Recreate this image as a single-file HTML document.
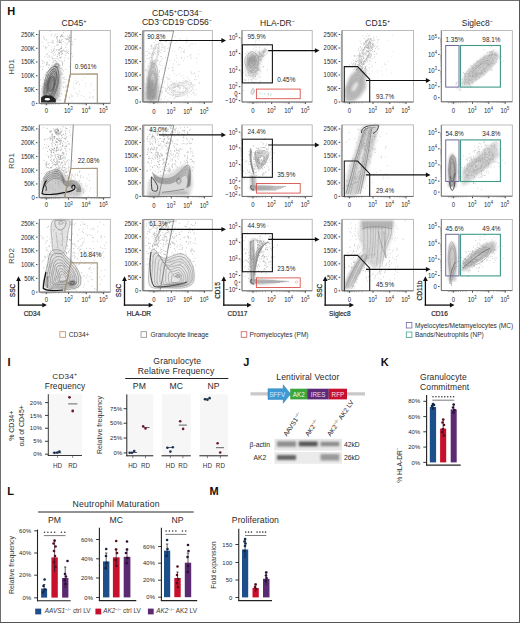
<!DOCTYPE html>
<html><head><meta charset="utf-8"><style>
html,body{margin:0;padding:0;background:#fff;}
body{width:520px;height:623px;overflow:hidden;}
svg{display:block;font-family:"Liberation Sans",sans-serif;}
</style></head><body>
<svg width="520" height="623" viewBox="0 0 520 623">
<defs><filter id="b3" x="-50%" y="-50%" width="200%" height="200%"><feGaussianBlur stdDeviation="0.3"/></filter><filter id="b6" x="-50%" y="-50%" width="200%" height="200%"><feGaussianBlur stdDeviation="0.6"/></filter><filter id="b8" x="-50%" y="-50%" width="200%" height="200%"><feGaussianBlur stdDeviation="0.8"/></filter><filter id="b9" x="-50%" y="-50%" width="200%" height="200%"><feGaussianBlur stdDeviation="0.9"/></filter><filter id="b10" x="-50%" y="-50%" width="200%" height="200%"><feGaussianBlur stdDeviation="1.0"/></filter><filter id="b12" x="-50%" y="-50%" width="200%" height="200%"><feGaussianBlur stdDeviation="1.2"/></filter><filter id="b13" x="-50%" y="-50%" width="200%" height="200%"><feGaussianBlur stdDeviation="1.3"/></filter><filter id="b14" x="-50%" y="-50%" width="200%" height="200%"><feGaussianBlur stdDeviation="1.4"/></filter><filter id="b15" x="-50%" y="-50%" width="200%" height="200%"><feGaussianBlur stdDeviation="1.5"/></filter><filter id="b16" x="-50%" y="-50%" width="200%" height="200%"><feGaussianBlur stdDeviation="1.6"/></filter><filter id="b18" x="-50%" y="-50%" width="200%" height="200%"><feGaussianBlur stdDeviation="1.8"/></filter></defs>
<rect x="0" y="0" width="520" height="623" fill="#fff"/>
<text x="7.3" y="14.9" font-size="11" text-anchor="start" fill="#111" font-weight="bold">H</text>
<text x="61.5" y="25.8" font-size="8.5" fill="#262626">CD45<tspan font-size="5.5" dy="-3.2">+</tspan></text>
<text x="177" y="15.7" font-size="8.5" fill="#262626" text-anchor="middle">CD45<tspan font-size="5.5" dy="-3.2">+</tspan><tspan dy="3.2">CD34</tspan><tspan font-size="5.5" dy="-3.2">−</tspan></text>
<text x="177" y="25.4" font-size="8.5" fill="#262626" text-anchor="middle">CD3<tspan font-size="5.5" dy="-3.2">−</tspan><tspan dy="3.2">CD19</tspan><tspan font-size="5.5" dy="-3.2">−</tspan><tspan dy="3.2">CD56</tspan><tspan font-size="5.5" dy="-3.2">−</tspan></text>
<text x="277.5" y="26.0" font-size="8.5" fill="#262626" text-anchor="middle">HLA-DR<tspan font-size="5.5" dy="-3.2">−</tspan></text>
<text x="377.8" y="26.0" font-size="8.5" fill="#262626" text-anchor="middle">CD15<tspan font-size="5.5" dy="-3.2">+</tspan></text>
<text x="477.3" y="26.0" font-size="8.5" fill="#262626" text-anchor="middle">Siglec8<tspan font-size="5.5" dy="-3.2">−</tspan></text>
<text x="14.2" y="66.9" font-size="7.9" text-anchor="middle" fill="#4a4a4a" transform="rotate(-90 14.2 66.9)">HD1</text>
<text x="14.2" y="161" font-size="7.9" text-anchor="middle" fill="#4a4a4a" transform="rotate(-90 14.2 161)">RD1</text>
<text x="14.2" y="256" font-size="7.9" text-anchor="middle" fill="#4a4a4a" transform="rotate(-90 14.2 256)">RD2</text>
<path d="M51.07 42.26h.01M60.23 36.93h.01M57 56.87h.01M43.62 66.51h.01M43.05 61.49h.01M43.96 38.17h.01M53.89 88.23h.01M45.47 47.18h.01M59.57 96.44h.01M58.16 58.97h.01M69.34 35.17h.01M66.04 51.69h.01M46.04 40.01h.01M50.64 87.5h.01M47.06 71.55h.01M59.89 57.32h.01M57.34 36.27h.01M43.67 46.01h.01M61.05 61.08h.01M50.8 71.82h.01M54.69 52.38h.01M64.24 79.53h.01M48.83 71.06h.01M56.71 91.51h.01M62.42 51.58h.01M69.44 40.03h.01M53.71 83.49h.01M46.26 65.25h.01M43.1 77.44h.01M63.41 70.97h.01M66.51 53.33h.01M61.47 72.42h.01M58.24 63.02h.01M65.52 96.24h.01M55.27 77.16h.01M43.7 79.7h.01M60.12 99.53h.01M65.01 51.35h.01M52.8 77.47h.01M42.63 63.4h.01M46.71 39.96h.01M43.65 84.24h.01M45.62 48.84h.01M52.95 91.26h.01M44.26 62.54h.01M57.38 92.07h.01M64.94 90.75h.01M49.8 60.24h.01M52.05 92.13h.01M68.82 42.26h.01M46.93 47.77h.01M48.53 64.98h.01M58.5 49.87h.01M42.11 60.49h.01M52.34 70.51h.01M68.69 78.95h.01M56.43 74h.01M60.93 35.67h.01M67.19 85.04h.01M66.49 86.26h.01M52.99 59.13h.01M44.9 75.13h.01M43.74 36.58h.01M47.85 43.04h.01M51.52 35.58h.01M42.01 42.29h.01M44.84 56.73h.01M42.71 91.45h.01M59.19 42.1h.01M49.06 55.62h.01M52.2 40.35h.01M65.77 99.53h.01M55.05 64.9h.01M44.4 38.95h.01M51.59 50h.01M65.21 42.98h.01M42.65 96.67h.01M56.79 41.97h.01M57.21 33.84h.01M56.79 98.54h.01M66.17 79.34h.01M49.31 56.94h.01M46.68 84.49h.01M56.91 84.98h.01M51.23 47.17h.01M64.72 98.97h.01M65.87 86.81h.01M64.91 82.31h.01M48.35 67.2h.01M51.96 33.97h.01" stroke="#a0a0a0" stroke-width="0.6" stroke-linecap="round" fill="none"/>
<path d="M49.84 94.63h.01M47.07 64.79h.01M60.72 36.49h.01M52.94 83.27h.01M53.31 42.72h.01M58.45 53.75h.01M56.3 49.61h.01M57.11 45.44h.01M61.93 74.5h.01M55.97 87.23h.01M54.03 89.35h.01M52.7 62.17h.01M57.14 36.58h.01M59.39 40.72h.01M52.61 80.59h.01M55.1 73.29h.01M47.64 75.23h.01M56.7 38.55h.01M62.28 65.81h.01M61.47 48.55h.01M54.18 48.58h.01M60.8 48.9h.01M53.64 79.7h.01M60.78 48.38h.01M51.07 56.77h.01M47.17 63.19h.01M65.27 55.13h.01M69.54 38.4h.01M48.97 89.83h.01M61.18 52.28h.01M47.2 89.81h.01M72 41.86h.01M50.82 69.63h.01M50.48 86.71h.01M57.43 70.16h.01M55.74 60.45h.01M62.71 36.39h.01M49.08 96.79h.01M66.37 39.44h.01M56.18 89.56h.01M46.95 92.28h.01M56.21 95.12h.01M61.77 44.03h.01M53.45 69.3h.01M47.76 89.12h.01M51.88 91.61h.01M57.78 78.13h.01M59.5 67.68h.01M49.46 95.11h.01M39.85 85.49h.01M58.17 71.78h.01M46.21 72.51h.01M59.5 42.42h.01M54.07 72.29h.01M60.84 51.87h.01M53.36 93.26h.01M48.08 83.37h.01M47.66 91.22h.01M53.38 66.39h.01M53.24 76.82h.01M60.74 68.53h.01M49.55 97.26h.01M49.85 97.86h.01M47.91 57.2h.01M53.09 41.09h.01M69.95 35.79h.01M61.18 42.85h.01M59.59 49.4h.01M60.75 41.54h.01M62.03 61.61h.01M46.81 96.33h.01M52.24 90.5h.01M52.98 53.26h.01M58.21 44.64h.01M48.09 92.18h.01M51.77 93.78h.01M69.56 37.47h.01M49.5 64.83h.01M45.65 92.89h.01M59.02 50.49h.01M51.76 78.66h.01M58.68 52.65h.01M52.82 90.05h.01M63.51 32.74h.01M63.89 36.99h.01M55.05 84.56h.01M55.7 63.89h.01M49.1 42.72h.01M57.48 39.76h.01M43.27 96.2h.01M55.38 79.4h.01M46.01 100.56h.01M68.47 53.44h.01M42.46 69.53h.01M52.21 70.51h.01M51.53 93.09h.01M50.08 80.57h.01M64.06 77.31h.01M56.65 37.27h.01M68.17 51.22h.01M60.64 57.84h.01M67.5 38.87h.01M64.33 51.34h.01M57.97 54.78h.01M54.18 91.45h.01M61.57 68.41h.01M51.07 89.69h.01M57.77 76.74h.01M68.39 41.09h.01M49.39 70.08h.01M55.33 80.43h.01M46.38 64.44h.01M55.25 84.04h.01M66.05 38.74h.01M60.56 51.53h.01M62.58 64.27h.01M57.71 42.07h.01M55.82 90.25h.01M45.81 47.08h.01M53.81 68.65h.01M57.22 37.21h.01M52.98 89.54h.01M45.41 92.63h.01M57.78 74.78h.01M57.97 67.99h.01M57.67 40.66h.01M72.41 56.21h.01M51.93 65.44h.01M69.98 40.95h.01M47.75 75.72h.01M67.35 52.65h.01M61.56 35.24h.01M62.32 53.94h.01M58.46 64.54h.01M67.21 39.42h.01M54.77 85.55h.01M57.77 70.98h.01M71.64 53.34h.01M65.12 38.36h.01M55.61 54.18h.01M51.61 99.9h.01M75.16 39.41h.01M66.11 44.95h.01M44.83 94.64h.01M52.71 74.08h.01M55.7 72.88h.01M51.32 93.48h.01M62.53 50.47h.01M70.82 63.97h.01M53.49 77.86h.01M46.24 54.68h.01M49.31 82.4h.01M68.58 39.25h.01M48.74 45.47h.01M49.54 77.16h.01M61.25 50.77h.01M44.5 98.14h.01M61.39 35.15h.01M41.92 88.88h.01M54.38 69.96h.01M62.08 53.34h.01M58.81 80.12h.01M61.75 51.07h.01M63.22 41.42h.01M60.84 74.39h.01M68.59 58.27h.01M57.2 68.96h.01M53.08 79.74h.01M50.04 31.15h.01M62.86 73.72h.01M69.26 37.9h.01M52.27 74.68h.01M44.88 80.37h.01M53.91 76.3h.01M58.86 78.07h.01M48.24 92.62h.01M61.17 57.13h.01M46.37 82.43h.01M48.15 74.23h.01M67.64 36.19h.01M59.53 52.81h.01M54.46 46.62h.01M56.17 66.44h.01M61.18 40.42h.01M51.15 73.2h.01M69.78 41.34h.01M63.53 49.93h.01M71.32 37.63h.01M55.34 34.61h.01M44.62 85.13h.01M57.94 73.83h.01M56.47 72.99h.01M53.45 90.53h.01M55.96 61.36h.01M67.56 43.39h.01M49.1 78.91h.01M50.33 69.74h.01M56.94 58.56h.01M59.06 50.15h.01M57.17 93.58h.01M44.97 93.02h.01M51.8 90.4h.01M62.79 63.75h.01M63.39 87.12h.01M59.69 53.3h.01M62.51 36.13h.01M61.58 46.34h.01M59.52 88.65h.01M65.84 47.62h.01M49.51 80.74h.01M51.7 98.16h.01M59.75 42.45h.01M42.67 86.93h.01M62.29 62.71h.01M57.93 90.71h.01M60.73 82.23h.01M52.86 76.23h.01M58.14 95.54h.01M64.84 57.93h.01M45.93 97.21h.01M52.55 57.96h.01M50.24 82.8h.01M48.08 96.78h.01M59.25 60.73h.01M55.02 58.55h.01M51.41 89.4h.01M60.7 42.46h.01M57.47 56.33h.01M47.48 53.96h.01M59.51 39.83h.01M55.38 72.09h.01M56.71 62.24h.01M45.63 82.3h.01M43.3 86.41h.01M55.1 96.44h.01M60.18 42.04h.01M56.05 50.64h.01M50.58 98.33h.01M61.43 54.35h.01M62.36 69.69h.01M40.75 79.79h.01M59.96 100.57h.01M66.88 50.69h.01M63.64 82.6h.01M52.82 58.81h.01M58.94 41.1h.01M51.96 69.38h.01M64.29 60.56h.01M53.67 90.62h.01M49.31 88.54h.01M51.32 52.41h.01M53.36 62.01h.01M61.64 48.28h.01M54.27 36.32h.01M61.42 93.92h.01M52.61 42.69h.01M59.34 93.62h.01M60.68 72.03h.01M50.36 77.9h.01M69.88 66.71h.01M45.41 95.16h.01M52.87 51.56h.01M71.04 44.69h.01M52.41 80.72h.01M42.93 96.65h.01M50.91 68.1h.01M56.32 82.77h.01M65.86 69.34h.01M49.69 93.77h.01M45.32 74.56h.01M72.84 44.2h.01M54.79 80.18h.01M56.46 72.45h.01M61.21 47.76h.01M53.26 76.68h.01M53.62 50.57h.01M56.98 44.73h.01M55.46 84.61h.01M59.8 54.05h.01M56 77.7h.01M63.07 78.09h.01M61.27 36.81h.01M62.71 34.6h.01M60.2 58.16h.01M60.08 74.93h.01M46.81 62.9h.01M45.65 87.77h.01M40.92 66.72h.01M58.59 73.31h.01M53.91 49.88h.01M53.92 55.46h.01M53.63 68.29h.01M59.49 55.56h.01M55.14 68.97h.01M44.01 83.71h.01M68.6 36.98h.01M50.06 87.53h.01M54.29 60.51h.01M47.39 62.17h.01M62.12 39.52h.01" stroke="#8a8a8a" stroke-width="0.6" stroke-linecap="round" fill="none"/>
<path d="M77.17 96.07h.01M68.79 101.61h.01M76.02 78.42h.01M73.51 86.99h.01M65.41 87.46h.01M78.04 94.46h.01M75.92 83.63h.01M71.96 95.54h.01M94.14 90.18h.01M71.79 97.04h.01M77.15 82.3h.01M69.01 96.42h.01M90.1 92.86h.01M79.54 91.05h.01M72.01 101.1h.01M75.95 92.97h.01M90.38 97.4h.01M79.51 84.36h.01M82 80.13h.01M90.85 85.87h.01M91.37 83.69h.01M76.66 83.34h.01M78.21 81.65h.01M65.08 95.04h.01M73.72 83.12h.01M74.36 88.99h.01M78.28 92.93h.01M85.44 86.06h.01M93.79 98.36h.01M66.77 97.7h.01M93.08 96.6h.01M69.35 97.78h.01M84.63 77.37h.01M65.36 100.79h.01M85.33 83.25h.01M68.15 80.57h.01M72.24 96.41h.01M75.74 80.82h.01M93.03 96.79h.01M70.21 99.28h.01M83.86 96.53h.01M85.72 99.35h.01M89.43 97.97h.01M71.12 94.32h.01M81.45 95.55h.01" stroke="#b0b0b0" stroke-width="0.56" stroke-linecap="round" fill="none"/>
<path d="M42 101 L42.5 90 L46 78 L51 68 L57 63 L60.5 70 L61 84 L59 96 L57 101 Z" fill="#8f8f8f" fill-opacity="0.7" filter="url(#b14)"/>
<path d="M57.84 85.41 L56.59 89.52 L55.16 93.16 L53.67 96.45 L52.07 99.34 L50.4 101.42 L48.78 102.3 L47.36 102.07 L46.14 101.13 L45.08 99.66 L44.25 97.49 L43.8 94.49 L43.76 90.85 L44.05 86.85 L44.62 82.6 L45.55 78.21 L46.92 74.1 L48.59 70.87 L50.33 68.78 L51.96 67.53 L53.48 66.73 L54.94 66.38 L56.28 66.82 L57.37 68.22 L58.19 70.44 L58.75 73.3 L58.98 76.85 L58.69 81.02Z" fill="none" stroke="#3a3a3a" stroke-width="0.5" stroke-opacity="1.0" stroke-linejoin="round"/>
<path d="M56.75 85.18 L55.8 88.71 L54.6 91.87 L53.29 94.54 L51.92 96.61 L50.56 97.86 L49.31 98.27 L48.19 98.15 L47.13 97.77 L46.11 97.02 L45.28 95.49 L44.85 92.99 L44.89 89.8 L45.28 86.36 L45.91 82.87 L46.74 79.43 L47.84 76.22 L49.13 73.55 L50.49 71.53 L51.84 70.06 L53.17 69.1 L54.41 68.88 L55.44 69.64 L56.18 71.25 L56.7 73.32 L57.11 75.63 L57.37 78.33 L57.29 81.58Z" fill="none" stroke="#3a3a3a" stroke-width="0.5" stroke-opacity="1.0" stroke-linejoin="round"/>
<path d="M55.19 84.85 L54.56 87.45 L53.81 90.03 L52.87 92.41 L51.79 94.32 L50.66 95.7 L49.53 96.59 L48.45 96.92 L47.52 96.45 L46.84 95.15 L46.44 93.24 L46.23 91.04 L46.18 88.62 L46.37 85.93 L46.88 83.08 L47.68 80.39 L48.63 78.05 L49.61 75.99 L50.64 74.1 L51.73 72.51 L52.85 71.51 L53.91 71.23 L54.87 71.59 L55.68 72.55 L56.25 74.21 L56.45 76.57 L56.24 79.36 L55.76 82.18Z" fill="none" stroke="#3a3a3a" stroke-width="0.5" stroke-opacity="1.0" stroke-linejoin="round"/>
<path d="M54.5 84.7 L53.97 86.84 L53.36 89 L52.61 91.13 L51.71 92.97 L50.73 94.15 L49.8 94.55 L49 94.37 L48.3 93.83 L47.71 92.92 L47.31 91.54 L47.16 89.73 L47.22 87.67 L47.42 85.51 L47.76 83.27 L48.28 81.01 L49 78.92 L49.84 77.16 L50.73 75.7 L51.64 74.42 L52.6 73.44 L53.52 73.09 L54.28 73.59 L54.79 74.82 L55.08 76.47 L55.2 78.33 L55.16 80.36 L54.92 82.52Z" fill="none" stroke="#3a3a3a" stroke-width="0.5" stroke-opacity="1.0" stroke-linejoin="round"/>
<path d="M54.2 84.64 L53.69 86.55 L53.06 88.31 L52.34 89.77 L51.59 90.78 L50.86 91.34 L50.19 91.67 L49.52 91.91 L48.86 91.93 L48.28 91.48 L47.89 90.43 L47.72 88.93 L47.73 87.19 L47.9 85.31 L48.24 83.37 L48.76 81.5 L49.4 79.85 L50.1 78.45 L50.81 77.23 L51.56 76.24 L52.3 75.68 L52.96 75.7 L53.5 76.21 L53.94 76.99 L54.32 77.94 L54.61 79.17 L54.71 80.77 L54.56 82.66Z" fill="none" stroke="#3a3a3a" stroke-width="0.5" stroke-opacity="1.0" stroke-linejoin="round"/>
<path d="M53.66 84.52 L53.3 86.15 L52.77 87.62 L52.15 88.8 L51.52 89.69 L50.91 90.31 L50.33 90.61 L49.81 90.53 L49.38 90.17 L48.99 89.66 L48.63 88.98 L48.36 88.02 L48.28 86.69 L48.43 85.1 L48.76 83.48 L49.2 81.95 L49.7 80.54 L50.27 79.29 L50.88 78.33 L51.49 77.72 L52.07 77.4 L52.62 77.3 L53.13 77.47 L53.54 78.03 L53.79 78.98 L53.89 80.19 L53.9 81.51 L53.85 82.95Z" fill="none" stroke="#3a3a3a" stroke-width="0.5" stroke-opacity="1.0" stroke-linejoin="round"/>
<ellipse cx="50.5" cy="84" rx="2.2" ry="8" fill="#555" fill-opacity="0.6" transform="rotate(12 50.5 84)" filter="url(#b12)"/>
<path d="M59.81 65.5 L59.7 65.97 L59.44 66.4 L59.07 66.77 L58.62 67.06 L58.09 67.25 L57.54 67.32 L57 67.32 L56.46 67.31 L55.9 67.26 L55.33 67.11 L54.86 66.81 L54.56 66.4 L54.4 65.96 L54.35 65.5 L54.4 65.04 L54.59 64.61 L54.95 64.24 L55.4 63.96 L55.9 63.74 L56.43 63.58 L57 63.52 L57.57 63.59 L58.07 63.78 L58.52 64.03 L58.96 64.3 L59.37 64.62 L59.69 65.03Z" fill="none" stroke="#555" stroke-width="0.4" stroke-opacity="1.0" stroke-linejoin="round"/>
<path d="M58.43 65.5 L58.41 65.75 L58.35 66 L58.2 66.24 L57.97 66.44 L57.68 66.59 L57.35 66.69 L57 66.75 L56.64 66.73 L56.3 66.62 L56.02 66.44 L55.79 66.24 L55.59 66.02 L55.45 65.77 L55.42 65.5 L55.51 65.24 L55.68 65.01 L55.87 64.81 L56.08 64.61 L56.33 64.44 L56.65 64.32 L57 64.27 L57.36 64.28 L57.72 64.35 L58.05 64.49 L58.29 64.71 L58.42 64.97 L58.44 65.25Z" fill="none" stroke="#555" stroke-width="0.4" stroke-opacity="1.0" stroke-linejoin="round"/>
<path d="M41 102.6 L41.2 97.2 L45 95.2 L51.5 95.6 L55.8 99 L55.8 102.6 Z" fill="#1a1a1a" fill-opacity="0.95" filter="url(#b6)"/>
<ellipse cx="47.3" cy="99.2" rx="2.8" ry="1.2" fill="#fff" fill-opacity="1.0" transform="rotate(0 47.3 99.2)" filter="url(#b3)"/>
<path d="M156.17 73.96h.01M154.17 91.93h.01M157.61 70.75h.01M158.53 48.33h.01M147.96 72.03h.01M150.89 74.45h.01M154.01 60.31h.01M151.3 46.72h.01M146.28 70.43h.01M154.76 64.64h.01M148.87 77.68h.01M149.68 74.35h.01M156.24 49.04h.01M151.92 83.82h.01M154.77 60.4h.01M156.04 63.53h.01M147.43 97.09h.01M153.24 81.97h.01M151.12 44.92h.01M145.37 61.36h.01M149.45 58.16h.01M159.24 72.52h.01M158.92 91.26h.01M151.3 75.69h.01M155.23 65.33h.01M153.39 72.14h.01M150.21 98.23h.01M160.27 65.31h.01M149.32 71.36h.01M156.05 61.5h.01M157.39 61.14h.01M152.42 96.75h.01M153.05 84.76h.01M150.32 98.28h.01M145.38 93.1h.01M156.02 74.49h.01M151.47 99.34h.01M159.26 51.15h.01M153.49 48.15h.01M149 77.29h.01M152.76 53.28h.01M152.11 62.55h.01M145.93 51.63h.01M156.87 97.45h.01M153.87 63.03h.01M154.35 64.68h.01M150.68 57.15h.01M155.87 51.44h.01M159.48 62.9h.01M152.81 98.86h.01M150.29 81.45h.01M157.53 60.53h.01M158.84 54.3h.01M158.74 43.56h.01M148.38 89.23h.01M154.31 53.06h.01M144.06 84.19h.01M151.86 45.81h.01M151.64 90.02h.01M149.17 77.2h.01M152.2 97.28h.01M145.6 94.09h.01M157.06 79.7h.01M158.62 97.19h.01M153.22 83.1h.01M155.23 44.18h.01M150.8 98.38h.01M156.57 96.35h.01M154.01 42.63h.01M153.43 64.86h.01M151.74 63.74h.01M152.6 61.17h.01M165.29 41.66h.01M149.73 86.05h.01M147.64 94.93h.01M156.12 62.56h.01M161.19 43.23h.01M154.07 64.11h.01M153.63 92.9h.01M157.38 87.95h.01M155.33 88.96h.01M158.3 87.97h.01M154.61 74.61h.01M152.23 47.98h.01M159.35 71.46h.01M158.6 86.63h.01M155.4 48.92h.01M153.25 90.19h.01M154.85 73.1h.01M152.91 94.69h.01M147.85 87.13h.01M154.71 88.88h.01M156.61 44.99h.01M162.76 45.9h.01M161.58 99.02h.01M159.01 91.55h.01M153.92 73.4h.01M156.55 66.12h.01M146.72 87.85h.01M151.65 63.63h.01M160.85 56.57h.01M158.62 86.82h.01M155.04 96h.01M157.9 52.4h.01M155.32 70.8h.01M152.89 89.61h.01M159.14 64.66h.01M151.71 72.58h.01M148.59 49.1h.01M152.87 79.19h.01M145.77 69.52h.01M164.44 68.87h.01M153.98 96.29h.01M157.06 98.75h.01M153.97 63.43h.01M162.77 58.38h.01M149.2 92.56h.01M156.3 84.55h.01M160.95 49.97h.01M161.03 56.67h.01M152.87 73.39h.01M158.73 76.4h.01M152.28 81.47h.01M160.61 52.56h.01M155.78 68.12h.01M148.57 83.6h.01M153.62 96.78h.01M159.96 99.86h.01M146.94 58.81h.01M161.97 47.27h.01M155.68 83.45h.01M156.17 60.03h.01M155.89 84.75h.01M152.88 71.85h.01M154.62 91.95h.01M155.47 86.36h.01M151.26 48.77h.01M151.74 57.54h.01M151.68 62.95h.01M155.57 70.59h.01M148.46 98.95h.01M157.99 74.46h.01M152.38 84.52h.01M157.86 74.36h.01M152.9 74.06h.01M165.5 57.52h.01M149.27 79.92h.01M148.29 66.39h.01M149.34 53.08h.01M143.73 91.47h.01M151.06 55.2h.01M152.88 72.43h.01M152.53 61.4h.01M153.16 83.55h.01M152.3 77.47h.01M150.47 73.93h.01M146.71 93.15h.01M158.67 79.11h.01M159.1 42.74h.01M149.7 96.57h.01M155.74 46.3h.01M153.58 67.86h.01M149.61 79.95h.01M153.27 68.98h.01M148.24 77.75h.01M145.66 70.74h.01M155.64 40.27h.01M153.01 80.4h.01M161.87 69.04h.01M151.38 39.12h.01" stroke="#aaaaaa" stroke-width="0.6" stroke-linecap="round" fill="none"/>
<path d="M153.6 54.27h.01M173.14 67.81h.01M155.35 47.49h.01M179.66 74h.01M164.43 98.61h.01M180.01 38.67h.01M167.63 85.62h.01M161.87 79.51h.01M145.22 55.18h.01M191.32 72.93h.01M181.75 48.39h.01M172.38 70.85h.01M159.63 76.75h.01M174.23 98.82h.01M176.6 61.9h.01M151.68 45.88h.01M186.77 42.72h.01M150.51 46.74h.01M173.74 87.86h.01M178.72 86.82h.01M148.42 36.79h.01M187.38 56.34h.01M184.35 58.29h.01M154.32 52.8h.01M150.47 92.94h.01M177.02 57.98h.01M169.74 60.3h.01M148.01 92.1h.01M177.05 96.46h.01M169.18 75.07h.01M158.71 38.77h.01M196.2 89.85h.01M162.31 92.63h.01M189.87 55.13h.01M178.14 96.48h.01M172.26 95.83h.01M158.36 60.56h.01M184.52 49.95h.01M162 91.14h.01M171.64 85.94h.01M158.39 46.93h.01M164.71 47.75h.01M198.44 54.31h.01M175.88 43.24h.01M174.36 60.29h.01M167.18 40.12h.01M151.78 88.03h.01M164.32 51.43h.01M155.52 53.87h.01M158.04 38.2h.01M181.54 57.51h.01M153.57 80.47h.01M150.09 52.99h.01M190.93 44.05h.01M169.38 88.69h.01M189.27 46.03h.01M164.41 81.52h.01M165.73 96.38h.01M156.44 95.91h.01M172.77 50.32h.01M169.9 44.25h.01M183.86 52.43h.01M194.48 73.02h.01M165.24 51.51h.01M178.45 49.39h.01M192.98 43.74h.01M173.22 70.18h.01M159.87 84.62h.01M166.16 77.42h.01M176.22 55.58h.01M166.45 41.42h.01M154.74 89.61h.01M162.66 77.75h.01M150.99 71.41h.01M164.88 67.52h.01M161.33 40.15h.01M162.12 50.26h.01M151.94 81.15h.01M160.53 61.41h.01M194.99 84.82h.01M193.55 90.26h.01M152.27 53.42h.01M146.63 78.82h.01M181.5 58.14h.01M167.69 77.52h.01M183.46 51.65h.01M191.57 58.18h.01M179.59 47.44h.01M151.34 93.5h.01M185.37 80.89h.01M147.22 38.52h.01M153.91 48.48h.01M161.67 59.99h.01M147.16 55.59h.01M180.11 47.32h.01M191.17 71.92h.01M184.41 52.05h.01M168.92 79.11h.01M164.2 36.06h.01M190.89 84.92h.01M160.75 38.71h.01M191.98 74.27h.01M147.6 51.4h.01M151.12 85.86h.01M156.56 93.61h.01M186.22 41.43h.01M183.21 60.8h.01M186.12 88.21h.01M160.46 41.67h.01M197.05 62.71h.01M196.16 79.57h.01M185.62 88.29h.01M179.55 64.53h.01M147.99 79.99h.01M168.56 68.25h.01M196.05 44.04h.01M186.91 38.75h.01M183.65 86.76h.01M159.37 70.42h.01M198.32 76.16h.01M174.92 51.73h.01M148.27 58.54h.01M167.64 48.69h.01M162.08 44.6h.01M183.88 78.23h.01M158.08 51.23h.01M173.35 64.04h.01M196.47 58.14h.01M161.47 91.74h.01M152.8 71.49h.01M163.35 87.37h.01M175.15 83.91h.01M154.31 77.99h.01M177.93 65.05h.01M187.14 88.36h.01M151.3 54.23h.01M164.83 49.01h.01M148.32 53.7h.01M155.84 80.2h.01M169.64 43.12h.01M162.85 65.53h.01M164.96 46.59h.01M148.95 36.68h.01M199.57 83.28h.01M149.62 81.18h.01M198.91 71.51h.01M150.98 66.8h.01M168.88 47.96h.01M174.87 36.52h.01M195.58 76.6h.01M179.53 94.92h.01M180.89 51.84h.01M158.53 44.74h.01M146.52 84.79h.01M191.18 54.67h.01M155.22 76.2h.01M191.51 94.38h.01M154.27 85.43h.01M190.67 82.77h.01M162.97 47.63h.01M190.39 56.17h.01M165.27 70.72h.01M165.31 88.38h.01M158.17 38.6h.01M176.18 75.58h.01M190.09 80.45h.01M194.79 95.53h.01M172.19 67.47h.01M153.66 54.87h.01M176.96 41.05h.01" stroke="#a8a8a8" stroke-width="0.56" stroke-linecap="round" fill="none"/>
<path d="M145 101 L146 85 L148 70 L151 60 L155 62 L158 78 L160 92 L159 101 Z" fill="#b5b5b5" fill-opacity="0.7" filter="url(#b14)"/>
<path d="M146 100 L147 86 L150 78 L154 82 L156 96 L155 100 Z" fill="#666" fill-opacity="0.45" filter="url(#b14)"/>
<path d="M157.25 82.33 L156.92 86.02 L156.46 89.78 L155.73 93.32 L154.75 96.23 L153.62 98.41 L152.43 99.95 L151.19 100.71 L150 100.28 L149.01 98.54 L148.26 95.89 L147.7 92.83 L147.26 89.49 L147.06 85.71 L147.24 81.63 L147.81 77.73 L148.61 74.35 L149.46 71.34 L150.37 68.48 L151.4 65.95 L152.57 64.22 L153.79 63.55 L154.98 63.8 L156.11 64.91 L157.05 67.08 L157.64 70.42 L157.76 74.47 L157.56 78.55Z" fill="none" stroke="#888" stroke-width="0.4" stroke-opacity="1.0" stroke-linejoin="round"/>
<path d="M156.35 82.27 L156.06 85.24 L155.71 88.3 L155.19 91.44 L154.43 94.24 L153.47 96.09 L152.44 96.76 L151.48 96.58 L150.6 95.94 L149.79 94.83 L149.13 93.04 L148.7 90.58 L148.48 87.76 L148.4 84.8 L148.45 81.72 L148.71 78.55 L149.23 75.57 L149.94 73.04 L150.74 70.88 L151.6 68.89 L152.56 67.23 L153.59 66.47 L154.55 67.01 L155.31 68.7 L155.86 70.99 L156.25 73.53 L156.49 76.3 L156.51 79.26Z" fill="none" stroke="#888" stroke-width="0.4" stroke-opacity="1.0" stroke-linejoin="round"/>
<path d="M156 82.24 L155.69 84.9 L155.23 87.37 L154.62 89.43 L153.9 90.85 L153.16 91.64 L152.46 92.15 L151.76 92.64 L151.01 92.93 L150.27 92.55 L149.67 91.27 L149.26 89.3 L149.03 86.96 L148.95 84.42 L149.06 81.76 L149.39 79.17 L149.89 76.87 L150.48 74.91 L151.11 73.17 L151.79 71.67 L152.54 70.76 L153.29 70.69 L153.96 71.31 L154.56 72.26 L155.13 73.39 L155.65 74.89 L156.02 76.97 L156.13 79.53Z" fill="none" stroke="#888" stroke-width="0.4" stroke-opacity="1.0" stroke-linejoin="round"/>
<path d="M155.31 82.2 L155.14 84.4 L154.75 86.43 L154.23 88.06 L153.65 89.29 L153.06 90.18 L152.47 90.64 L151.9 90.6 L151.38 90.19 L150.89 89.63 L150.39 88.91 L149.93 87.8 L149.63 86.11 L149.57 84 L149.73 81.81 L150.01 79.74 L150.37 77.81 L150.81 76.09 L151.35 74.74 L151.94 73.87 L152.53 73.37 L153.12 73.12 L153.7 73.2 L154.23 73.82 L154.63 75.03 L154.9 76.58 L155.11 78.27 L155.26 80.11Z" fill="none" stroke="#888" stroke-width="0.4" stroke-opacity="1.0" stroke-linejoin="round"/>
<path d="M158.15 55.67 L157.34 58.27 L156.45 60.27 L155.64 61.74 L154.9 63.21 L154.11 64.91 L153.25 66.42 L152.42 67.13 L151.77 66.85 L151.29 65.87 L150.96 64.39 L150.85 62.37 L151.05 59.8 L151.55 57.02 L152.18 54.4 L152.81 51.94 L153.48 49.48 L154.26 47.18 L155.12 45.51 L155.93 44.69 L156.64 44.35 L157.32 44.06 L158.03 43.88 L158.65 44.31 L159.03 45.63 L159.12 47.68 L159.01 50.12 L158.71 52.83Z" fill="none" stroke="#999" stroke-width="0.35" stroke-opacity="1.0" stroke-linejoin="round"/>
<path d="M157 55.42 L156.45 57.03 L155.96 58.48 L155.47 59.93 L154.92 61.26 L154.34 62.31 L153.76 63.07 L153.17 63.6 L152.62 63.73 L152.22 63.14 L152.1 61.74 L152.24 59.89 L152.5 58.04 L152.75 56.32 L153.02 54.58 L153.42 52.79 L153.94 51.14 L154.51 49.8 L155.08 48.66 L155.66 47.62 L156.25 46.86 L156.78 46.63 L157.19 46.98 L157.51 47.66 L157.78 48.54 L157.95 49.77 L157.89 51.49 L157.53 53.52Z" fill="none" stroke="#999" stroke-width="0.35" stroke-opacity="1.0" stroke-linejoin="round"/>
<path d="M192.85 87.88 L192.35 89.43 L191.25 90.89 L189.58 92.16 L187.69 93.27 L185.73 94.37 L183.45 95.49 L180.64 96.3 L177.58 96.46 L174.78 95.98 L172.38 95.18 L170.15 94.29 L168.09 93.23 L166.66 91.84 L166.37 90.19 L167.11 88.55 L168.39 87.05 L169.93 85.68 L171.86 84.48 L174.25 83.6 L176.85 83.06 L179.45 82.66 L182.21 82.2 L185.35 81.86 L188.56 82.06 L191.1 83.04 L192.48 84.57 L192.92 86.25Z" fill="none" stroke="#aaa" stroke-width="0.35" stroke-opacity="1.0" stroke-linejoin="round"/>
<path d="M189.58 88.16 L189.05 89.32 L188.58 90.44 L187.81 91.57 L186.46 92.59 L184.65 93.36 L182.63 93.95 L180.47 94.43 L178.16 94.69 L175.85 94.54 L173.87 93.97 L172.29 93.14 L170.91 92.22 L169.73 91.18 L169.14 89.95 L169.56 88.63 L170.9 87.47 L172.56 86.55 L174.12 85.74 L175.65 84.92 L177.44 84.18 L179.53 83.68 L181.8 83.45 L184.16 83.44 L186.55 83.69 L188.63 84.37 L189.87 85.5 L190.05 86.86Z" fill="none" stroke="#aaa" stroke-width="0.35" stroke-opacity="1.0" stroke-linejoin="round"/>
<path d="M187.93 88.31 L187.76 89.27 L187.44 90.25 L186.67 91.2 L185.34 91.96 L183.68 92.45 L181.99 92.75 L180.35 92.95 L178.69 93.04 L177.07 92.91 L175.62 92.55 L174.29 92.07 L172.96 91.5 L171.71 90.76 L170.99 89.79 L171.21 88.69 L172.29 87.7 L173.73 86.93 L175.15 86.31 L176.55 85.76 L178.05 85.33 L179.66 85.1 L181.29 85.03 L182.97 85.03 L184.75 85.15 L186.4 85.56 L187.53 86.33 L187.96 87.31Z" fill="none" stroke="#aaa" stroke-width="0.35" stroke-opacity="1.0" stroke-linejoin="round"/>
<path d="M186.02 88.47 L186.05 89.21 L185.97 90 L185.49 90.81 L184.47 91.48 L183.08 91.9 L181.64 92.08 L180.27 92.14 L178.99 92.11 L177.8 91.94 L176.76 91.63 L175.83 91.24 L174.85 90.83 L173.85 90.31 L173.15 89.6 L173.12 88.76 L173.79 87.96 L174.85 87.3 L175.98 86.77 L177.13 86.31 L178.39 85.97 L179.72 85.83 L181.01 85.87 L182.25 86 L183.48 86.18 L184.64 86.51 L185.49 87.05 L185.9 87.74Z" fill="none" stroke="#aaa" stroke-width="0.35" stroke-opacity="1.0" stroke-linejoin="round"/>
<path d="M175.29 85.03h.01M154.22 96.94h.01M180.52 88.57h.01M172.22 90.28h.01M177.81 87.58h.01M187.14 76.69h.01M179.54 81.58h.01M176.18 96.98h.01M167.61 88.88h.01M173.13 94.21h.01M167.33 79.71h.01M182.6 85.29h.01M175.83 94.59h.01M169.26 87.06h.01M179.74 90.16h.01M173.92 94.6h.01M198.99 82.67h.01M194.09 73.46h.01M191.1 84.16h.01M179.03 85.88h.01M170.92 81.56h.01M175.29 95.92h.01M188.56 84.49h.01M172.42 84.7h.01M168.04 99.9h.01M184.4 87.78h.01M172.51 82.82h.01M191.15 90.7h.01M169.74 94.92h.01M167.99 93.14h.01M168.53 86.92h.01M183.05 89.8h.01M186.95 81.87h.01M194.09 93.56h.01M178.28 90.67h.01M170.48 88.17h.01M165.52 90.27h.01M180.97 95.4h.01M187.66 91.38h.01M174.38 87.2h.01M174.94 89.72h.01M160.27 94.98h.01M162.69 87.15h.01M177.8 85.04h.01M193.73 85.22h.01M193.88 92.6h.01M173.6 90.95h.01M190.08 84.37h.01M178.39 84.7h.01M178.27 85.9h.01M179.59 93.6h.01M191.35 86.9h.01M180.61 92.61h.01M174.39 82.35h.01M187.81 81.18h.01M186.07 81.25h.01M194.56 79.6h.01M187.27 95.42h.01M170.05 97.76h.01M168.76 79.04h.01M185.42 91.04h.01M174.05 73.87h.01M177.23 86.33h.01M174.16 86.85h.01M160.53 87.16h.01M196.35 94.42h.01M173.99 84.42h.01M182.62 93.53h.01M183.94 80.37h.01M179.65 88.58h.01M192.63 92.9h.01M183.95 94.24h.01M175.48 97.3h.01M174.27 90.83h.01M186 81.56h.01M169.92 78.91h.01M179.52 87.47h.01M175.29 91.28h.01M157.86 90.69h.01M178.62 86.37h.01M186.95 96.93h.01M173.01 83.24h.01M172.33 89.34h.01M182.88 82.31h.01M186.68 80.82h.01M186.21 89.33h.01M184.14 99.69h.01M175.36 87.41h.01M183.22 92.29h.01M165.5 91.36h.01M171.46 92.59h.01M191.06 86.46h.01M177.13 89.19h.01M150.52 96.34h.01M183.47 88.19h.01M173.65 84.36h.01M177.27 95.16h.01M178.11 95.82h.01M153.18 88.81h.01M180.6 87.56h.01M161.69 86.43h.01M188.85 78.96h.01M167.7 83.07h.01M173.27 92.4h.01M182.02 75.63h.01M191.4 82.67h.01M173.74 98.3h.01M176.23 81.04h.01M171.34 84.71h.01M168.14 87.45h.01" stroke="#b0b0b0" stroke-width="0.56" stroke-linecap="round" fill="none"/>
<path d="M245 66 C245 55 250 52 255 53 C262 52 265 48 267 49 C264 56 260 62 259 70 C258 76 254 79 250 77 C246 74 245 70 245 66 Z" fill="#b8b8b8" fill-opacity="0.6" filter="url(#b14)"/>
<path d="M258.5 62 L258.36 64.46 L258.06 66.94 L257.41 69.3 L256.3 71.13 L254.89 72.14 L253.41 72.46 L252 72.4 L250.64 72.07 L249.35 71.3 L248.21 70.04 L247.22 68.45 L246.27 66.67 L245.38 64.56 L244.83 62 L244.93 59.27 L245.69 56.86 L246.83 55.02 L248.05 53.62 L249.29 52.48 L250.61 51.72 L252 51.54 L253.36 51.91 L254.68 52.59 L255.98 53.55 L257.19 54.99 L258.08 57.05 L258.48 59.5Z" fill="none" stroke="#777" stroke-width="0.4" stroke-opacity="1.0" stroke-linejoin="round"/>
<path d="M257.28 62 L257.42 64.09 L257.06 66.12 L256.28 67.78 L255.31 69.02 L254.28 70.01 L253.18 70.73 L252 70.95 L250.85 70.54 L249.81 69.68 L248.89 68.6 L248.05 67.33 L247.4 65.75 L247.07 63.91 L247.04 62 L247.17 60.14 L247.36 58.22 L247.72 56.22 L248.44 54.44 L249.52 53.28 L250.77 52.9 L252 53.07 L253.14 53.57 L254.17 54.39 L255.03 55.57 L255.7 57.01 L256.25 58.53 L256.81 60.14Z" fill="none" stroke="#777" stroke-width="0.4" stroke-opacity="1.0" stroke-linejoin="round"/>
<path d="M255.94 62 L256.14 63.6 L256.05 65.3 L255.55 66.79 L254.77 67.88 L253.88 68.59 L252.95 69.02 L252 69.12 L251.08 68.79 L250.27 68.07 L249.57 67.16 L248.91 66.16 L248.32 65 L247.92 63.58 L247.84 62 L248.04 60.47 L248.36 59.04 L248.75 57.61 L249.28 56.23 L250.05 55.16 L251.01 54.64 L252 54.66 L252.94 55.04 L253.79 55.69 L254.52 56.65 L255.04 57.9 L255.37 59.25 L255.64 60.59Z" fill="none" stroke="#777" stroke-width="0.4" stroke-opacity="1.0" stroke-linejoin="round"/>
<path d="M255.11 62 L255.08 63.19 L254.87 64.34 L254.55 65.44 L254.12 66.49 L253.53 67.39 L252.8 67.9 L252 67.91 L251.25 67.54 L250.57 67.02 L249.92 66.42 L249.34 65.6 L248.94 64.5 L248.79 63.24 L248.84 62 L248.97 60.83 L249.16 59.69 L249.49 58.61 L249.97 57.69 L250.57 56.98 L251.25 56.41 L252 55.99 L252.82 55.92 L253.6 56.39 L254.18 57.37 L254.54 58.57 L254.78 59.73 L254.98 60.85Z" fill="none" stroke="#777" stroke-width="0.4" stroke-opacity="1.0" stroke-linejoin="round"/>
<path d="M254.68 62 L254.67 63.03 L254.5 64.04 L254.12 64.87 L253.61 65.41 L253.07 65.75 L252.54 66.02 L252 66.23 L251.43 66.26 L250.85 66.03 L250.32 65.57 L249.81 64.95 L249.38 64.14 L249.12 63.11 L249.13 62 L249.38 60.99 L249.74 60.16 L250.1 59.43 L250.46 58.73 L250.9 58.12 L251.42 57.73 L252 57.6 L252.59 57.64 L253.18 57.85 L253.74 58.3 L254.19 59.05 L254.46 59.99 L254.6 60.99Z" fill="none" stroke="#777" stroke-width="0.4" stroke-opacity="1.0" stroke-linejoin="round"/>
<ellipse cx="251.8" cy="61" rx="2.4" ry="4.2" fill="#777" fill-opacity="0.6" transform="rotate(0 251.8 61)" filter="url(#b13)"/>
<path d="M256.62 67.71h.01M248.15 64.16h.01M252.01 70.51h.01M250.76 67.61h.01M262.81 66.57h.01M247.39 65.89h.01M249.76 60.18h.01M253.38 67.02h.01M250.38 70.98h.01M254.05 52.74h.01M257.7 61.63h.01M259.72 59.44h.01M255.23 67.16h.01M245.6 75.04h.01M242.7 70.2h.01M257.42 69.12h.01M256.93 60.34h.01M252.61 65.9h.01M253.93 70.37h.01M253.08 57.86h.01M249.72 67.03h.01M247.03 51.95h.01M251.88 58.95h.01M255.72 41.12h.01M251.76 61.58h.01M259.64 47.8h.01M250.84 67.78h.01M253.52 74.59h.01M259.57 55.95h.01M256.51 61.68h.01M246.9 76.39h.01M251.3 56.2h.01M252.35 56.4h.01M257.19 68.08h.01M259.01 68.67h.01M248.51 72.41h.01M250.59 59.51h.01M252.15 64.19h.01M259.57 59.83h.01M254.71 64.06h.01M248.68 53.61h.01M251.35 67.27h.01M253.8 68.36h.01M253.9 60.22h.01M256.53 55.8h.01M247.13 60.04h.01M246.99 58.41h.01M250.29 58.64h.01M253.99 57.13h.01M253.57 49.04h.01M255.02 56.6h.01M259.18 40.18h.01M248.83 65.41h.01M253.29 64.96h.01M245.55 64.71h.01M255.17 55.81h.01M256.61 64.2h.01M253.77 60.17h.01M255.46 65.29h.01M257.72 68.81h.01M250.4 61.57h.01M257.92 61.64h.01M254.03 68.79h.01M255.66 43.92h.01M253.3 65.94h.01M254.79 57.61h.01M258.96 63.86h.01M251.12 57.33h.01M256.36 54.95h.01M245.21 80.3h.01M257.65 74.13h.01M258.6 70.25h.01M243.17 72.83h.01M258.16 69.24h.01M260.25 60.93h.01M252.43 70.77h.01M250.93 73.35h.01M252.34 70h.01M255.65 51.38h.01M243.46 90.35h.01M252.35 75.49h.01M255.83 79.68h.01M256.55 59.35h.01M256 47.53h.01M250.73 71.63h.01M254.92 76.11h.01M249.56 57.62h.01M245.59 53.66h.01M252.41 82.25h.01M245.43 74.89h.01M255.79 60.1h.01M267.31 44.16h.01M252.35 65.83h.01M260.46 81.27h.01M263.62 67.06h.01M255.62 76.57h.01M254.9 67.53h.01M252.74 60.33h.01M244.16 79.75h.01M254.02 45.71h.01M254.32 63.93h.01M251.09 79.78h.01M252.9 61.62h.01M249.46 63.18h.01M250.59 65.39h.01M267.36 70.03h.01M245.96 79.91h.01M255.9 71.77h.01M255.18 71.67h.01M254.09 76.73h.01" stroke="#999" stroke-width="0.56" stroke-linecap="round" fill="none"/>
<path d="M256.33 58.96h.01M263.12 54.94h.01M260.82 60.41h.01M256.79 57.31h.01M254.97 57.19h.01M255.1 58.07h.01M259.46 53.98h.01M262.87 52.3h.01M261.82 56h.01M258.63 59.38h.01M263.31 53.54h.01M257.92 56.94h.01M263.79 52.85h.01M259.47 56.1h.01M259.52 56.54h.01M256.13 49.84h.01M255.78 54.68h.01M260.51 56.98h.01M263.84 50.99h.01M262.26 55.17h.01M259.7 53.79h.01M258.81 58.04h.01M258.9 51.73h.01M264.52 52.18h.01M266.1 54.08h.01M265.74 50.75h.01M258.15 57.18h.01M263.32 56.39h.01M262.5 56.74h.01M265.32 51.16h.01M263.23 51.44h.01M260.96 57.74h.01M257.62 58.04h.01M260.71 59.67h.01M267.64 52.94h.01M260.28 53.27h.01M261.85 56.32h.01M259.69 59.2h.01M264.87 48.24h.01M258.13 56.08h.01M258.69 56.78h.01M260.04 56.66h.01M265.7 49.17h.01M260.77 53.17h.01M261.7 54.77h.01M264.38 49.58h.01M262.86 56.03h.01M264.19 51.2h.01M256.7 60.84h.01M264.88 55.55h.01M263.39 51.33h.01M262.89 52.18h.01M267.08 51.08h.01M266.74 49.88h.01M261.33 55.34h.01M260.85 55.07h.01M264.56 51.33h.01M256.58 60.15h.01M259.33 51.83h.01M261.22 59.08h.01" stroke="#999" stroke-width="0.56" stroke-linecap="round" fill="none"/>
<path d="M248.72 73.03h.01M255.46 74.54h.01M255.91 73.18h.01M251.83 80.74h.01M252.08 79.37h.01M259.23 77.47h.01M254.36 82.96h.01M254.23 82.05h.01M248.81 74.94h.01M256.95 68.78h.01M260.08 69.15h.01M256.35 70.88h.01M260.91 76.98h.01M259.21 75.97h.01M257.43 78.8h.01M252.13 71.38h.01M259.74 70.33h.01M260.85 71.31h.01M249.41 69.52h.01M258.98 83.21h.01M253.81 78.54h.01M251.61 82.49h.01M257.6 70.48h.01M248.79 79.13h.01M248.58 81.38h.01M252.11 71.72h.01M256.15 73.1h.01M255.85 70.46h.01M260.77 73.19h.01M259.78 70.43h.01M259.19 83.68h.01M253.48 68.53h.01M253.32 78.25h.01M251.13 76.73h.01M249.31 75.43h.01" stroke="#aaa" stroke-width="0.56" stroke-linecap="round" fill="none"/>
<path d="M254.38 91.78 L254.25 92.5 L254.02 93.18 L253.7 93.72 L253.33 94.07 L252.97 94.27 L252.62 94.42 L252.27 94.49 L251.93 94.43 L251.62 94.2 L251.37 93.82 L251.15 93.32 L251.01 92.7 L250.99 91.97 L251.12 91.2 L251.38 90.52 L251.68 89.96 L251.98 89.47 L252.28 89.02 L252.62 88.65 L252.99 88.44 L253.35 88.41 L253.69 88.51 L254.01 88.73 L254.28 89.11 L254.45 89.68 L254.5 90.36 L254.46 91.07Z" fill="none" stroke="#888" stroke-width="0.4" stroke-opacity="1.0" stroke-linejoin="round"/>
<path d="M253.74 91.67 L253.64 92.08 L253.49 92.45 L253.31 92.76 L253.12 93.05 L252.91 93.3 L252.68 93.45 L252.45 93.48 L252.24 93.38 L252.06 93.2 L251.92 92.93 L251.83 92.58 L251.82 92.16 L251.87 91.74 L251.95 91.35 L252.03 90.97 L252.12 90.57 L252.26 90.17 L252.46 89.85 L252.68 89.64 L252.92 89.53 L253.15 89.51 L253.36 89.6 L253.53 89.83 L253.64 90.15 L253.7 90.5 L253.75 90.86 L253.77 91.25Z" fill="none" stroke="#888" stroke-width="0.4" stroke-opacity="1.0" stroke-linejoin="round"/>
<path d="M268.53 93.93h.01M260.82 93h.01M271.15 93.61h.01M265.03 94.24h.01M264.33 93.9h.01M259.85 93.82h.01M270.72 94.93h.01M270.99 95.38h.01M267.25 94.05h.01M268.68 94.81h.01M262.32 94.3h.01M268.62 94.24h.01" stroke="#8aa" stroke-width="0.5" stroke-linecap="round" fill="none"/>
<path d="M345 101 L345 88 L350 76 L358 68 L366 72 L366 88 L360 97 L354 101 Z" fill="#aaa" fill-opacity="0.8" filter="url(#b16)"/>
<path d="M360.95 89.43 L359.2 92.49 L357.16 95.21 L354.97 97.51 L352.74 99.19 L350.7 99.87 L349.06 99.52 L347.82 98.57 L346.74 97.47 L345.77 96.16 L345.19 94.27 L345.31 91.67 L346.11 88.71 L347.26 85.76 L348.53 82.82 L350.02 79.82 L351.88 76.93 L354.03 74.57 L356.24 72.96 L358.34 71.98 L360.28 71.64 L361.83 72.21 L362.73 73.84 L362.93 76.19 L362.79 78.64 L362.7 80.94 L362.61 83.38 L362.11 86.26Z" fill="none" stroke="#999" stroke-width="0.35" stroke-opacity="1.0" stroke-linejoin="round"/>
<path d="M359.73 88.78 L358.27 91.2 L356.57 93.16 L354.85 94.7 L353.19 95.87 L351.61 96.53 L350.28 96.5 L349.25 95.88 L348.44 94.96 L347.74 93.87 L347.27 92.41 L347.3 90.44 L347.88 88.14 L348.8 85.81 L349.82 83.51 L350.98 81.14 L352.42 78.78 L354.13 76.83 L355.88 75.64 L357.46 75.19 L358.82 75.26 L359.93 75.79 L360.67 76.88 L360.99 78.45 L361.03 80.21 L361.03 81.97 L361.01 83.9 L360.67 86.21Z" fill="none" stroke="#999" stroke-width="0.35" stroke-opacity="1.0" stroke-linejoin="round"/>
<path d="M357.98 87.85 L356.99 89.43 L355.93 90.94 L354.76 92.26 L353.53 93.26 L352.31 93.98 L351.09 94.46 L349.96 94.54 L349.12 93.95 L348.74 92.71 L348.75 91.1 L348.94 89.43 L349.24 87.7 L349.77 85.84 L350.65 83.95 L351.81 82.29 L353.05 80.97 L354.25 79.86 L355.45 78.88 L356.65 78.15 L357.77 77.87 L358.75 78.01 L359.61 78.44 L360.36 79.17 L360.81 80.4 L360.7 82.18 L360.01 84.22 L359.01 86.15Z" fill="none" stroke="#999" stroke-width="0.35" stroke-opacity="1.0" stroke-linejoin="round"/>
<path d="M357.29 87.48 L356.48 88.73 L355.62 89.87 L354.7 90.81 L353.76 91.53 L352.83 92.1 L351.88 92.52 L350.97 92.63 L350.31 92.2 L350.01 91.23 L350 89.99 L350.14 88.69 L350.36 87.34 L350.78 85.87 L351.49 84.4 L352.39 83.1 L353.36 82.04 L354.3 81.15 L355.24 80.41 L356.17 79.92 L357 79.78 L357.73 79.92 L358.41 80.23 L359.03 80.73 L359.42 81.64 L359.37 82.99 L358.87 84.59 L358.1 86.12Z" fill="none" stroke="#999" stroke-width="0.35" stroke-opacity="1.0" stroke-linejoin="round"/>
<ellipse cx="355" cy="87" rx="1.8" ry="5" fill="#fff" fill-opacity="0.7" transform="rotate(30 355 87)" filter="url(#b8)"/>
<path d="M356.77 69.66h.01M362.96 53.17h.01M368.68 51.39h.01M369.25 41.45h.01M368.06 70.81h.01M369.25 56.2h.01M355.54 64.05h.01M365.27 59.84h.01M362.48 65.19h.01M366.69 40.01h.01M363.25 52.24h.01M361.15 62.58h.01M366.45 55.68h.01M360.8 63.17h.01M370.22 44.6h.01M350.59 66.47h.01M367.8 39.01h.01M361.77 71.68h.01M366.26 58.75h.01M354.09 65.64h.01M362.76 71.61h.01M364.36 44.65h.01M371.45 46.62h.01M366.13 47.45h.01M356.9 71.05h.01M374.57 51.16h.01M374.37 46.44h.01M360.1 41.13h.01M366.71 43.15h.01M374.37 56.92h.01M369.89 40h.01M357.11 64.78h.01M367.43 56.54h.01M365.5 41.41h.01M370.27 42.85h.01M370.27 46.64h.01M368.8 43.27h.01M360.2 66.52h.01M363.2 50.64h.01M371.11 43.5h.01M361.19 66.26h.01M372.33 47.15h.01M358.51 70.36h.01M372.17 66.79h.01M367.61 47.82h.01M365.77 54.69h.01M372.95 45.75h.01M367.15 40.79h.01M360.94 59.71h.01M359.43 56.54h.01M368.29 39.95h.01M366.04 40.42h.01M364.69 47.59h.01M354.32 56.13h.01M359.12 69.27h.01M368.65 44.1h.01M371.17 50.58h.01M377.72 46.13h.01M369.41 53.64h.01M356.68 59.02h.01M358.83 48.26h.01M358.25 50.18h.01M364.83 48.71h.01M373.14 43.83h.01M352.21 66.02h.01M364.94 68.64h.01M358.15 60.38h.01M362.6 60.86h.01M360.92 60.37h.01M367.94 59.93h.01M362.85 67.65h.01M363.4 44.83h.01M363.81 43.11h.01M353.75 63.7h.01M366.15 53.36h.01M365.7 70.86h.01M364.67 61h.01M366.54 51.16h.01M363.16 57.29h.01M373.52 38.88h.01M364.06 43.05h.01M360.43 55.84h.01M361.84 64.19h.01M370.11 42.3h.01M356.38 69.98h.01M359.35 52.08h.01M362.44 64.58h.01M365.06 46.39h.01M372.62 44.38h.01M366.7 42.42h.01M364.05 49.48h.01M370.52 45.97h.01M366.84 69.28h.01M361.45 58.72h.01M368.9 42.76h.01M361.99 62.82h.01M365.09 53.68h.01M358.27 62.59h.01M359.52 60.21h.01M367.38 40.48h.01M358.12 69.13h.01M356.73 67.71h.01M363.43 49.7h.01M371.18 41.9h.01M370.15 39.26h.01M358.88 68.9h.01M364.56 47.4h.01M366.03 66.43h.01M362.98 53.27h.01M356.6 61.07h.01M366.14 41.39h.01M365.74 46.96h.01M359.71 72.02h.01M361.91 61.32h.01M371.03 38.91h.01M373.32 40.7h.01M361.58 69.49h.01M369.65 35.12h.01M364.15 57.91h.01M367.84 57.16h.01M361.44 77.83h.01M360.13 54.11h.01M368.78 46.04h.01M365.63 52.34h.01M367.73 47.75h.01M368.38 55.29h.01M367.82 51.16h.01M360.78 62.03h.01M357.3 68.49h.01M367.49 51.38h.01M370.1 60.95h.01M363.2 56.38h.01M355.67 61.64h.01M369.64 40.85h.01M363.54 62.39h.01M370.65 43.28h.01M369.3 73.95h.01M357.95 74.14h.01M353.33 60.46h.01M355.52 61.01h.01M378.37 48.87h.01M367.4 45.56h.01M357.41 69.16h.01M365.81 41.86h.01M359.4 53.81h.01M355.91 69.22h.01M369.16 64.09h.01M368.67 45.03h.01M369.29 54.07h.01M370.83 56.45h.01M368.7 50.1h.01M364.04 61.47h.01M371.49 54.39h.01M358.68 65.88h.01M361.78 50.99h.01M366.27 36.39h.01M370.36 44.76h.01M366.73 45.05h.01M363.24 66.89h.01M358.37 62.08h.01M351.66 62.84h.01M364.13 38.54h.01M368.73 45.94h.01M364.44 61.64h.01M359.97 63.59h.01M363.54 54.43h.01M358.47 55.88h.01M355.4 65.2h.01M367.66 57.34h.01M368.83 38.7h.01M362.06 62.23h.01M377.35 42.23h.01M362.01 47.85h.01M361.38 62.71h.01M364.81 63.18h.01M360.54 46.67h.01M363.43 63.83h.01M361.75 68.65h.01M368.19 38.76h.01M356.49 69.5h.01M362.56 49.95h.01M367.3 61.74h.01M373.31 45.09h.01M357.77 60.72h.01M374.82 40.06h.01M358.14 65.46h.01M368.7 35.97h.01M361.28 69.72h.01M362.58 68.67h.01M366.32 46.2h.01M367.73 55.42h.01M360.28 56.71h.01M362.94 63.96h.01M368.34 56.99h.01M366.84 51.85h.01M357.46 69.04h.01M363.6 70.56h.01M366.5 58.36h.01M355.33 55.94h.01M360.35 61.95h.01M375.3 48.35h.01M370.32 57.33h.01M370.32 42.34h.01M371.93 58.69h.01M364.01 55.33h.01M358.74 66.63h.01M365.67 67.45h.01M363.91 53.75h.01M356.22 61.61h.01M369.62 43.07h.01M366.85 41.41h.01M368.7 52.12h.01M364.97 66.79h.01M365.83 45.09h.01M362.72 59.48h.01M359.01 55.14h.01M369.21 57.87h.01M369.19 67.64h.01M363.59 64.09h.01M370.21 50.2h.01M360.11 65.42h.01M359.56 54.83h.01M360.81 68.35h.01M356.93 66.82h.01M372.41 43.97h.01M364.8 60.22h.01M368.81 51.17h.01M375.5 62.62h.01M362.43 68.44h.01M376.37 46.91h.01M368.39 42.94h.01M359.72 61.65h.01M372.99 47.81h.01M369.96 41.5h.01M368.23 46.97h.01M372.68 51.52h.01M361.37 48.86h.01M362.47 53.11h.01M374.33 51.73h.01M362.26 56.07h.01M369.79 61.24h.01M366.84 59.34h.01M361.32 67.78h.01M359.16 68.79h.01M349.51 65.04h.01M364.58 47.89h.01M369.86 58.57h.01M373.76 36.98h.01M360.56 49.93h.01M367.03 47.07h.01M361.04 43.64h.01M359.45 64.19h.01M367.92 48.37h.01M368.41 48.4h.01M353.75 62.9h.01M371.36 40.11h.01M359.05 57.63h.01M364.08 64.23h.01M365.65 67.61h.01M365.46 42.45h.01M371.31 55.91h.01M358.95 64.94h.01M371.33 48.19h.01M365.14 54.13h.01M367.85 47.13h.01M369 54.8h.01M371.09 53.77h.01M363.42 58.05h.01M356.74 70.14h.01M368.98 47.82h.01M361.16 64.22h.01M363.46 61.76h.01M372.59 49.41h.01M372.57 49.42h.01M363.88 72.95h.01M374.93 45.01h.01M355.16 64.43h.01M369.29 54.8h.01M357.16 68.39h.01M365.31 68.34h.01M365.97 44.05h.01M372.18 40.69h.01M360.95 60.72h.01M373.54 43.42h.01M366.28 50.8h.01M359.14 55.72h.01M360.21 68.5h.01M366.19 70.09h.01M352.87 64.45h.01M368.4 47.46h.01M364.83 69.01h.01M372.51 45.07h.01M368.13 57.22h.01M371.07 48.18h.01M361.93 66.67h.01M358.18 64.46h.01M377.87 39.43h.01M369.02 48.41h.01M363.29 58.72h.01M364.67 43.56h.01M370.26 39h.01M359.04 59.78h.01M365.7 61.45h.01M366.6 47.67h.01M365.21 68.74h.01M368.01 44.94h.01M363.9 49.29h.01M366.37 60.32h.01M370.16 47.64h.01M372.94 46.81h.01M360.04 69.96h.01M369.8 42.16h.01M360.49 65.46h.01M360.57 70.59h.01M365.45 72.27h.01M368.42 55.54h.01M354.13 55.73h.01M367.56 50.98h.01M370.65 54.97h.01M357.31 55.96h.01M369.18 46.74h.01M376.66 53.75h.01M354.24 69.21h.01M352.22 66.96h.01M367.69 44.48h.01M358.64 58.34h.01M361.48 56.79h.01M359.51 63.92h.01M355.81 63.63h.01M371.03 38.82h.01" stroke="#999" stroke-width="0.6" stroke-linecap="round" fill="none"/>
<path d="M368.41 56.24 L367.47 58.44 L366.47 60.61 L365.36 62.6 L364.18 64.2 L362.98 65.51 L361.76 66.57 L360.59 67.12 L359.72 66.67 L359.35 65.15 L359.38 63.06 L359.57 60.89 L359.82 58.67 L360.28 56.21 L361.13 53.59 L362.28 51.2 L363.49 49.26 L364.65 47.58 L365.8 46.01 L366.98 44.71 L368.08 43.99 L369.06 43.84 L369.96 44.04 L370.78 44.62 L371.3 45.97 L371.21 48.26 L370.49 51.11 L369.44 53.86Z" fill="none" stroke="#aaa" stroke-width="0.35" stroke-opacity="1.0" stroke-linejoin="round"/>
<path d="M367.47 55.9 L366.77 57.47 L366.03 58.94 L365.24 60.22 L364.44 61.26 L363.62 62.16 L362.76 62.98 L361.93 63.44 L361.31 63.15 L361.04 62.11 L361.05 60.66 L361.17 59.16 L361.33 57.6 L361.67 55.86 L362.28 54.01 L363.09 52.33 L363.93 50.93 L364.75 49.73 L365.57 48.65 L366.37 47.85 L367.11 47.48 L367.75 47.44 L368.38 47.53 L368.99 47.83 L369.41 48.68 L369.39 50.24 L368.92 52.22 L368.21 54.18Z" fill="none" stroke="#aaa" stroke-width="0.35" stroke-opacity="1.0" stroke-linejoin="round"/>
<path d="M387.83 40.7h.01M391.86 56.16h.01M386.58 69.48h.01M372.66 71.81h.01M367.26 33.98h.01M377.58 70.74h.01M391.52 73.11h.01M377.88 72.17h.01M379.6 39.03h.01M382.09 66.74h.01M374.83 58.29h.01M369.07 44.59h.01M374.71 54.56h.01M376.39 36.88h.01M360.2 47.29h.01M385.09 64.43h.01M368.3 43.74h.01M378.08 40.37h.01M381.1 70.97h.01M367.07 57.59h.01M385.23 64.47h.01M384.92 62.84h.01M369.54 68.21h.01M392.38 35.21h.01M393.04 51.59h.01M363.02 35.92h.01M387.89 61.46h.01M364.97 52.32h.01M382.35 74.9h.01M371.76 65.2h.01" stroke="#c0c0c0" stroke-width="0.56" stroke-linecap="round" fill="none"/>
<path d="M462 86 L464 76 L472 66 L484 56 L494 51 L499 54 L496 62 L487 71 L476 80 L467 86 Z" fill="#bcbcbc" fill-opacity="0.75" filter="url(#b15)"/>
<path d="M497.54 55.19 L497.83 57.2 L496.7 59.97 L494.84 62.9 L492.83 65.69 L490.7 68.48 L488.12 71.38 L484.99 74.25 L481.48 76.91 L477.78 79.34 L473.97 81.42 L470.36 82.8 L467.51 83.05 L465.77 82.18 L464.94 80.65 L464.56 78.9 L464.54 76.9 L465.29 74.45 L467.12 71.54 L469.8 68.52 L472.85 65.61 L476.07 62.83 L479.52 60.16 L483.18 57.84 L486.75 56.13 L490.06 55.02 L493.11 54.37 L495.78 54.3Z" fill="none" stroke="#999" stroke-width="0.35" stroke-opacity="1.0" stroke-linejoin="round"/>
<path d="M492.93 58.79 L493.34 60.12 L493.02 61.91 L492.25 63.91 L491.08 66.09 L489.34 68.49 L486.98 70.94 L484.21 73.25 L481.3 75.36 L478.29 77.32 L475.21 78.97 L472.41 79.91 L470.36 79.85 L469.23 78.97 L468.68 77.73 L468.39 76.4 L468.37 74.89 L468.9 73.04 L470.07 70.87 L471.77 68.51 L473.9 66.01 L476.54 63.44 L479.63 61.1 L482.78 59.42 L485.55 58.51 L487.86 58.13 L489.9 57.97 L491.69 58.1Z" fill="none" stroke="#999" stroke-width="0.35" stroke-opacity="1.0" stroke-linejoin="round"/>
<path d="M490.58 60.62 L491.22 61.51 L491.17 62.88 L490.57 64.56 L489.53 66.45 L488 68.49 L485.91 70.54 L483.49 72.32 L481.1 73.67 L478.94 74.71 L476.87 75.68 L474.78 76.56 L472.81 77.11 L471.23 77.11 L470.17 76.57 L469.57 75.63 L469.49 74.3 L470.14 72.55 L471.56 70.53 L473.49 68.51 L475.55 66.63 L477.65 64.85 L479.87 63.13 L482.21 61.67 L484.43 60.72 L486.33 60.29 L487.94 60.17 L489.4 60.24Z" fill="none" stroke="#999" stroke-width="0.35" stroke-opacity="1.0" stroke-linejoin="round"/>
<path d="M488.6 62.17 L488.79 63.1 L488.58 64.25 L487.93 65.6 L486.96 67.03 L485.82 68.49 L484.5 70.01 L482.9 71.57 L481.02 72.99 L479.1 74.06 L477.32 74.79 L475.67 75.31 L474.11 75.66 L472.8 75.65 L472.03 75.12 L471.89 74.11 L472.25 72.84 L472.9 71.47 L473.84 70.01 L475.12 68.51 L476.65 67.05 L478.3 65.68 L480.01 64.34 L481.89 62.97 L483.91 61.76 L485.79 61.04 L487.22 60.98 L488.11 61.43Z" fill="none" stroke="#999" stroke-width="0.35" stroke-opacity="1.0" stroke-linejoin="round"/>
<path d="M487.35 63.15 L487.52 63.93 L487.17 64.99 L486.5 66.16 L485.72 67.31 L484.85 68.49 L483.75 69.73 L482.39 70.92 L480.9 71.92 L479.44 72.72 L478.03 73.39 L476.64 73.94 L475.37 74.24 L474.4 74.17 L473.8 73.73 L473.53 73.05 L473.55 72.16 L473.99 71.05 L474.91 69.77 L476.16 68.51 L477.5 67.37 L478.79 66.31 L480.12 65.24 L481.58 64.2 L483.1 63.36 L484.51 62.84 L485.73 62.65 L486.71 62.74Z" fill="none" stroke="#999" stroke-width="0.35" stroke-opacity="1.0" stroke-linejoin="round"/>
<path d="M472.51 75.26h.01M475.85 77.93h.01M467.97 81.41h.01M475.03 70.56h.01M481.74 73.05h.01M471.96 84.19h.01M488.89 64.56h.01M476.64 74.43h.01M469.2 85.01h.01M485.99 63.35h.01M491.62 52.06h.01M488.26 63.79h.01M465.98 75.74h.01M479.43 61.82h.01M480.08 67.66h.01M495.09 64.05h.01M475.94 67.12h.01M480.74 64.73h.01M478.51 65.57h.01M467.15 73.35h.01M477.28 76.02h.01M494.07 63.38h.01M464.59 84.02h.01M469.99 75.61h.01M482.7 61.71h.01M495.04 55.88h.01M481.45 73.39h.01M465.47 76.8h.01M483.49 67.12h.01M463.72 81.86h.01M468.54 79.87h.01M489.41 54.04h.01M476.24 69.03h.01M503.88 61.1h.01M471.73 80.14h.01M479.26 66.07h.01M476.63 68.51h.01M483.96 68.68h.01M495.9 58.6h.01M466.43 79.43h.01M462.4 85.55h.01M487.39 60.37h.01M479.85 69.5h.01M490.76 52.3h.01M477.86 72.18h.01M487.15 52.83h.01M472.45 73.58h.01M488.94 56.26h.01M501.34 61.99h.01M483.44 57.09h.01M477.46 61.19h.01M469.06 84.5h.01M487.98 51.96h.01M490.82 70.2h.01M489.95 62.43h.01M501.21 56.74h.01M470.85 65.49h.01M485.11 55.75h.01M484.06 74.74h.01M470.3 86.11h.01M491.98 63.41h.01M493.2 60.83h.01M467.19 87.07h.01M478.74 67.87h.01M475.73 77.08h.01M471.94 86.46h.01M480.73 74.87h.01M473.04 76.63h.01M484.09 49.56h.01M477.27 61.6h.01M469.62 85.01h.01M463.31 72.51h.01M495.95 55.13h.01M473.19 68.33h.01M476.14 65.55h.01M490.28 62.99h.01M489.79 51.75h.01M483.47 65.44h.01M481.11 66.94h.01M472.58 75.41h.01M491.83 55.4h.01M481.01 64.01h.01M472.06 71.74h.01M494.86 53.45h.01M483.98 70.03h.01M487.67 64.34h.01M491.48 51.46h.01M478.36 70.54h.01M485.04 71.41h.01M488.85 56.01h.01M469.02 80.27h.01M489.73 55.5h.01M492.25 52.42h.01M499.67 57.71h.01M474.82 75.53h.01M491.4 46.19h.01M489.24 65.2h.01M491.76 55.95h.01M472.26 81.96h.01M476.15 65.71h.01M476.03 72.12h.01M472.01 76.77h.01M490.92 57.06h.01M474.6 73h.01M485.41 61.66h.01M483.04 65.65h.01M465.62 79.82h.01M467.07 71.4h.01M473.6 76.52h.01M491.53 68.92h.01M470.82 86.64h.01M483.85 63.72h.01M479.61 77.55h.01M464.17 73.55h.01M492.16 70.51h.01M476.4 72.31h.01M488.41 65.42h.01M473.05 83.3h.01M478.35 66.93h.01M492.28 53.85h.01M482.8 67.81h.01M475.31 74h.01M482.2 73.29h.01M485.75 64.02h.01M460.66 82.33h.01M464.46 83.02h.01M472.14 71.88h.01M492.75 51.16h.01M462.13 79.61h.01M490.27 54.8h.01M475.32 73.42h.01M493.93 57.66h.01M491.45 53.93h.01M481.81 58.85h.01M465.77 73.41h.01M481.48 70.32h.01M468.48 69.58h.01M470.16 80.38h.01M484.37 57.36h.01M491.84 54.94h.01M469.99 71.51h.01M484.29 59.52h.01M475.13 71.9h.01M465.1 74.85h.01M480.74 61.21h.01M462.46 79.95h.01M489.87 52h.01M469.03 76.27h.01M487.24 58.22h.01M480.11 67.7h.01M492.05 58.92h.01M496.78 55.96h.01M476.21 79.52h.01M496.76 62.41h.01M487.94 60.2h.01M473.26 69.01h.01M462.28 82.35h.01M487.2 62.58h.01M484.13 63.95h.01M469.84 73.69h.01M495.41 55.09h.01M461.99 83.48h.01M481.25 63.97h.01M477.22 76.3h.01M469.01 83.52h.01M480.27 64.17h.01M489.08 60.56h.01M493.48 50.2h.01M464.9 73.95h.01M472.74 67.86h.01" stroke="#999" stroke-width="0.56" stroke-linecap="round" fill="none"/>
<path d="M456.16 84.44h.01M457.88 85.74h.01M456.07 82.24h.01M456.43 83.61h.01M460.24 89.34h.01M459.82 90.49h.01M459.01 83.94h.01M457.36 82.32h.01M456.25 82.28h.01M458.24 89.82h.01M461.03 89.98h.01M456.77 88.15h.01M455.83 84.37h.01M460.24 87.59h.01M459.3 88.5h.01" stroke="#aaa" stroke-width="0.56" stroke-linecap="round" fill="none"/>
<path d="M57.79 169.4h.01M58 144.21h.01M61.85 169.37h.01M62.07 150.07h.01M54.48 161.43h.01M57.06 147.35h.01M61.33 135.81h.01M44.05 160.44h.01M49.61 172.51h.01M65.46 131.09h.01M68.14 168.07h.01M60.88 177.95h.01M50.08 150.85h.01M56.53 132.88h.01M58.38 174.04h.01M56.6 171.92h.01M52.33 134.43h.01M56.81 138.81h.01M50.62 167.85h.01M47.38 151.35h.01M63.94 153.72h.01M61.08 168.1h.01M46.29 164.67h.01M62.22 165.99h.01M63.49 153.21h.01M60.02 140.97h.01M61.36 140.54h.01M65.83 150.6h.01M58.67 140.17h.01M57.52 160.1h.01M63.77 154.8h.01M56.71 167.34h.01M51.7 136.03h.01M64.95 146.18h.01M66.78 137.03h.01M48.51 156.34h.01M58.78 157.37h.01M59.91 167.32h.01M60.23 150.18h.01M51.39 151.21h.01M56.22 131.77h.01M50.29 139.97h.01M66.28 161.97h.01M53.06 148.99h.01M57.05 145.29h.01M56.27 151.54h.01M47.58 175.89h.01M63.06 165.36h.01M60.43 156.2h.01M60.42 142.76h.01M56.69 170.95h.01M57.65 128.25h.01M50.66 131.99h.01M62.85 173.37h.01M59.7 138.58h.01M48.53 167.86h.01M60.16 150.33h.01M46 166.59h.01M59.7 133.95h.01M48.43 146.13h.01M57.17 161.42h.01M50.83 167.66h.01M55.42 157.12h.01M63.75 160.76h.01M64.72 162.2h.01M56.38 172.43h.01M56.09 142.26h.01M51.3 159.13h.01M62.61 162.79h.01M61.6 155.61h.01M62.82 137.41h.01M58.43 162.13h.01M58.95 168.47h.01M61.81 162.08h.01M62.97 134.41h.01M63.06 157.92h.01M54.55 148.34h.01M61.14 131.75h.01M56.73 160.04h.01M59.85 177.59h.01M57.63 168.22h.01M53.75 137.05h.01M67.48 175.2h.01M51.51 131.07h.01M54.62 173.55h.01M57.03 142.36h.01M61.71 163.49h.01M55.22 164.63h.01M51.79 167.34h.01M55.04 151.01h.01M65.18 164.06h.01M60.71 129.03h.01M51.49 167.78h.01M54.76 137.92h.01M53.92 164.61h.01M56 154.62h.01M53.91 152.99h.01M64.42 175.03h.01M60.11 157.72h.01M51.91 144.85h.01M58.35 130.15h.01M47.14 128.47h.01M67.8 141.54h.01M57.68 133.18h.01M58.32 157.74h.01M54.84 136.49h.01M62.67 167.8h.01M55.5 170.78h.01M52.73 136.3h.01M62.95 158.14h.01M57.58 134.94h.01M58.32 130.43h.01M56.35 141.93h.01M56.25 163.6h.01M70.31 135.04h.01M52.8 176.52h.01M51.16 138.38h.01M54.5 164.37h.01M49.13 138.06h.01M58.53 130.85h.01M68.92 159.98h.01M63.59 141.45h.01M44.91 139.48h.01M56.34 138.69h.01M49.31 163.66h.01M62.09 170.38h.01M66.92 128.76h.01M66.17 146.6h.01M60.08 155.5h.01M62.16 158.42h.01M49.32 149.54h.01M51.62 152.54h.01M57.51 147.64h.01M59.47 162.2h.01M58.13 133.71h.01M50.1 137.13h.01M57.16 164.66h.01M53.28 150.5h.01M58.86 140.14h.01M46.78 173.89h.01M57.29 174.69h.01M65.12 164.77h.01M53.85 149.73h.01M52.73 137.73h.01M54.73 149h.01M63.21 126.86h.01M53.33 128.77h.01M48.27 146.45h.01M56.95 161.73h.01M65.08 138.71h.01M53.38 160.48h.01M52.61 149.43h.01M50.63 138.82h.01M53.79 152.4h.01M54.13 147.76h.01M57.32 177.62h.01M54.72 136.72h.01M61.87 131.9h.01M59.05 161.56h.01M57.95 173.06h.01M65.47 139.28h.01M57.08 138.74h.01M49.56 171.41h.01M62.37 145.42h.01M65.61 133.35h.01M60.09 143.66h.01M62.44 152.35h.01M58.96 133.3h.01M54.6 138.23h.01M56.81 171.29h.01M59.83 170.59h.01M58.46 134.01h.01M55.25 144.99h.01M60.22 144.58h.01M57.52 162.73h.01M57.25 142.13h.01M54.06 159.53h.01M58.95 140.64h.01M66.79 146.19h.01M62.17 130.1h.01M52.51 165.65h.01M56.79 150.12h.01M62.51 155.23h.01M55.35 132.32h.01M49.71 131.11h.01M56.65 150.09h.01M60.43 132.19h.01M66.69 128.49h.01M48.61 157.32h.01M58.37 135.94h.01M52.63 140.58h.01M58.22 170.51h.01M64.33 167.67h.01M65.69 148.54h.01M54.2 173.14h.01M43.14 148.04h.01M60.76 159.18h.01M51.13 148.45h.01M59.16 154.24h.01M57.81 150.34h.01M61.83 138.41h.01M51.07 138.7h.01M55.91 173.36h.01M64.99 158.86h.01M58.54 149.75h.01M55.58 175.69h.01M48.63 164.28h.01M62.89 167.19h.01M59.99 159.36h.01M52.28 146.28h.01M69.42 144.1h.01M55.61 173.08h.01M57.45 154.48h.01M56.42 141.82h.01M51.56 143.21h.01M60.73 147.23h.01M68.33 177.33h.01M50.91 150.46h.01M58.85 138.27h.01M66.59 153.76h.01M63.01 179.45h.01M52.29 139.63h.01M47.55 167.4h.01M59.35 141.31h.01M58.89 159.27h.01M56.19 169.36h.01M53.88 174.38h.01M65.12 164.15h.01M65.24 142.93h.01M57.82 130.1h.01M59.3 168.98h.01M58.69 178.94h.01M58.12 164.87h.01M59.96 159.64h.01M63.81 156.84h.01M55.28 140.83h.01M51.32 150.05h.01M61.76 173.15h.01M65.8 133.97h.01M46.41 165.4h.01M62.71 146.05h.01M60.45 156.67h.01M55.87 164.68h.01M63.06 152.74h.01M61.86 135.45h.01M44.9 139.23h.01M60.27 132.29h.01M60.32 133.92h.01M56.26 133.92h.01M69.7 149.36h.01M62.15 143.22h.01M56.71 158.37h.01M53 138.16h.01M55.74 162.54h.01M56.69 134.09h.01M69.2 130.64h.01M61.11 141.51h.01M50.66 132.12h.01M53.65 176.17h.01M71.11 175.9h.01M54.42 169.79h.01M61.62 148.93h.01M60.12 158.27h.01M66.56 172.75h.01M54.23 143.28h.01M46.99 172.13h.01M65.19 157.74h.01M51.67 155.93h.01M53.5 152.32h.01M55.51 177.91h.01M62.03 175.72h.01M52.59 134.11h.01M52.69 142.77h.01M56.93 147.19h.01M66.01 137.7h.01M64.91 167.45h.01M47.78 138.89h.01M51.03 130.96h.01M53.13 139.93h.01M52.35 155.83h.01M54.19 158.87h.01M57.96 129.23h.01M50.77 155.03h.01M68.33 166.8h.01M55.16 155.05h.01M58.48 133.32h.01M64.54 138.35h.01M58.37 166.63h.01M56.47 148.17h.01M58.47 155h.01M54.37 136.58h.01M63.37 134.5h.01M61.3 159.25h.01M60.36 140.77h.01M61.29 162.44h.01M55.2 171.23h.01M52 161.33h.01M50.4 157.33h.01M57.64 171.56h.01M46.85 161.93h.01M56.32 150.43h.01M57.63 170.7h.01M55.66 168.89h.01M50.69 160.45h.01M60.88 156.04h.01M60.32 157.93h.01M55.48 144.44h.01M60.28 170.89h.01M51.37 152.27h.01M52.99 162.76h.01M57.83 156.67h.01M58.94 167.07h.01M60.51 164.35h.01M57.54 139.56h.01M52.27 172.49h.01M46.61 164.19h.01M55.67 165.7h.01M72.74 160.86h.01M67.12 171.37h.01M56.7 134.13h.01M65.5 127.89h.01M57.09 164.19h.01M56.47 147.9h.01M60.45 156.92h.01M63.03 145.11h.01M60.01 134.35h.01M62.08 153.65h.01M55.48 133.39h.01M56.92 163.16h.01M60.77 139.81h.01" stroke="#808080" stroke-width="0.6" stroke-linecap="round" fill="none"/>
<path d="M45.25 163.38h.01M65.82 148.65h.01M46.66 161.93h.01M51.58 134.09h.01M46.94 148.33h.01M45.81 147.41h.01M58.54 156.26h.01M54.11 169.41h.01M44.64 144.48h.01M70 172.81h.01M69.62 167.56h.01M58.07 168.74h.01M59.18 133.23h.01M49.66 132.16h.01M68.25 144.07h.01M54.22 155.53h.01M45.03 164.41h.01M65.87 169.19h.01M68.43 143.82h.01M46.36 167.36h.01M62.8 146.69h.01M52.3 135.14h.01M66.96 151.41h.01M66.36 145.01h.01M51.64 154.2h.01M64.37 173.78h.01M52.6 163.75h.01M54.11 172.66h.01M64.8 156.43h.01M52.88 141.51h.01M68.55 169.45h.01M51.15 131.49h.01M47.85 178.1h.01M43.18 169.93h.01M57.87 156.36h.01M58.19 148.74h.01M58.72 131.77h.01M69.6 132.45h.01M46.16 162.64h.01M61.22 169.76h.01M62.78 176.33h.01M43.55 127.56h.01M49.11 168.28h.01M46.58 155.16h.01M65.11 135.28h.01M57.82 174.74h.01M64.42 148.09h.01M56.37 141.73h.01M70.82 168.48h.01M62.41 143.12h.01M63.95 152.8h.01M65.95 146.28h.01M68.45 163.29h.01M55.52 156.82h.01M66.15 155.04h.01M70.81 127.38h.01M68.92 164.85h.01M56.68 172.04h.01M46.46 144.9h.01M63.42 170.64h.01" stroke="#aaa" stroke-width="0.56" stroke-linecap="round" fill="none"/>
<path d="M47.23 164.1h.01M89.56 180.55h.01M59.06 184.28h.01M65.34 175.62h.01M57.5 181.39h.01M74.39 187.39h.01M48.95 175.54h.01M65.53 176.1h.01M57.4 179.82h.01M64.81 179.65h.01M67.14 161.33h.01M78.41 192.22h.01M70.36 188.33h.01M63.41 191.19h.01M67.11 178.26h.01M79.06 171.99h.01M55.94 177.98h.01M80.6 177.28h.01M44.38 173.21h.01M64.42 181.49h.01M65.35 171.18h.01M65.52 188.2h.01M83.91 193.36h.01M45.79 185.74h.01M49.29 184.86h.01M70.52 180.2h.01M62.87 177.52h.01M70.86 178.81h.01M58.63 186.04h.01M52.94 188h.01M56.17 180.3h.01M69.02 192.43h.01M58.57 183.32h.01M58.15 169.47h.01M59.14 188.14h.01M69.05 191.9h.01M61.88 187.89h.01M66.64 181.11h.01M77.33 175.28h.01M50.26 186.41h.01M55.55 182.66h.01M59.91 165.38h.01M76.46 181.78h.01M73.48 176.88h.01M57.66 178.99h.01M45.15 196.87h.01M77.17 193.13h.01M70.05 179.42h.01M81.71 184.72h.01M49.34 187.85h.01M55.4 180.49h.01M76.33 194.86h.01M59.73 174.57h.01M41.78 173.4h.01M70.32 185.1h.01M55.49 183.13h.01M59.92 171.82h.01M58.38 192.96h.01M83.55 177.25h.01M64.85 172.91h.01M70.47 181.45h.01M62.4 192.57h.01M72.4 186.15h.01M68.79 187.63h.01M56.97 195.4h.01M62.66 175.81h.01M55.35 190.44h.01M63.48 182.86h.01M77.93 187.44h.01M61 192.98h.01M70.39 186.43h.01M67.34 160.3h.01M75.08 178.86h.01M71.34 177.3h.01M63.11 171.85h.01M72.73 175.6h.01M81.13 183.48h.01M67.09 175.87h.01M52.55 185.28h.01M59.22 181.72h.01M44.14 179.12h.01M66.57 171.71h.01M48.93 173.09h.01M64.32 177.69h.01M46.87 177.45h.01M65.57 172.16h.01M58.26 183.92h.01M78.68 181.56h.01M52.97 170.92h.01M79.87 171.28h.01M68.76 185.61h.01M55.98 169h.01M90.5 188.27h.01M66.09 168.92h.01M64.92 169.42h.01M41.77 181.79h.01M61.42 183.97h.01M63.42 180.3h.01M63.17 170.83h.01M59.24 186.65h.01M84.58 164.62h.01M77.72 175.03h.01M75.01 175.97h.01M59.56 182.13h.01M60.94 182.02h.01M72.55 188.96h.01M52.46 188.57h.01M64.3 170.76h.01M48.13 192.77h.01M75.2 174.47h.01M71.28 174.44h.01M60.4 193.35h.01M52.35 180.64h.01M55.69 196.71h.01M66.97 176.75h.01M47.01 179.58h.01M70.73 190.67h.01M54.95 189.24h.01M63.36 180.26h.01M58.44 182.29h.01" stroke="#999" stroke-width="0.6" stroke-linecap="round" fill="none"/>
<path d="M76.02 173.01h.01M83.42 191.85h.01M84.94 191.38h.01M68.9 170.36h.01M68.23 192.74h.01M85.9 183.94h.01M71.63 193.14h.01M68.89 178.77h.01M66.05 196.54h.01M75.96 190.82h.01M85.24 185.69h.01M89.69 190.91h.01M88.25 196.01h.01M67.97 190.27h.01M71.43 178.76h.01M74.2 196.69h.01M67.45 181.74h.01M69.07 196.93h.01M77.91 188.95h.01M78.48 190.71h.01M74.08 181.16h.01M83.87 188.97h.01M87.3 178.35h.01M86.36 189.9h.01M79.76 181.02h.01M79.61 172.07h.01M68.33 178.41h.01M68.96 171.32h.01M83.2 189.75h.01M80.78 175.56h.01M83.33 192.3h.01M80.86 176.14h.01M79.55 180.66h.01M72.46 174.01h.01M86.76 187.07h.01M88.38 174.65h.01M72.34 183.75h.01M67.42 178.16h.01M78.96 183.01h.01M87.83 185.59h.01" stroke="#aaa" stroke-width="0.56" stroke-linecap="round" fill="none"/>
<path d="M41 197 L41 183 L47 174 L56 170 L62 172 L68 180 L78 182 L84 190 L80 197 Z" fill="#aaa" fill-opacity="0.6" filter="url(#b15)"/>
<path d="M43 179 C43.75 177.92 45.67 174 47.5 172.5 C49.33 171 52.08 170.33 54 170 C55.92 169.67 57.67 169.75 59 170.5 C60.33 171.25 61.08 172.92 62 174.5 C62.92 176.08 63.58 178.75 64.5 180 C65.42 181.25 66.42 181.92 67.5 182 C68.58 182.08 69.58 180.58 71 180.5 C72.42 180.42 74.5 180.58 76 181.5 C77.5 182.42 79.25 184.25 80 186 C80.75 187.75 80.42 191 80.5 192" fill="none" stroke="#555" stroke-width="0.45" stroke-opacity="1.0"/>
<path d="M43.3 180.53 C44.05 179.47 46.02 175.67 47.8 174.2 C49.58 172.73 52.13 172.03 54 171.7 C55.87 171.37 57.67 171.51 59 172.2 C60.33 172.89 61.08 174.39 62 175.86 C62.92 177.33 63.58 179.86 64.5 181.02 C65.42 182.19 66.42 182.77 67.5 182.85 C68.58 182.93 69.63 181.58 71 181.52 C72.37 181.47 74.3 181.66 75.7 182.52 C77.1 183.38 78.73 185.1 79.4 186.68 C80.07 188.26 79.65 191.11 79.7 192" fill="none" stroke="#555" stroke-width="0.45" stroke-opacity="1.0"/>
<path d="M43.6 182.06 C44.35 181.03 46.37 177.34 48.1 175.9 C49.83 174.46 52.18 173.73 54 173.4 C55.82 173.07 57.67 173.26 59 173.9 C60.33 174.54 61.08 175.86 62 177.22 C62.92 178.58 63.58 180.96 64.5 182.04 C65.42 183.12 66.42 183.62 67.5 183.7 C68.58 183.78 69.68 182.57 71 182.54 C72.32 182.51 74.1 182.74 75.4 183.54 C76.7 184.34 78.22 185.95 78.8 187.36 C79.38 188.77 78.88 191.23 78.9 192" fill="none" stroke="#555" stroke-width="0.45" stroke-opacity="1.0"/>
<path d="M43.9 183.59 C44.65 182.59 46.72 179.01 48.4 177.6 C50.08 176.19 52.23 175.43 54 175.1 C55.77 174.77 57.67 175.02 59 175.6 C60.33 176.18 61.08 177.34 62 178.58 C62.92 179.82 63.58 182.06 64.5 183.06 C65.42 184.06 66.42 184.47 67.5 184.55 C68.58 184.63 69.73 183.56 71 183.56 C72.27 183.56 73.9 183.81 75.1 184.56 C76.3 185.31 77.7 186.8 78.2 188.04 C78.7 189.28 78.12 191.34 78.1 192" fill="none" stroke="#555" stroke-width="0.45" stroke-opacity="1.0"/>
<path d="M44.2 185.12 C44.95 184.15 47.07 180.69 48.7 179.3 C50.33 177.91 52.28 177.13 54 176.8 C55.72 176.47 57.67 176.78 59 177.3 C60.33 177.82 61.08 178.81 62 179.94 C62.92 181.07 63.58 183.17 64.5 184.08 C65.42 184.99 66.42 185.32 67.5 185.4 C68.58 185.48 69.78 184.55 71 184.58 C72.22 184.61 73.7 184.89 74.8 185.58 C75.9 186.27 77.18 187.65 77.6 188.72 C78.02 189.79 77.35 191.45 77.3 192" fill="none" stroke="#555" stroke-width="0.45" stroke-opacity="1.0"/>
<path d="M44.5 186.65 C45.25 185.71 47.42 182.36 49 181 C50.58 179.64 52.33 178.83 54 178.5 C55.67 178.17 57.67 178.53 59 179 C60.33 179.47 61.08 180.28 62 181.3 C62.92 182.32 63.58 184.28 64.5 185.1 C65.42 185.92 66.42 186.17 67.5 186.25 C68.58 186.33 69.83 185.54 71 185.6 C72.17 185.66 73.5 185.97 74.5 186.6 C75.5 187.23 76.67 188.5 77 189.4 C77.33 190.3 76.58 191.57 76.5 192" fill="none" stroke="#555" stroke-width="0.45" stroke-opacity="1.0"/>
<path d="M46.5 180.5 C44 183 43 188 42 193.5 C44 195 48 194.6 52 194.4 C58 194 62 193 66 192.2 C70 191.5 73 190.5 74.5 189 C75.5 187 75 185 73.5 185 C72 185.5 71 187.5 72.5 188.5" fill="none" stroke="#111" stroke-width="1.1" stroke-opacity="1.0"/>
<path d="M44.5 184 C46 186 47 188 46 191" fill="none" stroke="#222" stroke-width="0.8" stroke-opacity="1.0"/>
<path d="M58.77 130.8 L58.8 131.21 L58.63 131.59 L58.32 131.92 L57.93 132.18 L57.48 132.37 L56.99 132.45 L56.5 132.43 L56.05 132.32 L55.63 132.2 L55.2 132.06 L54.78 131.86 L54.45 131.56 L54.28 131.19 L54.26 130.8 L54.32 130.42 L54.47 130.04 L54.72 129.7 L55.09 129.43 L55.54 129.26 L56.01 129.16 L56.5 129.12 L56.99 129.15 L57.44 129.29 L57.81 129.53 L58.1 129.81 L58.35 130.11 L58.6 130.43Z" fill="none" stroke="#666" stroke-width="0.4" stroke-opacity="1.0" stroke-linejoin="round"/>
<path d="M57.8 130.8 L57.75 131.02 L57.67 131.24 L57.56 131.45 L57.38 131.65 L57.12 131.79 L56.81 131.85 L56.5 131.84 L56.21 131.79 L55.94 131.69 L55.72 131.56 L55.54 131.39 L55.41 131.21 L55.29 131.01 L55.18 130.8 L55.14 130.56 L55.22 130.32 L55.4 130.12 L55.65 129.98 L55.92 129.87 L56.2 129.8 L56.5 129.78 L56.79 129.82 L57.05 129.91 L57.29 130.04 L57.5 130.18 L57.68 130.36 L57.78 130.57Z" fill="none" stroke="#666" stroke-width="0.4" stroke-opacity="1.0" stroke-linejoin="round"/>
<path d="M176.96 153.33h.01M183.91 143.49h.01M147.03 171.12h.01M184.24 132.7h.01M152.26 137h.01M177.93 132.9h.01M147.94 149.24h.01M147.29 138.65h.01M164.96 136.23h.01M147.12 138.7h.01M158.46 141.59h.01M166.48 143.19h.01M162.23 127.86h.01M186.35 160.22h.01M170.17 127.13h.01M157.96 167.53h.01M168.49 136.24h.01M185.54 167.12h.01M152.74 149.55h.01M173.38 132.28h.01M162.01 154.82h.01M178.66 155.28h.01M176.15 144.01h.01M150.23 127.73h.01M186.37 165.92h.01M189.54 130.42h.01M183.16 134.73h.01M163.27 136.01h.01M187.42 163.86h.01M186.13 144.17h.01M190.99 138.7h.01M173.99 157.3h.01M157.98 144.18h.01M151.71 162.85h.01M155.66 133.12h.01M160.06 155.81h.01M176.95 150.61h.01M187.12 160.86h.01M156.86 151.06h.01M154.96 137.88h.01M153.91 130.46h.01M163.46 166.89h.01M177.84 130.95h.01M157.29 153.62h.01M171.9 128.2h.01M151.42 152.47h.01M175.26 130.62h.01M183.32 137.82h.01M174.69 150.83h.01M162.98 169.59h.01M165.59 146.04h.01M172.39 164.78h.01M193.42 161.63h.01M172.32 159.26h.01M176.99 170.17h.01M192.62 161.2h.01M157.17 152.58h.01M167.66 137.41h.01M183.73 136.95h.01M180.36 149.02h.01M167.06 158.8h.01M181.07 171.53h.01M193.95 163h.01M159.4 157.11h.01M170.29 169.32h.01M168.01 143.09h.01M148.22 148.16h.01M172.03 140.87h.01M151.95 148.78h.01M150.32 134.73h.01M167.87 142.67h.01M170.5 150.86h.01M165.26 133.01h.01M147.87 152.17h.01M192.6 139.66h.01M163.53 141.37h.01M181.9 149.19h.01M184.41 127.23h.01M153.24 136.28h.01M164.34 144.97h.01M165.11 170.46h.01M167.64 152.9h.01M192.28 155.89h.01M174.95 164.27h.01M162.72 128.62h.01M192.01 151.05h.01M174.36 130h.01M182.02 143.82h.01M177.22 139.76h.01M190.15 143.6h.01M159.95 167.22h.01M157.46 139.19h.01M169.89 171.14h.01M152.43 136.47h.01M184.4 130.38h.01M166.47 162.24h.01M180.5 162.69h.01M152.51 167.04h.01M163.78 163.64h.01M169.17 167.11h.01M169.46 138.6h.01M154.08 149.34h.01M149.34 134.38h.01M188.11 152.82h.01M187.57 133.79h.01M169.57 148.09h.01M152.07 138.86h.01M190.33 159.56h.01M170.92 154.43h.01M187.46 169.92h.01M174.95 129.27h.01M187.98 134.41h.01M158.29 133.17h.01M171.07 153.22h.01M168.63 148.15h.01M153.62 159.31h.01M172.26 140.9h.01M186.18 169.26h.01M190.35 171.32h.01M150.24 144.49h.01M168.15 138.55h.01M181.96 167.72h.01M153.51 149.78h.01M192.47 166.99h.01M168.19 131.71h.01M168.45 150.29h.01M183.93 135.37h.01M160.14 171.31h.01M147.55 154.5h.01M151.46 160.77h.01M166.91 168.64h.01M157.5 166.49h.01M157.7 129.15h.01M151.05 130.43h.01M165.27 170.74h.01M163.68 159.25h.01M148.61 150.21h.01M172.35 131.41h.01M174.25 147.07h.01M162.39 164.37h.01M179.49 132.42h.01M151.99 129.36h.01M159.38 155.65h.01M192.52 170.59h.01M187.63 132.6h.01M184.22 161.3h.01M169.22 171.81h.01M175.15 132.33h.01M157.15 132.84h.01M175.69 155.09h.01M187.32 127.46h.01M147.46 170.77h.01M159.32 138.89h.01M187.74 132.01h.01M184.27 167.35h.01M173.43 154.38h.01M147.28 154.3h.01M175.85 161.7h.01M171.31 132.13h.01M157.46 156.39h.01M150.74 131.81h.01M158.79 162.84h.01M172.69 143.06h.01M192.3 153.14h.01M158.22 152.45h.01M187.21 143.58h.01M167.42 152.98h.01M193.4 155.73h.01M155.52 153.19h.01M162.1 148.3h.01M180.51 127.91h.01M170.86 141.13h.01M175.15 163.93h.01M168.96 155.34h.01M160.57 138.52h.01M170.97 150.96h.01M157.5 161.43h.01M170.48 143h.01M158.92 164.66h.01M189.4 169.22h.01M158.66 130.2h.01M176.69 128.11h.01M187.25 157.56h.01M162.84 146.86h.01M179.1 134.21h.01M164.15 162.41h.01M178.99 153.34h.01M151.85 136.77h.01M159.06 128.42h.01M177.08 152.77h.01M190.44 151.95h.01M190.16 148.1h.01M171.32 139.66h.01M168.82 169.16h.01M169.92 127.1h.01M163.62 135.9h.01M176.31 149.91h.01M169.36 168.72h.01M182.83 130.93h.01M148.44 158.53h.01M175.05 156.36h.01M170.52 128.61h.01M168.23 164.6h.01M175.29 128.99h.01M152.85 167.71h.01M172.61 134.4h.01M180.21 168.61h.01M187.66 156.04h.01M184.94 130.94h.01M168.78 163.46h.01M163.05 133.47h.01M187.69 158.71h.01M147.35 129.86h.01M173.19 169.93h.01M176.03 166.43h.01M151.94 152.92h.01M155.54 141.94h.01M154.02 147.87h.01M149.17 156.55h.01M177.38 167.71h.01M183.1 130.4h.01M187.84 151.43h.01M191 149.14h.01M150.82 158.68h.01M155.14 171.28h.01M172.34 167.6h.01M170.15 141.69h.01M178.13 158.94h.01M168.62 139.4h.01M166.76 159.16h.01M157.74 134.1h.01M169.75 156.61h.01M150.13 139.22h.01M192.66 139.02h.01M183.28 140.75h.01M151.03 148.88h.01M187.87 161.97h.01M149.26 158.65h.01M176.18 148.7h.01M178.24 150.48h.01M155.6 158.3h.01M153.06 140.94h.01M187.02 152.57h.01M171.02 158.95h.01M170.15 144.28h.01M172.95 128h.01M163.52 128.78h.01M193.8 167.86h.01M177.73 134.12h.01M187.19 139.73h.01M184.82 156.3h.01M175.43 160.36h.01M159.57 164.54h.01M172.5 161.07h.01M186.47 138.45h.01M166.3 143.27h.01M150.62 166.4h.01M179.22 149.04h.01M172.63 166.59h.01M150.28 143.1h.01M179.26 151.06h.01M170.38 138.64h.01M157.48 157.16h.01M163.03 169.19h.01M189.39 170.66h.01M160 150.15h.01M151.9 143.17h.01M150.5 149.57h.01M191.98 161.31h.01M164.1 139.43h.01M190.78 129.37h.01M186.72 165.52h.01M150.24 169.8h.01M177.37 144.5h.01M166.99 154.38h.01M171.76 166.05h.01M189.07 141.7h.01M147.41 162.04h.01M177.44 156.48h.01M150.49 130.41h.01M189.24 143.37h.01M169.22 170.8h.01M156.17 155.58h.01M149.89 152.25h.01M181.72 134.08h.01M182.71 170.59h.01M185.82 162.58h.01M191.53 159.25h.01M172.73 164.1h.01M184.9 155.31h.01M178.44 135.03h.01M162.9 141.64h.01M187.37 162.17h.01M160.66 171.73h.01M149.78 129.77h.01M162.4 130.48h.01M191.65 143.14h.01M165.25 165.47h.01M172.05 155.37h.01M167.68 147.71h.01" stroke="#8a8a8a" stroke-width="0.6" stroke-linecap="round" fill="none"/>
<path d="M159.32 160.88h.01M158.29 134.23h.01M158.55 154.98h.01M159.4 145.55h.01M161.16 156.99h.01M158.27 153.18h.01M158.38 145.36h.01M156.37 149.05h.01M168.35 150.51h.01M151.45 137.63h.01M163.99 138.73h.01M159.16 158.71h.01M158.49 161.88h.01M167.47 136.7h.01M170.28 170.39h.01M162.95 128.9h.01M173.79 145.38h.01M168.1 142.89h.01M169 145.98h.01M171.68 131.33h.01M166.62 146.01h.01M168.54 129.13h.01M155.53 141.47h.01M153.07 155.86h.01M162.01 155.39h.01M164.06 158.38h.01M170.77 133.47h.01M174.71 151.06h.01M165.98 153.2h.01M164.08 142.39h.01M150.43 149.79h.01M174.59 143.33h.01M152.44 134.05h.01M152.67 144.28h.01M161.27 127.7h.01M174.54 136.01h.01M168.15 170.52h.01M167.27 158.9h.01M154.18 138.35h.01M166.91 149.86h.01M165.49 164.75h.01M158.82 177.72h.01M156.19 175.11h.01M154.79 157.29h.01M160.65 178.16h.01M157.55 135.46h.01M152.6 136.44h.01M163.28 160.75h.01M168 148.89h.01M164.03 162.56h.01M152.39 158.32h.01M155.31 140.01h.01M157.01 154.66h.01M155.21 139.32h.01M151.85 147.38h.01M162.91 133.02h.01M160.81 153.91h.01M155.09 154.72h.01M166.28 153.3h.01M154.5 147.62h.01M158.48 169.11h.01M166.2 143.15h.01M163.21 136.15h.01M166.45 135.43h.01M164.56 177.93h.01M164.46 138.66h.01M156.46 148.07h.01M165.03 174.55h.01M153.8 136.25h.01M167.52 141.15h.01M158.27 172.33h.01M162.7 159.42h.01M168.81 152.93h.01M160.18 160.47h.01M144 140.89h.01M151.79 185.14h.01M161.11 175.66h.01M163.96 140.32h.01M160.84 145.4h.01M161.76 141.4h.01M157.26 147.41h.01M155.28 142.84h.01M149.69 141.83h.01M171.64 126.31h.01M170.2 160.82h.01M147.9 141.18h.01M156.34 180.86h.01M148.48 162.1h.01M157.75 159.22h.01M149.15 163.47h.01M147.83 136.53h.01M162.26 155.77h.01M155.99 152.25h.01M160.26 143.82h.01M160.8 153.29h.01M157.12 157.38h.01M156.15 165.61h.01M169.99 143.68h.01M152.61 135.38h.01M154.23 165.8h.01M156.98 134.89h.01M157.8 131.78h.01M166.44 166.43h.01M167.92 171.35h.01M154.13 137.4h.01M158.01 155.04h.01M155.98 155.94h.01M156.2 149.87h.01M161.99 154.9h.01M166.67 127.54h.01" stroke="#888" stroke-width="0.6" stroke-linecap="round" fill="none"/>
<path d="M147 195 L148 182 L153 176 L162 176 L172 172 L184 164 L191 166 L193 185 L190 195 Z" fill="#c0c0c0" fill-opacity="0.6" filter="url(#b16)"/>
<path d="M152 172 C156 177 162 180 170 178 C178 176 183 166 188 165 C191 166 191 176 190 186" fill="none" stroke="#666" stroke-width="0.42" stroke-opacity="1.0"/>
<path d="M152.4 172.96 C156 177.8 162 180.64 170 178.8 C178 176.8 183 167.28 187.7 166.44 C190.7 167.6 190.6 176.96 189.5 186.32" fill="none" stroke="#666" stroke-width="0.42" stroke-opacity="1.0"/>
<path d="M152.8 173.92 C156 178.6 162 181.28 170 179.6 C178 177.6 183 168.56 187.4 167.88 C190.4 169.2 190.2 177.92 189 186.64" fill="none" stroke="#666" stroke-width="0.42" stroke-opacity="1.0"/>
<path d="M153.2 174.88 C156 179.4 162 181.92 170 180.4 C178 178.4 183 169.84 187.1 169.32 C190.1 170.8 189.8 178.88 188.5 186.96" fill="none" stroke="#666" stroke-width="0.42" stroke-opacity="1.0"/>
<path d="M153.6 175.84 C156 180.2 162 182.56 170 181.2 C178 179.2 183 171.12 186.8 170.76 C189.8 172.4 189.4 179.84 188 187.28" fill="none" stroke="#666" stroke-width="0.42" stroke-opacity="1.0"/>
<path d="M154 176.8 C156 181 162 183.2 170 182 C178 180 183 172.4 186.5 172.2 C189.5 174 189 180.8 187.5 187.6" fill="none" stroke="#666" stroke-width="0.42" stroke-opacity="1.0"/>
<path d="M154.4 177.76 C156 181.8 162 183.84 170 182.8 C178 180.8 183 173.68 186.2 173.64 C189.2 175.6 188.6 181.76 187 187.92" fill="none" stroke="#666" stroke-width="0.42" stroke-opacity="1.0"/>
<path d="M154.8 178.72 C156 182.6 162 184.48 170 183.6 C178 181.6 183 174.96 185.9 175.08 C188.9 177.2 188.2 182.72 186.5 188.24" fill="none" stroke="#666" stroke-width="0.42" stroke-opacity="1.0"/>
<path d="M181.05 181.82 L180.82 182.46 L180.44 183.02 L179.95 183.46 L179.42 183.79 L178.86 184.01 L178.28 184.08 L177.74 183.91 L177.32 183.52 L177.03 183.03 L176.8 182.53 L176.58 182.03 L176.41 181.47 L176.36 180.83 L176.48 180.16 L176.75 179.51 L177.12 178.92 L177.59 178.43 L178.16 178.12 L178.74 178.05 L179.28 178.16 L179.77 178.35 L180.23 178.56 L180.66 178.86 L181 179.32 L181.17 179.9 L181.21 180.53 L181.17 181.17Z" fill="none" stroke="#555" stroke-width="0.4" stroke-opacity="1.0" stroke-linejoin="round"/>
<path d="M180.14 181.49 L179.95 181.83 L179.72 182.14 L179.45 182.39 L179.15 182.56 L178.83 182.64 L178.51 182.69 L178.18 182.7 L177.84 182.63 L177.55 182.44 L177.36 182.1 L177.29 181.7 L177.31 181.29 L177.38 180.9 L177.5 180.53 L177.68 180.19 L177.91 179.9 L178.17 179.65 L178.45 179.42 L178.77 179.24 L179.11 179.16 L179.44 179.23 L179.72 179.43 L179.95 179.69 L180.14 179.97 L180.28 180.31 L180.34 180.7 L180.28 181.11Z" fill="none" stroke="#555" stroke-width="0.4" stroke-opacity="1.0" stroke-linejoin="round"/>
<path d="M151.5 176.8 C151 181 151.5 186 152 190.1 C153.5 191.2 155.5 191.5 156.8 191 C157.8 189 158 187 157.4 185.5 C155.5 182 153.5 179 151.5 176.8 Z" fill="none" stroke="#333" stroke-width="0.9" stroke-opacity="1.0"/>
<path d="M162 192.4 C170 191.5 178 190.5 184.4 189" fill="none" stroke="#555" stroke-width="0.6" stroke-opacity="1.0"/>
<path d="M148 193 L165 192.5 L185 191 L190 194.5 L148 195.3 Z" fill="#999" fill-opacity="0.6" filter="url(#b10)"/>
<path d="M250.5 148 C250.42 149.67 249.83 154.83 250 158 C250.17 161.17 250.83 164.17 251.5 167 C252.17 169.83 253.58 173.67 254 175" fill="none" stroke="#666" stroke-width="0.45" stroke-opacity="1.0"/>
<path d="M250.82 148.8 C250.75 150.33 250.23 154.97 250.4 158 C250.57 161.03 251.22 164.3 251.82 167 C252.42 169.7 253.64 173 254 174.2" fill="none" stroke="#666" stroke-width="0.45" stroke-opacity="1.0"/>
<path d="M251.14 149.6 C251.08 151 250.63 155.1 250.8 158 C250.97 160.9 251.61 164.43 252.14 167 C252.67 169.57 253.69 172.33 254 173.4" fill="none" stroke="#666" stroke-width="0.45" stroke-opacity="1.0"/>
<path d="M251.46 150.4 C251.42 151.67 251.03 155.23 251.2 158 C251.37 160.77 251.99 164.57 252.46 167 C252.93 169.43 253.74 171.67 254 172.6" fill="none" stroke="#666" stroke-width="0.45" stroke-opacity="1.0"/>
<path d="M255 152 C255.83 150.67 258 150.08 260 150 C262 149.92 265.5 150.83 267 151.5 C268.5 152.17 269.17 152.25 269 154 C268.83 155.75 267.5 159.5 266 162 C264.5 164.5 261.5 168.33 260 169 C258.5 169.67 257.83 167.83 257 166 C256.17 164.17 255.33 160.33 255 158 C254.67 155.67 254.17 153.33 255 152Z" fill="none" stroke="#6a6a6a" stroke-width="0.42" stroke-opacity="1.0"/>
<path d="M255.78 153.04 C256.5 151.88 258.39 151.37 260.13 151.3 C261.87 151.23 264.92 152.02 266.22 152.6 C267.53 153.19 268.1 153.26 267.96 154.78 C267.81 156.3 266.66 159.56 265.35 161.74 C264.05 163.92 261.44 167.25 260.13 167.83 C258.82 168.41 258.25 166.81 257.52 165.22 C256.79 163.62 256.07 160.29 255.78 158.26 C255.49 156.23 255.06 154.2 255.78 153.04Z" fill="none" stroke="#6a6a6a" stroke-width="0.42" stroke-opacity="1.0"/>
<path d="M256.56 154.08 C257.18 153.09 258.78 152.66 260.26 152.6 C261.74 152.54 264.33 153.22 265.44 153.71 C266.55 154.2 267.04 154.27 266.92 155.56 C266.8 156.85 265.81 159.63 264.7 161.48 C263.59 163.33 261.37 166.17 260.26 166.66 C259.15 167.15 258.66 165.8 258.04 164.44 C257.42 163.08 256.81 160.25 256.56 158.52 C256.31 156.79 255.94 155.07 256.56 154.08Z" fill="none" stroke="#6a6a6a" stroke-width="0.42" stroke-opacity="1.0"/>
<path d="M257.34 155.12 C257.85 154.31 259.17 153.95 260.39 153.9 C261.61 153.85 263.75 154.41 264.66 154.81 C265.58 155.22 265.98 155.27 265.88 156.34 C265.78 157.41 264.97 159.69 264.05 161.22 C263.13 162.75 261.31 165.08 260.39 165.49 C259.47 165.9 259.07 164.78 258.56 163.66 C258.05 162.54 257.54 160.2 257.34 158.78 C257.14 157.36 256.83 155.93 257.34 155.12Z" fill="none" stroke="#6a6a6a" stroke-width="0.42" stroke-opacity="1.0"/>
<path d="M258.12 156.16 C258.52 155.52 259.56 155.24 260.52 155.2 C261.48 155.16 263.16 155.6 263.88 155.92 C264.6 156.24 264.92 156.28 264.84 157.12 C264.76 157.96 264.12 159.76 263.4 160.96 C262.68 162.16 261.24 164 260.52 164.32 C259.8 164.64 259.48 163.76 259.08 162.88 C258.68 162 258.28 160.16 258.12 159.04 C257.96 157.92 257.72 156.8 258.12 156.16Z" fill="none" stroke="#6a6a6a" stroke-width="0.42" stroke-opacity="1.0"/>
<path d="M258.9 157.2 C259.19 156.73 259.95 156.53 260.65 156.5 C261.35 156.47 262.58 156.79 263.1 157.03 C263.62 157.26 263.86 157.29 263.8 157.9 C263.74 158.51 263.27 159.82 262.75 160.7 C262.23 161.57 261.17 162.92 260.65 163.15 C260.12 163.38 259.89 162.74 259.6 162.1 C259.31 161.46 259.02 160.12 258.9 159.3 C258.78 158.48 258.61 157.67 258.9 157.2Z" fill="none" stroke="#6a6a6a" stroke-width="0.42" stroke-opacity="1.0"/>
<path d="M259.67 152.9h.01M257.45 166.21h.01M255.74 153.22h.01M264.73 147.54h.01M261.87 152.3h.01M264.82 161h.01M255.57 166.79h.01M264.37 139.12h.01M253.66 159.36h.01M259.48 162.07h.01M258.92 167.2h.01M250.16 164.51h.01M261.07 155.2h.01M260.07 153.55h.01M271.57 158.38h.01M260.63 157.13h.01M260.83 147.3h.01M253.69 168.68h.01M263.62 156.27h.01M271.71 149.32h.01M251.31 152.81h.01M253.87 164.39h.01M265.67 164.07h.01M258.29 153.34h.01M266.41 144.03h.01M265.06 147.85h.01M254.36 159.39h.01M255.66 152.33h.01M258.03 148.39h.01M260.05 157.85h.01M254.07 161.56h.01M257.47 152.62h.01M265.19 171.73h.01M256.69 162.05h.01M255.56 165.27h.01M251.86 173.6h.01M257.36 168.22h.01M264.41 167.26h.01M258.94 157.82h.01M262.64 153.01h.01M259.2 159.63h.01M245.66 173.52h.01M252.38 168.12h.01M265.94 172.65h.01M255.39 153.29h.01M258.36 157.22h.01M260.17 165.19h.01M267.71 156.15h.01M271.77 148.93h.01M248.22 172.27h.01M268.05 150.13h.01M257.27 160.81h.01M270.77 151.92h.01M264.48 157.81h.01M258.05 155.01h.01M262.61 175.15h.01M263.48 147.44h.01M257.15 154.5h.01M268.71 148.14h.01M256.06 169.56h.01M261.23 160.41h.01M265.63 162.39h.01M261.07 163.46h.01M274.04 152.92h.01M267 162.58h.01M253.94 157.33h.01M253.79 170.8h.01M251.91 166.59h.01M267.02 149.01h.01M259.91 155.55h.01M270.85 162.01h.01M253.8 166.8h.01M248.99 151.66h.01M262.31 174.21h.01M243.73 171.29h.01M262.53 161.83h.01M269.48 160.02h.01M247.65 170.33h.01M244.36 179.2h.01M261.99 147.47h.01M255.41 154.42h.01M256.66 148.11h.01M257.54 161.42h.01M258.95 170.72h.01M250.49 152.52h.01M253.86 146.02h.01M257.72 159.32h.01M265.04 138.8h.01M262.22 164.49h.01M262 167.95h.01M259.67 161.72h.01M255.04 164.09h.01M246.78 160.91h.01M252.1 166.25h.01M262.92 139.42h.01M266.72 149.26h.01M255.42 159.78h.01M258.49 159.76h.01M259.61 163.84h.01M249.71 170.9h.01M254.03 163.95h.01M267.85 158.73h.01M259.11 176.5h.01M261.96 164.37h.01M251.79 154.56h.01M251.32 163.47h.01M261.85 160.62h.01M249.24 161.53h.01M261.65 159.72h.01M254.92 168.94h.01M255.41 172.44h.01M263.28 172.92h.01M264.04 164.51h.01M262.53 132.89h.01M255.68 152.13h.01M251.9 165.12h.01M254.79 166.76h.01M259.02 153.02h.01M264.01 150.73h.01M249.21 154.53h.01M249.76 172.31h.01M263.44 143.35h.01M254.32 168.76h.01M261.56 165h.01M249 155.12h.01M258.62 152.72h.01M261.01 153.6h.01M258.12 148.6h.01M265.42 145.58h.01M252.25 156.37h.01M261.83 163.27h.01M256.48 172.02h.01M245.68 161.88h.01M256.72 175.3h.01M255.99 158.09h.01M259.97 160.74h.01M262.32 168.86h.01M263 147.54h.01M258.55 162.97h.01M261.04 159.08h.01M259.12 163.62h.01M257.88 166.01h.01M258.22 167.79h.01M252.95 152.7h.01M267.11 165.89h.01M256.76 166.05h.01M252.44 171.8h.01M251.89 161.86h.01M259.78 157.38h.01M257.8 152.72h.01" stroke="#8a8a8a" stroke-width="0.6" stroke-linecap="round" fill="none"/>
<path d="M250.48 158.11h.01M249.94 173.11h.01M261.66 166.26h.01M261.4 142.31h.01M268.81 169.62h.01M258.42 162.44h.01M257.78 168.71h.01M258.93 150.55h.01M258.46 148.12h.01M244.14 159.79h.01M268.37 167.34h.01M249.86 159.32h.01M260.33 162.02h.01M256.88 159.36h.01M263.27 173.48h.01M258.44 169.8h.01M263.04 144.54h.01M251.25 151.92h.01M253.92 158.66h.01M252.25 177.92h.01M264.55 154.11h.01M263.6 175.13h.01M248.47 163.91h.01M270.85 154.26h.01M268.57 170.54h.01M252.96 145.49h.01M266.58 155.79h.01M253.81 157.62h.01M264.39 173.98h.01M269.66 169.12h.01" stroke="#aaa" stroke-width="0.56" stroke-linecap="round" fill="none"/>
<path d="M250 175 L256 175 L256 187 L251 188 Z" fill="#aaa" fill-opacity="0.8" filter="url(#b8)"/>
<path d="M252 176 C252.08 176.83 252.33 179.33 252.5 181 C252.67 182.67 252.92 185.17 253 186" fill="none" stroke="#777" stroke-width="0.45" stroke-opacity="1.0"/>
<path d="M251.5 186.2 C253.25 186.17 258.25 185.98 262 186 C265.75 186.02 270 186.22 274 186.3 C278 186.38 284 186.47 286 186.5" fill="none" stroke="#6a6a6a" stroke-width="0.45" stroke-opacity="1.0"/>
<path d="M251.5 187.15 C253.25 187.12 258.25 186.93 262 186.95 C265.75 186.97 270.42 187.17 274 187.25 C277.58 187.33 281.92 187.42 283.5 187.45" fill="none" stroke="#6a6a6a" stroke-width="0.45" stroke-opacity="1.0"/>
<path d="M251.5 188.1 C253.25 188.07 258.25 187.88 262 187.9 C265.75 187.92 270.83 188.12 274 188.2 C277.17 188.28 279.83 188.37 281 188.4" fill="none" stroke="#6a6a6a" stroke-width="0.45" stroke-opacity="1.0"/>
<path d="M251.5 189.05 C253.25 189.02 258.25 188.83 262 188.85 C265.75 188.87 271.25 189.07 274 189.15 C276.75 189.23 277.75 189.32 278.5 189.35" fill="none" stroke="#6a6a6a" stroke-width="0.45" stroke-opacity="1.0"/>
<path d="M251.5 190 C253.25 189.97 258.25 189.78 262 189.8 C265.75 189.82 271.67 190.02 274 190.1 C276.33 190.18 275.67 190.27 276 190.3" fill="none" stroke="#6a6a6a" stroke-width="0.45" stroke-opacity="1.0"/>
<path d="M250 186 L262 185.5 L272 186.5 L273 189 L262 190.5 L250 190 Z" fill="#999" fill-opacity="0.6" filter="url(#b9)"/>
<path d="M251.5 185 C250 187 250.5 190 254 190" fill="none" stroke="#222" stroke-width="0.8" stroke-opacity="1.0"/>
<path d="M345 195 L345.5 183 L349 168 L355 152 L359 138 L361 128 L368 125 L379 125 L377 134 L373 150 L369 165 L365 180 L360 193 L354 196 Z" fill="#c0c0c0" fill-opacity="0.75" filter="url(#b16)"/>
<path d="M350.47 177.92h.01M356.01 176.69h.01M364.07 151.56h.01M365.21 150.13h.01M362.33 136.67h.01M375.66 149.11h.01M349.12 187.21h.01M375.88 135.99h.01M372.86 144.33h.01M356.75 178.61h.01M357.48 181.73h.01M368.81 142.33h.01M362.11 167.04h.01M359 140.2h.01M355.54 182.51h.01M369.08 145.25h.01M375.27 152.39h.01M350.71 186.93h.01M358.63 147.37h.01M364.11 153.34h.01M349.39 165.7h.01M365.05 133.76h.01M347.04 186.05h.01M357.33 168.17h.01M372.57 139.69h.01M347.91 180.65h.01M353.97 178.13h.01M364.2 148.98h.01M365.75 133.74h.01M362.44 157.94h.01M363.88 154.76h.01M362.4 147.34h.01M369.58 142.7h.01M354.46 183.28h.01M348.49 185.58h.01M374.06 139.55h.01M368.36 135.28h.01M359.51 175.84h.01M369.47 133.36h.01M360.62 164.08h.01M356.12 181.47h.01M352.89 171.22h.01M364.99 149.92h.01M354.36 158.72h.01M351.29 184.47h.01M372.38 141.81h.01M373.98 149.6h.01M356.45 161.92h.01M361.45 164.41h.01M359.36 159.56h.01M362.29 148.14h.01M355.16 187.76h.01M359.53 189.95h.01M375.06 136.72h.01M352.69 160.2h.01M360.38 142.21h.01M361.95 157.54h.01M344.15 176.1h.01M377.47 133.22h.01M358.52 165.4h.01M358.93 179.16h.01M358.94 136.93h.01M357.04 163.92h.01M358.8 170.53h.01M353.2 162.71h.01M367.27 130.24h.01M362.61 158.42h.01M358.87 159.34h.01M359.43 156.97h.01M363.3 187.16h.01M364.45 165.18h.01M360.58 176.91h.01M363.94 146.09h.01M364.69 164.49h.01M368.66 132.8h.01M367.19 138.7h.01M355.19 183.21h.01M352.69 158.91h.01M362.19 161.32h.01M369.55 161.17h.01M363.21 161.57h.01M357.39 174.59h.01M355.78 178.5h.01M347.74 185.49h.01M351.54 186.71h.01M358.1 182.02h.01M360.45 174.02h.01M356.45 142.58h.01M357.99 176.72h.01M356.01 150.72h.01M364.83 149.52h.01M368.36 159.42h.01M370.53 150.32h.01M370.93 156.17h.01M374.64 136.64h.01M360.94 130.27h.01M359.39 153.55h.01M364.5 143.61h.01M358.08 172.33h.01M366.79 144.05h.01M361.41 165.7h.01M356.56 174.33h.01M364.79 148.08h.01M365.24 146.4h.01M366.27 135.21h.01M354.26 165.62h.01M365.32 150.17h.01M360.41 166.57h.01M362.44 156.75h.01M363.64 162.06h.01M351.09 183.62h.01M364.09 160.95h.01M369.32 136.36h.01M364.11 175.46h.01M355.75 165.68h.01M348.12 184.6h.01M359.91 150.91h.01M367.79 148.31h.01M367.12 140.74h.01M357.87 167.89h.01M365.14 146.16h.01M357.95 168.47h.01M361.73 162.46h.01M356.7 168.03h.01M362.75 154.42h.01M364.75 143.58h.01M363.91 142.64h.01M371.39 142.22h.01M359.51 163.85h.01M362.97 167.53h.01M358.02 172.92h.01M353.88 175.6h.01M351.51 182.03h.01M361.98 163.37h.01M353.43 188.99h.01M352.31 180.26h.01M357.44 129.1h.01M346.39 180.67h.01M356.44 178.13h.01M373.09 148.48h.01M368.26 142.73h.01M372.17 146.87h.01M371.98 141.85h.01M361.49 176.82h.01M369.15 146.71h.01M365.71 138.97h.01M354.9 138.56h.01M374.06 136.23h.01M362.79 158.52h.01M370.82 130.86h.01M366.4 140.98h.01M370.26 162.89h.01M358.84 153.05h.01M354.81 159.23h.01M361.4 143.94h.01M365.79 170.1h.01M353.17 168.56h.01M343.08 188.22h.01M369.43 156.7h.01M364.35 149.21h.01M374.3 137.98h.01M357.77 157.05h.01M367.91 128.13h.01M375.08 134.89h.01M367 156.05h.01M362.1 145.49h.01M371.16 130.44h.01M362.63 136.05h.01M353.6 164.34h.01M366.77 145.66h.01M358.5 171.7h.01M361.51 186.51h.01M356.44 168.1h.01M356.85 166.16h.01M370.82 154.74h.01M360.42 179.19h.01M360.93 158.23h.01M363.79 144.23h.01M350.5 185.15h.01M359.44 154.73h.01M368.9 130.7h.01M372.61 139.17h.01M358.09 164.03h.01M356.31 182.71h.01M355.89 185.91h.01M372.76 132.52h.01M363.34 169.3h.01M346.49 185.89h.01M369.39 151.64h.01M369.18 149.92h.01M362.49 166.64h.01M361.24 141.36h.01M359.07 161.9h.01M354.37 171.76h.01M359.01 164.38h.01M359.07 167.62h.01M364.02 154.67h.01M366.26 161.03h.01M353.94 176.69h.01M372.41 136.66h.01M355.76 179.78h.01M353.05 184.61h.01M361.07 160.64h.01M361.99 159.76h.01M353.74 173.64h.01M367.11 133.1h.01M364.42 156.34h.01M351.21 183.91h.01M367.37 128.77h.01M357.72 157.63h.01M361.57 140.94h.01M361.97 157.85h.01M352.77 177.55h.01M363.71 145.93h.01M359.42 171.73h.01M359.4 178.43h.01M365.73 164.17h.01M363.17 159.15h.01M361.97 167.75h.01M351.86 179.66h.01" stroke="#999" stroke-width="0.6" stroke-linecap="round" fill="none"/>
<path d="M345.85 194 C346.62 191.33 348.95 183.67 350.5 178 C352.05 172.33 353.63 165.5 355.15 160 C356.67 154.5 358.3 149.5 359.62 145 C360.95 140.5 362.08 135.83 363.1 133 C364.12 130.17 365.31 128.83 365.75 128" fill="none" stroke="#555" stroke-width="0.5" stroke-opacity="1.0"/>
<path d="M348.05 194 C348.79 191.33 351.02 183.67 352.5 178 C353.98 172.33 355.51 165.5 356.95 160 C358.39 154.5 359.9 149.5 361.12 145 C362.35 140.5 363.36 135.83 364.3 133 C365.24 130.17 366.34 128.83 366.75 128" fill="none" stroke="#777" stroke-width="0.45" stroke-opacity="1.0"/>
<path d="M350.25 194 C350.96 191.33 353.08 183.67 354.5 178 C355.92 172.33 357.4 165.5 358.75 160 C360.1 154.5 361.5 149.5 362.62 145 C363.75 140.5 364.65 135.83 365.5 133 C366.35 130.17 367.38 128.83 367.75 128" fill="none" stroke="#888" stroke-width="0.4" stroke-opacity="1.0"/>
<path d="M355.75 194 C356.38 191.33 358.25 183.67 359.5 178 C360.75 172.33 362.1 165.5 363.25 160 C364.4 154.5 365.5 149.5 366.38 145 C367.25 140.5 367.85 135.83 368.5 133 C369.15 130.17 369.96 128.83 370.25 128" fill="none" stroke="#888" stroke-width="0.4" stroke-opacity="1.0"/>
<path d="M357.95 194 C358.54 191.33 360.32 183.67 361.5 178 C362.68 172.33 363.99 165.5 365.05 160 C366.11 154.5 367.1 149.5 367.88 145 C368.65 140.5 369.14 135.83 369.7 133 C370.26 130.17 370.99 128.83 371.25 128" fill="none" stroke="#777" stroke-width="0.45" stroke-opacity="1.0"/>
<path d="M360.15 194 C360.71 191.33 362.38 183.67 363.5 178 C364.62 172.33 365.87 165.5 366.85 160 C367.83 154.5 368.7 149.5 369.38 145 C370.05 140.5 370.42 135.83 370.9 133 C371.38 130.17 372.02 128.83 372.25 128" fill="none" stroke="#555" stroke-width="0.5" stroke-opacity="1.0"/>
<ellipse cx="360" cy="162" rx="1.4" ry="14" fill="#f2f2f2" fill-opacity="0.7" transform="rotate(15 360 162)" filter="url(#b10)"/>
<path d="M361.5 133 C361 127 368 124.8 378.5 125.2 C378.5 129 376.5 132 373 133.5" fill="none" stroke="#333" stroke-width="0.9" stroke-opacity="1.0"/>
<path d="M364 131 C365 128 370 127 375.5 127.5" fill="none" stroke="#666" stroke-width="0.5" stroke-opacity="1.0"/>
<path d="M386.5 133.72h.01M372.95 179.45h.01M365.77 188.59h.01M351.33 176.99h.01M384 189h.01M381.51 157.68h.01M367.01 185.71h.01M361.33 145.36h.01M346.35 141.88h.01M351.04 191.2h.01M358.29 151.96h.01M386.91 174.99h.01M363.66 135.17h.01M360.71 147.78h.01M385.79 156.61h.01M386.83 146.37h.01M347.04 189.15h.01M348.23 181.59h.01M370.6 147.3h.01M380.87 157.18h.01M387.29 165.95h.01M385.58 191.28h.01M361.18 175.01h.01M376.31 172.55h.01M346 174.79h.01M377.75 141.17h.01M349.09 132.59h.01M368.4 135.22h.01M381.46 156.24h.01M387.81 177.91h.01M363.42 140.42h.01M363.34 169.28h.01M382.04 188.65h.01M358.96 129.59h.01M373.58 174.74h.01M372.84 182.62h.01M379.92 170.53h.01M380.33 136.51h.01M385.68 173.32h.01M349.06 139.46h.01M372.58 148.81h.01M385.3 146.97h.01M365.89 162.24h.01M385.42 148.66h.01M383.36 177.19h.01M369.47 192.34h.01M383 178.96h.01M368.46 130.98h.01M354.49 172.25h.01M350.03 171.74h.01" stroke="#b0b0b0" stroke-width="0.56" stroke-linecap="round" fill="none"/>
<path d="M448.5 187 L448 170 L449 158 L452 153 L456 158 L457 172 L456 187 Z" fill="#a0a0a0" fill-opacity="0.85" filter="url(#b13)"/>
<path d="M455.8 170 L455.64 173.18 L455.38 176.18 L454.97 178.86 L454.42 181.08 L453.79 182.93 L453.09 184.5 L452.3 185.5 L451.45 185.44 L450.67 184.11 L450.02 181.91 L449.49 179.35 L449.03 176.57 L448.69 173.43 L448.59 170 L448.77 166.64 L449.14 163.66 L449.61 161.06 L450.15 158.78 L450.8 156.99 L451.53 155.93 L452.3 155.56 L453.09 155.6 L453.91 156.06 L454.73 157.32 L455.39 159.72 L455.77 163.03 L455.87 166.6Z" fill="none" stroke="#666" stroke-width="0.42" stroke-opacity="1.0" stroke-linejoin="round"/>
<path d="M455 170 L455.05 172.62 L454.88 175.17 L454.49 177.29 L454 178.91 L453.48 180.18 L452.91 181.15 L452.3 181.56 L451.69 181.16 L451.14 180.06 L450.67 178.54 L450.26 176.79 L449.94 174.74 L449.75 172.42 L449.72 170 L449.79 167.61 L449.91 165.2 L450.11 162.72 L450.47 160.46 L451.02 158.92 L451.66 158.36 L452.3 158.57 L452.89 159.22 L453.43 160.22 L453.9 161.63 L454.27 163.44 L454.56 165.46 L454.81 167.61Z" fill="none" stroke="#666" stroke-width="0.42" stroke-opacity="1.0" stroke-linejoin="round"/>
<path d="M454.4 170 L454.32 171.92 L454.11 173.63 L453.8 174.97 L453.44 175.98 L453.1 176.9 L452.73 177.82 L452.3 178.51 L451.83 178.61 L451.37 178.01 L450.98 176.9 L450.65 175.47 L450.4 173.8 L450.27 171.93 L450.28 170 L450.39 168.18 L450.56 166.5 L450.76 164.89 L451.05 163.44 L451.42 162.41 L451.86 161.95 L452.3 161.92 L452.73 162.07 L453.18 162.41 L453.61 163.15 L453.98 164.43 L454.23 166.14 L454.36 168.04Z" fill="none" stroke="#666" stroke-width="0.42" stroke-opacity="1.0" stroke-linejoin="round"/>
<path d="M449.5 181 C450 186 451 190.5 452.3 190.5 C453.5 190.5 454.5 186 455 181" fill="none" stroke="#222" stroke-width="0.8" stroke-opacity="1.0"/>
<path d="M450 176 C451 181 452 184 453 181 C454 178 454.5 175 455 173" fill="none" stroke="#444" stroke-width="0.6" stroke-opacity="1.0"/>
<path d="M462 186 L462.5 170 L472 160 L486 148 L497 141 L499 156 L490 165 L478 175 L467 184 Z" fill="#c8c8c8" fill-opacity="0.8" filter="url(#b18)"/>
<path d="M473.43 172.37h.01M487.82 148.71h.01M489.22 148.41h.01M494.32 154.35h.01M484.47 153.11h.01M498.5 163.19h.01M479.92 159.57h.01M490.19 161.99h.01M464.12 169.22h.01M486.29 172.11h.01M475.31 183.89h.01M464.52 167.23h.01M478.36 160.22h.01M470.59 168.33h.01M481.41 165.49h.01M468.08 177.36h.01M473.51 183.48h.01M490.45 159.66h.01M481.96 162.99h.01M495.89 161.54h.01M488.41 162.99h.01M481.49 189.36h.01M486.88 165.93h.01M471.37 166.6h.01M476.79 161.59h.01M459.82 159.47h.01M475.59 165.56h.01M462.86 171.99h.01M471.96 161.5h.01M477.8 152.44h.01M484.9 156.08h.01M492.36 143.35h.01M486.01 144.95h.01M469.6 154.02h.01M474.29 176.97h.01M469.55 170.32h.01M474.43 161.67h.01M489.45 163.75h.01M492.46 156.61h.01M468 165.34h.01M479.26 143.54h.01M488.72 152.07h.01M468.14 171.97h.01M479.9 154.82h.01M480.66 165.89h.01M477.56 188.25h.01M484.09 175.27h.01M475.71 166.33h.01M491.57 152.08h.01M472.16 159.74h.01M483.77 170.42h.01M485.68 153.91h.01M473.84 178.27h.01M482.66 175.81h.01M468.37 178.7h.01M467.4 159.21h.01M473.54 172.07h.01M485.55 152.66h.01M488.04 148.17h.01M488.26 163.38h.01M480.32 160.53h.01M476.01 170.63h.01M484.88 145.31h.01M491.97 152.89h.01M465.76 180.79h.01M481.62 165.99h.01M459.45 176.47h.01M466.56 176.99h.01M472.55 165.81h.01M463.83 174.54h.01M473.26 182.92h.01M466.16 159.5h.01M486.64 166.13h.01M481.26 171.13h.01M476.17 166.26h.01M474.87 164.35h.01M458.77 170.92h.01M467.84 164.41h.01M475.99 165.4h.01M494.41 144.62h.01M481.4 173.83h.01M484.02 158.2h.01M488.21 173.13h.01M486.54 146.27h.01M467.29 168.88h.01M484.84 155.39h.01M494.52 146.52h.01M486.75 157.08h.01M480.03 157.24h.01M469.29 181.84h.01M488.18 152.74h.01M467.42 164.13h.01M471.18 160.3h.01M485.71 150.42h.01M464.89 178.02h.01M468.81 163.28h.01M490.88 166.86h.01M477.05 173.01h.01M489.55 159.83h.01M489.08 152.18h.01M477.53 154.14h.01M485.14 148.32h.01M468.16 169.55h.01M488.83 164.71h.01M476.36 159.05h.01M481.34 177.59h.01M485.2 168.02h.01M490.01 151.88h.01M481.15 171.52h.01M480.41 168.35h.01M471.54 174.24h.01M493.7 153.42h.01M476.88 166.81h.01M484.96 158.87h.01M467.68 175.12h.01M492.89 155.93h.01M471.32 165.95h.01M479.35 151.16h.01M481.52 174.26h.01M494.15 166.77h.01M478.28 165.41h.01M493.68 156.37h.01M493.51 161.79h.01M469.58 165.84h.01M502.32 160.1h.01M459.35 165.04h.01M490.74 145.35h.01M481.25 171.19h.01M461.81 167.59h.01M488.94 164.35h.01M481.02 176.45h.01M463.39 155.99h.01M487.76 167.9h.01M477.55 168.82h.01M479.12 152.97h.01M475.24 167.74h.01M473.4 158h.01M467.07 175.82h.01M491.47 145.13h.01M469.21 157.72h.01M496.36 149.68h.01M481.37 146.76h.01M497.17 154.72h.01M456.16 165.1h.01M479.04 177.6h.01M482.13 162.83h.01M466.2 168.59h.01M488.39 158.39h.01M482.89 170.3h.01M472.73 163.18h.01M466.79 166.02h.01M483.39 139.7h.01M482.59 153.28h.01M482.89 160.1h.01M499.09 166.64h.01M494.29 148.51h.01M473.79 182.78h.01M459.85 173.33h.01M475.65 161.33h.01M489.6 152.86h.01M480.41 162.59h.01M491.47 158.75h.01M466 176.86h.01M478.54 158.05h.01M485.01 175.46h.01M468.79 173.34h.01M474.18 176.68h.01M470.9 163.23h.01M489.17 159.99h.01M494.04 156.93h.01M497.23 162.26h.01M486.17 159.98h.01M474.01 170.29h.01M492.94 159.55h.01M492.81 159.96h.01M458.72 171.83h.01M488.54 167.01h.01M489.53 149.83h.01M465.04 170.85h.01M475.74 172.15h.01M480.53 161.56h.01M482.54 158.94h.01M466.37 174.88h.01M474.3 159.13h.01M487.02 154.74h.01M483.92 142.34h.01M464.39 172.3h.01M491.26 162.15h.01M460.92 177.02h.01M488.51 156.25h.01" stroke="#999" stroke-width="0.56" stroke-linecap="round" fill="none"/>
<path d="M481.31 164.47h.01M477.86 167.12h.01M492.64 150.8h.01M478.97 162.33h.01M486.37 161.18h.01M491.3 145.72h.01M475.43 167.08h.01M485.98 164.78h.01M484.79 150.34h.01M484.69 141.51h.01M494.02 146.1h.01M494.5 142.28h.01M483.59 161.87h.01M479.54 157.37h.01M487.72 149.4h.01M469.47 163.34h.01M484.37 149.34h.01M473.82 151.28h.01M481.12 160.63h.01M487.41 160.83h.01M469.98 171h.01M480.55 143.96h.01M487.97 145.47h.01M499.68 155.89h.01M494.6 162.03h.01M484.66 162.35h.01M488.02 170.95h.01M477.53 158.29h.01M501.72 148.74h.01M475.56 150.52h.01M485.71 137.71h.01M471.02 156.58h.01M489.58 155.49h.01M492.47 154.76h.01M484.79 167.69h.01M471.07 158.5h.01M482.75 161.16h.01M488.82 162.79h.01M467.11 174.56h.01M486.28 162.89h.01M474.31 150.17h.01M501.12 149.47h.01M471.27 164h.01M489.46 154.91h.01M492.29 154.16h.01M493.85 146.76h.01M492.53 155.9h.01M478.52 161.01h.01M483.09 154.65h.01M482.44 155.27h.01M477.8 148.69h.01M483.68 150.45h.01M488.12 165.21h.01M467.12 175.55h.01M468.55 174.87h.01M478.47 151.37h.01M482.04 158.55h.01M479.32 160.65h.01M481.93 132.27h.01M476.22 161.06h.01M478.42 146.58h.01M499.94 153.35h.01M483.95 142.8h.01M471.35 159.41h.01M505.18 163.05h.01M473.55 156.19h.01M476.93 152.83h.01M469.63 160.62h.01M466.99 157.75h.01M491.73 146.88h.01M493.39 158.21h.01M492.29 153.54h.01M489.29 149.87h.01M482.88 136.72h.01M491.24 140.29h.01M478.02 151.46h.01M492.56 154.08h.01M470.2 157.74h.01M484.45 158.03h.01M492.51 155.96h.01M491.95 159h.01M484.58 151.81h.01M482.19 157.61h.01M471.09 158.58h.01M478.97 163.08h.01M474.6 170.4h.01M491.21 149.64h.01M496.9 142.78h.01M500.13 169.12h.01M491.78 155.32h.01M489.84 154.41h.01M479.16 151.69h.01M486.14 148.17h.01M473.22 170.94h.01M485.15 160.33h.01M490.36 158.31h.01M478.03 147h.01M473.47 168.85h.01M492.26 158.94h.01M475.07 159.59h.01M488.69 158.33h.01M485.15 153h.01M474.51 146.88h.01M487.02 160.92h.01M479.4 149.19h.01M489.86 150.75h.01M467.14 160.7h.01M484.17 149.23h.01M481.32 167.34h.01M474.13 152.04h.01" stroke="#a5a5a5" stroke-width="0.56" stroke-linecap="round" fill="none"/>
<path d="M490.6 155.85 L491.01 157.38 L490.6 159.33 L489.38 161.54 L487.67 163.73 L485.87 165.82 L484.01 167.96 L481.79 170.22 L479.06 172.37 L476.08 174.02 L473.22 175.04 L470.64 175.53 L468.4 175.58 L466.67 175.08 L465.71 173.93 L465.53 172.3 L465.87 170.46 L466.5 168.5 L467.56 166.37 L469.32 164.09 L471.7 161.89 L474.35 159.97 L477.02 158.25 L479.79 156.59 L482.71 155.13 L485.53 154.22 L487.87 154.12 L489.55 154.73Z" fill="none" stroke="#999" stroke-width="0.35" stroke-opacity="1.0" stroke-linejoin="round"/>
<path d="M487.97 157.75 L488.29 158.97 L487.94 160.53 L487.25 162.18 L486.33 163.91 L485.01 165.73 L483.17 167.55 L481 169.13 L478.78 170.38 L476.64 171.37 L474.59 172.15 L472.68 172.62 L471.04 172.67 L469.73 172.35 L468.63 171.8 L467.74 171.01 L467.35 169.79 L467.83 168.1 L469.22 166.15 L471.13 164.28 L473.15 162.61 L475.17 161.1 L477.24 159.75 L479.35 158.66 L481.39 157.89 L483.33 157.38 L485.2 157.07 L486.86 157.12Z" fill="none" stroke="#999" stroke-width="0.35" stroke-opacity="1.0" stroke-linejoin="round"/>
<path d="M485.3 159.69 L485.98 160.33 L486.14 161.34 L485.68 162.66 L484.73 164.12 L483.48 165.57 L481.99 166.97 L480.31 168.18 L478.59 169.1 L476.99 169.75 L475.48 170.3 L473.92 170.84 L472.35 171.23 L471.02 171.21 L470.2 170.66 L469.94 169.72 L470.07 168.57 L470.53 167.27 L471.4 165.87 L472.66 164.44 L474.18 163.12 L475.77 161.93 L477.4 160.82 L479.1 159.84 L480.78 159.17 L482.24 158.94 L483.4 159.05 L484.39 159.32Z" fill="none" stroke="#999" stroke-width="0.35" stroke-opacity="1.0" stroke-linejoin="round"/>
<path d="M483.29 161.15 L483.74 161.64 L484 162.3 L483.83 163.22 L483.18 164.32 L482.21 165.44 L481.08 166.52 L479.85 167.55 L478.5 168.48 L477.11 169.19 L475.8 169.61 L474.65 169.79 L473.65 169.79 L472.84 169.59 L472.35 169.1 L472.26 168.36 L472.44 167.5 L472.72 166.61 L473.08 165.65 L473.7 164.55 L474.72 163.38 L476.05 162.31 L477.49 161.44 L478.89 160.8 L480.21 160.37 L481.34 160.22 L482.2 160.37 L482.8 160.73Z" fill="none" stroke="#999" stroke-width="0.35" stroke-opacity="1.0" stroke-linejoin="round"/>
<path d="M72.87 255.96h.01M84.47 263.38h.01M105.91 243.06h.01M73.64 289.24h.01M94.13 260.23h.01M61.48 234.32h.01M68.62 251.42h.01M69.67 239.67h.01M72.76 261.59h.01M48.53 267.46h.01M87.44 235.48h.01M57.92 224.64h.01M72.18 268.58h.01M68.35 262.63h.01M80.72 225.06h.01M45.44 256.99h.01M101.18 270.72h.01M70.53 239.92h.01M50.44 266.59h.01M90.93 249.1h.01M47.46 241.12h.01M87.26 275.19h.01M67.62 283.22h.01M66.94 223.63h.01M55.1 283.42h.01M87.16 227.98h.01M60.33 249.24h.01M72.8 223.75h.01M101 258.65h.01M58.89 224.17h.01M78.56 286.37h.01M88 281.26h.01M97.91 267.89h.01M45.65 243.46h.01M79.24 250.71h.01M55.9 226.67h.01M97.39 268.03h.01M61.13 254.43h.01M97.84 231.94h.01M82.26 238.08h.01M99.91 277.23h.01M102.68 248.42h.01M74.48 244.18h.01M64.48 287.79h.01M104.06 290.6h.01M100.13 255.77h.01M84.27 284.65h.01M69.57 285.4h.01M93.02 241.6h.01M65.01 269.65h.01M52.5 239.66h.01M54.4 229.37h.01M100.13 290.83h.01M94.51 256.77h.01M89.75 269.4h.01M70.24 257.91h.01M50.17 238.7h.01M64 246.64h.01M84.19 238.67h.01M57.21 282.35h.01M92.05 286.32h.01M91.85 235.46h.01M73.22 279.54h.01M93.61 237.75h.01M72.88 262.65h.01M42.71 238.81h.01M89.46 268h.01M70.62 261.4h.01M75.77 245.86h.01M47.45 273.2h.01M91.44 252.01h.01M91.25 279.1h.01M86.26 277.76h.01M103.85 224.75h.01M102.29 253.21h.01M91.78 272.86h.01M48.3 262.47h.01M47.71 272.49h.01M63.68 247.98h.01M59.47 277.87h.01M83.01 242.6h.01M89.43 234.79h.01M93.33 263.71h.01M91.02 264.52h.01M105.07 269.96h.01M71.69 262.75h.01M78.28 241.69h.01M61.6 277.12h.01M94.35 288.6h.01M85.92 256.83h.01M67.28 270.66h.01M83.54 287.08h.01M89.85 248.48h.01M59.82 225.1h.01M91.94 251.52h.01M67.24 225.65h.01M73.7 283.98h.01M59.74 273.29h.01M90.57 267.56h.01M80.14 239.21h.01M85.17 262.33h.01M103.88 257.55h.01M64.69 284.52h.01M81.97 245.55h.01M83.59 232.52h.01M54.08 283.01h.01M71.65 277.33h.01M55.74 254.48h.01M57.18 277.35h.01M80.22 249.15h.01M66.61 236.58h.01M55.47 269.64h.01M61.98 229.21h.01M66.69 253.25h.01M105.24 248.59h.01M67.81 289.07h.01M88.15 253.66h.01M67.48 237.54h.01M51.76 254.59h.01M82.99 229.31h.01M72.49 233.95h.01M80.51 245.77h.01M84.61 276.01h.01M67.89 248.4h.01M47.05 236.61h.01M81.78 277.67h.01M50.87 289.35h.01M100.51 247.23h.01M76.5 268.41h.01M63.07 247.28h.01M88.19 255.43h.01M69.96 260.83h.01M49.44 254.47h.01M60.85 233.54h.01M75.56 270.46h.01M75.66 256.43h.01M84.87 251.09h.01M104.83 236.77h.01M42.53 261.23h.01M86.5 248.39h.01M67.54 245.66h.01M57.56 276.63h.01M97.25 241.26h.01M78.13 253.72h.01M50.42 272.61h.01M76.04 290.36h.01M100.23 284.33h.01M58.76 229.57h.01M93.85 229.47h.01M85.99 234.11h.01M87.13 225.71h.01M47.6 281.88h.01M74.99 253.08h.01M104.21 276.12h.01M56.44 270.71h.01M66.67 254.01h.01M62.03 237.67h.01M61.37 240.82h.01M54.09 282.29h.01M66.25 260.68h.01M93.92 268.8h.01M52.02 287.75h.01M101.63 279.91h.01M63.09 279.29h.01M83.08 224.16h.01M66.16 270.16h.01M76.83 287.4h.01M92.6 279.7h.01M104.74 245.67h.01M100.1 222.17h.01M93.11 228.06h.01M73.97 252.44h.01M46.6 265.92h.01M92.4 237.42h.01M57.69 275.19h.01M75.83 223.27h.01M61.63 287.12h.01M59.66 241.96h.01M70.87 283.17h.01M93.8 248.57h.01M84.63 223.91h.01M46.15 247.67h.01M82.58 231.7h.01M44.74 280.88h.01M53.91 225.77h.01M47.48 227.45h.01M60.3 261.94h.01M84.01 241.72h.01M74.98 244.94h.01M79.11 229.53h.01M81.94 222.02h.01M101.06 236.44h.01M77.48 235.01h.01M70.45 240.25h.01M83.02 275.77h.01M96.05 289.22h.01M71.14 259.91h.01M64.49 241.89h.01M74.52 289.15h.01M45.56 273.57h.01M62.66 263.24h.01M59 271.6h.01M73.76 243.4h.01M70.67 222.32h.01M48.28 284.64h.01M47.27 249.43h.01M84.85 224.5h.01M101.59 236.26h.01M103.59 251.92h.01M79.51 263.66h.01M47.69 256.93h.01M89.96 276.48h.01M89.01 268.95h.01M50.19 250.23h.01M74.59 224.8h.01M91.02 229.05h.01M78.11 240.43h.01M52.43 287.73h.01M81.69 272.55h.01M80.81 260.94h.01M97.84 226.37h.01M66.22 237.11h.01M80.17 249.21h.01M100.93 238.09h.01M59.23 285.29h.01M88.14 251.61h.01M65.9 272.65h.01M51.51 271.81h.01M56.51 277.63h.01M46.73 285.08h.01" stroke="#999" stroke-width="0.6" stroke-linecap="round" fill="none"/>
<path d="M53.18 260.87h.01M58.47 281.8h.01M76.84 264.99h.01M53.22 266.29h.01M48.75 258.58h.01M73.73 248.48h.01M62.54 276.88h.01M48.49 258.83h.01M69.49 250.11h.01M52.09 256.84h.01M70.99 266.51h.01M58.77 257.74h.01M57.3 286.62h.01M60.68 266.8h.01M64.68 273.5h.01M59.05 229.28h.01M74.25 255.07h.01M56.72 270.99h.01M55.8 268.55h.01M59.36 277.4h.01M53.65 245.35h.01M59.45 224.33h.01M55.81 279.82h.01M70.94 224.46h.01M49.07 246.53h.01M68.61 263.91h.01M53.61 231.21h.01M72.58 244.19h.01M61.5 245.32h.01M63.38 249.8h.01M63.21 277.3h.01M46.47 287.26h.01M57.13 269.1h.01M68 258.88h.01M59.99 251.78h.01M64.28 265.66h.01M66.34 252.52h.01M57.72 272.24h.01M52.93 262.29h.01M63.68 239.69h.01M58.71 248.44h.01M59.97 243.43h.01M68.43 278.37h.01M65.36 272.4h.01M49.88 277.44h.01M69.22 267.6h.01M62.48 282.55h.01M60.66 265.1h.01M66.54 288.86h.01M73.13 276.33h.01M70.66 265.56h.01M50.78 242.36h.01M55.98 270.71h.01M47.56 285.54h.01M66.6 272.52h.01M67.97 267.35h.01M69.47 239.75h.01M47.89 254.94h.01M66.13 231.67h.01M55.99 260.8h.01M52.93 255.4h.01M43.71 267.86h.01M65.49 251.59h.01M48.49 280.33h.01M48.17 252h.01M64.81 252.69h.01M56.35 241.94h.01M60.23 234.3h.01M67.63 239.48h.01M67.08 245.79h.01M41.17 236.07h.01M51.57 283.29h.01M50.38 254.21h.01M58.08 289.41h.01M62.15 269.32h.01M52.71 263.29h.01M69.42 276.21h.01M47.31 267.16h.01M64.42 266.67h.01M74.37 257.78h.01M78.86 246.87h.01M63.11 248.54h.01M62.5 261.14h.01M58.66 241.1h.01M64.39 271.76h.01M58.78 222.3h.01M68.74 291.1h.01M50.31 254.14h.01M48.48 226.33h.01M45.59 276.17h.01M77.43 258.69h.01M50.28 267.5h.01M53.97 237.66h.01M67.45 272.64h.01M58.74 274.82h.01M49.22 272.8h.01M56.34 236.35h.01M43.86 281.1h.01M50.72 273.15h.01M49.21 245.64h.01M57.14 263.53h.01M59.12 253.11h.01M66.28 264.94h.01M55.22 259.3h.01M54.08 229.3h.01M80.37 276.63h.01M68.42 252.79h.01M74.93 285.44h.01M65.53 255.63h.01M82.58 243.84h.01M63.83 228.39h.01M45.15 257.72h.01M56.83 257.22h.01M51.19 270.82h.01M78.03 248.44h.01M52.85 284.04h.01M65.69 271.76h.01M62.43 269.73h.01M61.66 257.77h.01M52.9 274.12h.01M59.37 267.94h.01M46.01 241.1h.01M50.38 281.97h.01M73.02 279.76h.01M54.82 261.26h.01M63.52 256h.01M84.05 251.35h.01M66.66 252.76h.01M59.62 266.56h.01M44.83 256.26h.01M62.07 287.45h.01M50.35 259.2h.01M53.83 285.44h.01M65.04 253.93h.01M54.56 278.83h.01M52.29 254.89h.01M58.38 266.07h.01M75.54 271.08h.01M60.51 281.96h.01M65.04 280.7h.01M72.01 224.67h.01M47.55 264.82h.01M68 262.9h.01M52.21 274.75h.01M56.91 247.24h.01M55.05 255.25h.01M52.76 229.71h.01M66.78 263.18h.01M55.64 264.41h.01M65.5 261.25h.01M46.61 250.55h.01M44.01 260.38h.01M70.49 276.63h.01M60.26 245.48h.01M55.86 261.85h.01M54.03 229.63h.01M64.87 263.22h.01M73.08 252.89h.01M61.66 280.91h.01M68.05 271.28h.01M47.8 277.29h.01M49.89 264.81h.01M43.1 237.67h.01M53.75 265.75h.01M65.61 266.33h.01M62.24 245.07h.01M64.71 223.35h.01M53.5 252.98h.01M78.95 264.58h.01M54.92 246.79h.01" stroke="#888" stroke-width="0.6" stroke-linecap="round" fill="none"/>
<path d="M52 222 C52.83 220.3 53.67 220.17 56 219.8 C58.33 219.43 63.67 219.43 66 219.8 C68.33 220.17 69.67 219.97 70 222 C70.33 224.03 68.58 228.33 68 232 C67.42 235.67 67.17 240.67 66.5 244 C65.83 247.33 65.42 250.33 64 252 C62.58 253.67 59.83 254.33 58 254 C56.17 253.67 54 252.33 53 250 C52 247.67 52.33 243.33 52 240 C51.67 236.67 51 233 51 230 C51 227 51.17 223.7 52 222Z" fill="#cfcfcf" fill-opacity="0.6" filter="url(#b12)"/>
<path d="M52 222 C52.83 220.3 53.67 220.17 56 219.8 C58.33 219.43 63.67 219.43 66 219.8 C68.33 220.17 69.67 219.97 70 222 C70.33 224.03 68.58 228.33 68 232 C67.42 235.67 67.17 240.67 66.5 244 C65.83 247.33 65.42 250.33 64 252 C62.58 253.67 59.83 254.33 58 254 C56.17 253.67 54 252.33 53 250 C52 247.67 52.33 243.33 52 240 C51.67 236.67 51 233 51 230 C51 227 51.17 223.7 52 222Z" fill="none" stroke="#6a6a6a" stroke-width="0.45" stroke-opacity="1.0"/>
<path d="M55 221 C55.67 219.92 58.17 220.42 60 220.5 C61.83 220.58 65.33 220.25 66 221.5 C66.67 222.75 65 226.58 64 228 C63 229.42 61.33 230.17 60 230 C58.67 229.83 56.83 228.5 56 227 C55.17 225.5 54.33 222.08 55 221Z" fill="none" stroke="#555" stroke-width="0.45" stroke-opacity="1.0"/>
<path d="M56 232 C56.17 233.33 56.67 237.33 57 240 C57.33 242.67 57.83 246.67 58 248" fill="none" stroke="#888" stroke-width="0.4" stroke-opacity="1.0"/>
<path d="M62 230 C62.08 231.33 62.5 235.33 62.5 238 C62.5 240.67 62.08 244.67 62 246" fill="none" stroke="#888" stroke-width="0.4" stroke-opacity="1.0"/>
<path d="M44 288 C42.25 286 44 281.67 44.5 278 C45 274.33 46.08 270 47 266 C47.92 262 48.67 256.67 50 254 C51.33 251.33 53 250.5 55 250 C57 249.5 60.17 250 62 251 C63.83 252 64.33 254.17 66 256 C67.67 257.83 70 259.67 72 262 C74 264.33 76.5 267.17 78 270 C79.5 272.83 80.83 276.17 81 279 C81.17 281.83 81.17 285.25 79 287 C76.83 288.75 72 289 68 289.5 C64 290 59 290.25 55 290 C51 289.75 45.75 290 44 288Z" fill="#c8c8c8" fill-opacity="0.55" filter="url(#b12)"/>
<path d="M43.88 288.08 C42.02 286.08 43.6 281.96 44.16 278.34 C44.71 274.72 46.28 270.44 47.23 266.35 C48.17 262.26 48.59 256.55 49.83 253.79 C51.08 251.03 52.72 250.23 54.69 249.79 C56.66 249.34 59.8 250.06 61.67 251.13 C63.54 252.21 64.15 254.43 65.91 256.22 C67.66 258.01 70.21 259.62 72.18 261.89 C74.16 264.17 76.35 267.03 77.77 269.89 C79.18 272.76 80.5 276.29 80.67 279.1 C80.84 281.91 80.85 285.03 78.78 286.75 C76.72 288.48 72.18 288.86 68.27 289.46 C64.36 290.05 59.38 290.56 55.31 290.34 C51.25 290.11 45.74 290.08 43.88 288.08Z" fill="none" stroke="#555" stroke-width="0.42" stroke-opacity="1.0"/>
<path d="M46.39 286.74 C44.86 284.93 46.02 281.14 46.47 277.94 C46.92 274.75 48.26 271.12 49.09 267.57 C49.91 264.02 50.29 259.02 51.42 256.66 C52.55 254.3 54.12 253.82 55.86 253.4 C57.59 252.99 60.21 253.3 61.82 254.18 C63.43 255.07 63.98 257.05 65.5 258.7 C67.01 260.35 69.09 262.05 70.92 264.09 C72.74 266.13 75.17 268.47 76.44 270.94 C77.72 273.4 78.48 276.34 78.56 278.86 C78.63 281.39 78.74 284.55 76.88 286.09 C75.02 287.64 70.92 287.65 67.38 288.11 C63.85 288.58 59.17 289.08 55.68 288.86 C52.18 288.63 47.93 288.56 46.39 286.74Z" fill="none" stroke="#555" stroke-width="0.42" stroke-opacity="1.0"/>
<path d="M48.46 286.02 C47.13 284.54 48.58 281.35 48.9 278.48 C49.21 275.6 49.68 271.87 50.35 268.77 C51.03 265.67 51.89 261.91 52.97 259.89 C54.05 257.87 55.32 257.11 56.84 256.67 C58.36 256.24 60.64 256.43 62.1 257.26 C63.55 258.09 64.27 260.19 65.57 261.63 C66.88 263.07 68.48 264.14 69.93 265.89 C71.38 267.64 73.17 269.94 74.29 272.14 C75.41 274.34 76.51 276.92 76.66 279.09 C76.8 281.25 76.76 283.83 75.16 285.14 C73.57 286.45 70.16 286.59 67.11 286.95 C64.06 287.32 59.97 287.5 56.86 287.34 C53.76 287.19 49.78 287.49 48.46 286.02Z" fill="none" stroke="#555" stroke-width="0.42" stroke-opacity="1.0"/>
<path d="M50.45 285.2 C49.28 283.95 50.46 281.13 50.78 278.67 C51.11 276.2 51.75 273.08 52.38 270.39 C53 267.69 53.61 264.28 54.52 262.5 C55.43 260.72 56.59 260.05 57.84 259.71 C59.09 259.37 60.86 259.81 62 260.47 C63.14 261.12 63.51 262.4 64.68 263.64 C65.84 264.88 67.59 266.32 69.01 267.91 C70.43 269.5 72.2 271.36 73.19 273.18 C74.17 275.01 74.86 277.07 74.92 278.89 C74.98 280.72 75.03 282.95 73.54 284.13 C72.06 285.31 68.64 285.62 66.02 285.95 C63.4 286.29 60.41 286.25 57.81 286.13 C55.22 286 51.62 286.44 50.45 285.2Z" fill="none" stroke="#555" stroke-width="0.42" stroke-opacity="1.0"/>
<path d="M52.53 284.06 C51.49 283.03 52.31 280.77 52.51 278.69 C52.7 276.6 53.19 273.82 53.71 271.56 C54.22 269.3 54.82 266.53 55.59 265.12 C56.37 263.71 57.25 263.4 58.35 263.1 C59.44 262.79 61.11 262.75 62.16 263.29 C63.22 263.82 63.71 265.3 64.66 266.29 C65.61 267.28 66.72 267.93 67.87 269.24 C69.02 270.56 70.69 272.49 71.57 274.16 C72.45 275.83 73.08 277.73 73.13 279.28 C73.19 280.83 73.11 282.55 71.89 283.44 C70.66 284.33 67.99 284.38 65.8 284.62 C63.61 284.85 60.96 284.95 58.75 284.85 C56.54 284.76 53.57 285.09 52.53 284.06Z" fill="none" stroke="#555" stroke-width="0.42" stroke-opacity="1.0"/>
<path d="M53.96 283.43 C53.12 282.46 54.13 280.06 54.46 278.29 C54.78 276.52 55.49 274.66 55.91 272.8 C56.33 270.95 56.46 268.35 56.99 267.16 C57.51 265.97 58.12 265.86 59.07 265.65 C60.02 265.43 61.77 265.38 62.68 265.86 C63.6 266.34 63.8 267.58 64.56 268.52 C65.33 269.46 66.37 270.51 67.26 271.51 C68.15 272.5 69.27 273.22 69.89 274.51 C70.5 275.81 70.94 277.93 70.97 279.26 C71 280.59 71.01 281.73 70.09 282.52 C69.16 283.31 67.17 283.73 65.41 284 C63.64 284.26 61.4 284.2 59.5 284.1 C57.59 284.01 54.8 284.4 53.96 283.43Z" fill="none" stroke="#555" stroke-width="0.42" stroke-opacity="1.0"/>
<path d="M56.04 282.52 C55.37 281.81 55.75 279.87 56 278.47 C56.26 277.07 57.15 275.5 57.58 274.1 C58.01 272.7 58.12 270.98 58.56 270.07 C59 269.16 59.54 268.81 60.21 268.65 C60.89 268.5 62.01 268.84 62.6 269.16 C63.2 269.48 63.13 269.92 63.77 270.57 C64.41 271.22 65.64 272.16 66.43 273.05 C67.22 273.93 68.01 274.89 68.5 275.89 C68.98 276.9 69.28 278.04 69.34 279.07 C69.39 280.11 69.6 281.51 68.81 282.1 C68.02 282.69 66.08 282.52 64.61 282.63 C63.14 282.74 61.42 282.77 59.99 282.75 C58.57 282.74 56.7 283.24 56.04 282.52Z" fill="none" stroke="#555" stroke-width="0.42" stroke-opacity="1.0"/>
<path d="M58.22 281.33 C57.74 280.85 57.78 279.93 57.89 279.01 C57.99 278.1 58.54 276.94 58.86 275.85 C59.17 274.75 59.47 273.15 59.79 272.43 C60.11 271.7 60.25 271.58 60.79 271.49 C61.34 271.41 62.5 271.67 63.05 271.93 C63.6 272.19 63.71 272.65 64.1 273.07 C64.49 273.49 64.9 273.84 65.37 274.44 C65.84 275.05 66.52 275.9 66.93 276.7 C67.35 277.5 67.78 278.54 67.86 279.24 C67.95 279.94 68.02 280.54 67.44 280.91 C66.86 281.27 65.52 281.26 64.4 281.43 C63.29 281.6 61.8 281.95 60.77 281.93 C59.74 281.92 58.7 281.82 58.22 281.33Z" fill="none" stroke="#555" stroke-width="0.42" stroke-opacity="1.0"/>
<path d="M59.42 280.78 C59.15 280.37 59.75 279.28 59.88 278.65 C60.02 278.01 60.12 277.57 60.23 276.97 C60.33 276.37 60.25 275.52 60.5 275.04 C60.76 274.56 61.4 274.21 61.75 274.09 C62.1 273.97 62.35 274.21 62.61 274.33 C62.88 274.44 62.96 274.51 63.32 274.79 C63.68 275.07 64.37 275.56 64.78 276.01 C65.18 276.45 65.52 276.97 65.74 277.46 C65.96 277.94 66.07 278.4 66.1 278.92 C66.14 279.44 66.33 280.24 65.94 280.56 C65.55 280.87 64.52 280.72 63.77 280.83 C63.03 280.93 62.21 281.16 61.48 281.16 C60.76 281.15 59.69 281.2 59.42 280.78Z" fill="none" stroke="#555" stroke-width="0.42" stroke-opacity="1.0"/>
<path d="M63.21 222.8 L63.21 223.1 L63.06 223.39 L62.77 223.64 L62.4 223.84 L61.98 224.01 L61.51 224.11 L61 224.13 L60.52 224.04 L60.11 223.89 L59.76 223.72 L59.41 223.55 L59.07 223.35 L58.82 223.09 L58.71 222.8 L58.75 222.5 L58.9 222.2 L59.16 221.94 L59.55 221.73 L60.03 221.61 L60.53 221.58 L61 221.59 L61.46 221.61 L61.93 221.66 L62.37 221.79 L62.71 221.99 L62.95 222.24 L63.11 222.52Z" fill="none" stroke="#555" stroke-width="0.4" stroke-opacity="1.0" stroke-linejoin="round"/>
<path d="M46 272 C44.5 278 43.5 284 43.2 288.5 C46 290.5 54 291 63 290" fill="none" stroke="#111" stroke-width="1.2" stroke-opacity="1.0"/>
<path d="M48 276 C47 280 46.8 284 47.5 287.5" fill="none" stroke="#333" stroke-width="0.6" stroke-opacity="1.0"/>
<path d="M76.02 283 L75.83 283.47 L75.41 283.87 L74.88 284.2 L74.34 284.49 L73.77 284.78 L73.1 285.03 L72.3 285.17 L71.47 285.13 L70.69 284.95 L70 284.68 L69.4 284.35 L68.94 283.94 L68.71 283.48 L68.71 283 L68.86 282.54 L69.11 282.1 L69.5 281.7 L70.07 281.37 L70.79 281.17 L71.55 281.08 L72.3 281.03 L73.08 281.01 L73.9 281.06 L74.68 281.26 L75.31 281.6 L75.73 282.04 L75.97 282.51Z" fill="none" stroke="#222" stroke-width="0.5" stroke-opacity="1.0" stroke-linejoin="round"/>
<path d="M74.75 283 L74.68 283.32 L74.44 283.6 L74.1 283.84 L73.71 284.03 L73.28 284.19 L72.8 284.27 L72.3 284.28 L71.81 284.25 L71.32 284.19 L70.8 284.1 L70.32 283.92 L69.99 283.65 L69.86 283.33 L69.9 283 L70.03 282.7 L70.24 282.42 L70.53 282.18 L70.92 281.99 L71.35 281.85 L71.81 281.74 L72.3 281.65 L72.83 281.64 L73.35 281.72 L73.79 281.91 L74.13 282.15 L74.41 282.41 L74.64 282.69Z" fill="none" stroke="#222" stroke-width="0.5" stroke-opacity="1.0" stroke-linejoin="round"/>
<path d="M73.82 283 L73.76 283.19 L73.62 283.37 L73.44 283.53 L73.24 283.69 L72.98 283.83 L72.66 283.92 L72.3 283.94 L71.95 283.91 L71.62 283.82 L71.34 283.71 L71.12 283.55 L70.99 283.37 L70.95 283.18 L70.92 283 L70.9 282.81 L70.93 282.61 L71.05 282.42 L71.29 282.26 L71.61 282.16 L71.95 282.1 L72.3 282.08 L72.65 282.11 L72.96 282.2 L73.22 282.32 L73.44 282.47 L73.62 282.63 L73.76 282.81Z" fill="none" stroke="#222" stroke-width="0.5" stroke-opacity="1.0" stroke-linejoin="round"/>
<path d="M149.24 231.35h.01M156.21 221.36h.01M147.28 258.94h.01M189.26 261.59h.01M149.67 222.11h.01M188.87 238.61h.01M163.26 253.93h.01M172.53 236.48h.01M153.5 226.4h.01M181.61 263.56h.01M147.92 231.5h.01M172.24 233.52h.01M170.46 244.59h.01M159.19 226.51h.01M166.95 259.12h.01M152.92 246.28h.01M186.53 247.81h.01M163.34 264.63h.01M185.07 267.86h.01M160.99 243.74h.01M168.52 260.5h.01M176.99 246.86h.01M171.73 262.87h.01M163.66 227.17h.01M154.81 232.46h.01M150.79 266.9h.01M173.76 258.5h.01M168.71 245.5h.01M157.26 262.87h.01M167.02 240.07h.01M183.12 261.82h.01M195.87 243.62h.01M167.2 259.83h.01M167.25 230.52h.01M169.9 235.38h.01M158.88 257.31h.01M163.46 250.39h.01M161.14 226.37h.01M185.05 257.42h.01M181.25 249.66h.01M154.71 244.57h.01M187.65 257.86h.01M175.54 250.66h.01M154.53 223.6h.01M188.3 221.86h.01M158.68 239.79h.01M181.01 253.75h.01M189.34 264.7h.01M159.58 232.7h.01M152.11 236.51h.01M151.14 266.17h.01M174.74 244.08h.01M148.87 263.87h.01M158.25 257.18h.01M156.24 233.72h.01M152.85 246.14h.01M160.21 247.86h.01M181.75 231.62h.01M152.58 245.22h.01M165.99 242h.01M164.42 228.75h.01M152.13 255.18h.01M177.71 253.32h.01M177.93 245.12h.01M155.83 263.96h.01M172.64 242.53h.01M159.06 238.72h.01M195.04 240.09h.01M186.2 226.84h.01M175.96 233.77h.01M157.71 235.27h.01M165.82 251.25h.01M166.37 261.47h.01M153.75 261.2h.01M167.83 258.25h.01M165.74 233.09h.01M190.73 250.92h.01M182.11 245.56h.01M181.52 265.96h.01M183.03 266.54h.01M163.47 235h.01M190.17 260.19h.01M190.43 241.47h.01M166.68 265.52h.01M156.13 228.82h.01M154.6 235.23h.01M166.88 239h.01M169.01 222.66h.01M163.1 244.88h.01M148.71 243.63h.01M191.26 251.7h.01M193.3 261.42h.01M170.7 221.99h.01M148.98 248.08h.01M188.13 236.59h.01M152.58 256.67h.01M172.95 242.99h.01M152.39 247.03h.01M174.69 254.4h.01M191.11 224.56h.01M187.55 236.1h.01M166.78 237.17h.01M186.38 241.73h.01M149.57 243.28h.01M153.42 221.75h.01M148.54 238.89h.01M168.53 221.03h.01M152.84 263.39h.01M173.19 267.07h.01M173.12 265.85h.01M180.57 239.2h.01M148.51 227.94h.01M185.62 252.12h.01M160.87 228.67h.01M178 264.7h.01M158.42 267.86h.01M172.71 230.78h.01M155.12 254.45h.01M192.4 230.55h.01M157.9 227.72h.01M156.42 231.6h.01M166.87 232.18h.01M179.15 232.27h.01M159.32 240.68h.01M154.46 223.4h.01M150.52 221.23h.01M179.7 223.31h.01M169.98 262.79h.01M176.72 235.39h.01M166.11 241.08h.01M162.05 223.52h.01M153.82 227.73h.01M156.39 236.55h.01M151.14 249.94h.01M155.98 244.99h.01M180.66 244.37h.01M183.05 257.67h.01M168.38 230.98h.01M148.13 253.56h.01M164.38 234.67h.01M150.18 229.46h.01M190.58 243.19h.01M188.36 260.68h.01M158.41 231.62h.01M190.34 232.13h.01M175.92 265.02h.01M169.29 240.96h.01M193.87 261.56h.01M192.35 254.23h.01M157.2 223.26h.01M147.08 264.39h.01M173.14 262.51h.01M193.88 232.15h.01M194.51 233.87h.01M154.96 233.79h.01M195.78 265.17h.01M163.62 243.65h.01M187.19 258.79h.01M190.87 238.03h.01M157.61 245.1h.01M192.7 249.82h.01M189.6 230.22h.01M171.36 264.11h.01M174.54 258.31h.01M186.38 241.81h.01M180.47 253.52h.01M167.98 245.45h.01M186.5 262.44h.01M195.33 238.27h.01M179.81 246.89h.01M188.59 232.3h.01M169.35 233.04h.01M186.16 254.38h.01M146.32 226.1h.01M153.08 248.79h.01M184.76 237.17h.01M149.97 248.52h.01M176.72 241.23h.01M159.54 237.3h.01M157.62 259.2h.01M165.08 254.53h.01M173.46 231.77h.01M159.98 252.51h.01M189.16 264.12h.01M153.7 233.18h.01M150.96 229.89h.01M165.33 254.75h.01M191.8 248.77h.01M153.28 238.69h.01M153.18 234.14h.01M174.73 244.58h.01M154.6 233.98h.01M190.81 250.63h.01M176.07 236.14h.01M160.95 256.79h.01M146.75 251.73h.01M193.81 250.86h.01M148.41 222.59h.01M185.25 229.7h.01M167.1 251.62h.01M179.75 234.53h.01M180.11 263.95h.01M169.41 239.63h.01M180.28 262.04h.01M180.35 264.59h.01M185.08 265.96h.01M158.51 252.63h.01M156.47 226.52h.01M163.08 265.45h.01M160.73 235.52h.01M192.34 267.15h.01M183.87 237.57h.01M187.16 224.08h.01M146.51 223.97h.01M162.74 232.34h.01M188.96 242h.01M188.56 243.93h.01M164.61 236.95h.01M148.37 242.37h.01M193.56 266.67h.01M192.58 225.6h.01M168.11 260.2h.01M153.7 224.07h.01M156.29 224.96h.01M183.01 254.49h.01M195.42 223.38h.01M181.14 258.3h.01M154.93 224.72h.01M194.99 258.15h.01M149.45 229.79h.01M178.93 229.03h.01M167.8 228.05h.01M150.58 243.77h.01M173.13 260.81h.01M146.19 237.67h.01M149.6 246.97h.01M154.26 236.56h.01M194.46 251.52h.01M179.42 249.47h.01M156.08 253.18h.01M194.51 225.2h.01M187.95 237.17h.01M156.06 251.79h.01M188.55 228.85h.01M155.86 244.54h.01M156.23 244.82h.01M195.5 222.21h.01M167.39 230.5h.01M154.33 248.67h.01M193.37 243.08h.01M173.92 253.87h.01M188.95 266.44h.01M162.66 229.33h.01M191.83 249.44h.01M190.14 227.9h.01M185.46 226.56h.01M152.6 226.69h.01M164.1 240.52h.01M178.88 265.07h.01M167.48 248.19h.01" stroke="#999" stroke-width="0.6" stroke-linecap="round" fill="none"/>
<path d="M162.23 228.03h.01M167.14 240.59h.01M163.94 239.34h.01M174.49 248.58h.01M153.9 224.76h.01M165.26 244.36h.01M165.21 259.31h.01M165.33 225.92h.01M170.55 229.48h.01M165.55 227.33h.01M163.01 264.04h.01M153.75 234.64h.01M170.39 247.43h.01M180.34 253.74h.01M167.12 256.48h.01M164.07 237.85h.01M161.68 249.46h.01M172.6 229.77h.01M162.06 251.7h.01M165.98 236.69h.01M167.4 232.65h.01M157.7 255.68h.01M167.18 221.12h.01M152.03 228.14h.01M149.92 232.41h.01M156.62 248.14h.01M159.42 268.97h.01M170.09 230.15h.01M170.26 243.78h.01M158.87 236.78h.01M157.11 273.58h.01M166.96 243.55h.01M167.06 264.68h.01M162.71 237.75h.01M171.64 241.88h.01M174.36 237.07h.01M154.89 228h.01M159.11 242.01h.01M160.73 250.16h.01M168.47 268.13h.01M160.28 240.31h.01M184.92 226.05h.01M167.78 228.99h.01M150.49 259.91h.01M153.49 226.25h.01M179.7 234.28h.01M172.05 252.67h.01M174.85 227.78h.01M188.39 237.31h.01M155.12 245.45h.01M162.15 239.44h.01M148.93 253.21h.01M156.41 282.83h.01M182.09 259.73h.01M170.78 234.29h.01M159 256.31h.01M160.28 231.33h.01M157.61 246.22h.01M167.17 250.04h.01M166.56 226.49h.01M163.11 240.53h.01M157.85 243.79h.01M173.04 237.02h.01M156.34 240.8h.01M168.48 231.88h.01M168.29 243.99h.01M159.58 226.73h.01M173.79 242.97h.01M159.82 270.49h.01M160.77 234.93h.01M170.5 231.86h.01M163.2 246.76h.01M147.62 233.9h.01M152.21 255.97h.01M145.92 245.52h.01M170.39 260.73h.01M182.68 247.6h.01M155.35 237.99h.01M153.76 254.09h.01M164.29 254.21h.01M165.04 251.6h.01M154.92 237.59h.01M171.12 225.59h.01M158.42 246.36h.01M162.84 224.83h.01M165.94 233.99h.01M168.8 227.8h.01M168.86 245.34h.01M162.09 226.81h.01M160.92 256.41h.01M165.71 236.55h.01M169.56 221.75h.01M167.12 226.95h.01M173.92 238.47h.01M158.08 255.67h.01M168.38 226.63h.01M156.54 240.56h.01M170.67 238.47h.01M156.96 228.87h.01M163.89 228.96h.01M152.41 261.95h.01M160.89 253.34h.01M160.52 228.63h.01M165.01 236.1h.01M155.67 235.57h.01M169.54 223.51h.01M155.19 239.61h.01M157.53 244.7h.01M170.29 261.64h.01M171.87 259.59h.01M158.33 237.86h.01M172.87 243.07h.01M157.74 227.69h.01M150.84 258.52h.01M157.09 230.28h.01M151.82 252.9h.01M156.95 234.36h.01M154.27 252.64h.01M168.18 247.39h.01M182.59 248.88h.01" stroke="#8a8a8a" stroke-width="0.6" stroke-linecap="round" fill="none"/>
<path d="M151 252 C151.92 249.33 153.5 249.17 155 250 C156.5 250.83 158.17 255.67 160 257 C161.83 258.33 163.67 258.33 166 258 C168.33 257.67 171.33 255.67 174 255 C176.67 254.33 179.5 253.33 182 254 C184.5 254.67 187 256.33 189 259 C191 261.67 193.33 266 194 270 C194.67 274 195 280.08 193 283 C191 285.92 186.67 286.67 182 287.5 C177.33 288.33 169.83 288 165 288 C160.17 288 155.67 288.5 153 287.5 C150.33 286.5 149.58 285.58 149 282 C148.42 278.42 149.17 271 149.5 266 C149.83 261 150.08 254.67 151 252Z" fill="#cdcdcd" fill-opacity="0.5" filter="url(#b13)"/>
<path d="M151 251.96 C151.96 249.29 153.5 249.11 155.05 249.91 C156.59 250.7 158.45 255.34 160.27 256.73 C162.09 258.11 163.66 258.44 165.96 258.21 C168.26 257.98 171.44 256.05 174.08 255.32 C176.73 254.6 179.37 253.32 181.83 253.89 C184.29 254.45 186.87 256.02 188.84 258.71 C190.82 261.39 192.99 265.95 193.66 270.01 C194.33 274.07 194.72 280.08 192.84 283.06 C190.96 286.04 186.97 287.1 182.37 287.9 C177.77 288.7 170.13 287.88 165.22 287.86 C160.31 287.85 155.65 288.75 152.91 287.82 C150.17 286.88 149.39 285.9 148.79 282.26 C148.19 278.62 148.93 271.01 149.3 265.96 C149.67 260.91 150.05 254.64 151 251.96Z" fill="none" stroke="#6a6a6a" stroke-width="0.42" stroke-opacity="1.0"/>
<path d="M153.65 255.27 C154.46 252.93 156.06 252.7 157.39 253.37 C158.71 254.04 159.91 258.11 161.58 259.28 C163.25 260.45 165.25 260.7 167.4 260.37 C169.55 260.03 172.18 257.9 174.48 257.28 C176.77 256.66 178.95 256.02 181.15 256.64 C183.34 257.26 185.75 258.55 187.65 261.01 C189.55 263.48 191.96 267.86 192.55 271.44 C193.14 275.01 193.06 279.95 191.18 282.48 C189.3 285.01 185.38 285.81 181.25 286.6 C177.12 287.38 170.62 287.23 166.38 287.21 C162.13 287.18 158.21 287.4 155.78 286.46 C153.36 285.53 152.37 284.78 151.83 281.61 C151.29 278.43 152.23 271.79 152.53 267.41 C152.83 263.02 152.84 257.61 153.65 255.27Z" fill="none" stroke="#6a6a6a" stroke-width="0.42" stroke-opacity="1.0"/>
<path d="M155.99 257.87 C156.81 255.61 158.5 255.1 159.7 255.81 C160.9 256.52 161.78 261.04 163.18 262.12 C164.59 263.2 166.18 262.54 168.14 262.28 C170.1 262.02 172.81 261.08 174.94 260.56 C177.08 260.04 179.06 258.65 180.94 259.16 C182.82 259.66 184.58 261.39 186.22 263.59 C187.87 265.8 190.2 269.24 190.82 272.39 C191.44 275.54 191.62 280.17 189.95 282.48 C188.29 284.79 184.55 285.58 180.83 286.26 C177.11 286.94 171.47 286.6 167.63 286.58 C163.8 286.55 159.94 286.85 157.81 286.11 C155.68 285.38 155.36 284.96 154.86 282.17 C154.36 279.37 154.63 273.42 154.82 269.37 C155.01 265.32 155.18 260.13 155.99 257.87Z" fill="none" stroke="#6a6a6a" stroke-width="0.42" stroke-opacity="1.0"/>
<path d="M159.05 260.62 C159.69 258.75 160.39 258.84 161.4 259.45 C162.42 260.06 163.75 263.3 165.13 264.27 C166.52 265.25 168.04 265.53 169.7 265.28 C171.35 265.04 173.31 263.4 175.06 262.81 C176.82 262.23 178.47 261.33 180.23 261.76 C182 262.19 184.19 263.51 185.66 265.4 C187.12 267.3 188.66 270.29 189.05 273.14 C189.43 276 189.44 280.54 187.97 282.55 C186.5 284.56 183.4 284.66 180.24 285.21 C177.07 285.75 172.35 285.72 169 285.82 C165.64 285.92 162.06 286.43 160.09 285.78 C158.12 285.13 157.59 284.45 157.17 281.94 C156.74 279.42 157.22 274.23 157.54 270.68 C157.85 267.13 158.41 262.5 159.05 260.62Z" fill="none" stroke="#6a6a6a" stroke-width="0.42" stroke-opacity="1.0"/>
<path d="M161.6 263.29 C162.15 261.74 162.84 262.13 163.71 262.68 C164.57 263.22 165.74 265.84 166.79 266.55 C167.85 267.25 168.59 267.05 170.05 266.92 C171.51 266.8 173.9 266.12 175.56 265.79 C177.22 265.46 178.62 264.54 180.02 264.93 C181.41 265.32 182.69 266.55 183.91 268.16 C185.12 269.76 186.81 272.28 187.3 274.58 C187.8 276.89 188.08 280.28 186.89 281.99 C185.7 283.71 183.03 284.39 180.16 284.88 C177.28 285.37 172.54 284.98 169.64 284.94 C166.75 284.9 164.39 285.22 162.77 284.65 C161.15 284.08 160.32 283.62 159.93 281.5 C159.54 279.39 160.16 274.99 160.44 271.95 C160.72 268.92 161.06 264.83 161.6 263.29Z" fill="none" stroke="#6a6a6a" stroke-width="0.42" stroke-opacity="1.0"/>
<path d="M163.78 266.88 C164.2 265.6 164.86 265.39 165.68 265.74 C166.5 266.09 167.76 268.29 168.7 268.97 C169.65 269.64 170.18 269.97 171.34 269.77 C172.51 269.58 174.29 268.16 175.7 267.8 C177.11 267.44 178.63 267.18 179.8 267.61 C180.98 268.04 181.81 269.1 182.74 270.37 C183.67 271.63 184.95 273.24 185.39 275.22 C185.83 277.19 186.35 280.69 185.37 282.2 C184.38 283.72 181.86 283.91 179.47 284.29 C177.08 284.67 173.47 284.49 171 284.5 C168.54 284.52 166.02 284.91 164.67 284.36 C163.31 283.82 163.14 283.06 162.89 281.23 C162.63 279.41 162.99 275.81 163.14 273.42 C163.29 271.03 163.36 268.16 163.78 266.88Z" fill="none" stroke="#6a6a6a" stroke-width="0.42" stroke-opacity="1.0"/>
<path d="M166.24 269.23 C166.61 268.08 167.4 268.02 168.05 268.32 C168.7 268.62 169.38 270.48 170.14 271.04 C170.9 271.6 171.68 271.73 172.59 271.67 C173.51 271.62 174.55 271.02 175.63 270.72 C176.72 270.43 178.13 269.63 179.11 269.9 C180.09 270.16 180.73 271.25 181.49 272.32 C182.26 273.4 183.41 274.78 183.69 276.33 C183.98 277.88 184.04 280.47 183.22 281.62 C182.4 282.77 180.65 282.81 178.79 283.23 C176.93 283.64 174.04 284.1 172.07 284.1 C170.11 284.1 168.09 283.66 167 283.22 C165.91 282.78 165.71 282.78 165.52 281.44 C165.33 280.09 165.74 277.21 165.86 275.17 C165.98 273.14 165.88 270.37 166.24 269.23Z" fill="none" stroke="#6a6a6a" stroke-width="0.42" stroke-opacity="1.0"/>
<path d="M169.39 272.42 C169.72 271.67 169.9 271.81 170.39 271.99 C170.87 272.17 171.75 273.1 172.29 273.5 C172.83 273.91 172.96 274.46 173.61 274.4 C174.27 274.33 175.38 273.4 176.22 273.12 C177.06 272.84 177.9 272.56 178.67 272.72 C179.45 272.88 180.37 273.2 180.88 274.07 C181.4 274.94 181.64 276.64 181.78 277.93 C181.93 279.22 182.23 280.95 181.74 281.82 C181.25 282.69 180.2 282.97 178.83 283.15 C177.46 283.34 175.02 282.99 173.52 282.92 C172.01 282.86 170.58 282.94 169.81 282.74 C169.03 282.53 169.1 282.73 168.86 281.69 C168.62 280.66 168.29 278.07 168.38 276.53 C168.47 274.98 169.05 273.18 169.39 272.42Z" fill="none" stroke="#6a6a6a" stroke-width="0.42" stroke-opacity="1.0"/>
<path d="M172.06 275.57 C172.23 274.99 172.29 274.71 172.52 274.76 C172.75 274.8 173.1 275.51 173.44 275.84 C173.79 276.18 174.04 276.72 174.57 276.78 C175.1 276.83 176.03 276.45 176.62 276.19 C177.21 275.93 177.63 275.11 178.08 275.23 C178.53 275.35 178.95 276.27 179.34 276.91 C179.73 277.55 180.35 278.34 180.43 279.07 C180.51 279.79 180.23 280.73 179.81 281.26 C179.4 281.8 178.84 282.04 177.94 282.26 C177.04 282.48 175.33 282.54 174.41 282.59 C173.49 282.64 172.94 282.85 172.43 282.57 C171.92 282.28 171.48 281.59 171.33 280.87 C171.18 280.15 171.41 279.15 171.54 278.27 C171.66 277.39 171.9 276.16 172.06 275.57Z" fill="none" stroke="#6a6a6a" stroke-width="0.42" stroke-opacity="1.0"/>
<path d="M151 252 C149 266 150 280 154 286.5 C160 288 175 286 187 282" fill="none" stroke="#3a3a3a" stroke-width="0.9" stroke-opacity="1.0"/>
<path d="M152 247 C152.83 245.17 155.17 239.5 157 236 C158.83 232.5 160.67 228.5 163 226 C165.33 223.5 169.67 221.83 171 221" fill="none" stroke="#999" stroke-width="0.4" stroke-opacity="1.0"/>
<path d="M154 246 C154.67 244 156.33 237.5 158 234 C159.67 230.5 161.5 227.17 164 225 C166.5 222.83 171.5 221.67 173 221" fill="none" stroke="#999" stroke-width="0.4" stroke-opacity="1.0"/>
<path d="M156 245 C156.5 242.83 157.5 235.5 159 232 C160.5 228.5 162.33 225.83 165 224 C167.67 222.17 173.33 221.5 175 221" fill="none" stroke="#999" stroke-width="0.4" stroke-opacity="1.0"/>
<path d="M158 244 C158.33 241.67 158.67 233.5 160 230 C161.33 226.5 163.17 224.5 166 223 C168.83 221.5 175.17 221.33 177 221" fill="none" stroke="#999" stroke-width="0.4" stroke-opacity="1.0"/>
<path d="M180.37 276 L180.32 276.4 L180.12 276.77 L179.81 277.08 L179.44 277.35 L179.02 277.58 L178.53 277.74 L178 277.79 L177.47 277.74 L176.97 277.61 L176.47 277.44 L176.01 277.19 L175.66 276.85 L175.51 276.43 L175.57 276 L175.74 275.61 L175.96 275.26 L176.24 274.95 L176.59 274.68 L177.02 274.47 L177.49 274.32 L178 274.2 L178.56 274.15 L179.13 274.24 L179.61 274.49 L179.94 274.84 L180.16 275.22 L180.3 275.61Z" fill="none" stroke="#666" stroke-width="0.4" stroke-opacity="1.0" stroke-linejoin="round"/>
<path d="M179.35 276 L179.37 276.23 L179.3 276.47 L179.13 276.68 L178.91 276.85 L178.64 277 L178.33 277.1 L178 277.13 L177.67 277.08 L177.38 276.97 L177.11 276.84 L176.86 276.68 L176.68 276.48 L176.59 276.24 L176.62 276 L176.7 275.78 L176.79 275.56 L176.92 275.35 L177.1 275.16 L177.36 275 L177.67 274.9 L178 274.86 L178.34 274.87 L178.67 274.96 L178.93 275.12 L179.1 275.34 L179.2 275.57 L179.28 275.78Z" fill="none" stroke="#666" stroke-width="0.4" stroke-opacity="1.0" stroke-linejoin="round"/>
<path d="M249.5 241 L253.5 239 L255 260 L255 282 L250.5 282 Z" fill="#b0b0b0" fill-opacity="0.9" filter="url(#b8)"/>
<path d="M250.5 241 C250.5 255 251 270 251.5 281" fill="none" stroke="#666" stroke-width="0.5" stroke-opacity="1.0"/>
<path d="M253.5 240 C254 255 254 270 254 281" fill="none" stroke="#777" stroke-width="0.45" stroke-opacity="1.0"/>
<path d="M253.5 276 C253.83 274.67 254.92 272.33 255.5 268 C256.08 263.67 256.17 254.67 257 250 C257.83 245.33 259.92 241.67 260.5 240" fill="none" stroke="#6a6a6a" stroke-width="0.45" stroke-opacity="1.0"/>
<path d="M253.5 272.8 C253.93 271.47 255.25 268.8 256.1 264.8 C256.95 260.8 257.6 252.83 258.6 248.8 C259.6 244.77 261.52 241.97 262.1 240.6" fill="none" stroke="#6a6a6a" stroke-width="0.45" stroke-opacity="1.0"/>
<path d="M253.5 269.6 C254.03 268.27 255.58 265.27 256.7 261.6 C257.82 257.93 259.03 251 260.2 247.6 C261.37 244.2 263.12 242.27 263.7 241.2" fill="none" stroke="#6a6a6a" stroke-width="0.45" stroke-opacity="1.0"/>
<path d="M253.5 266.4 C254.13 265.07 255.92 261.73 257.3 258.4 C258.68 255.07 260.47 249.17 261.8 246.4 C263.13 243.63 264.72 242.57 265.3 241.8" fill="none" stroke="#6a6a6a" stroke-width="0.45" stroke-opacity="1.0"/>
<path d="M253.5 263.2 C254.23 261.87 256.25 258.2 257.9 255.2 C259.55 252.2 261.9 247.33 263.4 245.2 C264.9 243.07 266.32 242.87 266.9 242.4" fill="none" stroke="#6a6a6a" stroke-width="0.45" stroke-opacity="1.0"/>
<path d="M253.5 260 C254.33 258.67 256.58 254.67 258.5 252 C260.42 249.33 263.33 245.5 265 244 C266.67 242.5 267.92 243.17 268.5 243" fill="none" stroke="#6a6a6a" stroke-width="0.45" stroke-opacity="1.0"/>
<path d="M253.5 256.8 C254.43 255.47 256.92 251.13 259.1 248.8 C261.28 246.47 264.77 243.67 266.6 242.8 C268.43 241.93 269.52 243.47 270.1 243.6" fill="none" stroke="#6a6a6a" stroke-width="0.45" stroke-opacity="1.0"/>
<path d="M251 243 C251.5 242.5 252.83 240.42 254 240 C255.17 239.58 256.67 240.17 258 240.5 C259.33 240.83 261.33 241.75 262 242" fill="none" stroke="#777" stroke-width="0.45" stroke-opacity="1.0"/>
<path d="M273.79 256.93h.01M266.21 247.89h.01M249.95 266.6h.01M255.43 260.75h.01M258.1 264.39h.01M267.77 247.67h.01M260.39 248.51h.01M249.94 257.54h.01M250.82 248.94h.01M267.58 266.74h.01M248.6 278.54h.01M270.47 236.63h.01M254.27 257.1h.01M258.06 255.57h.01M260.74 248.28h.01M255.59 233.3h.01M267.26 259.34h.01M252.13 249.41h.01M257.51 266.76h.01M265.61 249.35h.01M260.22 249.72h.01M260.73 249.02h.01M264.65 265.22h.01M258.87 270.68h.01M266.19 264.1h.01M262.78 283.11h.01M252.35 247.2h.01M257.15 282.52h.01M266.67 256.4h.01M255.96 256.28h.01M267.6 241.55h.01M270.19 261.84h.01M253.28 251.98h.01M262.57 244.09h.01M247.97 273.08h.01M273.92 239h.01M245.63 236.99h.01M248.51 258.72h.01M259.44 266.58h.01M257.43 244.56h.01M254.08 250.53h.01M259.17 255.61h.01M261.69 258.66h.01M259.61 255.68h.01M245.41 253.59h.01M277.64 245.24h.01M267.19 258.6h.01M267.59 249.49h.01M258.65 252.79h.01M265.96 265.72h.01M243.87 240.58h.01M260.19 238.74h.01M269.31 236.15h.01M262.05 227.16h.01M257.38 240.18h.01M255.91 263.13h.01M260.72 252.96h.01M261.25 249.45h.01M261.22 252.28h.01M270.11 264.34h.01M261.99 243.46h.01M251.47 260.12h.01M265.54 244.57h.01M259.13 250h.01M262.85 243.14h.01M251.09 256.12h.01M257.66 276.78h.01M257.81 242.51h.01M253.86 251.58h.01M253.23 248.16h.01M260.21 235.99h.01M260.93 240.71h.01M257.83 245.04h.01M265.75 249.75h.01M257.52 242.27h.01M262.89 251.51h.01M265.4 262.74h.01M259.48 245.41h.01M257.16 241.48h.01M252.44 249.52h.01M263.23 246.35h.01M272.13 241.07h.01M252.16 241.12h.01M256.16 239.93h.01M261.47 272.49h.01M273.7 247.54h.01M261.52 249.77h.01M249.23 255.59h.01M253.16 266.3h.01M261.83 256.62h.01M257.8 268.34h.01M260.1 251.42h.01M264.28 257.88h.01M255.35 274.29h.01M272.44 259.18h.01M243.22 272.27h.01M268.32 262.52h.01M253.19 261.75h.01M248.13 261.95h.01M258.91 252.51h.01M262.37 247.62h.01M254.41 258.2h.01M252.83 259.23h.01M252.6 257.71h.01M244.03 261.53h.01M257.94 247.45h.01M262.61 256.22h.01M263.18 252.73h.01M264.04 256.98h.01M263.86 241.82h.01M255.01 262.31h.01M265.15 262.17h.01M264.46 268.63h.01M271.18 257.62h.01M259.77 259.17h.01M259.75 261.46h.01M258.64 265.39h.01M263.98 240.38h.01M263.79 260.88h.01M257.38 260.64h.01M253.53 254.98h.01M263.12 254.56h.01M247.44 233.21h.01M267.99 250.23h.01M261.7 250.88h.01M264.32 256.43h.01M266.4 267.55h.01M262.5 255.33h.01M251.11 266.65h.01M258.76 249.32h.01M253.02 257.98h.01M269.89 261.16h.01M257.56 256.65h.01M249.59 264.09h.01M255.61 271.65h.01M263.72 261.76h.01M251.25 259.33h.01M265.01 256.79h.01M257.91 251.73h.01M257.88 248.23h.01M256.62 266h.01M265.95 249.08h.01M266.13 273.41h.01M259.89 236.96h.01M260.92 248.13h.01M269.84 246.93h.01M265.58 234.77h.01M255.66 272.2h.01M255.79 259.03h.01M251.85 258.36h.01M268.94 237.99h.01M260.05 251.78h.01M244.28 248.98h.01M248.73 262.3h.01M265.99 245.47h.01M265.44 269.51h.01M253.47 254.35h.01M253.88 238.6h.01M250.2 270.65h.01M268.05 226h.01M246.19 260.37h.01M271.64 249.73h.01M252.99 262.38h.01M263.02 261.01h.01M245.11 276.23h.01M245.84 253.17h.01M270.74 248.54h.01M256.85 260h.01M254.11 273.41h.01M249.43 263.14h.01" stroke="#8a8a8a" stroke-width="0.6" stroke-linecap="round" fill="none"/>
<path d="M257.98 238.22h.01M255.95 256.94h.01M271.81 238.32h.01M262.39 237.68h.01M271.21 243.27h.01M263.43 258.83h.01M249.76 252.63h.01M255.85 242.43h.01M255.09 238.28h.01M263.81 270.96h.01M259.17 250.38h.01M258.4 241.19h.01M264.69 260.88h.01M246.91 249.6h.01M247.44 261.23h.01M244.42 267.33h.01M245.81 266.08h.01M249.37 255.04h.01M263.92 269.8h.01M268.5 241.48h.01M264.04 251.48h.01M248.69 252.63h.01M270.26 236.7h.01M263.57 255.53h.01M268.71 253.11h.01M250.97 266.64h.01M247.03 260.79h.01M252.22 237.94h.01M248.7 266.6h.01M248.4 269.06h.01M248.13 269.41h.01M245.47 259.73h.01M258.96 257.48h.01M269.91 244.16h.01M271.81 256.51h.01M266.65 245.02h.01M271.92 261.94h.01M257.19 243.83h.01M268.6 256.17h.01M271.7 267.82h.01" stroke="#aaa" stroke-width="0.56" stroke-linecap="round" fill="none"/>
<path d="M251 280 C260 279.8 275 280.5 289 281.5" fill="none" stroke="#777" stroke-width="0.45" stroke-opacity="1.0"/>
<path d="M251 281 C260 280.7 275 281.2 286 281.8" fill="none" stroke="#777" stroke-width="0.45" stroke-opacity="1.0"/>
<path d="M251 282 C260 281.6 275 281.9 283 282.1" fill="none" stroke="#777" stroke-width="0.45" stroke-opacity="1.0"/>
<path d="M251 283 C260 282.5 275 282.6 280 282.4" fill="none" stroke="#777" stroke-width="0.45" stroke-opacity="1.0"/>
<path d="M250 280 L262 279.5 L276 280.5 L277 283 L262 284.5 L250 284 Z" fill="#a5a5a5" fill-opacity="0.7" filter="url(#b9)"/>
<path d="M251.5 279 C250 281 250.5 284 254 284" fill="none" stroke="#222" stroke-width="0.8" stroke-opacity="1.0"/>
<path d="M297.76 282 L297.73 282.28 L297.61 282.53 L297.41 282.73 L297.19 282.86 L296.97 282.97 L296.75 283.08 L296.5 283.17 L296.23 283.19 L295.96 283.12 L295.72 282.98 L295.51 282.79 L295.35 282.55 L295.27 282.28 L295.28 282 L295.36 281.74 L295.47 281.51 L295.6 281.28 L295.76 281.07 L295.98 280.92 L296.24 280.85 L296.5 280.84 L296.76 280.87 L297.01 280.93 L297.26 281.04 L297.47 281.22 L297.62 281.46 L297.72 281.72Z" fill="none" stroke="#d66" stroke-width="0.4" stroke-opacity="1.0" stroke-linejoin="round"/>
<path d="M385.44 265.32h.01M356.39 271.8h.01M383.74 227.86h.01M351.46 228.09h.01M358.95 267.85h.01M386.37 263.69h.01M366.43 278.29h.01M355.58 235.66h.01M370.05 237.64h.01M384.8 272.08h.01M385.18 241.41h.01M377.01 240.9h.01M375.45 253.86h.01M355.63 272.71h.01M388.62 268.66h.01M352.58 236.03h.01M385.47 270.45h.01M378.88 277.98h.01M369.31 235.61h.01M371.71 240.09h.01M367.04 268.94h.01M364.17 264.77h.01M377.66 223.3h.01M373.52 274.02h.01M380.38 273.07h.01M379.95 281.68h.01M349.94 247.51h.01M357.88 267.39h.01M362.71 261.89h.01M380.77 223.03h.01M378.71 241.75h.01M360.64 260.73h.01M379.6 234.82h.01M383.55 226.51h.01M350.76 275.25h.01M394.42 278.81h.01M397.74 266.46h.01M376.44 253.77h.01M374.75 278.61h.01M396.34 248.15h.01M358.08 254.27h.01M369.16 270.54h.01M394.11 259.19h.01M352.1 254.06h.01M354.43 254.21h.01M388.93 262.38h.01M371.38 231.48h.01M394.56 274.28h.01M372.42 225.14h.01M381.83 246.06h.01M367.87 244.7h.01M361.75 230.43h.01M380.52 253.1h.01M369.55 267.03h.01M373.13 231.71h.01M361.4 255.52h.01M381.32 260.01h.01M385.3 243.45h.01M386.34 256.98h.01M360.72 229.52h.01M379.3 272.83h.01M395.54 271h.01M389.14 257.4h.01M360.27 239.78h.01M391.08 238.39h.01M372.21 254.95h.01M348.89 228.68h.01M358 269.76h.01M387.26 227.25h.01M356.12 281.19h.01M356.29 269.99h.01M377.32 274.32h.01M384.84 227.84h.01M386.47 264.92h.01M350.09 278.53h.01M362.62 249.86h.01M374.23 255.32h.01M376.5 225.94h.01M390.67 253.4h.01M352.92 252.16h.01M357.47 247.9h.01M383.96 267.22h.01M356.08 239.26h.01M396.42 259.7h.01M357.28 258.58h.01M360.4 226.45h.01M380.91 228.72h.01M355.02 262.69h.01M396.33 226.13h.01M385.46 230.56h.01M350.93 223h.01M349.01 265.85h.01M393.37 222.78h.01M355.51 224.84h.01M368.35 241.33h.01M357.6 270.93h.01M353.23 259.94h.01M355.18 261.23h.01M354.47 233.82h.01M397.45 237.99h.01M370.55 261.65h.01M397.95 254.95h.01M353.82 262.12h.01M382.18 257.06h.01M367.25 271.2h.01M351.16 254.78h.01M375.19 277.08h.01M386.97 236.37h.01M367.15 257.76h.01M367.01 225.77h.01M397.63 249.26h.01M355.01 231.16h.01M348.76 276.65h.01M354.99 255.81h.01M395.24 268.08h.01M377.56 239.08h.01M381.69 270.41h.01M358.34 235.71h.01M368.57 257.9h.01M392.49 257.47h.01M361.35 265.52h.01M355.52 228.44h.01M348.47 256.58h.01M376.92 249.88h.01M375.69 233.27h.01M358.52 257.1h.01M368.18 251.95h.01M393.73 250.04h.01M385.2 225.64h.01M372.53 225.23h.01M357.92 233.31h.01M367.21 231.54h.01M394.71 240.03h.01M363.22 226.26h.01M366.46 269.05h.01M375.31 275.62h.01M378.86 260.64h.01M369.35 272.12h.01M370.49 230.36h.01M359.21 269.83h.01M350.89 232.83h.01M379.35 262.94h.01M371.28 261.14h.01M368.99 257.39h.01M349.94 246.73h.01M396.7 256.51h.01M365.04 259.39h.01M396.81 249.94h.01M368.81 271.29h.01M390.54 235.57h.01M381.42 239.93h.01M365.67 270.18h.01M366.13 276.86h.01M372.31 274.04h.01M354.45 246.26h.01M349.69 273.49h.01M392.48 251.16h.01M371.24 280.23h.01M367.33 240.36h.01M354.87 277.14h.01M388.12 253.62h.01M384.47 272.15h.01M381.44 228.5h.01M380.43 274.3h.01M371.77 247.63h.01M380.22 233.44h.01M359.26 262.81h.01M397.67 228.82h.01M381.25 252.2h.01M349.88 231.68h.01M363.25 263.54h.01M354.64 244.41h.01M379.02 267.28h.01M397.79 272.27h.01M357.56 255.55h.01M378.3 255.15h.01M377.86 244.97h.01M359.9 262.03h.01M391.67 262.94h.01M380.9 279.47h.01M360.69 256.5h.01M389.36 261.16h.01M348.06 252.65h.01M388.84 234.15h.01M367.69 280.95h.01M370.71 254.6h.01M377.87 272.99h.01M370.78 275.91h.01M383.25 246.08h.01M378.75 240.02h.01M350.59 251.12h.01M350.29 239.94h.01M390.16 280.23h.01M357.9 231.95h.01M365.66 249.03h.01M355.09 270.4h.01M355.86 254.36h.01M361.61 260.8h.01M353.81 251.64h.01M390.39 223.01h.01" stroke="#a8a8a8" stroke-width="0.6" stroke-linecap="round" fill="none"/>
<path d="M368.03 250.57h.01M371.74 261.33h.01M359.49 247.02h.01M389.56 264.42h.01M382.45 251.26h.01M358 249.15h.01M368.53 263.19h.01M389.51 266.51h.01M360.8 266.12h.01M372.73 260.3h.01M383.5 276.86h.01M362.58 250.92h.01M353.61 250.47h.01M364.14 246.72h.01M372.29 244.59h.01M354.06 269.48h.01M377.55 229.69h.01M382 235.9h.01M361.94 256.96h.01M372.69 249.16h.01M380.81 271.33h.01M365 248.55h.01M356.42 251.29h.01M384.71 232.89h.01M370.73 229.47h.01M381.14 246.79h.01M376.64 259.2h.01M382.51 247.52h.01M369.26 250.75h.01M372 248.39h.01M359.75 256.86h.01M361.82 268.82h.01M380.69 233.31h.01M386.59 247.28h.01M367.07 236.23h.01M361.46 241.51h.01M380.99 242.26h.01M359.26 253.82h.01M375.53 245.42h.01M378.47 237.59h.01M372.8 243.28h.01M387.16 255.1h.01M354.76 244.88h.01M380.23 247.92h.01M376.1 257.64h.01M386.82 228.18h.01M371.7 250.49h.01M368.64 250.99h.01M358.73 244.99h.01M371.46 254.9h.01M368.2 248.31h.01M376.68 262.05h.01M359.7 255.02h.01M359.94 255.84h.01M372.87 255.01h.01M372.82 258.96h.01M374.36 262.71h.01M372.25 256.91h.01M375.82 222.37h.01M363.3 270.73h.01M374.62 247.4h.01M364.78 267.89h.01M351.57 273.1h.01M392.28 238.66h.01M365.51 248.51h.01M376.38 245.05h.01M357.2 246.26h.01M377.91 240.75h.01M373.76 233.85h.01M389.87 249.66h.01M372.52 242.7h.01M369.22 227.65h.01M370.26 261.21h.01M376.3 246.68h.01M383.83 246.97h.01M372.25 248.29h.01M369.16 248.68h.01M380.24 266.15h.01M370.44 258.23h.01M359.86 239.19h.01M375.99 251.49h.01M348.7 255.05h.01M383.82 232.42h.01M365.14 255.6h.01M395.34 237.83h.01M354.48 265.03h.01M369.36 243.04h.01M365.74 245.63h.01M378.6 259.85h.01M362.09 240.68h.01M405.18 220.93h.01M373.71 236.74h.01M367.75 222.59h.01M403.18 239.24h.01M378.59 237.5h.01M376.47 257.98h.01M386.82 234.39h.01M378.29 257.67h.01M380.59 242.68h.01M362.94 248.88h.01M379.19 226.32h.01M378.12 252.67h.01M368.03 233.65h.01M369.07 255.06h.01M370.8 253.67h.01M389.48 260.72h.01M386.11 233.62h.01M369.29 241.37h.01M365.93 246.49h.01M371.99 253.99h.01M364.05 244.48h.01M380.91 244.76h.01M373.25 247.24h.01M373.79 257.33h.01M383.78 250.95h.01M374.79 254.63h.01M373.03 239.78h.01M372.33 261.78h.01M381.62 232.27h.01M377.47 251.15h.01" stroke="#999" stroke-width="0.6" stroke-linecap="round" fill="none"/>
<path d="M360 221 L394 221 L393 233 L388 248 L382 262 L375 270 L368 263 L363 250 L359 237 Z" fill="#c8c8c8" fill-opacity="0.7" filter="url(#b15)"/>
<path d="M361 220.5 L393 220.5 L393 228 L362 228.5 Z" fill="#adadad" fill-opacity="0.75" filter="url(#b12)"/>
<path d="M364 222 C364 224.5 364.01 232 364 237 C363.99 242 363.96 249.5 363.95 252" fill="none" stroke="#939393" stroke-width="0.42" stroke-opacity="1.0"/>
<path d="M367 222 C367.11 225.14 367.76 234.57 367.67 240.85 C367.59 247.14 366.7 256.57 366.5 259.71" fill="none" stroke="#939393" stroke-width="0.42" stroke-opacity="1.0"/>
<path d="M370 222 C370.12 224.84 370.89 233.37 370.73 239.06 C370.57 244.75 369.33 253.28 369.05 256.12" fill="none" stroke="#939393" stroke-width="0.42" stroke-opacity="1.0"/>
<path d="M373 222 C373.02 225.04 373.35 234.17 373.11 240.25 C372.88 246.33 371.85 255.46 371.6 258.5" fill="none" stroke="#939393" stroke-width="0.42" stroke-opacity="1.0"/>
<path d="M376 222 C375.9 224.91 375.7 233.64 375.39 239.47 C375.09 245.29 374.36 254.02 374.15 256.93" fill="none" stroke="#939393" stroke-width="0.42" stroke-opacity="1.0"/>
<path d="M379 222 C378.87 225.64 378.62 236.57 378.23 243.86 C377.85 251.15 376.96 262.08 376.7 265.72" fill="none" stroke="#939393" stroke-width="0.42" stroke-opacity="1.0"/>
<path d="M382 222 C381.96 226.17 382.23 238.66 381.78 246.99 C381.32 255.33 379.67 267.82 379.25 271.99" fill="none" stroke="#939393" stroke-width="0.42" stroke-opacity="1.0"/>
<path d="M385 222 C385.09 225.71 386.06 236.85 385.53 244.28 C384.99 251.7 382.42 262.84 381.8 266.55" fill="none" stroke="#939393" stroke-width="0.42" stroke-opacity="1.0"/>
<path d="M388 222 C388.13 223.95 389.4 229.79 388.79 233.69 C388.18 237.58 385.09 243.43 384.35 245.38" fill="none" stroke="#939393" stroke-width="0.42" stroke-opacity="1.0"/>
<path d="M391 222 C391.05 223.99 392.01 229.97 391.33 233.95 C390.65 237.94 387.64 243.91 386.9 245.9" fill="none" stroke="#939393" stroke-width="0.42" stroke-opacity="1.0"/>
<path d="M362 229 C366 226 385 226 392 229" fill="none" stroke="#777" stroke-width="0.5" stroke-opacity="1.0"/>
<path d="M378 231 C380 240 383 250 386 258 M384 231 C384 240 385 250 386 258" fill="none" stroke="#777" stroke-width="0.45" stroke-opacity="1.0"/>
<path d="M345 289 L345 282 L351 270 L358 259 L364 252 L369 256 L364 266 L358 276 L352 286 L349 289 Z" fill="#b0b0b0" fill-opacity="0.85" filter="url(#b13)"/>
<path d="M344.5 289 C345.33 287.17 347.67 281.83 349.5 278 C351.33 274.17 353.27 269.83 355.5 266 C357.73 262.17 361.67 256.83 362.9 255" fill="none" stroke="#888" stroke-width="0.5" stroke-opacity="1.0"/>
<path d="M348 289 C348.83 287.17 351.17 281.83 353 278 C354.83 274.17 357 269.83 359 266 C361 262.17 364 256.83 365 255" fill="none" stroke="#eee" stroke-width="0.5" stroke-opacity="1.0"/>
<path d="M351.5 289 C352.33 287.17 354.67 281.83 356.5 278 C358.33 274.17 360.73 269.83 362.5 266 C364.27 262.17 366.33 256.83 367.1 255" fill="none" stroke="#888" stroke-width="0.5" stroke-opacity="1.0"/>
<path d="M353.32 286.4h.01M356.31 263.16h.01M353.93 277.91h.01M345.5 267.67h.01M369.24 268.53h.01M355.1 281.68h.01M356.28 272.71h.01M352.14 285.4h.01M351.08 258.71h.01M365.59 271.74h.01M356.93 282.91h.01M372.89 263.33h.01M353.44 275.14h.01M360.37 252.71h.01M364.19 258.81h.01M357.96 270.72h.01M355.7 277.99h.01M368.34 276.88h.01M352.51 277.01h.01M379.28 243.91h.01M353.19 274.75h.01M349.14 281.69h.01M344.77 264.65h.01M351.48 255.09h.01M364.41 267.02h.01M351.24 263.88h.01M353.73 257.81h.01M375.12 254.07h.01M353.43 261.88h.01M354.88 286.37h.01M351.48 266.87h.01M350.76 275.76h.01M360.03 272.26h.01M356.72 268.65h.01M352.47 273.85h.01M368.38 258.11h.01M349.85 277.88h.01M344.8 289.03h.01M371.75 254.84h.01M351.49 267.82h.01M356.5 265.98h.01M363 265.23h.01M348.87 286.88h.01M344.8 289.09h.01M349.12 266.75h.01M358.94 257.45h.01M354.27 262.6h.01M357.2 279.53h.01M355.89 275.29h.01M354.3 266.69h.01M352.81 267.4h.01M344.95 283.19h.01M359.51 273.62h.01M365.77 261.84h.01M349.99 285.08h.01M357.7 259.25h.01M360.4 268.63h.01M357.1 267.01h.01M354.07 288.33h.01M349.9 277.54h.01" stroke="#999" stroke-width="0.56" stroke-linecap="round" fill="none"/>
<path d="M448.5 281 L447.5 262 L448.5 246 L452 241 L456 246 L457 262 L456 281 Z" fill="#b5b5b5" fill-opacity="0.75" filter="url(#b13)"/>
<path d="M456.43 259 L456.42 262.99 L456.17 266.92 L455.64 270.33 L454.87 272.7 L454 274.01 L453.14 274.72 L452.3 275.2 L451.43 275.19 L450.58 274.2 L449.84 272.11 L449.26 269.3 L448.8 266.17 L448.43 262.75 L448.23 259 L448.29 255.11 L448.61 251.44 L449.09 248.11 L449.7 245.15 L450.47 242.82 L451.37 241.7 L452.3 242.05 L453.14 243.42 L453.88 245.08 L454.59 246.79 L455.29 248.88 L455.87 251.69 L456.26 255.16Z" fill="none" stroke="#888" stroke-width="0.42" stroke-opacity="1.0" stroke-linejoin="round"/>
<path d="M455.52 259 L455.28 261.89 L455.01 264.55 L454.69 267.09 L454.24 269.32 L453.65 270.94 L452.99 271.91 L452.3 272.4 L451.58 272.39 L450.87 271.64 L450.24 269.97 L449.76 267.61 L449.4 264.94 L449.12 262.08 L448.96 259 L449.03 255.83 L449.36 252.98 L449.87 250.77 L450.44 249.08 L451.01 247.64 L451.63 246.47 L452.3 245.85 L453 245.94 L453.7 246.65 L454.38 247.9 L455 249.83 L455.45 252.55 L455.61 255.79Z" fill="none" stroke="#888" stroke-width="0.42" stroke-opacity="1.0" stroke-linejoin="round"/>
<path d="M454.78 259 L454.69 261.32 L454.56 263.62 L454.34 265.92 L453.98 267.96 L453.48 269.39 L452.9 270.13 L452.3 270.29 L451.71 269.91 L451.18 268.89 L450.75 267.24 L450.45 265.26 L450.22 263.26 L449.99 261.24 L449.79 259 L449.72 256.5 L449.87 254.02 L450.2 251.87 L450.64 250.14 L451.15 248.82 L451.71 248.03 L452.3 247.96 L452.86 248.59 L453.36 249.61 L453.83 250.83 L454.27 252.33 L454.6 254.28 L454.77 256.6Z" fill="none" stroke="#888" stroke-width="0.42" stroke-opacity="1.0" stroke-linejoin="round"/>
<path d="M450 284 C450.08 282.67 450.08 278.67 450.5 276 C450.92 273.33 451.67 270.33 452.5 268 C453.33 265.67 455 263 455.5 262" fill="none" stroke="#555" stroke-width="0.7" stroke-opacity="1.0"/>
<path d="M451.5 286 C451.58 284.67 451.58 280.67 452 278 C452.42 275.33 453.25 272 454 270 C454.75 268 456.08 266.67 456.5 266" fill="none" stroke="#777" stroke-width="0.5" stroke-opacity="1.0"/>
<path d="M461 271 L463 262 L473 253 L485 244 L495 241 L496 250 L486 256 L474 264 L465 271 Z" fill="#b8b8b8" fill-opacity="0.8" filter="url(#b16)"/>
<path d="M490.12 249.42 L490.52 250.67 L490.2 252.26 L489.22 254.1 L487.81 256.09 L485.98 258.25 L483.49 260.55 L480.3 262.71 L476.83 264.36 L473.62 265.32 L470.87 265.81 L468.46 266.05 L466.34 266.02 L464.73 265.56 L463.79 264.62 L463.4 263.37 L463.42 261.88 L464.02 260.08 L465.53 257.97 L467.96 255.74 L470.91 253.67 L474 251.8 L477.16 250.07 L480.43 248.55 L483.56 247.56 L486.13 247.33 L487.96 247.73 L489.23 248.47Z" fill="none" stroke="#888" stroke-width="0.4" stroke-opacity="1.0" stroke-linejoin="round"/>
<path d="M488.44 250.4 L488.47 251.62 L487.99 253.05 L487.12 254.6 L485.76 256.26 L483.84 257.95 L481.55 259.49 L479.21 260.84 L476.88 262.12 L474.4 263.41 L471.77 264.53 L469.31 265.15 L467.4 265.12 L466.15 264.57 L465.46 263.66 L465.38 262.44 L466.03 260.94 L467.31 259.3 L468.92 257.68 L470.58 256.11 L472.4 254.48 L474.59 252.82 L477.13 251.36 L479.71 250.31 L482.09 249.68 L484.25 249.32 L486.18 249.23 L487.67 249.56Z" fill="none" stroke="#888" stroke-width="0.4" stroke-opacity="1.0" stroke-linejoin="round"/>
<path d="M486.16 251.71 L486.33 252.63 L486.06 253.75 L485.44 255 L484.36 256.38 L482.74 257.8 L480.77 259.06 L478.78 260.09 L476.91 260.97 L475.04 261.83 L473.1 262.61 L471.22 263.12 L469.63 263.24 L468.41 262.99 L467.59 262.43 L467.28 261.56 L467.66 260.36 L468.73 258.96 L470.21 257.57 L471.76 256.27 L473.35 255.01 L475.12 253.75 L477.1 252.64 L479.1 251.84 L480.94 251.34 L482.62 251.05 L484.17 250.94 L485.43 251.12Z" fill="none" stroke="#888" stroke-width="0.4" stroke-opacity="1.0" stroke-linejoin="round"/>
<path d="M484.3 252.78 L484.31 253.58 L483.98 254.49 L483.44 255.47 L482.62 256.53 L481.43 257.62 L479.97 258.62 L478.43 259.49 L476.92 260.26 L475.36 261.03 L473.72 261.72 L472.14 262.15 L470.88 262.18 L470.03 261.86 L469.55 261.3 L469.47 260.53 L469.86 259.56 L470.71 258.49 L471.81 257.44 L472.94 256.44 L474.12 255.42 L475.48 254.37 L477.08 253.41 L478.75 252.69 L480.3 252.26 L481.68 252.05 L482.89 252.02 L483.82 252.25Z" fill="none" stroke="#888" stroke-width="0.4" stroke-opacity="1.0" stroke-linejoin="round"/>
<path d="M463 268 C464.33 266.83 468.17 263.33 471 261 C473.83 258.67 476.83 256.17 480 254 C483.17 251.83 488.33 249 490 248" fill="none" stroke="#555" stroke-width="0.7" stroke-opacity="1.0"/>
<path d="M494.07 262.47h.01M462.73 268.94h.01M479.88 244.72h.01M463.46 263.25h.01M464.14 265.05h.01M471.24 266.85h.01M474.88 263.52h.01M462.53 263.37h.01M487.31 254.89h.01M471.02 256.79h.01M477.25 260.84h.01M482.23 260.96h.01M487.88 250.58h.01M472.49 261.81h.01M489.03 257.89h.01M488.14 256.25h.01M468.71 270.57h.01M487.36 251.26h.01M480.05 236.67h.01M471.67 258.44h.01M464.96 264.58h.01M470.87 264.32h.01M470.86 262.67h.01M491.02 249.72h.01M464.77 259.69h.01M464.7 263.81h.01M487.81 253.72h.01M491.84 245.65h.01M486.39 245.95h.01M481.01 256.54h.01M492.75 258.45h.01M485.61 246.9h.01M492.76 249.98h.01M475.44 251.24h.01M483.92 247.99h.01M487.25 253.95h.01M470.42 260.34h.01M479.53 253.97h.01M489.86 260.82h.01M490.22 248.4h.01M476.47 259.4h.01M465.83 267.91h.01M465.25 258.97h.01M480.27 255.2h.01M484.35 259.51h.01M477.55 260.16h.01M479.44 255.22h.01M472 259.04h.01M468.42 261.28h.01M477.27 261.63h.01M487.81 250.07h.01M466.08 259.54h.01M481.06 257.75h.01M475.87 253.9h.01M482.38 267.19h.01M479.66 267.55h.01M484.28 247.01h.01M464.4 262.97h.01M466.2 252.64h.01M479.75 263.93h.01M475.7 259.53h.01M494.09 249.56h.01M485.1 252.76h.01M476.84 264.12h.01M486.28 256.36h.01M491.83 252.82h.01M464.08 262.01h.01M473.02 261.24h.01M458.07 261.47h.01M487.05 260.04h.01M474.16 266.49h.01M475.82 259.58h.01M478.39 268.07h.01M469.61 267.66h.01M465.12 262.51h.01M475.2 257.09h.01M485.8 249.51h.01M474.38 254.82h.01M469.37 269.78h.01M477.15 247.55h.01M491.92 239.75h.01M464.88 262.42h.01M465.32 263.98h.01M479.54 248.46h.01M478.98 248.45h.01M490.55 252.46h.01M486.76 260.71h.01M478.49 254.52h.01M474.51 259.11h.01M480.09 257.8h.01M470.18 270.95h.01M462.7 267.66h.01M451.17 259.26h.01M472.48 259.89h.01M481.54 249.58h.01M461.99 265.76h.01M472.19 259.87h.01M467.47 276.17h.01M474.25 263.9h.01M479.91 239.88h.01M474.84 262.57h.01M488.08 248h.01M474.95 259.66h.01M492.93 245.81h.01M480.64 260.98h.01M475.03 248.92h.01M465.73 251.71h.01M483.74 246.15h.01M466.47 260.83h.01M467.79 262.91h.01M482.61 255.31h.01M481.97 246.05h.01M476.38 267.87h.01M469.11 264.77h.01M493.48 252.13h.01M503.24 258.62h.01M468.97 272.04h.01M484.69 248.27h.01M495.67 260.24h.01M481.4 254.26h.01M478.41 253.92h.01M484.69 252.27h.01M487.99 251.32h.01M484.93 255.97h.01M471.22 257.97h.01M465.63 259.07h.01M469.44 253.9h.01M471.44 258.06h.01M472.21 260.85h.01M471.87 254.75h.01M487.06 249.98h.01M467.16 270.82h.01M468.47 251.27h.01M473.89 258.64h.01M466.95 262.96h.01M490.71 247.22h.01M465.74 268.21h.01M473.39 246.99h.01M465.63 259.61h.01M486.83 249.9h.01M472.69 263.79h.01M495.92 257.29h.01M472.26 267.7h.01M471.41 262.35h.01M482.86 262.7h.01M483.2 235.91h.01M487.31 243.71h.01M466.32 261.33h.01M478.05 258.9h.01M472.65 251.14h.01M464.06 258.51h.01M485.89 244.97h.01M478.01 251.31h.01M468.88 263.4h.01M462.78 260.82h.01M489.27 253.87h.01M468.19 261.48h.01M472.62 251.07h.01M471.24 255.55h.01M482.51 246.13h.01M478.74 271.48h.01M488.76 249.99h.01M461.94 270.06h.01M475.37 240.49h.01M471.41 264.09h.01M459 256.9h.01M482.73 245.34h.01M486.95 252.6h.01M478.65 259.6h.01M465.58 263.33h.01M490.16 249.84h.01M473.75 266.67h.01M474.49 265.21h.01M468.18 259.66h.01M471.37 265.57h.01M472.05 250.89h.01M475.49 253.31h.01M467.34 268.27h.01M472.9 252.48h.01M491.16 250.06h.01M491.95 251.4h.01M461.56 257.57h.01M494.63 250.47h.01M479.72 255.27h.01M458.11 258.13h.01M467.32 262.98h.01M468.53 266.64h.01M484.69 247.74h.01M482.54 256.23h.01M477.17 245.29h.01M458.02 261.54h.01M494.49 253.75h.01M485.43 256.32h.01M471.49 253.3h.01M484.93 239.22h.01M477.2 249.78h.01M484.03 244.27h.01M470.17 251.6h.01M473.64 265.72h.01M482.32 261.04h.01M490.57 251.46h.01M474.96 258.66h.01M482.08 259.23h.01M476.63 256.13h.01M486.67 256.28h.01M463.88 268.19h.01M481.8 261.58h.01M467.22 265.78h.01M468.73 276.05h.01M476.62 259.87h.01M476.33 258.38h.01M483.23 249.35h.01M455.07 258.26h.01M475.55 252.87h.01M473.97 264.72h.01M472.91 259.56h.01M479.52 243.12h.01M468.32 256.38h.01M494.4 258.87h.01M472.86 261.59h.01" stroke="#999" stroke-width="0.56" stroke-linecap="round" fill="none"/>
<path d="M478.16 247.57h.01M494.12 249.1h.01M485.92 255.02h.01M480.63 245.74h.01M480.01 254.26h.01M494.09 247.54h.01M485.36 245.8h.01M490.52 243.1h.01M490.54 250.44h.01M485.37 250.14h.01M485.14 256.17h.01M492.46 252.44h.01M493.44 250.84h.01M497.05 258.28h.01M502.7 246.1h.01M491.88 242.27h.01M485.15 258.14h.01M495.45 245.75h.01M487.53 243.45h.01M489.57 243.91h.01M493.79 244.21h.01M500.49 254.4h.01M485.39 256.08h.01M488.6 244.66h.01M487.78 252.87h.01M495.67 249.57h.01M485.27 235.27h.01M494.12 237.49h.01M496.64 243.29h.01M482.74 257.94h.01M484.02 251.03h.01M482.63 255.03h.01M480.96 264.98h.01M490.49 256.55h.01M492.2 256.49h.01M491.34 246.16h.01M489.96 251.5h.01M485.82 255.05h.01M483.03 246.42h.01M485.91 251.12h.01M481.51 248.53h.01M487.23 248.94h.01M490.23 248.88h.01M492.18 247.37h.01M487.67 258.24h.01M500.01 244.21h.01M488.05 255.91h.01M477.48 243.32h.01M477.93 250.82h.01M488.09 252.28h.01M486.06 244.13h.01M489.95 250.31h.01M486.83 252.58h.01M486.47 242.39h.01M498.1 246.63h.01M485.44 248.11h.01M486.31 251.35h.01M492.94 248.3h.01M492.97 248.98h.01M491.26 243.06h.01" stroke="#aaa" stroke-width="0.56" stroke-linecap="round" fill="none"/>
<rect x="39.3" y="30.5" width="71" height="72.8" fill="none" stroke="#ababab" stroke-width="0.8"/>
<line x1="39.3" y1="30.5" x2="39.3" y2="103.3" stroke="#666" stroke-width="0.8"/>
<line x1="39.3" y1="103.3" x2="110.3" y2="103.3" stroke="#555" stroke-width="0.8"/>
<text transform="translate(34.7 105.75) scale(0.87 1)" font-size="6.8" text-anchor="end" fill="#262626">0</text>
<line x1="35.9" y1="103.3" x2="37.5" y2="103.3" stroke="#333" stroke-width="0.9"/>
<text transform="translate(34.7 91.99) scale(0.87 1)" font-size="6.8" text-anchor="end" fill="#262626">50K</text>
<line x1="35.9" y1="89.54" x2="37.5" y2="89.54" stroke="#333" stroke-width="0.9"/>
<text transform="translate(34.7 78.23) scale(0.87 1)" font-size="6.8" text-anchor="end" fill="#262626">100K</text>
<line x1="35.9" y1="75.78" x2="37.5" y2="75.78" stroke="#333" stroke-width="0.9"/>
<text transform="translate(34.7 64.47) scale(0.87 1)" font-size="6.8" text-anchor="end" fill="#262626">150K</text>
<line x1="35.9" y1="62.02" x2="37.5" y2="62.02" stroke="#333" stroke-width="0.9"/>
<text transform="translate(34.7 50.71) scale(0.87 1)" font-size="6.8" text-anchor="end" fill="#262626">200K</text>
<line x1="35.9" y1="48.26" x2="37.5" y2="48.26" stroke="#333" stroke-width="0.9"/>
<text transform="translate(34.7 36.95) scale(0.87 1)" font-size="6.8" text-anchor="end" fill="#262626">250K</text>
<line x1="35.9" y1="34.5" x2="37.5" y2="34.5" stroke="#333" stroke-width="0.9"/>
<line x1="38" y1="103.3" x2="39.1" y2="103.3" stroke="#777" stroke-width="0.4"/>
<line x1="38" y1="101.92" x2="39.1" y2="101.92" stroke="#777" stroke-width="0.4"/>
<line x1="38" y1="100.55" x2="39.1" y2="100.55" stroke="#777" stroke-width="0.4"/>
<line x1="38" y1="99.17" x2="39.1" y2="99.17" stroke="#777" stroke-width="0.4"/>
<line x1="38" y1="97.8" x2="39.1" y2="97.8" stroke="#777" stroke-width="0.4"/>
<line x1="38" y1="96.42" x2="39.1" y2="96.42" stroke="#777" stroke-width="0.4"/>
<line x1="38" y1="95.04" x2="39.1" y2="95.04" stroke="#777" stroke-width="0.4"/>
<line x1="38" y1="93.67" x2="39.1" y2="93.67" stroke="#777" stroke-width="0.4"/>
<line x1="38" y1="92.29" x2="39.1" y2="92.29" stroke="#777" stroke-width="0.4"/>
<line x1="38" y1="90.92" x2="39.1" y2="90.92" stroke="#777" stroke-width="0.4"/>
<line x1="38" y1="89.54" x2="39.1" y2="89.54" stroke="#777" stroke-width="0.4"/>
<line x1="38" y1="88.16" x2="39.1" y2="88.16" stroke="#777" stroke-width="0.4"/>
<line x1="38" y1="86.79" x2="39.1" y2="86.79" stroke="#777" stroke-width="0.4"/>
<line x1="38" y1="85.41" x2="39.1" y2="85.41" stroke="#777" stroke-width="0.4"/>
<line x1="38" y1="84.04" x2="39.1" y2="84.04" stroke="#777" stroke-width="0.4"/>
<line x1="38" y1="82.66" x2="39.1" y2="82.66" stroke="#777" stroke-width="0.4"/>
<line x1="38" y1="81.28" x2="39.1" y2="81.28" stroke="#777" stroke-width="0.4"/>
<line x1="38" y1="79.91" x2="39.1" y2="79.91" stroke="#777" stroke-width="0.4"/>
<line x1="38" y1="78.53" x2="39.1" y2="78.53" stroke="#777" stroke-width="0.4"/>
<line x1="38" y1="77.16" x2="39.1" y2="77.16" stroke="#777" stroke-width="0.4"/>
<line x1="38" y1="75.78" x2="39.1" y2="75.78" stroke="#777" stroke-width="0.4"/>
<line x1="38" y1="74.4" x2="39.1" y2="74.4" stroke="#777" stroke-width="0.4"/>
<line x1="38" y1="73.03" x2="39.1" y2="73.03" stroke="#777" stroke-width="0.4"/>
<line x1="38" y1="71.65" x2="39.1" y2="71.65" stroke="#777" stroke-width="0.4"/>
<line x1="38" y1="70.28" x2="39.1" y2="70.28" stroke="#777" stroke-width="0.4"/>
<line x1="38" y1="68.9" x2="39.1" y2="68.9" stroke="#777" stroke-width="0.4"/>
<line x1="38" y1="67.52" x2="39.1" y2="67.52" stroke="#777" stroke-width="0.4"/>
<line x1="38" y1="66.15" x2="39.1" y2="66.15" stroke="#777" stroke-width="0.4"/>
<line x1="38" y1="64.77" x2="39.1" y2="64.77" stroke="#777" stroke-width="0.4"/>
<line x1="38" y1="63.4" x2="39.1" y2="63.4" stroke="#777" stroke-width="0.4"/>
<line x1="38" y1="62.02" x2="39.1" y2="62.02" stroke="#777" stroke-width="0.4"/>
<line x1="38" y1="60.64" x2="39.1" y2="60.64" stroke="#777" stroke-width="0.4"/>
<line x1="38" y1="59.27" x2="39.1" y2="59.27" stroke="#777" stroke-width="0.4"/>
<line x1="38" y1="57.89" x2="39.1" y2="57.89" stroke="#777" stroke-width="0.4"/>
<line x1="38" y1="56.52" x2="39.1" y2="56.52" stroke="#777" stroke-width="0.4"/>
<line x1="38" y1="55.14" x2="39.1" y2="55.14" stroke="#777" stroke-width="0.4"/>
<line x1="38" y1="53.76" x2="39.1" y2="53.76" stroke="#777" stroke-width="0.4"/>
<line x1="38" y1="52.39" x2="39.1" y2="52.39" stroke="#777" stroke-width="0.4"/>
<line x1="38" y1="51.01" x2="39.1" y2="51.01" stroke="#777" stroke-width="0.4"/>
<line x1="38" y1="49.64" x2="39.1" y2="49.64" stroke="#777" stroke-width="0.4"/>
<line x1="38" y1="48.26" x2="39.1" y2="48.26" stroke="#777" stroke-width="0.4"/>
<line x1="38" y1="46.88" x2="39.1" y2="46.88" stroke="#777" stroke-width="0.4"/>
<line x1="38" y1="45.51" x2="39.1" y2="45.51" stroke="#777" stroke-width="0.4"/>
<line x1="38" y1="44.13" x2="39.1" y2="44.13" stroke="#777" stroke-width="0.4"/>
<line x1="38" y1="42.76" x2="39.1" y2="42.76" stroke="#777" stroke-width="0.4"/>
<line x1="38" y1="41.38" x2="39.1" y2="41.38" stroke="#777" stroke-width="0.4"/>
<line x1="38" y1="40" x2="39.1" y2="40" stroke="#777" stroke-width="0.4"/>
<line x1="38" y1="38.63" x2="39.1" y2="38.63" stroke="#777" stroke-width="0.4"/>
<line x1="38" y1="37.25" x2="39.1" y2="37.25" stroke="#777" stroke-width="0.4"/>
<line x1="38" y1="35.88" x2="39.1" y2="35.88" stroke="#777" stroke-width="0.4"/>
<line x1="38" y1="34.5" x2="39.1" y2="34.5" stroke="#777" stroke-width="0.4"/>
<text transform="translate(46.3 113.05) scale(0.87 1)" font-size="6.8" text-anchor="middle" fill="#262626">0</text>
<text transform="translate(68.3 113.05) scale(0.87 1)" font-size="6.8" text-anchor="middle" fill="#262626">10<tspan font-size="4.62" dy="-2.8">3</tspan></text>
<text transform="translate(86 113.05) scale(0.87 1)" font-size="6.8" text-anchor="middle" fill="#262626">10<tspan font-size="4.62" dy="-2.8">4</tspan></text>
<text transform="translate(103.3 113.05) scale(0.87 1)" font-size="6.8" text-anchor="middle" fill="#262626">10<tspan font-size="4.62" dy="-2.8">5</tspan></text>
<line x1="46.3" y1="103.6" x2="46.3" y2="105.3" stroke="#333" stroke-width="0.9"/>
<line x1="68.6" y1="103.6" x2="68.6" y2="105.3" stroke="#333" stroke-width="0.9"/>
<line x1="86.3" y1="103.6" x2="86.3" y2="105.3" stroke="#333" stroke-width="0.9"/>
<line x1="103.6" y1="103.6" x2="103.6" y2="105.3" stroke="#333" stroke-width="0.9"/>
<line x1="73.93" y1="103.5" x2="73.93" y2="104.6" stroke="#666" stroke-width="0.4"/>
<line x1="77.05" y1="103.5" x2="77.05" y2="104.6" stroke="#666" stroke-width="0.4"/>
<line x1="79.26" y1="103.5" x2="79.26" y2="104.6" stroke="#666" stroke-width="0.4"/>
<line x1="80.97" y1="103.5" x2="80.97" y2="104.6" stroke="#666" stroke-width="0.4"/>
<line x1="82.37" y1="103.5" x2="82.37" y2="104.6" stroke="#666" stroke-width="0.4"/>
<line x1="83.56" y1="103.5" x2="83.56" y2="104.6" stroke="#666" stroke-width="0.4"/>
<line x1="84.58" y1="103.5" x2="84.58" y2="104.6" stroke="#666" stroke-width="0.4"/>
<line x1="85.49" y1="103.5" x2="85.49" y2="104.6" stroke="#666" stroke-width="0.4"/>
<line x1="91.51" y1="103.5" x2="91.51" y2="104.6" stroke="#666" stroke-width="0.4"/>
<line x1="94.55" y1="103.5" x2="94.55" y2="104.6" stroke="#666" stroke-width="0.4"/>
<line x1="96.72" y1="103.5" x2="96.72" y2="104.6" stroke="#666" stroke-width="0.4"/>
<line x1="98.39" y1="103.5" x2="98.39" y2="104.6" stroke="#666" stroke-width="0.4"/>
<line x1="99.76" y1="103.5" x2="99.76" y2="104.6" stroke="#666" stroke-width="0.4"/>
<line x1="100.92" y1="103.5" x2="100.92" y2="104.6" stroke="#666" stroke-width="0.4"/>
<line x1="101.92" y1="103.5" x2="101.92" y2="104.6" stroke="#666" stroke-width="0.4"/>
<line x1="102.81" y1="103.5" x2="102.81" y2="104.6" stroke="#666" stroke-width="0.4"/>
<line x1="41.3" y1="103.5" x2="41.3" y2="104.7" stroke="#555" stroke-width="0.45"/>
<line x1="42.8" y1="103.5" x2="42.8" y2="104.7" stroke="#555" stroke-width="0.45"/>
<line x1="44.3" y1="103.5" x2="44.3" y2="104.7" stroke="#555" stroke-width="0.45"/>
<line x1="45.3" y1="103.5" x2="45.3" y2="104.7" stroke="#555" stroke-width="0.45"/>
<line x1="47.3" y1="103.5" x2="47.3" y2="104.7" stroke="#555" stroke-width="0.45"/>
<line x1="48.3" y1="103.5" x2="48.3" y2="104.7" stroke="#555" stroke-width="0.45"/>
<line x1="49.8" y1="103.5" x2="49.8" y2="104.7" stroke="#555" stroke-width="0.45"/>
<line x1="51.3" y1="103.5" x2="51.3" y2="104.7" stroke="#555" stroke-width="0.45"/>
<line x1="53.3" y1="103.5" x2="53.3" y2="104.7" stroke="#555" stroke-width="0.45"/>
<line x1="55.8" y1="103.5" x2="55.8" y2="104.7" stroke="#555" stroke-width="0.45"/>
<line x1="58.8" y1="103.5" x2="58.8" y2="104.7" stroke="#555" stroke-width="0.45"/>
<rect x="142.8" y="30.5" width="69.5" height="71.5" fill="none" stroke="#ababab" stroke-width="0.8"/>
<line x1="142.8" y1="30.5" x2="142.8" y2="102" stroke="#666" stroke-width="0.8"/>
<line x1="142.8" y1="102" x2="212.3" y2="102" stroke="#555" stroke-width="0.8"/>
<text transform="translate(138.2 104.45) scale(0.87 1)" font-size="6.8" text-anchor="end" fill="#262626">0</text>
<line x1="139.4" y1="102" x2="141" y2="102" stroke="#333" stroke-width="0.9"/>
<text transform="translate(138.2 90.95) scale(0.87 1)" font-size="6.8" text-anchor="end" fill="#262626">50K</text>
<line x1="139.4" y1="88.5" x2="141" y2="88.5" stroke="#333" stroke-width="0.9"/>
<text transform="translate(138.2 77.45) scale(0.87 1)" font-size="6.8" text-anchor="end" fill="#262626">100K</text>
<line x1="139.4" y1="75" x2="141" y2="75" stroke="#333" stroke-width="0.9"/>
<text transform="translate(138.2 63.95) scale(0.87 1)" font-size="6.8" text-anchor="end" fill="#262626">150K</text>
<line x1="139.4" y1="61.5" x2="141" y2="61.5" stroke="#333" stroke-width="0.9"/>
<text transform="translate(138.2 50.45) scale(0.87 1)" font-size="6.8" text-anchor="end" fill="#262626">200K</text>
<line x1="139.4" y1="48" x2="141" y2="48" stroke="#333" stroke-width="0.9"/>
<text transform="translate(138.2 36.95) scale(0.87 1)" font-size="6.8" text-anchor="end" fill="#262626">250K</text>
<line x1="139.4" y1="34.5" x2="141" y2="34.5" stroke="#333" stroke-width="0.9"/>
<line x1="141.5" y1="102" x2="142.6" y2="102" stroke="#777" stroke-width="0.4"/>
<line x1="141.5" y1="100.65" x2="142.6" y2="100.65" stroke="#777" stroke-width="0.4"/>
<line x1="141.5" y1="99.3" x2="142.6" y2="99.3" stroke="#777" stroke-width="0.4"/>
<line x1="141.5" y1="97.95" x2="142.6" y2="97.95" stroke="#777" stroke-width="0.4"/>
<line x1="141.5" y1="96.6" x2="142.6" y2="96.6" stroke="#777" stroke-width="0.4"/>
<line x1="141.5" y1="95.25" x2="142.6" y2="95.25" stroke="#777" stroke-width="0.4"/>
<line x1="141.5" y1="93.9" x2="142.6" y2="93.9" stroke="#777" stroke-width="0.4"/>
<line x1="141.5" y1="92.55" x2="142.6" y2="92.55" stroke="#777" stroke-width="0.4"/>
<line x1="141.5" y1="91.2" x2="142.6" y2="91.2" stroke="#777" stroke-width="0.4"/>
<line x1="141.5" y1="89.85" x2="142.6" y2="89.85" stroke="#777" stroke-width="0.4"/>
<line x1="141.5" y1="88.5" x2="142.6" y2="88.5" stroke="#777" stroke-width="0.4"/>
<line x1="141.5" y1="87.15" x2="142.6" y2="87.15" stroke="#777" stroke-width="0.4"/>
<line x1="141.5" y1="85.8" x2="142.6" y2="85.8" stroke="#777" stroke-width="0.4"/>
<line x1="141.5" y1="84.45" x2="142.6" y2="84.45" stroke="#777" stroke-width="0.4"/>
<line x1="141.5" y1="83.1" x2="142.6" y2="83.1" stroke="#777" stroke-width="0.4"/>
<line x1="141.5" y1="81.75" x2="142.6" y2="81.75" stroke="#777" stroke-width="0.4"/>
<line x1="141.5" y1="80.4" x2="142.6" y2="80.4" stroke="#777" stroke-width="0.4"/>
<line x1="141.5" y1="79.05" x2="142.6" y2="79.05" stroke="#777" stroke-width="0.4"/>
<line x1="141.5" y1="77.7" x2="142.6" y2="77.7" stroke="#777" stroke-width="0.4"/>
<line x1="141.5" y1="76.35" x2="142.6" y2="76.35" stroke="#777" stroke-width="0.4"/>
<line x1="141.5" y1="75" x2="142.6" y2="75" stroke="#777" stroke-width="0.4"/>
<line x1="141.5" y1="73.65" x2="142.6" y2="73.65" stroke="#777" stroke-width="0.4"/>
<line x1="141.5" y1="72.3" x2="142.6" y2="72.3" stroke="#777" stroke-width="0.4"/>
<line x1="141.5" y1="70.95" x2="142.6" y2="70.95" stroke="#777" stroke-width="0.4"/>
<line x1="141.5" y1="69.6" x2="142.6" y2="69.6" stroke="#777" stroke-width="0.4"/>
<line x1="141.5" y1="68.25" x2="142.6" y2="68.25" stroke="#777" stroke-width="0.4"/>
<line x1="141.5" y1="66.9" x2="142.6" y2="66.9" stroke="#777" stroke-width="0.4"/>
<line x1="141.5" y1="65.55" x2="142.6" y2="65.55" stroke="#777" stroke-width="0.4"/>
<line x1="141.5" y1="64.2" x2="142.6" y2="64.2" stroke="#777" stroke-width="0.4"/>
<line x1="141.5" y1="62.85" x2="142.6" y2="62.85" stroke="#777" stroke-width="0.4"/>
<line x1="141.5" y1="61.5" x2="142.6" y2="61.5" stroke="#777" stroke-width="0.4"/>
<line x1="141.5" y1="60.15" x2="142.6" y2="60.15" stroke="#777" stroke-width="0.4"/>
<line x1="141.5" y1="58.8" x2="142.6" y2="58.8" stroke="#777" stroke-width="0.4"/>
<line x1="141.5" y1="57.45" x2="142.6" y2="57.45" stroke="#777" stroke-width="0.4"/>
<line x1="141.5" y1="56.1" x2="142.6" y2="56.1" stroke="#777" stroke-width="0.4"/>
<line x1="141.5" y1="54.75" x2="142.6" y2="54.75" stroke="#777" stroke-width="0.4"/>
<line x1="141.5" y1="53.4" x2="142.6" y2="53.4" stroke="#777" stroke-width="0.4"/>
<line x1="141.5" y1="52.05" x2="142.6" y2="52.05" stroke="#777" stroke-width="0.4"/>
<line x1="141.5" y1="50.7" x2="142.6" y2="50.7" stroke="#777" stroke-width="0.4"/>
<line x1="141.5" y1="49.35" x2="142.6" y2="49.35" stroke="#777" stroke-width="0.4"/>
<line x1="141.5" y1="48" x2="142.6" y2="48" stroke="#777" stroke-width="0.4"/>
<line x1="141.5" y1="46.65" x2="142.6" y2="46.65" stroke="#777" stroke-width="0.4"/>
<line x1="141.5" y1="45.3" x2="142.6" y2="45.3" stroke="#777" stroke-width="0.4"/>
<line x1="141.5" y1="43.95" x2="142.6" y2="43.95" stroke="#777" stroke-width="0.4"/>
<line x1="141.5" y1="42.6" x2="142.6" y2="42.6" stroke="#777" stroke-width="0.4"/>
<line x1="141.5" y1="41.25" x2="142.6" y2="41.25" stroke="#777" stroke-width="0.4"/>
<line x1="141.5" y1="39.9" x2="142.6" y2="39.9" stroke="#777" stroke-width="0.4"/>
<line x1="141.5" y1="38.55" x2="142.6" y2="38.55" stroke="#777" stroke-width="0.4"/>
<line x1="141.5" y1="37.2" x2="142.6" y2="37.2" stroke="#777" stroke-width="0.4"/>
<line x1="141.5" y1="35.85" x2="142.6" y2="35.85" stroke="#777" stroke-width="0.4"/>
<line x1="141.5" y1="34.5" x2="142.6" y2="34.5" stroke="#777" stroke-width="0.4"/>
<text transform="translate(153.9 113.65) scale(0.87 1)" font-size="6.8" text-anchor="middle" fill="#262626">0</text>
<text transform="translate(171 113.65) scale(0.87 1)" font-size="6.8" text-anchor="middle" fill="#262626">10<tspan font-size="4.62" dy="-2.8">3</tspan></text>
<text transform="translate(187.7 113.65) scale(0.87 1)" font-size="6.8" text-anchor="middle" fill="#262626">10<tspan font-size="4.62" dy="-2.8">4</tspan></text>
<text transform="translate(204.1 113.65) scale(0.87 1)" font-size="6.8" text-anchor="middle" fill="#262626">10<tspan font-size="4.62" dy="-2.8">5</tspan></text>
<line x1="153.9" y1="102.3" x2="153.9" y2="104" stroke="#333" stroke-width="0.9"/>
<line x1="171.3" y1="102.3" x2="171.3" y2="104" stroke="#333" stroke-width="0.9"/>
<line x1="188" y1="102.3" x2="188" y2="104" stroke="#333" stroke-width="0.9"/>
<line x1="204.4" y1="102.3" x2="204.4" y2="104" stroke="#333" stroke-width="0.9"/>
<line x1="176.33" y1="102.2" x2="176.33" y2="103.3" stroke="#666" stroke-width="0.4"/>
<line x1="179.27" y1="102.2" x2="179.27" y2="103.3" stroke="#666" stroke-width="0.4"/>
<line x1="181.35" y1="102.2" x2="181.35" y2="103.3" stroke="#666" stroke-width="0.4"/>
<line x1="182.97" y1="102.2" x2="182.97" y2="103.3" stroke="#666" stroke-width="0.4"/>
<line x1="184.3" y1="102.2" x2="184.3" y2="103.3" stroke="#666" stroke-width="0.4"/>
<line x1="185.41" y1="102.2" x2="185.41" y2="103.3" stroke="#666" stroke-width="0.4"/>
<line x1="186.38" y1="102.2" x2="186.38" y2="103.3" stroke="#666" stroke-width="0.4"/>
<line x1="187.24" y1="102.2" x2="187.24" y2="103.3" stroke="#666" stroke-width="0.4"/>
<line x1="192.94" y1="102.2" x2="192.94" y2="103.3" stroke="#666" stroke-width="0.4"/>
<line x1="195.82" y1="102.2" x2="195.82" y2="103.3" stroke="#666" stroke-width="0.4"/>
<line x1="197.87" y1="102.2" x2="197.87" y2="103.3" stroke="#666" stroke-width="0.4"/>
<line x1="199.46" y1="102.2" x2="199.46" y2="103.3" stroke="#666" stroke-width="0.4"/>
<line x1="200.76" y1="102.2" x2="200.76" y2="103.3" stroke="#666" stroke-width="0.4"/>
<line x1="201.86" y1="102.2" x2="201.86" y2="103.3" stroke="#666" stroke-width="0.4"/>
<line x1="202.81" y1="102.2" x2="202.81" y2="103.3" stroke="#666" stroke-width="0.4"/>
<line x1="203.65" y1="102.2" x2="203.65" y2="103.3" stroke="#666" stroke-width="0.4"/>
<line x1="148.9" y1="102.2" x2="148.9" y2="103.4" stroke="#555" stroke-width="0.45"/>
<line x1="150.4" y1="102.2" x2="150.4" y2="103.4" stroke="#555" stroke-width="0.45"/>
<line x1="151.9" y1="102.2" x2="151.9" y2="103.4" stroke="#555" stroke-width="0.45"/>
<line x1="152.9" y1="102.2" x2="152.9" y2="103.4" stroke="#555" stroke-width="0.45"/>
<line x1="154.9" y1="102.2" x2="154.9" y2="103.4" stroke="#555" stroke-width="0.45"/>
<line x1="155.9" y1="102.2" x2="155.9" y2="103.4" stroke="#555" stroke-width="0.45"/>
<line x1="157.4" y1="102.2" x2="157.4" y2="103.4" stroke="#555" stroke-width="0.45"/>
<line x1="158.9" y1="102.2" x2="158.9" y2="103.4" stroke="#555" stroke-width="0.45"/>
<line x1="160.9" y1="102.2" x2="160.9" y2="103.4" stroke="#555" stroke-width="0.45"/>
<line x1="163.4" y1="102.2" x2="163.4" y2="103.4" stroke="#555" stroke-width="0.45"/>
<line x1="166.4" y1="102.2" x2="166.4" y2="103.4" stroke="#555" stroke-width="0.45"/>
<rect x="242" y="30.5" width="70.2" height="71.5" fill="none" stroke="#ababab" stroke-width="0.8"/>
<line x1="242" y1="30.5" x2="242" y2="102" stroke="#666" stroke-width="0.8"/>
<line x1="242" y1="102" x2="312.2" y2="102" stroke="#555" stroke-width="0.8"/>
<text transform="translate(237.6 40.15) scale(0.87 1)" font-size="6.8" text-anchor="end" fill="#262626">10<tspan font-size="4.62" dy="-2.8">5</tspan></text>
<line x1="238.8" y1="37.7" x2="240.3" y2="37.7" stroke="#333" stroke-width="0.9"/>
<text transform="translate(237.6 55.95) scale(0.87 1)" font-size="6.8" text-anchor="end" fill="#262626">10<tspan font-size="4.62" dy="-2.8">4</tspan></text>
<line x1="238.8" y1="53.5" x2="240.3" y2="53.5" stroke="#333" stroke-width="0.9"/>
<text transform="translate(237.6 72.65) scale(0.87 1)" font-size="6.8" text-anchor="end" fill="#262626">10<tspan font-size="4.62" dy="-2.8">3</tspan></text>
<line x1="238.8" y1="70.2" x2="240.3" y2="70.2" stroke="#333" stroke-width="0.9"/>
<text transform="translate(237.6 89.15) scale(0.87 1)" font-size="6.8" text-anchor="end" fill="#262626">10<tspan font-size="4.62" dy="-2.8">2</tspan></text>
<line x1="238.8" y1="86.7" x2="240.3" y2="86.7" stroke="#333" stroke-width="0.9"/>
<text transform="translate(237.6 95.85) scale(0.87 1)" font-size="6.8" text-anchor="end" fill="#262626">0</text>
<line x1="238.8" y1="93.4" x2="240.3" y2="93.4" stroke="#333" stroke-width="0.9"/>
<text transform="translate(237.6 103.05) scale(0.87 1)" font-size="6.8" text-anchor="end" fill="#262626">−10<tspan font-size="4.62" dy="-2.8">2</tspan></text>
<line x1="238.8" y1="100.6" x2="240.3" y2="100.6" stroke="#333" stroke-width="0.9"/>
<line x1="240.7" y1="48.74" x2="241.8" y2="48.74" stroke="#777" stroke-width="0.4"/>
<line x1="240.7" y1="45.96" x2="241.8" y2="45.96" stroke="#777" stroke-width="0.4"/>
<line x1="240.7" y1="43.99" x2="241.8" y2="43.99" stroke="#777" stroke-width="0.4"/>
<line x1="240.7" y1="42.46" x2="241.8" y2="42.46" stroke="#777" stroke-width="0.4"/>
<line x1="240.7" y1="41.21" x2="241.8" y2="41.21" stroke="#777" stroke-width="0.4"/>
<line x1="240.7" y1="40.15" x2="241.8" y2="40.15" stroke="#777" stroke-width="0.4"/>
<line x1="240.7" y1="39.23" x2="241.8" y2="39.23" stroke="#777" stroke-width="0.4"/>
<line x1="240.7" y1="38.42" x2="241.8" y2="38.42" stroke="#777" stroke-width="0.4"/>
<line x1="240.7" y1="65.17" x2="241.8" y2="65.17" stroke="#777" stroke-width="0.4"/>
<line x1="240.7" y1="62.23" x2="241.8" y2="62.23" stroke="#777" stroke-width="0.4"/>
<line x1="240.7" y1="60.15" x2="241.8" y2="60.15" stroke="#777" stroke-width="0.4"/>
<line x1="240.7" y1="58.53" x2="241.8" y2="58.53" stroke="#777" stroke-width="0.4"/>
<line x1="240.7" y1="57.2" x2="241.8" y2="57.2" stroke="#777" stroke-width="0.4"/>
<line x1="240.7" y1="56.09" x2="241.8" y2="56.09" stroke="#777" stroke-width="0.4"/>
<line x1="240.7" y1="55.12" x2="241.8" y2="55.12" stroke="#777" stroke-width="0.4"/>
<line x1="240.7" y1="54.26" x2="241.8" y2="54.26" stroke="#777" stroke-width="0.4"/>
<line x1="240.7" y1="81.73" x2="241.8" y2="81.73" stroke="#777" stroke-width="0.4"/>
<line x1="240.7" y1="78.83" x2="241.8" y2="78.83" stroke="#777" stroke-width="0.4"/>
<line x1="240.7" y1="76.77" x2="241.8" y2="76.77" stroke="#777" stroke-width="0.4"/>
<line x1="240.7" y1="75.17" x2="241.8" y2="75.17" stroke="#777" stroke-width="0.4"/>
<line x1="240.7" y1="73.86" x2="241.8" y2="73.86" stroke="#777" stroke-width="0.4"/>
<line x1="240.7" y1="72.76" x2="241.8" y2="72.76" stroke="#777" stroke-width="0.4"/>
<line x1="240.7" y1="71.8" x2="241.8" y2="71.8" stroke="#777" stroke-width="0.4"/>
<line x1="240.7" y1="70.95" x2="241.8" y2="70.95" stroke="#777" stroke-width="0.4"/>
<text transform="translate(253 112.85) scale(0.87 1)" font-size="6.8" text-anchor="middle" fill="#262626">0</text>
<text transform="translate(271.4 112.85) scale(0.87 1)" font-size="6.8" text-anchor="middle" fill="#262626">10<tspan font-size="4.62" dy="-2.8">3</tspan></text>
<text transform="translate(288.7 112.85) scale(0.87 1)" font-size="6.8" text-anchor="middle" fill="#262626">10<tspan font-size="4.62" dy="-2.8">4</tspan></text>
<text transform="translate(305.1 112.85) scale(0.87 1)" font-size="6.8" text-anchor="middle" fill="#262626">10<tspan font-size="4.62" dy="-2.8">5</tspan></text>
<line x1="253" y1="102.3" x2="253" y2="104" stroke="#333" stroke-width="0.9"/>
<line x1="271.7" y1="102.3" x2="271.7" y2="104" stroke="#333" stroke-width="0.9"/>
<line x1="289" y1="102.3" x2="289" y2="104" stroke="#333" stroke-width="0.9"/>
<line x1="305.4" y1="102.3" x2="305.4" y2="104" stroke="#333" stroke-width="0.9"/>
<line x1="276.91" y1="102.2" x2="276.91" y2="103.3" stroke="#666" stroke-width="0.4"/>
<line x1="279.95" y1="102.2" x2="279.95" y2="103.3" stroke="#666" stroke-width="0.4"/>
<line x1="282.12" y1="102.2" x2="282.12" y2="103.3" stroke="#666" stroke-width="0.4"/>
<line x1="283.79" y1="102.2" x2="283.79" y2="103.3" stroke="#666" stroke-width="0.4"/>
<line x1="285.16" y1="102.2" x2="285.16" y2="103.3" stroke="#666" stroke-width="0.4"/>
<line x1="286.32" y1="102.2" x2="286.32" y2="103.3" stroke="#666" stroke-width="0.4"/>
<line x1="287.32" y1="102.2" x2="287.32" y2="103.3" stroke="#666" stroke-width="0.4"/>
<line x1="288.21" y1="102.2" x2="288.21" y2="103.3" stroke="#666" stroke-width="0.4"/>
<line x1="293.94" y1="102.2" x2="293.94" y2="103.3" stroke="#666" stroke-width="0.4"/>
<line x1="296.82" y1="102.2" x2="296.82" y2="103.3" stroke="#666" stroke-width="0.4"/>
<line x1="298.87" y1="102.2" x2="298.87" y2="103.3" stroke="#666" stroke-width="0.4"/>
<line x1="300.46" y1="102.2" x2="300.46" y2="103.3" stroke="#666" stroke-width="0.4"/>
<line x1="301.76" y1="102.2" x2="301.76" y2="103.3" stroke="#666" stroke-width="0.4"/>
<line x1="302.86" y1="102.2" x2="302.86" y2="103.3" stroke="#666" stroke-width="0.4"/>
<line x1="303.81" y1="102.2" x2="303.81" y2="103.3" stroke="#666" stroke-width="0.4"/>
<line x1="304.65" y1="102.2" x2="304.65" y2="103.3" stroke="#666" stroke-width="0.4"/>
<line x1="248" y1="102.2" x2="248" y2="103.4" stroke="#555" stroke-width="0.45"/>
<line x1="249.5" y1="102.2" x2="249.5" y2="103.4" stroke="#555" stroke-width="0.45"/>
<line x1="251" y1="102.2" x2="251" y2="103.4" stroke="#555" stroke-width="0.45"/>
<line x1="252" y1="102.2" x2="252" y2="103.4" stroke="#555" stroke-width="0.45"/>
<line x1="254" y1="102.2" x2="254" y2="103.4" stroke="#555" stroke-width="0.45"/>
<line x1="255" y1="102.2" x2="255" y2="103.4" stroke="#555" stroke-width="0.45"/>
<line x1="256.5" y1="102.2" x2="256.5" y2="103.4" stroke="#555" stroke-width="0.45"/>
<line x1="258" y1="102.2" x2="258" y2="103.4" stroke="#555" stroke-width="0.45"/>
<line x1="260" y1="102.2" x2="260" y2="103.4" stroke="#555" stroke-width="0.45"/>
<line x1="262.5" y1="102.2" x2="262.5" y2="103.4" stroke="#555" stroke-width="0.45"/>
<line x1="265.5" y1="102.2" x2="265.5" y2="103.4" stroke="#555" stroke-width="0.45"/>
<rect x="342" y="30.5" width="71.4" height="71.5" fill="none" stroke="#ababab" stroke-width="0.8"/>
<line x1="342" y1="30.5" x2="342" y2="102" stroke="#666" stroke-width="0.8"/>
<line x1="342" y1="102" x2="413.4" y2="102" stroke="#555" stroke-width="0.8"/>
<text transform="translate(337.4 104.45) scale(0.87 1)" font-size="6.8" text-anchor="end" fill="#262626">0</text>
<line x1="338.6" y1="102" x2="340.2" y2="102" stroke="#333" stroke-width="0.9"/>
<text transform="translate(337.4 90.95) scale(0.87 1)" font-size="6.8" text-anchor="end" fill="#262626">50K</text>
<line x1="338.6" y1="88.5" x2="340.2" y2="88.5" stroke="#333" stroke-width="0.9"/>
<text transform="translate(337.4 77.45) scale(0.87 1)" font-size="6.8" text-anchor="end" fill="#262626">100K</text>
<line x1="338.6" y1="75" x2="340.2" y2="75" stroke="#333" stroke-width="0.9"/>
<text transform="translate(337.4 63.95) scale(0.87 1)" font-size="6.8" text-anchor="end" fill="#262626">150K</text>
<line x1="338.6" y1="61.5" x2="340.2" y2="61.5" stroke="#333" stroke-width="0.9"/>
<text transform="translate(337.4 50.45) scale(0.87 1)" font-size="6.8" text-anchor="end" fill="#262626">200K</text>
<line x1="338.6" y1="48" x2="340.2" y2="48" stroke="#333" stroke-width="0.9"/>
<text transform="translate(337.4 36.95) scale(0.87 1)" font-size="6.8" text-anchor="end" fill="#262626">250K</text>
<line x1="338.6" y1="34.5" x2="340.2" y2="34.5" stroke="#333" stroke-width="0.9"/>
<line x1="340.7" y1="102" x2="341.8" y2="102" stroke="#777" stroke-width="0.4"/>
<line x1="340.7" y1="100.65" x2="341.8" y2="100.65" stroke="#777" stroke-width="0.4"/>
<line x1="340.7" y1="99.3" x2="341.8" y2="99.3" stroke="#777" stroke-width="0.4"/>
<line x1="340.7" y1="97.95" x2="341.8" y2="97.95" stroke="#777" stroke-width="0.4"/>
<line x1="340.7" y1="96.6" x2="341.8" y2="96.6" stroke="#777" stroke-width="0.4"/>
<line x1="340.7" y1="95.25" x2="341.8" y2="95.25" stroke="#777" stroke-width="0.4"/>
<line x1="340.7" y1="93.9" x2="341.8" y2="93.9" stroke="#777" stroke-width="0.4"/>
<line x1="340.7" y1="92.55" x2="341.8" y2="92.55" stroke="#777" stroke-width="0.4"/>
<line x1="340.7" y1="91.2" x2="341.8" y2="91.2" stroke="#777" stroke-width="0.4"/>
<line x1="340.7" y1="89.85" x2="341.8" y2="89.85" stroke="#777" stroke-width="0.4"/>
<line x1="340.7" y1="88.5" x2="341.8" y2="88.5" stroke="#777" stroke-width="0.4"/>
<line x1="340.7" y1="87.15" x2="341.8" y2="87.15" stroke="#777" stroke-width="0.4"/>
<line x1="340.7" y1="85.8" x2="341.8" y2="85.8" stroke="#777" stroke-width="0.4"/>
<line x1="340.7" y1="84.45" x2="341.8" y2="84.45" stroke="#777" stroke-width="0.4"/>
<line x1="340.7" y1="83.1" x2="341.8" y2="83.1" stroke="#777" stroke-width="0.4"/>
<line x1="340.7" y1="81.75" x2="341.8" y2="81.75" stroke="#777" stroke-width="0.4"/>
<line x1="340.7" y1="80.4" x2="341.8" y2="80.4" stroke="#777" stroke-width="0.4"/>
<line x1="340.7" y1="79.05" x2="341.8" y2="79.05" stroke="#777" stroke-width="0.4"/>
<line x1="340.7" y1="77.7" x2="341.8" y2="77.7" stroke="#777" stroke-width="0.4"/>
<line x1="340.7" y1="76.35" x2="341.8" y2="76.35" stroke="#777" stroke-width="0.4"/>
<line x1="340.7" y1="75" x2="341.8" y2="75" stroke="#777" stroke-width="0.4"/>
<line x1="340.7" y1="73.65" x2="341.8" y2="73.65" stroke="#777" stroke-width="0.4"/>
<line x1="340.7" y1="72.3" x2="341.8" y2="72.3" stroke="#777" stroke-width="0.4"/>
<line x1="340.7" y1="70.95" x2="341.8" y2="70.95" stroke="#777" stroke-width="0.4"/>
<line x1="340.7" y1="69.6" x2="341.8" y2="69.6" stroke="#777" stroke-width="0.4"/>
<line x1="340.7" y1="68.25" x2="341.8" y2="68.25" stroke="#777" stroke-width="0.4"/>
<line x1="340.7" y1="66.9" x2="341.8" y2="66.9" stroke="#777" stroke-width="0.4"/>
<line x1="340.7" y1="65.55" x2="341.8" y2="65.55" stroke="#777" stroke-width="0.4"/>
<line x1="340.7" y1="64.2" x2="341.8" y2="64.2" stroke="#777" stroke-width="0.4"/>
<line x1="340.7" y1="62.85" x2="341.8" y2="62.85" stroke="#777" stroke-width="0.4"/>
<line x1="340.7" y1="61.5" x2="341.8" y2="61.5" stroke="#777" stroke-width="0.4"/>
<line x1="340.7" y1="60.15" x2="341.8" y2="60.15" stroke="#777" stroke-width="0.4"/>
<line x1="340.7" y1="58.8" x2="341.8" y2="58.8" stroke="#777" stroke-width="0.4"/>
<line x1="340.7" y1="57.45" x2="341.8" y2="57.45" stroke="#777" stroke-width="0.4"/>
<line x1="340.7" y1="56.1" x2="341.8" y2="56.1" stroke="#777" stroke-width="0.4"/>
<line x1="340.7" y1="54.75" x2="341.8" y2="54.75" stroke="#777" stroke-width="0.4"/>
<line x1="340.7" y1="53.4" x2="341.8" y2="53.4" stroke="#777" stroke-width="0.4"/>
<line x1="340.7" y1="52.05" x2="341.8" y2="52.05" stroke="#777" stroke-width="0.4"/>
<line x1="340.7" y1="50.7" x2="341.8" y2="50.7" stroke="#777" stroke-width="0.4"/>
<line x1="340.7" y1="49.35" x2="341.8" y2="49.35" stroke="#777" stroke-width="0.4"/>
<line x1="340.7" y1="48" x2="341.8" y2="48" stroke="#777" stroke-width="0.4"/>
<line x1="340.7" y1="46.65" x2="341.8" y2="46.65" stroke="#777" stroke-width="0.4"/>
<line x1="340.7" y1="45.3" x2="341.8" y2="45.3" stroke="#777" stroke-width="0.4"/>
<line x1="340.7" y1="43.95" x2="341.8" y2="43.95" stroke="#777" stroke-width="0.4"/>
<line x1="340.7" y1="42.6" x2="341.8" y2="42.6" stroke="#777" stroke-width="0.4"/>
<line x1="340.7" y1="41.25" x2="341.8" y2="41.25" stroke="#777" stroke-width="0.4"/>
<line x1="340.7" y1="39.9" x2="341.8" y2="39.9" stroke="#777" stroke-width="0.4"/>
<line x1="340.7" y1="38.55" x2="341.8" y2="38.55" stroke="#777" stroke-width="0.4"/>
<line x1="340.7" y1="37.2" x2="341.8" y2="37.2" stroke="#777" stroke-width="0.4"/>
<line x1="340.7" y1="35.85" x2="341.8" y2="35.85" stroke="#777" stroke-width="0.4"/>
<line x1="340.7" y1="34.5" x2="341.8" y2="34.5" stroke="#777" stroke-width="0.4"/>
<text transform="translate(349.4 112.85) scale(0.87 1)" font-size="6.8" text-anchor="middle" fill="#262626">0</text>
<text transform="translate(372.7 112.85) scale(0.87 1)" font-size="6.8" text-anchor="middle" fill="#262626">10<tspan font-size="4.62" dy="-2.8">3</tspan></text>
<text transform="translate(389.5 112.85) scale(0.87 1)" font-size="6.8" text-anchor="middle" fill="#262626">10<tspan font-size="4.62" dy="-2.8">4</tspan></text>
<text transform="translate(405.7 112.85) scale(0.87 1)" font-size="6.8" text-anchor="middle" fill="#262626">10<tspan font-size="4.62" dy="-2.8">5</tspan></text>
<line x1="349.4" y1="102.3" x2="349.4" y2="104" stroke="#333" stroke-width="0.9"/>
<line x1="373" y1="102.3" x2="373" y2="104" stroke="#333" stroke-width="0.9"/>
<line x1="389.8" y1="102.3" x2="389.8" y2="104" stroke="#333" stroke-width="0.9"/>
<line x1="406" y1="102.3" x2="406" y2="104" stroke="#333" stroke-width="0.9"/>
<line x1="378.06" y1="102.2" x2="378.06" y2="103.3" stroke="#666" stroke-width="0.4"/>
<line x1="381.02" y1="102.2" x2="381.02" y2="103.3" stroke="#666" stroke-width="0.4"/>
<line x1="383.11" y1="102.2" x2="383.11" y2="103.3" stroke="#666" stroke-width="0.4"/>
<line x1="384.74" y1="102.2" x2="384.74" y2="103.3" stroke="#666" stroke-width="0.4"/>
<line x1="386.07" y1="102.2" x2="386.07" y2="103.3" stroke="#666" stroke-width="0.4"/>
<line x1="387.2" y1="102.2" x2="387.2" y2="103.3" stroke="#666" stroke-width="0.4"/>
<line x1="388.17" y1="102.2" x2="388.17" y2="103.3" stroke="#666" stroke-width="0.4"/>
<line x1="389.03" y1="102.2" x2="389.03" y2="103.3" stroke="#666" stroke-width="0.4"/>
<line x1="394.68" y1="102.2" x2="394.68" y2="103.3" stroke="#666" stroke-width="0.4"/>
<line x1="397.53" y1="102.2" x2="397.53" y2="103.3" stroke="#666" stroke-width="0.4"/>
<line x1="399.55" y1="102.2" x2="399.55" y2="103.3" stroke="#666" stroke-width="0.4"/>
<line x1="401.12" y1="102.2" x2="401.12" y2="103.3" stroke="#666" stroke-width="0.4"/>
<line x1="402.41" y1="102.2" x2="402.41" y2="103.3" stroke="#666" stroke-width="0.4"/>
<line x1="403.49" y1="102.2" x2="403.49" y2="103.3" stroke="#666" stroke-width="0.4"/>
<line x1="404.43" y1="102.2" x2="404.43" y2="103.3" stroke="#666" stroke-width="0.4"/>
<line x1="405.26" y1="102.2" x2="405.26" y2="103.3" stroke="#666" stroke-width="0.4"/>
<line x1="344.4" y1="102.2" x2="344.4" y2="103.4" stroke="#555" stroke-width="0.45"/>
<line x1="345.9" y1="102.2" x2="345.9" y2="103.4" stroke="#555" stroke-width="0.45"/>
<line x1="347.4" y1="102.2" x2="347.4" y2="103.4" stroke="#555" stroke-width="0.45"/>
<line x1="348.4" y1="102.2" x2="348.4" y2="103.4" stroke="#555" stroke-width="0.45"/>
<line x1="350.4" y1="102.2" x2="350.4" y2="103.4" stroke="#555" stroke-width="0.45"/>
<line x1="351.4" y1="102.2" x2="351.4" y2="103.4" stroke="#555" stroke-width="0.45"/>
<line x1="352.9" y1="102.2" x2="352.9" y2="103.4" stroke="#555" stroke-width="0.45"/>
<line x1="354.4" y1="102.2" x2="354.4" y2="103.4" stroke="#555" stroke-width="0.45"/>
<line x1="356.4" y1="102.2" x2="356.4" y2="103.4" stroke="#555" stroke-width="0.45"/>
<line x1="358.9" y1="102.2" x2="358.9" y2="103.4" stroke="#555" stroke-width="0.45"/>
<line x1="361.9" y1="102.2" x2="361.9" y2="103.4" stroke="#555" stroke-width="0.45"/>
<rect x="441.3" y="30.6" width="71" height="71.2" fill="none" stroke="#ababab" stroke-width="0.8"/>
<line x1="441.3" y1="30.6" x2="441.3" y2="101.8" stroke="#666" stroke-width="0.8"/>
<line x1="441.3" y1="101.8" x2="512.3" y2="101.8" stroke="#555" stroke-width="0.8"/>
<text transform="translate(436.9 40.45) scale(0.87 1)" font-size="6.8" text-anchor="end" fill="#262626">10<tspan font-size="4.62" dy="-2.8">5</tspan></text>
<line x1="438.1" y1="38" x2="439.6" y2="38" stroke="#333" stroke-width="0.9"/>
<text transform="translate(436.9 56.85) scale(0.87 1)" font-size="6.8" text-anchor="end" fill="#262626">10<tspan font-size="4.62" dy="-2.8">4</tspan></text>
<line x1="438.1" y1="54.4" x2="439.6" y2="54.4" stroke="#333" stroke-width="0.9"/>
<text transform="translate(436.9 72.85) scale(0.87 1)" font-size="6.8" text-anchor="end" fill="#262626">10<tspan font-size="4.62" dy="-2.8">3</tspan></text>
<line x1="438.1" y1="70.4" x2="439.6" y2="70.4" stroke="#333" stroke-width="0.9"/>
<text transform="translate(436.9 89.15) scale(0.87 1)" font-size="6.8" text-anchor="end" fill="#262626">10<tspan font-size="4.62" dy="-2.8">2</tspan></text>
<line x1="438.1" y1="86.7" x2="439.6" y2="86.7" stroke="#333" stroke-width="0.9"/>
<text transform="translate(436.9 100.15) scale(0.87 1)" font-size="6.8" text-anchor="end" fill="#262626">0</text>
<line x1="438.1" y1="97.7" x2="439.6" y2="97.7" stroke="#333" stroke-width="0.9"/>
<line x1="440" y1="49.46" x2="441.1" y2="49.46" stroke="#777" stroke-width="0.4"/>
<line x1="440" y1="46.58" x2="441.1" y2="46.58" stroke="#777" stroke-width="0.4"/>
<line x1="440" y1="44.53" x2="441.1" y2="44.53" stroke="#777" stroke-width="0.4"/>
<line x1="440" y1="42.94" x2="441.1" y2="42.94" stroke="#777" stroke-width="0.4"/>
<line x1="440" y1="41.64" x2="441.1" y2="41.64" stroke="#777" stroke-width="0.4"/>
<line x1="440" y1="40.54" x2="441.1" y2="40.54" stroke="#777" stroke-width="0.4"/>
<line x1="440" y1="39.59" x2="441.1" y2="39.59" stroke="#777" stroke-width="0.4"/>
<line x1="440" y1="38.75" x2="441.1" y2="38.75" stroke="#777" stroke-width="0.4"/>
<line x1="440" y1="65.58" x2="441.1" y2="65.58" stroke="#777" stroke-width="0.4"/>
<line x1="440" y1="62.77" x2="441.1" y2="62.77" stroke="#777" stroke-width="0.4"/>
<line x1="440" y1="60.77" x2="441.1" y2="60.77" stroke="#777" stroke-width="0.4"/>
<line x1="440" y1="59.22" x2="441.1" y2="59.22" stroke="#777" stroke-width="0.4"/>
<line x1="440" y1="57.95" x2="441.1" y2="57.95" stroke="#777" stroke-width="0.4"/>
<line x1="440" y1="56.88" x2="441.1" y2="56.88" stroke="#777" stroke-width="0.4"/>
<line x1="440" y1="55.95" x2="441.1" y2="55.95" stroke="#777" stroke-width="0.4"/>
<line x1="440" y1="55.13" x2="441.1" y2="55.13" stroke="#777" stroke-width="0.4"/>
<line x1="440" y1="81.79" x2="441.1" y2="81.79" stroke="#777" stroke-width="0.4"/>
<line x1="440" y1="78.92" x2="441.1" y2="78.92" stroke="#777" stroke-width="0.4"/>
<line x1="440" y1="76.89" x2="441.1" y2="76.89" stroke="#777" stroke-width="0.4"/>
<line x1="440" y1="75.31" x2="441.1" y2="75.31" stroke="#777" stroke-width="0.4"/>
<line x1="440" y1="74.02" x2="441.1" y2="74.02" stroke="#777" stroke-width="0.4"/>
<line x1="440" y1="72.92" x2="441.1" y2="72.92" stroke="#777" stroke-width="0.4"/>
<line x1="440" y1="71.98" x2="441.1" y2="71.98" stroke="#777" stroke-width="0.4"/>
<line x1="440" y1="71.15" x2="441.1" y2="71.15" stroke="#777" stroke-width="0.4"/>
<text transform="translate(453.3 112.85) scale(0.87 1)" font-size="6.8" text-anchor="middle" fill="#262626">0</text>
<text transform="translate(472.2 112.85) scale(0.87 1)" font-size="6.8" text-anchor="middle" fill="#262626">10<tspan font-size="4.62" dy="-2.8">3</tspan></text>
<text transform="translate(488.5 112.85) scale(0.87 1)" font-size="6.8" text-anchor="middle" fill="#262626">10<tspan font-size="4.62" dy="-2.8">4</tspan></text>
<text transform="translate(504.9 112.85) scale(0.87 1)" font-size="6.8" text-anchor="middle" fill="#262626">10<tspan font-size="4.62" dy="-2.8">5</tspan></text>
<line x1="453.3" y1="102.1" x2="453.3" y2="103.8" stroke="#333" stroke-width="0.9"/>
<line x1="472.5" y1="102.1" x2="472.5" y2="103.8" stroke="#333" stroke-width="0.9"/>
<line x1="488.8" y1="102.1" x2="488.8" y2="103.8" stroke="#333" stroke-width="0.9"/>
<line x1="505.2" y1="102.1" x2="505.2" y2="103.8" stroke="#333" stroke-width="0.9"/>
<line x1="477.41" y1="102" x2="477.41" y2="103.1" stroke="#666" stroke-width="0.4"/>
<line x1="480.28" y1="102" x2="480.28" y2="103.1" stroke="#666" stroke-width="0.4"/>
<line x1="482.31" y1="102" x2="482.31" y2="103.1" stroke="#666" stroke-width="0.4"/>
<line x1="483.89" y1="102" x2="483.89" y2="103.1" stroke="#666" stroke-width="0.4"/>
<line x1="485.18" y1="102" x2="485.18" y2="103.1" stroke="#666" stroke-width="0.4"/>
<line x1="486.28" y1="102" x2="486.28" y2="103.1" stroke="#666" stroke-width="0.4"/>
<line x1="487.22" y1="102" x2="487.22" y2="103.1" stroke="#666" stroke-width="0.4"/>
<line x1="488.05" y1="102" x2="488.05" y2="103.1" stroke="#666" stroke-width="0.4"/>
<line x1="493.74" y1="102" x2="493.74" y2="103.1" stroke="#666" stroke-width="0.4"/>
<line x1="496.62" y1="102" x2="496.62" y2="103.1" stroke="#666" stroke-width="0.4"/>
<line x1="498.67" y1="102" x2="498.67" y2="103.1" stroke="#666" stroke-width="0.4"/>
<line x1="500.26" y1="102" x2="500.26" y2="103.1" stroke="#666" stroke-width="0.4"/>
<line x1="501.56" y1="102" x2="501.56" y2="103.1" stroke="#666" stroke-width="0.4"/>
<line x1="502.66" y1="102" x2="502.66" y2="103.1" stroke="#666" stroke-width="0.4"/>
<line x1="503.61" y1="102" x2="503.61" y2="103.1" stroke="#666" stroke-width="0.4"/>
<line x1="504.45" y1="102" x2="504.45" y2="103.1" stroke="#666" stroke-width="0.4"/>
<line x1="448.3" y1="102" x2="448.3" y2="103.2" stroke="#555" stroke-width="0.45"/>
<line x1="449.8" y1="102" x2="449.8" y2="103.2" stroke="#555" stroke-width="0.45"/>
<line x1="451.3" y1="102" x2="451.3" y2="103.2" stroke="#555" stroke-width="0.45"/>
<line x1="452.3" y1="102" x2="452.3" y2="103.2" stroke="#555" stroke-width="0.45"/>
<line x1="454.3" y1="102" x2="454.3" y2="103.2" stroke="#555" stroke-width="0.45"/>
<line x1="455.3" y1="102" x2="455.3" y2="103.2" stroke="#555" stroke-width="0.45"/>
<line x1="456.8" y1="102" x2="456.8" y2="103.2" stroke="#555" stroke-width="0.45"/>
<line x1="458.3" y1="102" x2="458.3" y2="103.2" stroke="#555" stroke-width="0.45"/>
<line x1="460.3" y1="102" x2="460.3" y2="103.2" stroke="#555" stroke-width="0.45"/>
<line x1="462.8" y1="102" x2="462.8" y2="103.2" stroke="#555" stroke-width="0.45"/>
<line x1="465.8" y1="102" x2="465.8" y2="103.2" stroke="#555" stroke-width="0.45"/>
<rect x="39.3" y="124.9" width="71" height="72.8" fill="none" stroke="#ababab" stroke-width="0.8"/>
<line x1="39.3" y1="124.9" x2="39.3" y2="197.7" stroke="#666" stroke-width="0.8"/>
<line x1="39.3" y1="197.7" x2="110.3" y2="197.7" stroke="#555" stroke-width="0.8"/>
<text transform="translate(34.7 200.15) scale(0.87 1)" font-size="6.8" text-anchor="end" fill="#262626">0</text>
<line x1="35.9" y1="197.7" x2="37.5" y2="197.7" stroke="#333" stroke-width="0.9"/>
<text transform="translate(34.7 186.39) scale(0.87 1)" font-size="6.8" text-anchor="end" fill="#262626">50K</text>
<line x1="35.9" y1="183.94" x2="37.5" y2="183.94" stroke="#333" stroke-width="0.9"/>
<text transform="translate(34.7 172.63) scale(0.87 1)" font-size="6.8" text-anchor="end" fill="#262626">100K</text>
<line x1="35.9" y1="170.18" x2="37.5" y2="170.18" stroke="#333" stroke-width="0.9"/>
<text transform="translate(34.7 158.87) scale(0.87 1)" font-size="6.8" text-anchor="end" fill="#262626">150K</text>
<line x1="35.9" y1="156.42" x2="37.5" y2="156.42" stroke="#333" stroke-width="0.9"/>
<text transform="translate(34.7 145.11) scale(0.87 1)" font-size="6.8" text-anchor="end" fill="#262626">200K</text>
<line x1="35.9" y1="142.66" x2="37.5" y2="142.66" stroke="#333" stroke-width="0.9"/>
<text transform="translate(34.7 131.35) scale(0.87 1)" font-size="6.8" text-anchor="end" fill="#262626">250K</text>
<line x1="35.9" y1="128.9" x2="37.5" y2="128.9" stroke="#333" stroke-width="0.9"/>
<line x1="38" y1="197.7" x2="39.1" y2="197.7" stroke="#777" stroke-width="0.4"/>
<line x1="38" y1="196.32" x2="39.1" y2="196.32" stroke="#777" stroke-width="0.4"/>
<line x1="38" y1="194.95" x2="39.1" y2="194.95" stroke="#777" stroke-width="0.4"/>
<line x1="38" y1="193.57" x2="39.1" y2="193.57" stroke="#777" stroke-width="0.4"/>
<line x1="38" y1="192.2" x2="39.1" y2="192.2" stroke="#777" stroke-width="0.4"/>
<line x1="38" y1="190.82" x2="39.1" y2="190.82" stroke="#777" stroke-width="0.4"/>
<line x1="38" y1="189.44" x2="39.1" y2="189.44" stroke="#777" stroke-width="0.4"/>
<line x1="38" y1="188.07" x2="39.1" y2="188.07" stroke="#777" stroke-width="0.4"/>
<line x1="38" y1="186.69" x2="39.1" y2="186.69" stroke="#777" stroke-width="0.4"/>
<line x1="38" y1="185.32" x2="39.1" y2="185.32" stroke="#777" stroke-width="0.4"/>
<line x1="38" y1="183.94" x2="39.1" y2="183.94" stroke="#777" stroke-width="0.4"/>
<line x1="38" y1="182.56" x2="39.1" y2="182.56" stroke="#777" stroke-width="0.4"/>
<line x1="38" y1="181.19" x2="39.1" y2="181.19" stroke="#777" stroke-width="0.4"/>
<line x1="38" y1="179.81" x2="39.1" y2="179.81" stroke="#777" stroke-width="0.4"/>
<line x1="38" y1="178.44" x2="39.1" y2="178.44" stroke="#777" stroke-width="0.4"/>
<line x1="38" y1="177.06" x2="39.1" y2="177.06" stroke="#777" stroke-width="0.4"/>
<line x1="38" y1="175.68" x2="39.1" y2="175.68" stroke="#777" stroke-width="0.4"/>
<line x1="38" y1="174.31" x2="39.1" y2="174.31" stroke="#777" stroke-width="0.4"/>
<line x1="38" y1="172.93" x2="39.1" y2="172.93" stroke="#777" stroke-width="0.4"/>
<line x1="38" y1="171.56" x2="39.1" y2="171.56" stroke="#777" stroke-width="0.4"/>
<line x1="38" y1="170.18" x2="39.1" y2="170.18" stroke="#777" stroke-width="0.4"/>
<line x1="38" y1="168.8" x2="39.1" y2="168.8" stroke="#777" stroke-width="0.4"/>
<line x1="38" y1="167.43" x2="39.1" y2="167.43" stroke="#777" stroke-width="0.4"/>
<line x1="38" y1="166.05" x2="39.1" y2="166.05" stroke="#777" stroke-width="0.4"/>
<line x1="38" y1="164.68" x2="39.1" y2="164.68" stroke="#777" stroke-width="0.4"/>
<line x1="38" y1="163.3" x2="39.1" y2="163.3" stroke="#777" stroke-width="0.4"/>
<line x1="38" y1="161.92" x2="39.1" y2="161.92" stroke="#777" stroke-width="0.4"/>
<line x1="38" y1="160.55" x2="39.1" y2="160.55" stroke="#777" stroke-width="0.4"/>
<line x1="38" y1="159.17" x2="39.1" y2="159.17" stroke="#777" stroke-width="0.4"/>
<line x1="38" y1="157.8" x2="39.1" y2="157.8" stroke="#777" stroke-width="0.4"/>
<line x1="38" y1="156.42" x2="39.1" y2="156.42" stroke="#777" stroke-width="0.4"/>
<line x1="38" y1="155.04" x2="39.1" y2="155.04" stroke="#777" stroke-width="0.4"/>
<line x1="38" y1="153.67" x2="39.1" y2="153.67" stroke="#777" stroke-width="0.4"/>
<line x1="38" y1="152.29" x2="39.1" y2="152.29" stroke="#777" stroke-width="0.4"/>
<line x1="38" y1="150.92" x2="39.1" y2="150.92" stroke="#777" stroke-width="0.4"/>
<line x1="38" y1="149.54" x2="39.1" y2="149.54" stroke="#777" stroke-width="0.4"/>
<line x1="38" y1="148.16" x2="39.1" y2="148.16" stroke="#777" stroke-width="0.4"/>
<line x1="38" y1="146.79" x2="39.1" y2="146.79" stroke="#777" stroke-width="0.4"/>
<line x1="38" y1="145.41" x2="39.1" y2="145.41" stroke="#777" stroke-width="0.4"/>
<line x1="38" y1="144.04" x2="39.1" y2="144.04" stroke="#777" stroke-width="0.4"/>
<line x1="38" y1="142.66" x2="39.1" y2="142.66" stroke="#777" stroke-width="0.4"/>
<line x1="38" y1="141.28" x2="39.1" y2="141.28" stroke="#777" stroke-width="0.4"/>
<line x1="38" y1="139.91" x2="39.1" y2="139.91" stroke="#777" stroke-width="0.4"/>
<line x1="38" y1="138.53" x2="39.1" y2="138.53" stroke="#777" stroke-width="0.4"/>
<line x1="38" y1="137.16" x2="39.1" y2="137.16" stroke="#777" stroke-width="0.4"/>
<line x1="38" y1="135.78" x2="39.1" y2="135.78" stroke="#777" stroke-width="0.4"/>
<line x1="38" y1="134.4" x2="39.1" y2="134.4" stroke="#777" stroke-width="0.4"/>
<line x1="38" y1="133.03" x2="39.1" y2="133.03" stroke="#777" stroke-width="0.4"/>
<line x1="38" y1="131.65" x2="39.1" y2="131.65" stroke="#777" stroke-width="0.4"/>
<line x1="38" y1="130.28" x2="39.1" y2="130.28" stroke="#777" stroke-width="0.4"/>
<line x1="38" y1="128.9" x2="39.1" y2="128.9" stroke="#777" stroke-width="0.4"/>
<text transform="translate(46.3 207.45) scale(0.87 1)" font-size="6.8" text-anchor="middle" fill="#262626">0</text>
<text transform="translate(68.3 207.45) scale(0.87 1)" font-size="6.8" text-anchor="middle" fill="#262626">10<tspan font-size="4.62" dy="-2.8">3</tspan></text>
<text transform="translate(86 207.45) scale(0.87 1)" font-size="6.8" text-anchor="middle" fill="#262626">10<tspan font-size="4.62" dy="-2.8">4</tspan></text>
<text transform="translate(103.3 207.45) scale(0.87 1)" font-size="6.8" text-anchor="middle" fill="#262626">10<tspan font-size="4.62" dy="-2.8">5</tspan></text>
<line x1="46.3" y1="198" x2="46.3" y2="199.7" stroke="#333" stroke-width="0.9"/>
<line x1="68.6" y1="198" x2="68.6" y2="199.7" stroke="#333" stroke-width="0.9"/>
<line x1="86.3" y1="198" x2="86.3" y2="199.7" stroke="#333" stroke-width="0.9"/>
<line x1="103.6" y1="198" x2="103.6" y2="199.7" stroke="#333" stroke-width="0.9"/>
<line x1="73.93" y1="197.9" x2="73.93" y2="199" stroke="#666" stroke-width="0.4"/>
<line x1="77.05" y1="197.9" x2="77.05" y2="199" stroke="#666" stroke-width="0.4"/>
<line x1="79.26" y1="197.9" x2="79.26" y2="199" stroke="#666" stroke-width="0.4"/>
<line x1="80.97" y1="197.9" x2="80.97" y2="199" stroke="#666" stroke-width="0.4"/>
<line x1="82.37" y1="197.9" x2="82.37" y2="199" stroke="#666" stroke-width="0.4"/>
<line x1="83.56" y1="197.9" x2="83.56" y2="199" stroke="#666" stroke-width="0.4"/>
<line x1="84.58" y1="197.9" x2="84.58" y2="199" stroke="#666" stroke-width="0.4"/>
<line x1="85.49" y1="197.9" x2="85.49" y2="199" stroke="#666" stroke-width="0.4"/>
<line x1="91.51" y1="197.9" x2="91.51" y2="199" stroke="#666" stroke-width="0.4"/>
<line x1="94.55" y1="197.9" x2="94.55" y2="199" stroke="#666" stroke-width="0.4"/>
<line x1="96.72" y1="197.9" x2="96.72" y2="199" stroke="#666" stroke-width="0.4"/>
<line x1="98.39" y1="197.9" x2="98.39" y2="199" stroke="#666" stroke-width="0.4"/>
<line x1="99.76" y1="197.9" x2="99.76" y2="199" stroke="#666" stroke-width="0.4"/>
<line x1="100.92" y1="197.9" x2="100.92" y2="199" stroke="#666" stroke-width="0.4"/>
<line x1="101.92" y1="197.9" x2="101.92" y2="199" stroke="#666" stroke-width="0.4"/>
<line x1="102.81" y1="197.9" x2="102.81" y2="199" stroke="#666" stroke-width="0.4"/>
<line x1="41.3" y1="197.9" x2="41.3" y2="199.1" stroke="#555" stroke-width="0.45"/>
<line x1="42.8" y1="197.9" x2="42.8" y2="199.1" stroke="#555" stroke-width="0.45"/>
<line x1="44.3" y1="197.9" x2="44.3" y2="199.1" stroke="#555" stroke-width="0.45"/>
<line x1="45.3" y1="197.9" x2="45.3" y2="199.1" stroke="#555" stroke-width="0.45"/>
<line x1="47.3" y1="197.9" x2="47.3" y2="199.1" stroke="#555" stroke-width="0.45"/>
<line x1="48.3" y1="197.9" x2="48.3" y2="199.1" stroke="#555" stroke-width="0.45"/>
<line x1="49.8" y1="197.9" x2="49.8" y2="199.1" stroke="#555" stroke-width="0.45"/>
<line x1="51.3" y1="197.9" x2="51.3" y2="199.1" stroke="#555" stroke-width="0.45"/>
<line x1="53.3" y1="197.9" x2="53.3" y2="199.1" stroke="#555" stroke-width="0.45"/>
<line x1="55.8" y1="197.9" x2="55.8" y2="199.1" stroke="#555" stroke-width="0.45"/>
<line x1="58.8" y1="197.9" x2="58.8" y2="199.1" stroke="#555" stroke-width="0.45"/>
<rect x="142.8" y="124.9" width="69.5" height="71.5" fill="none" stroke="#ababab" stroke-width="0.8"/>
<line x1="142.8" y1="124.9" x2="142.8" y2="196.4" stroke="#666" stroke-width="0.8"/>
<line x1="142.8" y1="196.4" x2="212.3" y2="196.4" stroke="#555" stroke-width="0.8"/>
<text transform="translate(138.2 198.85) scale(0.87 1)" font-size="6.8" text-anchor="end" fill="#262626">0</text>
<line x1="139.4" y1="196.4" x2="141" y2="196.4" stroke="#333" stroke-width="0.9"/>
<text transform="translate(138.2 185.35) scale(0.87 1)" font-size="6.8" text-anchor="end" fill="#262626">50K</text>
<line x1="139.4" y1="182.9" x2="141" y2="182.9" stroke="#333" stroke-width="0.9"/>
<text transform="translate(138.2 171.85) scale(0.87 1)" font-size="6.8" text-anchor="end" fill="#262626">100K</text>
<line x1="139.4" y1="169.4" x2="141" y2="169.4" stroke="#333" stroke-width="0.9"/>
<text transform="translate(138.2 158.35) scale(0.87 1)" font-size="6.8" text-anchor="end" fill="#262626">150K</text>
<line x1="139.4" y1="155.9" x2="141" y2="155.9" stroke="#333" stroke-width="0.9"/>
<text transform="translate(138.2 144.85) scale(0.87 1)" font-size="6.8" text-anchor="end" fill="#262626">200K</text>
<line x1="139.4" y1="142.4" x2="141" y2="142.4" stroke="#333" stroke-width="0.9"/>
<text transform="translate(138.2 131.35) scale(0.87 1)" font-size="6.8" text-anchor="end" fill="#262626">250K</text>
<line x1="139.4" y1="128.9" x2="141" y2="128.9" stroke="#333" stroke-width="0.9"/>
<line x1="141.5" y1="196.4" x2="142.6" y2="196.4" stroke="#777" stroke-width="0.4"/>
<line x1="141.5" y1="195.05" x2="142.6" y2="195.05" stroke="#777" stroke-width="0.4"/>
<line x1="141.5" y1="193.7" x2="142.6" y2="193.7" stroke="#777" stroke-width="0.4"/>
<line x1="141.5" y1="192.35" x2="142.6" y2="192.35" stroke="#777" stroke-width="0.4"/>
<line x1="141.5" y1="191" x2="142.6" y2="191" stroke="#777" stroke-width="0.4"/>
<line x1="141.5" y1="189.65" x2="142.6" y2="189.65" stroke="#777" stroke-width="0.4"/>
<line x1="141.5" y1="188.3" x2="142.6" y2="188.3" stroke="#777" stroke-width="0.4"/>
<line x1="141.5" y1="186.95" x2="142.6" y2="186.95" stroke="#777" stroke-width="0.4"/>
<line x1="141.5" y1="185.6" x2="142.6" y2="185.6" stroke="#777" stroke-width="0.4"/>
<line x1="141.5" y1="184.25" x2="142.6" y2="184.25" stroke="#777" stroke-width="0.4"/>
<line x1="141.5" y1="182.9" x2="142.6" y2="182.9" stroke="#777" stroke-width="0.4"/>
<line x1="141.5" y1="181.55" x2="142.6" y2="181.55" stroke="#777" stroke-width="0.4"/>
<line x1="141.5" y1="180.2" x2="142.6" y2="180.2" stroke="#777" stroke-width="0.4"/>
<line x1="141.5" y1="178.85" x2="142.6" y2="178.85" stroke="#777" stroke-width="0.4"/>
<line x1="141.5" y1="177.5" x2="142.6" y2="177.5" stroke="#777" stroke-width="0.4"/>
<line x1="141.5" y1="176.15" x2="142.6" y2="176.15" stroke="#777" stroke-width="0.4"/>
<line x1="141.5" y1="174.8" x2="142.6" y2="174.8" stroke="#777" stroke-width="0.4"/>
<line x1="141.5" y1="173.45" x2="142.6" y2="173.45" stroke="#777" stroke-width="0.4"/>
<line x1="141.5" y1="172.1" x2="142.6" y2="172.1" stroke="#777" stroke-width="0.4"/>
<line x1="141.5" y1="170.75" x2="142.6" y2="170.75" stroke="#777" stroke-width="0.4"/>
<line x1="141.5" y1="169.4" x2="142.6" y2="169.4" stroke="#777" stroke-width="0.4"/>
<line x1="141.5" y1="168.05" x2="142.6" y2="168.05" stroke="#777" stroke-width="0.4"/>
<line x1="141.5" y1="166.7" x2="142.6" y2="166.7" stroke="#777" stroke-width="0.4"/>
<line x1="141.5" y1="165.35" x2="142.6" y2="165.35" stroke="#777" stroke-width="0.4"/>
<line x1="141.5" y1="164" x2="142.6" y2="164" stroke="#777" stroke-width="0.4"/>
<line x1="141.5" y1="162.65" x2="142.6" y2="162.65" stroke="#777" stroke-width="0.4"/>
<line x1="141.5" y1="161.3" x2="142.6" y2="161.3" stroke="#777" stroke-width="0.4"/>
<line x1="141.5" y1="159.95" x2="142.6" y2="159.95" stroke="#777" stroke-width="0.4"/>
<line x1="141.5" y1="158.6" x2="142.6" y2="158.6" stroke="#777" stroke-width="0.4"/>
<line x1="141.5" y1="157.25" x2="142.6" y2="157.25" stroke="#777" stroke-width="0.4"/>
<line x1="141.5" y1="155.9" x2="142.6" y2="155.9" stroke="#777" stroke-width="0.4"/>
<line x1="141.5" y1="154.55" x2="142.6" y2="154.55" stroke="#777" stroke-width="0.4"/>
<line x1="141.5" y1="153.2" x2="142.6" y2="153.2" stroke="#777" stroke-width="0.4"/>
<line x1="141.5" y1="151.85" x2="142.6" y2="151.85" stroke="#777" stroke-width="0.4"/>
<line x1="141.5" y1="150.5" x2="142.6" y2="150.5" stroke="#777" stroke-width="0.4"/>
<line x1="141.5" y1="149.15" x2="142.6" y2="149.15" stroke="#777" stroke-width="0.4"/>
<line x1="141.5" y1="147.8" x2="142.6" y2="147.8" stroke="#777" stroke-width="0.4"/>
<line x1="141.5" y1="146.45" x2="142.6" y2="146.45" stroke="#777" stroke-width="0.4"/>
<line x1="141.5" y1="145.1" x2="142.6" y2="145.1" stroke="#777" stroke-width="0.4"/>
<line x1="141.5" y1="143.75" x2="142.6" y2="143.75" stroke="#777" stroke-width="0.4"/>
<line x1="141.5" y1="142.4" x2="142.6" y2="142.4" stroke="#777" stroke-width="0.4"/>
<line x1="141.5" y1="141.05" x2="142.6" y2="141.05" stroke="#777" stroke-width="0.4"/>
<line x1="141.5" y1="139.7" x2="142.6" y2="139.7" stroke="#777" stroke-width="0.4"/>
<line x1="141.5" y1="138.35" x2="142.6" y2="138.35" stroke="#777" stroke-width="0.4"/>
<line x1="141.5" y1="137" x2="142.6" y2="137" stroke="#777" stroke-width="0.4"/>
<line x1="141.5" y1="135.65" x2="142.6" y2="135.65" stroke="#777" stroke-width="0.4"/>
<line x1="141.5" y1="134.3" x2="142.6" y2="134.3" stroke="#777" stroke-width="0.4"/>
<line x1="141.5" y1="132.95" x2="142.6" y2="132.95" stroke="#777" stroke-width="0.4"/>
<line x1="141.5" y1="131.6" x2="142.6" y2="131.6" stroke="#777" stroke-width="0.4"/>
<line x1="141.5" y1="130.25" x2="142.6" y2="130.25" stroke="#777" stroke-width="0.4"/>
<line x1="141.5" y1="128.9" x2="142.6" y2="128.9" stroke="#777" stroke-width="0.4"/>
<text transform="translate(153.9 208.05) scale(0.87 1)" font-size="6.8" text-anchor="middle" fill="#262626">0</text>
<text transform="translate(171 208.05) scale(0.87 1)" font-size="6.8" text-anchor="middle" fill="#262626">10<tspan font-size="4.62" dy="-2.8">3</tspan></text>
<text transform="translate(187.7 208.05) scale(0.87 1)" font-size="6.8" text-anchor="middle" fill="#262626">10<tspan font-size="4.62" dy="-2.8">4</tspan></text>
<text transform="translate(204.1 208.05) scale(0.87 1)" font-size="6.8" text-anchor="middle" fill="#262626">10<tspan font-size="4.62" dy="-2.8">5</tspan></text>
<line x1="153.9" y1="196.7" x2="153.9" y2="198.4" stroke="#333" stroke-width="0.9"/>
<line x1="171.3" y1="196.7" x2="171.3" y2="198.4" stroke="#333" stroke-width="0.9"/>
<line x1="188" y1="196.7" x2="188" y2="198.4" stroke="#333" stroke-width="0.9"/>
<line x1="204.4" y1="196.7" x2="204.4" y2="198.4" stroke="#333" stroke-width="0.9"/>
<line x1="176.33" y1="196.6" x2="176.33" y2="197.7" stroke="#666" stroke-width="0.4"/>
<line x1="179.27" y1="196.6" x2="179.27" y2="197.7" stroke="#666" stroke-width="0.4"/>
<line x1="181.35" y1="196.6" x2="181.35" y2="197.7" stroke="#666" stroke-width="0.4"/>
<line x1="182.97" y1="196.6" x2="182.97" y2="197.7" stroke="#666" stroke-width="0.4"/>
<line x1="184.3" y1="196.6" x2="184.3" y2="197.7" stroke="#666" stroke-width="0.4"/>
<line x1="185.41" y1="196.6" x2="185.41" y2="197.7" stroke="#666" stroke-width="0.4"/>
<line x1="186.38" y1="196.6" x2="186.38" y2="197.7" stroke="#666" stroke-width="0.4"/>
<line x1="187.24" y1="196.6" x2="187.24" y2="197.7" stroke="#666" stroke-width="0.4"/>
<line x1="192.94" y1="196.6" x2="192.94" y2="197.7" stroke="#666" stroke-width="0.4"/>
<line x1="195.82" y1="196.6" x2="195.82" y2="197.7" stroke="#666" stroke-width="0.4"/>
<line x1="197.87" y1="196.6" x2="197.87" y2="197.7" stroke="#666" stroke-width="0.4"/>
<line x1="199.46" y1="196.6" x2="199.46" y2="197.7" stroke="#666" stroke-width="0.4"/>
<line x1="200.76" y1="196.6" x2="200.76" y2="197.7" stroke="#666" stroke-width="0.4"/>
<line x1="201.86" y1="196.6" x2="201.86" y2="197.7" stroke="#666" stroke-width="0.4"/>
<line x1="202.81" y1="196.6" x2="202.81" y2="197.7" stroke="#666" stroke-width="0.4"/>
<line x1="203.65" y1="196.6" x2="203.65" y2="197.7" stroke="#666" stroke-width="0.4"/>
<line x1="148.9" y1="196.6" x2="148.9" y2="197.8" stroke="#555" stroke-width="0.45"/>
<line x1="150.4" y1="196.6" x2="150.4" y2="197.8" stroke="#555" stroke-width="0.45"/>
<line x1="151.9" y1="196.6" x2="151.9" y2="197.8" stroke="#555" stroke-width="0.45"/>
<line x1="152.9" y1="196.6" x2="152.9" y2="197.8" stroke="#555" stroke-width="0.45"/>
<line x1="154.9" y1="196.6" x2="154.9" y2="197.8" stroke="#555" stroke-width="0.45"/>
<line x1="155.9" y1="196.6" x2="155.9" y2="197.8" stroke="#555" stroke-width="0.45"/>
<line x1="157.4" y1="196.6" x2="157.4" y2="197.8" stroke="#555" stroke-width="0.45"/>
<line x1="158.9" y1="196.6" x2="158.9" y2="197.8" stroke="#555" stroke-width="0.45"/>
<line x1="160.9" y1="196.6" x2="160.9" y2="197.8" stroke="#555" stroke-width="0.45"/>
<line x1="163.4" y1="196.6" x2="163.4" y2="197.8" stroke="#555" stroke-width="0.45"/>
<line x1="166.4" y1="196.6" x2="166.4" y2="197.8" stroke="#555" stroke-width="0.45"/>
<rect x="242" y="124.9" width="70.2" height="71.5" fill="none" stroke="#ababab" stroke-width="0.8"/>
<line x1="242" y1="124.9" x2="242" y2="196.4" stroke="#666" stroke-width="0.8"/>
<line x1="242" y1="196.4" x2="312.2" y2="196.4" stroke="#555" stroke-width="0.8"/>
<text transform="translate(237.6 134.55) scale(0.87 1)" font-size="6.8" text-anchor="end" fill="#262626">10<tspan font-size="4.62" dy="-2.8">5</tspan></text>
<line x1="238.8" y1="132.1" x2="240.3" y2="132.1" stroke="#333" stroke-width="0.9"/>
<text transform="translate(237.6 150.35) scale(0.87 1)" font-size="6.8" text-anchor="end" fill="#262626">10<tspan font-size="4.62" dy="-2.8">4</tspan></text>
<line x1="238.8" y1="147.9" x2="240.3" y2="147.9" stroke="#333" stroke-width="0.9"/>
<text transform="translate(237.6 167.05) scale(0.87 1)" font-size="6.8" text-anchor="end" fill="#262626">10<tspan font-size="4.62" dy="-2.8">3</tspan></text>
<line x1="238.8" y1="164.6" x2="240.3" y2="164.6" stroke="#333" stroke-width="0.9"/>
<text transform="translate(237.6 183.55) scale(0.87 1)" font-size="6.8" text-anchor="end" fill="#262626">10<tspan font-size="4.62" dy="-2.8">2</tspan></text>
<line x1="238.8" y1="181.1" x2="240.3" y2="181.1" stroke="#333" stroke-width="0.9"/>
<text transform="translate(237.6 190.25) scale(0.87 1)" font-size="6.8" text-anchor="end" fill="#262626">0</text>
<line x1="238.8" y1="187.8" x2="240.3" y2="187.8" stroke="#333" stroke-width="0.9"/>
<text transform="translate(237.6 197.45) scale(0.87 1)" font-size="6.8" text-anchor="end" fill="#262626">−10<tspan font-size="4.62" dy="-2.8">2</tspan></text>
<line x1="238.8" y1="195" x2="240.3" y2="195" stroke="#333" stroke-width="0.9"/>
<line x1="240.7" y1="143.14" x2="241.8" y2="143.14" stroke="#777" stroke-width="0.4"/>
<line x1="240.7" y1="140.36" x2="241.8" y2="140.36" stroke="#777" stroke-width="0.4"/>
<line x1="240.7" y1="138.39" x2="241.8" y2="138.39" stroke="#777" stroke-width="0.4"/>
<line x1="240.7" y1="136.86" x2="241.8" y2="136.86" stroke="#777" stroke-width="0.4"/>
<line x1="240.7" y1="135.61" x2="241.8" y2="135.61" stroke="#777" stroke-width="0.4"/>
<line x1="240.7" y1="134.55" x2="241.8" y2="134.55" stroke="#777" stroke-width="0.4"/>
<line x1="240.7" y1="133.63" x2="241.8" y2="133.63" stroke="#777" stroke-width="0.4"/>
<line x1="240.7" y1="132.82" x2="241.8" y2="132.82" stroke="#777" stroke-width="0.4"/>
<line x1="240.7" y1="159.57" x2="241.8" y2="159.57" stroke="#777" stroke-width="0.4"/>
<line x1="240.7" y1="156.63" x2="241.8" y2="156.63" stroke="#777" stroke-width="0.4"/>
<line x1="240.7" y1="154.55" x2="241.8" y2="154.55" stroke="#777" stroke-width="0.4"/>
<line x1="240.7" y1="152.93" x2="241.8" y2="152.93" stroke="#777" stroke-width="0.4"/>
<line x1="240.7" y1="151.6" x2="241.8" y2="151.6" stroke="#777" stroke-width="0.4"/>
<line x1="240.7" y1="150.49" x2="241.8" y2="150.49" stroke="#777" stroke-width="0.4"/>
<line x1="240.7" y1="149.52" x2="241.8" y2="149.52" stroke="#777" stroke-width="0.4"/>
<line x1="240.7" y1="148.66" x2="241.8" y2="148.66" stroke="#777" stroke-width="0.4"/>
<line x1="240.7" y1="176.13" x2="241.8" y2="176.13" stroke="#777" stroke-width="0.4"/>
<line x1="240.7" y1="173.23" x2="241.8" y2="173.23" stroke="#777" stroke-width="0.4"/>
<line x1="240.7" y1="171.17" x2="241.8" y2="171.17" stroke="#777" stroke-width="0.4"/>
<line x1="240.7" y1="169.57" x2="241.8" y2="169.57" stroke="#777" stroke-width="0.4"/>
<line x1="240.7" y1="168.26" x2="241.8" y2="168.26" stroke="#777" stroke-width="0.4"/>
<line x1="240.7" y1="167.16" x2="241.8" y2="167.16" stroke="#777" stroke-width="0.4"/>
<line x1="240.7" y1="166.2" x2="241.8" y2="166.2" stroke="#777" stroke-width="0.4"/>
<line x1="240.7" y1="165.35" x2="241.8" y2="165.35" stroke="#777" stroke-width="0.4"/>
<text transform="translate(253 207.25) scale(0.87 1)" font-size="6.8" text-anchor="middle" fill="#262626">0</text>
<text transform="translate(271.4 207.25) scale(0.87 1)" font-size="6.8" text-anchor="middle" fill="#262626">10<tspan font-size="4.62" dy="-2.8">3</tspan></text>
<text transform="translate(288.7 207.25) scale(0.87 1)" font-size="6.8" text-anchor="middle" fill="#262626">10<tspan font-size="4.62" dy="-2.8">4</tspan></text>
<text transform="translate(305.1 207.25) scale(0.87 1)" font-size="6.8" text-anchor="middle" fill="#262626">10<tspan font-size="4.62" dy="-2.8">5</tspan></text>
<line x1="253" y1="196.7" x2="253" y2="198.4" stroke="#333" stroke-width="0.9"/>
<line x1="271.7" y1="196.7" x2="271.7" y2="198.4" stroke="#333" stroke-width="0.9"/>
<line x1="289" y1="196.7" x2="289" y2="198.4" stroke="#333" stroke-width="0.9"/>
<line x1="305.4" y1="196.7" x2="305.4" y2="198.4" stroke="#333" stroke-width="0.9"/>
<line x1="276.91" y1="196.6" x2="276.91" y2="197.7" stroke="#666" stroke-width="0.4"/>
<line x1="279.95" y1="196.6" x2="279.95" y2="197.7" stroke="#666" stroke-width="0.4"/>
<line x1="282.12" y1="196.6" x2="282.12" y2="197.7" stroke="#666" stroke-width="0.4"/>
<line x1="283.79" y1="196.6" x2="283.79" y2="197.7" stroke="#666" stroke-width="0.4"/>
<line x1="285.16" y1="196.6" x2="285.16" y2="197.7" stroke="#666" stroke-width="0.4"/>
<line x1="286.32" y1="196.6" x2="286.32" y2="197.7" stroke="#666" stroke-width="0.4"/>
<line x1="287.32" y1="196.6" x2="287.32" y2="197.7" stroke="#666" stroke-width="0.4"/>
<line x1="288.21" y1="196.6" x2="288.21" y2="197.7" stroke="#666" stroke-width="0.4"/>
<line x1="293.94" y1="196.6" x2="293.94" y2="197.7" stroke="#666" stroke-width="0.4"/>
<line x1="296.82" y1="196.6" x2="296.82" y2="197.7" stroke="#666" stroke-width="0.4"/>
<line x1="298.87" y1="196.6" x2="298.87" y2="197.7" stroke="#666" stroke-width="0.4"/>
<line x1="300.46" y1="196.6" x2="300.46" y2="197.7" stroke="#666" stroke-width="0.4"/>
<line x1="301.76" y1="196.6" x2="301.76" y2="197.7" stroke="#666" stroke-width="0.4"/>
<line x1="302.86" y1="196.6" x2="302.86" y2="197.7" stroke="#666" stroke-width="0.4"/>
<line x1="303.81" y1="196.6" x2="303.81" y2="197.7" stroke="#666" stroke-width="0.4"/>
<line x1="304.65" y1="196.6" x2="304.65" y2="197.7" stroke="#666" stroke-width="0.4"/>
<line x1="248" y1="196.6" x2="248" y2="197.8" stroke="#555" stroke-width="0.45"/>
<line x1="249.5" y1="196.6" x2="249.5" y2="197.8" stroke="#555" stroke-width="0.45"/>
<line x1="251" y1="196.6" x2="251" y2="197.8" stroke="#555" stroke-width="0.45"/>
<line x1="252" y1="196.6" x2="252" y2="197.8" stroke="#555" stroke-width="0.45"/>
<line x1="254" y1="196.6" x2="254" y2="197.8" stroke="#555" stroke-width="0.45"/>
<line x1="255" y1="196.6" x2="255" y2="197.8" stroke="#555" stroke-width="0.45"/>
<line x1="256.5" y1="196.6" x2="256.5" y2="197.8" stroke="#555" stroke-width="0.45"/>
<line x1="258" y1="196.6" x2="258" y2="197.8" stroke="#555" stroke-width="0.45"/>
<line x1="260" y1="196.6" x2="260" y2="197.8" stroke="#555" stroke-width="0.45"/>
<line x1="262.5" y1="196.6" x2="262.5" y2="197.8" stroke="#555" stroke-width="0.45"/>
<line x1="265.5" y1="196.6" x2="265.5" y2="197.8" stroke="#555" stroke-width="0.45"/>
<rect x="342" y="124.9" width="71.4" height="71.5" fill="none" stroke="#ababab" stroke-width="0.8"/>
<line x1="342" y1="124.9" x2="342" y2="196.4" stroke="#666" stroke-width="0.8"/>
<line x1="342" y1="196.4" x2="413.4" y2="196.4" stroke="#555" stroke-width="0.8"/>
<text transform="translate(337.4 198.85) scale(0.87 1)" font-size="6.8" text-anchor="end" fill="#262626">0</text>
<line x1="338.6" y1="196.4" x2="340.2" y2="196.4" stroke="#333" stroke-width="0.9"/>
<text transform="translate(337.4 185.35) scale(0.87 1)" font-size="6.8" text-anchor="end" fill="#262626">50K</text>
<line x1="338.6" y1="182.9" x2="340.2" y2="182.9" stroke="#333" stroke-width="0.9"/>
<text transform="translate(337.4 171.85) scale(0.87 1)" font-size="6.8" text-anchor="end" fill="#262626">100K</text>
<line x1="338.6" y1="169.4" x2="340.2" y2="169.4" stroke="#333" stroke-width="0.9"/>
<text transform="translate(337.4 158.35) scale(0.87 1)" font-size="6.8" text-anchor="end" fill="#262626">150K</text>
<line x1="338.6" y1="155.9" x2="340.2" y2="155.9" stroke="#333" stroke-width="0.9"/>
<text transform="translate(337.4 144.85) scale(0.87 1)" font-size="6.8" text-anchor="end" fill="#262626">200K</text>
<line x1="338.6" y1="142.4" x2="340.2" y2="142.4" stroke="#333" stroke-width="0.9"/>
<text transform="translate(337.4 131.35) scale(0.87 1)" font-size="6.8" text-anchor="end" fill="#262626">250K</text>
<line x1="338.6" y1="128.9" x2="340.2" y2="128.9" stroke="#333" stroke-width="0.9"/>
<line x1="340.7" y1="196.4" x2="341.8" y2="196.4" stroke="#777" stroke-width="0.4"/>
<line x1="340.7" y1="195.05" x2="341.8" y2="195.05" stroke="#777" stroke-width="0.4"/>
<line x1="340.7" y1="193.7" x2="341.8" y2="193.7" stroke="#777" stroke-width="0.4"/>
<line x1="340.7" y1="192.35" x2="341.8" y2="192.35" stroke="#777" stroke-width="0.4"/>
<line x1="340.7" y1="191" x2="341.8" y2="191" stroke="#777" stroke-width="0.4"/>
<line x1="340.7" y1="189.65" x2="341.8" y2="189.65" stroke="#777" stroke-width="0.4"/>
<line x1="340.7" y1="188.3" x2="341.8" y2="188.3" stroke="#777" stroke-width="0.4"/>
<line x1="340.7" y1="186.95" x2="341.8" y2="186.95" stroke="#777" stroke-width="0.4"/>
<line x1="340.7" y1="185.6" x2="341.8" y2="185.6" stroke="#777" stroke-width="0.4"/>
<line x1="340.7" y1="184.25" x2="341.8" y2="184.25" stroke="#777" stroke-width="0.4"/>
<line x1="340.7" y1="182.9" x2="341.8" y2="182.9" stroke="#777" stroke-width="0.4"/>
<line x1="340.7" y1="181.55" x2="341.8" y2="181.55" stroke="#777" stroke-width="0.4"/>
<line x1="340.7" y1="180.2" x2="341.8" y2="180.2" stroke="#777" stroke-width="0.4"/>
<line x1="340.7" y1="178.85" x2="341.8" y2="178.85" stroke="#777" stroke-width="0.4"/>
<line x1="340.7" y1="177.5" x2="341.8" y2="177.5" stroke="#777" stroke-width="0.4"/>
<line x1="340.7" y1="176.15" x2="341.8" y2="176.15" stroke="#777" stroke-width="0.4"/>
<line x1="340.7" y1="174.8" x2="341.8" y2="174.8" stroke="#777" stroke-width="0.4"/>
<line x1="340.7" y1="173.45" x2="341.8" y2="173.45" stroke="#777" stroke-width="0.4"/>
<line x1="340.7" y1="172.1" x2="341.8" y2="172.1" stroke="#777" stroke-width="0.4"/>
<line x1="340.7" y1="170.75" x2="341.8" y2="170.75" stroke="#777" stroke-width="0.4"/>
<line x1="340.7" y1="169.4" x2="341.8" y2="169.4" stroke="#777" stroke-width="0.4"/>
<line x1="340.7" y1="168.05" x2="341.8" y2="168.05" stroke="#777" stroke-width="0.4"/>
<line x1="340.7" y1="166.7" x2="341.8" y2="166.7" stroke="#777" stroke-width="0.4"/>
<line x1="340.7" y1="165.35" x2="341.8" y2="165.35" stroke="#777" stroke-width="0.4"/>
<line x1="340.7" y1="164" x2="341.8" y2="164" stroke="#777" stroke-width="0.4"/>
<line x1="340.7" y1="162.65" x2="341.8" y2="162.65" stroke="#777" stroke-width="0.4"/>
<line x1="340.7" y1="161.3" x2="341.8" y2="161.3" stroke="#777" stroke-width="0.4"/>
<line x1="340.7" y1="159.95" x2="341.8" y2="159.95" stroke="#777" stroke-width="0.4"/>
<line x1="340.7" y1="158.6" x2="341.8" y2="158.6" stroke="#777" stroke-width="0.4"/>
<line x1="340.7" y1="157.25" x2="341.8" y2="157.25" stroke="#777" stroke-width="0.4"/>
<line x1="340.7" y1="155.9" x2="341.8" y2="155.9" stroke="#777" stroke-width="0.4"/>
<line x1="340.7" y1="154.55" x2="341.8" y2="154.55" stroke="#777" stroke-width="0.4"/>
<line x1="340.7" y1="153.2" x2="341.8" y2="153.2" stroke="#777" stroke-width="0.4"/>
<line x1="340.7" y1="151.85" x2="341.8" y2="151.85" stroke="#777" stroke-width="0.4"/>
<line x1="340.7" y1="150.5" x2="341.8" y2="150.5" stroke="#777" stroke-width="0.4"/>
<line x1="340.7" y1="149.15" x2="341.8" y2="149.15" stroke="#777" stroke-width="0.4"/>
<line x1="340.7" y1="147.8" x2="341.8" y2="147.8" stroke="#777" stroke-width="0.4"/>
<line x1="340.7" y1="146.45" x2="341.8" y2="146.45" stroke="#777" stroke-width="0.4"/>
<line x1="340.7" y1="145.1" x2="341.8" y2="145.1" stroke="#777" stroke-width="0.4"/>
<line x1="340.7" y1="143.75" x2="341.8" y2="143.75" stroke="#777" stroke-width="0.4"/>
<line x1="340.7" y1="142.4" x2="341.8" y2="142.4" stroke="#777" stroke-width="0.4"/>
<line x1="340.7" y1="141.05" x2="341.8" y2="141.05" stroke="#777" stroke-width="0.4"/>
<line x1="340.7" y1="139.7" x2="341.8" y2="139.7" stroke="#777" stroke-width="0.4"/>
<line x1="340.7" y1="138.35" x2="341.8" y2="138.35" stroke="#777" stroke-width="0.4"/>
<line x1="340.7" y1="137" x2="341.8" y2="137" stroke="#777" stroke-width="0.4"/>
<line x1="340.7" y1="135.65" x2="341.8" y2="135.65" stroke="#777" stroke-width="0.4"/>
<line x1="340.7" y1="134.3" x2="341.8" y2="134.3" stroke="#777" stroke-width="0.4"/>
<line x1="340.7" y1="132.95" x2="341.8" y2="132.95" stroke="#777" stroke-width="0.4"/>
<line x1="340.7" y1="131.6" x2="341.8" y2="131.6" stroke="#777" stroke-width="0.4"/>
<line x1="340.7" y1="130.25" x2="341.8" y2="130.25" stroke="#777" stroke-width="0.4"/>
<line x1="340.7" y1="128.9" x2="341.8" y2="128.9" stroke="#777" stroke-width="0.4"/>
<text transform="translate(349.4 207.25) scale(0.87 1)" font-size="6.8" text-anchor="middle" fill="#262626">0</text>
<text transform="translate(372.7 207.25) scale(0.87 1)" font-size="6.8" text-anchor="middle" fill="#262626">10<tspan font-size="4.62" dy="-2.8">3</tspan></text>
<text transform="translate(389.5 207.25) scale(0.87 1)" font-size="6.8" text-anchor="middle" fill="#262626">10<tspan font-size="4.62" dy="-2.8">4</tspan></text>
<text transform="translate(405.7 207.25) scale(0.87 1)" font-size="6.8" text-anchor="middle" fill="#262626">10<tspan font-size="4.62" dy="-2.8">5</tspan></text>
<line x1="349.4" y1="196.7" x2="349.4" y2="198.4" stroke="#333" stroke-width="0.9"/>
<line x1="373" y1="196.7" x2="373" y2="198.4" stroke="#333" stroke-width="0.9"/>
<line x1="389.8" y1="196.7" x2="389.8" y2="198.4" stroke="#333" stroke-width="0.9"/>
<line x1="406" y1="196.7" x2="406" y2="198.4" stroke="#333" stroke-width="0.9"/>
<line x1="378.06" y1="196.6" x2="378.06" y2="197.7" stroke="#666" stroke-width="0.4"/>
<line x1="381.02" y1="196.6" x2="381.02" y2="197.7" stroke="#666" stroke-width="0.4"/>
<line x1="383.11" y1="196.6" x2="383.11" y2="197.7" stroke="#666" stroke-width="0.4"/>
<line x1="384.74" y1="196.6" x2="384.74" y2="197.7" stroke="#666" stroke-width="0.4"/>
<line x1="386.07" y1="196.6" x2="386.07" y2="197.7" stroke="#666" stroke-width="0.4"/>
<line x1="387.2" y1="196.6" x2="387.2" y2="197.7" stroke="#666" stroke-width="0.4"/>
<line x1="388.17" y1="196.6" x2="388.17" y2="197.7" stroke="#666" stroke-width="0.4"/>
<line x1="389.03" y1="196.6" x2="389.03" y2="197.7" stroke="#666" stroke-width="0.4"/>
<line x1="394.68" y1="196.6" x2="394.68" y2="197.7" stroke="#666" stroke-width="0.4"/>
<line x1="397.53" y1="196.6" x2="397.53" y2="197.7" stroke="#666" stroke-width="0.4"/>
<line x1="399.55" y1="196.6" x2="399.55" y2="197.7" stroke="#666" stroke-width="0.4"/>
<line x1="401.12" y1="196.6" x2="401.12" y2="197.7" stroke="#666" stroke-width="0.4"/>
<line x1="402.41" y1="196.6" x2="402.41" y2="197.7" stroke="#666" stroke-width="0.4"/>
<line x1="403.49" y1="196.6" x2="403.49" y2="197.7" stroke="#666" stroke-width="0.4"/>
<line x1="404.43" y1="196.6" x2="404.43" y2="197.7" stroke="#666" stroke-width="0.4"/>
<line x1="405.26" y1="196.6" x2="405.26" y2="197.7" stroke="#666" stroke-width="0.4"/>
<line x1="344.4" y1="196.6" x2="344.4" y2="197.8" stroke="#555" stroke-width="0.45"/>
<line x1="345.9" y1="196.6" x2="345.9" y2="197.8" stroke="#555" stroke-width="0.45"/>
<line x1="347.4" y1="196.6" x2="347.4" y2="197.8" stroke="#555" stroke-width="0.45"/>
<line x1="348.4" y1="196.6" x2="348.4" y2="197.8" stroke="#555" stroke-width="0.45"/>
<line x1="350.4" y1="196.6" x2="350.4" y2="197.8" stroke="#555" stroke-width="0.45"/>
<line x1="351.4" y1="196.6" x2="351.4" y2="197.8" stroke="#555" stroke-width="0.45"/>
<line x1="352.9" y1="196.6" x2="352.9" y2="197.8" stroke="#555" stroke-width="0.45"/>
<line x1="354.4" y1="196.6" x2="354.4" y2="197.8" stroke="#555" stroke-width="0.45"/>
<line x1="356.4" y1="196.6" x2="356.4" y2="197.8" stroke="#555" stroke-width="0.45"/>
<line x1="358.9" y1="196.6" x2="358.9" y2="197.8" stroke="#555" stroke-width="0.45"/>
<line x1="361.9" y1="196.6" x2="361.9" y2="197.8" stroke="#555" stroke-width="0.45"/>
<rect x="441.3" y="125" width="71" height="71.2" fill="none" stroke="#ababab" stroke-width="0.8"/>
<line x1="441.3" y1="125" x2="441.3" y2="196.2" stroke="#666" stroke-width="0.8"/>
<line x1="441.3" y1="196.2" x2="512.3" y2="196.2" stroke="#555" stroke-width="0.8"/>
<text transform="translate(436.9 134.85) scale(0.87 1)" font-size="6.8" text-anchor="end" fill="#262626">10<tspan font-size="4.62" dy="-2.8">5</tspan></text>
<line x1="438.1" y1="132.4" x2="439.6" y2="132.4" stroke="#333" stroke-width="0.9"/>
<text transform="translate(436.9 151.25) scale(0.87 1)" font-size="6.8" text-anchor="end" fill="#262626">10<tspan font-size="4.62" dy="-2.8">4</tspan></text>
<line x1="438.1" y1="148.8" x2="439.6" y2="148.8" stroke="#333" stroke-width="0.9"/>
<text transform="translate(436.9 167.25) scale(0.87 1)" font-size="6.8" text-anchor="end" fill="#262626">10<tspan font-size="4.62" dy="-2.8">3</tspan></text>
<line x1="438.1" y1="164.8" x2="439.6" y2="164.8" stroke="#333" stroke-width="0.9"/>
<text transform="translate(436.9 183.55) scale(0.87 1)" font-size="6.8" text-anchor="end" fill="#262626">10<tspan font-size="4.62" dy="-2.8">2</tspan></text>
<line x1="438.1" y1="181.1" x2="439.6" y2="181.1" stroke="#333" stroke-width="0.9"/>
<text transform="translate(436.9 194.55) scale(0.87 1)" font-size="6.8" text-anchor="end" fill="#262626">0</text>
<line x1="438.1" y1="192.1" x2="439.6" y2="192.1" stroke="#333" stroke-width="0.9"/>
<line x1="440" y1="143.86" x2="441.1" y2="143.86" stroke="#777" stroke-width="0.4"/>
<line x1="440" y1="140.98" x2="441.1" y2="140.98" stroke="#777" stroke-width="0.4"/>
<line x1="440" y1="138.93" x2="441.1" y2="138.93" stroke="#777" stroke-width="0.4"/>
<line x1="440" y1="137.34" x2="441.1" y2="137.34" stroke="#777" stroke-width="0.4"/>
<line x1="440" y1="136.04" x2="441.1" y2="136.04" stroke="#777" stroke-width="0.4"/>
<line x1="440" y1="134.94" x2="441.1" y2="134.94" stroke="#777" stroke-width="0.4"/>
<line x1="440" y1="133.99" x2="441.1" y2="133.99" stroke="#777" stroke-width="0.4"/>
<line x1="440" y1="133.15" x2="441.1" y2="133.15" stroke="#777" stroke-width="0.4"/>
<line x1="440" y1="159.98" x2="441.1" y2="159.98" stroke="#777" stroke-width="0.4"/>
<line x1="440" y1="157.17" x2="441.1" y2="157.17" stroke="#777" stroke-width="0.4"/>
<line x1="440" y1="155.17" x2="441.1" y2="155.17" stroke="#777" stroke-width="0.4"/>
<line x1="440" y1="153.62" x2="441.1" y2="153.62" stroke="#777" stroke-width="0.4"/>
<line x1="440" y1="152.35" x2="441.1" y2="152.35" stroke="#777" stroke-width="0.4"/>
<line x1="440" y1="151.28" x2="441.1" y2="151.28" stroke="#777" stroke-width="0.4"/>
<line x1="440" y1="150.35" x2="441.1" y2="150.35" stroke="#777" stroke-width="0.4"/>
<line x1="440" y1="149.53" x2="441.1" y2="149.53" stroke="#777" stroke-width="0.4"/>
<line x1="440" y1="176.19" x2="441.1" y2="176.19" stroke="#777" stroke-width="0.4"/>
<line x1="440" y1="173.32" x2="441.1" y2="173.32" stroke="#777" stroke-width="0.4"/>
<line x1="440" y1="171.29" x2="441.1" y2="171.29" stroke="#777" stroke-width="0.4"/>
<line x1="440" y1="169.71" x2="441.1" y2="169.71" stroke="#777" stroke-width="0.4"/>
<line x1="440" y1="168.42" x2="441.1" y2="168.42" stroke="#777" stroke-width="0.4"/>
<line x1="440" y1="167.32" x2="441.1" y2="167.32" stroke="#777" stroke-width="0.4"/>
<line x1="440" y1="166.38" x2="441.1" y2="166.38" stroke="#777" stroke-width="0.4"/>
<line x1="440" y1="165.55" x2="441.1" y2="165.55" stroke="#777" stroke-width="0.4"/>
<text transform="translate(453.3 207.25) scale(0.87 1)" font-size="6.8" text-anchor="middle" fill="#262626">0</text>
<text transform="translate(472.2 207.25) scale(0.87 1)" font-size="6.8" text-anchor="middle" fill="#262626">10<tspan font-size="4.62" dy="-2.8">3</tspan></text>
<text transform="translate(488.5 207.25) scale(0.87 1)" font-size="6.8" text-anchor="middle" fill="#262626">10<tspan font-size="4.62" dy="-2.8">4</tspan></text>
<text transform="translate(504.9 207.25) scale(0.87 1)" font-size="6.8" text-anchor="middle" fill="#262626">10<tspan font-size="4.62" dy="-2.8">5</tspan></text>
<line x1="453.3" y1="196.5" x2="453.3" y2="198.2" stroke="#333" stroke-width="0.9"/>
<line x1="472.5" y1="196.5" x2="472.5" y2="198.2" stroke="#333" stroke-width="0.9"/>
<line x1="488.8" y1="196.5" x2="488.8" y2="198.2" stroke="#333" stroke-width="0.9"/>
<line x1="505.2" y1="196.5" x2="505.2" y2="198.2" stroke="#333" stroke-width="0.9"/>
<line x1="477.41" y1="196.4" x2="477.41" y2="197.5" stroke="#666" stroke-width="0.4"/>
<line x1="480.28" y1="196.4" x2="480.28" y2="197.5" stroke="#666" stroke-width="0.4"/>
<line x1="482.31" y1="196.4" x2="482.31" y2="197.5" stroke="#666" stroke-width="0.4"/>
<line x1="483.89" y1="196.4" x2="483.89" y2="197.5" stroke="#666" stroke-width="0.4"/>
<line x1="485.18" y1="196.4" x2="485.18" y2="197.5" stroke="#666" stroke-width="0.4"/>
<line x1="486.28" y1="196.4" x2="486.28" y2="197.5" stroke="#666" stroke-width="0.4"/>
<line x1="487.22" y1="196.4" x2="487.22" y2="197.5" stroke="#666" stroke-width="0.4"/>
<line x1="488.05" y1="196.4" x2="488.05" y2="197.5" stroke="#666" stroke-width="0.4"/>
<line x1="493.74" y1="196.4" x2="493.74" y2="197.5" stroke="#666" stroke-width="0.4"/>
<line x1="496.62" y1="196.4" x2="496.62" y2="197.5" stroke="#666" stroke-width="0.4"/>
<line x1="498.67" y1="196.4" x2="498.67" y2="197.5" stroke="#666" stroke-width="0.4"/>
<line x1="500.26" y1="196.4" x2="500.26" y2="197.5" stroke="#666" stroke-width="0.4"/>
<line x1="501.56" y1="196.4" x2="501.56" y2="197.5" stroke="#666" stroke-width="0.4"/>
<line x1="502.66" y1="196.4" x2="502.66" y2="197.5" stroke="#666" stroke-width="0.4"/>
<line x1="503.61" y1="196.4" x2="503.61" y2="197.5" stroke="#666" stroke-width="0.4"/>
<line x1="504.45" y1="196.4" x2="504.45" y2="197.5" stroke="#666" stroke-width="0.4"/>
<line x1="448.3" y1="196.4" x2="448.3" y2="197.6" stroke="#555" stroke-width="0.45"/>
<line x1="449.8" y1="196.4" x2="449.8" y2="197.6" stroke="#555" stroke-width="0.45"/>
<line x1="451.3" y1="196.4" x2="451.3" y2="197.6" stroke="#555" stroke-width="0.45"/>
<line x1="452.3" y1="196.4" x2="452.3" y2="197.6" stroke="#555" stroke-width="0.45"/>
<line x1="454.3" y1="196.4" x2="454.3" y2="197.6" stroke="#555" stroke-width="0.45"/>
<line x1="455.3" y1="196.4" x2="455.3" y2="197.6" stroke="#555" stroke-width="0.45"/>
<line x1="456.8" y1="196.4" x2="456.8" y2="197.6" stroke="#555" stroke-width="0.45"/>
<line x1="458.3" y1="196.4" x2="458.3" y2="197.6" stroke="#555" stroke-width="0.45"/>
<line x1="460.3" y1="196.4" x2="460.3" y2="197.6" stroke="#555" stroke-width="0.45"/>
<line x1="462.8" y1="196.4" x2="462.8" y2="197.6" stroke="#555" stroke-width="0.45"/>
<line x1="465.8" y1="196.4" x2="465.8" y2="197.6" stroke="#555" stroke-width="0.45"/>
<rect x="39.3" y="219.3" width="71" height="72.8" fill="none" stroke="#ababab" stroke-width="0.8"/>
<line x1="39.3" y1="219.3" x2="39.3" y2="292.1" stroke="#666" stroke-width="0.8"/>
<line x1="39.3" y1="292.1" x2="110.3" y2="292.1" stroke="#555" stroke-width="0.8"/>
<text transform="translate(34.7 294.55) scale(0.87 1)" font-size="6.8" text-anchor="end" fill="#262626">0</text>
<line x1="35.9" y1="292.1" x2="37.5" y2="292.1" stroke="#333" stroke-width="0.9"/>
<text transform="translate(34.7 280.79) scale(0.87 1)" font-size="6.8" text-anchor="end" fill="#262626">50K</text>
<line x1="35.9" y1="278.34" x2="37.5" y2="278.34" stroke="#333" stroke-width="0.9"/>
<text transform="translate(34.7 267.03) scale(0.87 1)" font-size="6.8" text-anchor="end" fill="#262626">100K</text>
<line x1="35.9" y1="264.58" x2="37.5" y2="264.58" stroke="#333" stroke-width="0.9"/>
<text transform="translate(34.7 253.27) scale(0.87 1)" font-size="6.8" text-anchor="end" fill="#262626">150K</text>
<line x1="35.9" y1="250.82" x2="37.5" y2="250.82" stroke="#333" stroke-width="0.9"/>
<text transform="translate(34.7 239.51) scale(0.87 1)" font-size="6.8" text-anchor="end" fill="#262626">200K</text>
<line x1="35.9" y1="237.06" x2="37.5" y2="237.06" stroke="#333" stroke-width="0.9"/>
<text transform="translate(34.7 225.75) scale(0.87 1)" font-size="6.8" text-anchor="end" fill="#262626">250K</text>
<line x1="35.9" y1="223.3" x2="37.5" y2="223.3" stroke="#333" stroke-width="0.9"/>
<line x1="38" y1="292.1" x2="39.1" y2="292.1" stroke="#777" stroke-width="0.4"/>
<line x1="38" y1="290.72" x2="39.1" y2="290.72" stroke="#777" stroke-width="0.4"/>
<line x1="38" y1="289.35" x2="39.1" y2="289.35" stroke="#777" stroke-width="0.4"/>
<line x1="38" y1="287.97" x2="39.1" y2="287.97" stroke="#777" stroke-width="0.4"/>
<line x1="38" y1="286.6" x2="39.1" y2="286.6" stroke="#777" stroke-width="0.4"/>
<line x1="38" y1="285.22" x2="39.1" y2="285.22" stroke="#777" stroke-width="0.4"/>
<line x1="38" y1="283.84" x2="39.1" y2="283.84" stroke="#777" stroke-width="0.4"/>
<line x1="38" y1="282.47" x2="39.1" y2="282.47" stroke="#777" stroke-width="0.4"/>
<line x1="38" y1="281.09" x2="39.1" y2="281.09" stroke="#777" stroke-width="0.4"/>
<line x1="38" y1="279.72" x2="39.1" y2="279.72" stroke="#777" stroke-width="0.4"/>
<line x1="38" y1="278.34" x2="39.1" y2="278.34" stroke="#777" stroke-width="0.4"/>
<line x1="38" y1="276.96" x2="39.1" y2="276.96" stroke="#777" stroke-width="0.4"/>
<line x1="38" y1="275.59" x2="39.1" y2="275.59" stroke="#777" stroke-width="0.4"/>
<line x1="38" y1="274.21" x2="39.1" y2="274.21" stroke="#777" stroke-width="0.4"/>
<line x1="38" y1="272.84" x2="39.1" y2="272.84" stroke="#777" stroke-width="0.4"/>
<line x1="38" y1="271.46" x2="39.1" y2="271.46" stroke="#777" stroke-width="0.4"/>
<line x1="38" y1="270.08" x2="39.1" y2="270.08" stroke="#777" stroke-width="0.4"/>
<line x1="38" y1="268.71" x2="39.1" y2="268.71" stroke="#777" stroke-width="0.4"/>
<line x1="38" y1="267.33" x2="39.1" y2="267.33" stroke="#777" stroke-width="0.4"/>
<line x1="38" y1="265.96" x2="39.1" y2="265.96" stroke="#777" stroke-width="0.4"/>
<line x1="38" y1="264.58" x2="39.1" y2="264.58" stroke="#777" stroke-width="0.4"/>
<line x1="38" y1="263.2" x2="39.1" y2="263.2" stroke="#777" stroke-width="0.4"/>
<line x1="38" y1="261.83" x2="39.1" y2="261.83" stroke="#777" stroke-width="0.4"/>
<line x1="38" y1="260.45" x2="39.1" y2="260.45" stroke="#777" stroke-width="0.4"/>
<line x1="38" y1="259.08" x2="39.1" y2="259.08" stroke="#777" stroke-width="0.4"/>
<line x1="38" y1="257.7" x2="39.1" y2="257.7" stroke="#777" stroke-width="0.4"/>
<line x1="38" y1="256.32" x2="39.1" y2="256.32" stroke="#777" stroke-width="0.4"/>
<line x1="38" y1="254.95" x2="39.1" y2="254.95" stroke="#777" stroke-width="0.4"/>
<line x1="38" y1="253.57" x2="39.1" y2="253.57" stroke="#777" stroke-width="0.4"/>
<line x1="38" y1="252.2" x2="39.1" y2="252.2" stroke="#777" stroke-width="0.4"/>
<line x1="38" y1="250.82" x2="39.1" y2="250.82" stroke="#777" stroke-width="0.4"/>
<line x1="38" y1="249.44" x2="39.1" y2="249.44" stroke="#777" stroke-width="0.4"/>
<line x1="38" y1="248.07" x2="39.1" y2="248.07" stroke="#777" stroke-width="0.4"/>
<line x1="38" y1="246.69" x2="39.1" y2="246.69" stroke="#777" stroke-width="0.4"/>
<line x1="38" y1="245.32" x2="39.1" y2="245.32" stroke="#777" stroke-width="0.4"/>
<line x1="38" y1="243.94" x2="39.1" y2="243.94" stroke="#777" stroke-width="0.4"/>
<line x1="38" y1="242.56" x2="39.1" y2="242.56" stroke="#777" stroke-width="0.4"/>
<line x1="38" y1="241.19" x2="39.1" y2="241.19" stroke="#777" stroke-width="0.4"/>
<line x1="38" y1="239.81" x2="39.1" y2="239.81" stroke="#777" stroke-width="0.4"/>
<line x1="38" y1="238.44" x2="39.1" y2="238.44" stroke="#777" stroke-width="0.4"/>
<line x1="38" y1="237.06" x2="39.1" y2="237.06" stroke="#777" stroke-width="0.4"/>
<line x1="38" y1="235.68" x2="39.1" y2="235.68" stroke="#777" stroke-width="0.4"/>
<line x1="38" y1="234.31" x2="39.1" y2="234.31" stroke="#777" stroke-width="0.4"/>
<line x1="38" y1="232.93" x2="39.1" y2="232.93" stroke="#777" stroke-width="0.4"/>
<line x1="38" y1="231.56" x2="39.1" y2="231.56" stroke="#777" stroke-width="0.4"/>
<line x1="38" y1="230.18" x2="39.1" y2="230.18" stroke="#777" stroke-width="0.4"/>
<line x1="38" y1="228.8" x2="39.1" y2="228.8" stroke="#777" stroke-width="0.4"/>
<line x1="38" y1="227.43" x2="39.1" y2="227.43" stroke="#777" stroke-width="0.4"/>
<line x1="38" y1="226.05" x2="39.1" y2="226.05" stroke="#777" stroke-width="0.4"/>
<line x1="38" y1="224.68" x2="39.1" y2="224.68" stroke="#777" stroke-width="0.4"/>
<line x1="38" y1="223.3" x2="39.1" y2="223.3" stroke="#777" stroke-width="0.4"/>
<text transform="translate(46.3 301.85) scale(0.87 1)" font-size="6.8" text-anchor="middle" fill="#262626">0</text>
<text transform="translate(68.3 301.85) scale(0.87 1)" font-size="6.8" text-anchor="middle" fill="#262626">10<tspan font-size="4.62" dy="-2.8">3</tspan></text>
<text transform="translate(86 301.85) scale(0.87 1)" font-size="6.8" text-anchor="middle" fill="#262626">10<tspan font-size="4.62" dy="-2.8">4</tspan></text>
<text transform="translate(103.3 301.85) scale(0.87 1)" font-size="6.8" text-anchor="middle" fill="#262626">10<tspan font-size="4.62" dy="-2.8">5</tspan></text>
<line x1="46.3" y1="292.4" x2="46.3" y2="294.1" stroke="#333" stroke-width="0.9"/>
<line x1="68.6" y1="292.4" x2="68.6" y2="294.1" stroke="#333" stroke-width="0.9"/>
<line x1="86.3" y1="292.4" x2="86.3" y2="294.1" stroke="#333" stroke-width="0.9"/>
<line x1="103.6" y1="292.4" x2="103.6" y2="294.1" stroke="#333" stroke-width="0.9"/>
<line x1="73.93" y1="292.3" x2="73.93" y2="293.4" stroke="#666" stroke-width="0.4"/>
<line x1="77.05" y1="292.3" x2="77.05" y2="293.4" stroke="#666" stroke-width="0.4"/>
<line x1="79.26" y1="292.3" x2="79.26" y2="293.4" stroke="#666" stroke-width="0.4"/>
<line x1="80.97" y1="292.3" x2="80.97" y2="293.4" stroke="#666" stroke-width="0.4"/>
<line x1="82.37" y1="292.3" x2="82.37" y2="293.4" stroke="#666" stroke-width="0.4"/>
<line x1="83.56" y1="292.3" x2="83.56" y2="293.4" stroke="#666" stroke-width="0.4"/>
<line x1="84.58" y1="292.3" x2="84.58" y2="293.4" stroke="#666" stroke-width="0.4"/>
<line x1="85.49" y1="292.3" x2="85.49" y2="293.4" stroke="#666" stroke-width="0.4"/>
<line x1="91.51" y1="292.3" x2="91.51" y2="293.4" stroke="#666" stroke-width="0.4"/>
<line x1="94.55" y1="292.3" x2="94.55" y2="293.4" stroke="#666" stroke-width="0.4"/>
<line x1="96.72" y1="292.3" x2="96.72" y2="293.4" stroke="#666" stroke-width="0.4"/>
<line x1="98.39" y1="292.3" x2="98.39" y2="293.4" stroke="#666" stroke-width="0.4"/>
<line x1="99.76" y1="292.3" x2="99.76" y2="293.4" stroke="#666" stroke-width="0.4"/>
<line x1="100.92" y1="292.3" x2="100.92" y2="293.4" stroke="#666" stroke-width="0.4"/>
<line x1="101.92" y1="292.3" x2="101.92" y2="293.4" stroke="#666" stroke-width="0.4"/>
<line x1="102.81" y1="292.3" x2="102.81" y2="293.4" stroke="#666" stroke-width="0.4"/>
<line x1="41.3" y1="292.3" x2="41.3" y2="293.5" stroke="#555" stroke-width="0.45"/>
<line x1="42.8" y1="292.3" x2="42.8" y2="293.5" stroke="#555" stroke-width="0.45"/>
<line x1="44.3" y1="292.3" x2="44.3" y2="293.5" stroke="#555" stroke-width="0.45"/>
<line x1="45.3" y1="292.3" x2="45.3" y2="293.5" stroke="#555" stroke-width="0.45"/>
<line x1="47.3" y1="292.3" x2="47.3" y2="293.5" stroke="#555" stroke-width="0.45"/>
<line x1="48.3" y1="292.3" x2="48.3" y2="293.5" stroke="#555" stroke-width="0.45"/>
<line x1="49.8" y1="292.3" x2="49.8" y2="293.5" stroke="#555" stroke-width="0.45"/>
<line x1="51.3" y1="292.3" x2="51.3" y2="293.5" stroke="#555" stroke-width="0.45"/>
<line x1="53.3" y1="292.3" x2="53.3" y2="293.5" stroke="#555" stroke-width="0.45"/>
<line x1="55.8" y1="292.3" x2="55.8" y2="293.5" stroke="#555" stroke-width="0.45"/>
<line x1="58.8" y1="292.3" x2="58.8" y2="293.5" stroke="#555" stroke-width="0.45"/>
<rect x="142.8" y="219.3" width="69.5" height="71.5" fill="none" stroke="#ababab" stroke-width="0.8"/>
<line x1="142.8" y1="219.3" x2="142.8" y2="290.8" stroke="#666" stroke-width="0.8"/>
<line x1="142.8" y1="290.8" x2="212.3" y2="290.8" stroke="#555" stroke-width="0.8"/>
<text transform="translate(138.2 293.25) scale(0.87 1)" font-size="6.8" text-anchor="end" fill="#262626">0</text>
<line x1="139.4" y1="290.8" x2="141" y2="290.8" stroke="#333" stroke-width="0.9"/>
<text transform="translate(138.2 279.75) scale(0.87 1)" font-size="6.8" text-anchor="end" fill="#262626">50K</text>
<line x1="139.4" y1="277.3" x2="141" y2="277.3" stroke="#333" stroke-width="0.9"/>
<text transform="translate(138.2 266.25) scale(0.87 1)" font-size="6.8" text-anchor="end" fill="#262626">100K</text>
<line x1="139.4" y1="263.8" x2="141" y2="263.8" stroke="#333" stroke-width="0.9"/>
<text transform="translate(138.2 252.75) scale(0.87 1)" font-size="6.8" text-anchor="end" fill="#262626">150K</text>
<line x1="139.4" y1="250.3" x2="141" y2="250.3" stroke="#333" stroke-width="0.9"/>
<text transform="translate(138.2 239.25) scale(0.87 1)" font-size="6.8" text-anchor="end" fill="#262626">200K</text>
<line x1="139.4" y1="236.8" x2="141" y2="236.8" stroke="#333" stroke-width="0.9"/>
<text transform="translate(138.2 225.75) scale(0.87 1)" font-size="6.8" text-anchor="end" fill="#262626">250K</text>
<line x1="139.4" y1="223.3" x2="141" y2="223.3" stroke="#333" stroke-width="0.9"/>
<line x1="141.5" y1="290.8" x2="142.6" y2="290.8" stroke="#777" stroke-width="0.4"/>
<line x1="141.5" y1="289.45" x2="142.6" y2="289.45" stroke="#777" stroke-width="0.4"/>
<line x1="141.5" y1="288.1" x2="142.6" y2="288.1" stroke="#777" stroke-width="0.4"/>
<line x1="141.5" y1="286.75" x2="142.6" y2="286.75" stroke="#777" stroke-width="0.4"/>
<line x1="141.5" y1="285.4" x2="142.6" y2="285.4" stroke="#777" stroke-width="0.4"/>
<line x1="141.5" y1="284.05" x2="142.6" y2="284.05" stroke="#777" stroke-width="0.4"/>
<line x1="141.5" y1="282.7" x2="142.6" y2="282.7" stroke="#777" stroke-width="0.4"/>
<line x1="141.5" y1="281.35" x2="142.6" y2="281.35" stroke="#777" stroke-width="0.4"/>
<line x1="141.5" y1="280" x2="142.6" y2="280" stroke="#777" stroke-width="0.4"/>
<line x1="141.5" y1="278.65" x2="142.6" y2="278.65" stroke="#777" stroke-width="0.4"/>
<line x1="141.5" y1="277.3" x2="142.6" y2="277.3" stroke="#777" stroke-width="0.4"/>
<line x1="141.5" y1="275.95" x2="142.6" y2="275.95" stroke="#777" stroke-width="0.4"/>
<line x1="141.5" y1="274.6" x2="142.6" y2="274.6" stroke="#777" stroke-width="0.4"/>
<line x1="141.5" y1="273.25" x2="142.6" y2="273.25" stroke="#777" stroke-width="0.4"/>
<line x1="141.5" y1="271.9" x2="142.6" y2="271.9" stroke="#777" stroke-width="0.4"/>
<line x1="141.5" y1="270.55" x2="142.6" y2="270.55" stroke="#777" stroke-width="0.4"/>
<line x1="141.5" y1="269.2" x2="142.6" y2="269.2" stroke="#777" stroke-width="0.4"/>
<line x1="141.5" y1="267.85" x2="142.6" y2="267.85" stroke="#777" stroke-width="0.4"/>
<line x1="141.5" y1="266.5" x2="142.6" y2="266.5" stroke="#777" stroke-width="0.4"/>
<line x1="141.5" y1="265.15" x2="142.6" y2="265.15" stroke="#777" stroke-width="0.4"/>
<line x1="141.5" y1="263.8" x2="142.6" y2="263.8" stroke="#777" stroke-width="0.4"/>
<line x1="141.5" y1="262.45" x2="142.6" y2="262.45" stroke="#777" stroke-width="0.4"/>
<line x1="141.5" y1="261.1" x2="142.6" y2="261.1" stroke="#777" stroke-width="0.4"/>
<line x1="141.5" y1="259.75" x2="142.6" y2="259.75" stroke="#777" stroke-width="0.4"/>
<line x1="141.5" y1="258.4" x2="142.6" y2="258.4" stroke="#777" stroke-width="0.4"/>
<line x1="141.5" y1="257.05" x2="142.6" y2="257.05" stroke="#777" stroke-width="0.4"/>
<line x1="141.5" y1="255.7" x2="142.6" y2="255.7" stroke="#777" stroke-width="0.4"/>
<line x1="141.5" y1="254.35" x2="142.6" y2="254.35" stroke="#777" stroke-width="0.4"/>
<line x1="141.5" y1="253" x2="142.6" y2="253" stroke="#777" stroke-width="0.4"/>
<line x1="141.5" y1="251.65" x2="142.6" y2="251.65" stroke="#777" stroke-width="0.4"/>
<line x1="141.5" y1="250.3" x2="142.6" y2="250.3" stroke="#777" stroke-width="0.4"/>
<line x1="141.5" y1="248.95" x2="142.6" y2="248.95" stroke="#777" stroke-width="0.4"/>
<line x1="141.5" y1="247.6" x2="142.6" y2="247.6" stroke="#777" stroke-width="0.4"/>
<line x1="141.5" y1="246.25" x2="142.6" y2="246.25" stroke="#777" stroke-width="0.4"/>
<line x1="141.5" y1="244.9" x2="142.6" y2="244.9" stroke="#777" stroke-width="0.4"/>
<line x1="141.5" y1="243.55" x2="142.6" y2="243.55" stroke="#777" stroke-width="0.4"/>
<line x1="141.5" y1="242.2" x2="142.6" y2="242.2" stroke="#777" stroke-width="0.4"/>
<line x1="141.5" y1="240.85" x2="142.6" y2="240.85" stroke="#777" stroke-width="0.4"/>
<line x1="141.5" y1="239.5" x2="142.6" y2="239.5" stroke="#777" stroke-width="0.4"/>
<line x1="141.5" y1="238.15" x2="142.6" y2="238.15" stroke="#777" stroke-width="0.4"/>
<line x1="141.5" y1="236.8" x2="142.6" y2="236.8" stroke="#777" stroke-width="0.4"/>
<line x1="141.5" y1="235.45" x2="142.6" y2="235.45" stroke="#777" stroke-width="0.4"/>
<line x1="141.5" y1="234.1" x2="142.6" y2="234.1" stroke="#777" stroke-width="0.4"/>
<line x1="141.5" y1="232.75" x2="142.6" y2="232.75" stroke="#777" stroke-width="0.4"/>
<line x1="141.5" y1="231.4" x2="142.6" y2="231.4" stroke="#777" stroke-width="0.4"/>
<line x1="141.5" y1="230.05" x2="142.6" y2="230.05" stroke="#777" stroke-width="0.4"/>
<line x1="141.5" y1="228.7" x2="142.6" y2="228.7" stroke="#777" stroke-width="0.4"/>
<line x1="141.5" y1="227.35" x2="142.6" y2="227.35" stroke="#777" stroke-width="0.4"/>
<line x1="141.5" y1="226" x2="142.6" y2="226" stroke="#777" stroke-width="0.4"/>
<line x1="141.5" y1="224.65" x2="142.6" y2="224.65" stroke="#777" stroke-width="0.4"/>
<line x1="141.5" y1="223.3" x2="142.6" y2="223.3" stroke="#777" stroke-width="0.4"/>
<text transform="translate(153.9 302.45) scale(0.87 1)" font-size="6.8" text-anchor="middle" fill="#262626">0</text>
<text transform="translate(171 302.45) scale(0.87 1)" font-size="6.8" text-anchor="middle" fill="#262626">10<tspan font-size="4.62" dy="-2.8">3</tspan></text>
<text transform="translate(187.7 302.45) scale(0.87 1)" font-size="6.8" text-anchor="middle" fill="#262626">10<tspan font-size="4.62" dy="-2.8">4</tspan></text>
<text transform="translate(204.1 302.45) scale(0.87 1)" font-size="6.8" text-anchor="middle" fill="#262626">10<tspan font-size="4.62" dy="-2.8">5</tspan></text>
<line x1="153.9" y1="291.1" x2="153.9" y2="292.8" stroke="#333" stroke-width="0.9"/>
<line x1="171.3" y1="291.1" x2="171.3" y2="292.8" stroke="#333" stroke-width="0.9"/>
<line x1="188" y1="291.1" x2="188" y2="292.8" stroke="#333" stroke-width="0.9"/>
<line x1="204.4" y1="291.1" x2="204.4" y2="292.8" stroke="#333" stroke-width="0.9"/>
<line x1="176.33" y1="291" x2="176.33" y2="292.1" stroke="#666" stroke-width="0.4"/>
<line x1="179.27" y1="291" x2="179.27" y2="292.1" stroke="#666" stroke-width="0.4"/>
<line x1="181.35" y1="291" x2="181.35" y2="292.1" stroke="#666" stroke-width="0.4"/>
<line x1="182.97" y1="291" x2="182.97" y2="292.1" stroke="#666" stroke-width="0.4"/>
<line x1="184.3" y1="291" x2="184.3" y2="292.1" stroke="#666" stroke-width="0.4"/>
<line x1="185.41" y1="291" x2="185.41" y2="292.1" stroke="#666" stroke-width="0.4"/>
<line x1="186.38" y1="291" x2="186.38" y2="292.1" stroke="#666" stroke-width="0.4"/>
<line x1="187.24" y1="291" x2="187.24" y2="292.1" stroke="#666" stroke-width="0.4"/>
<line x1="192.94" y1="291" x2="192.94" y2="292.1" stroke="#666" stroke-width="0.4"/>
<line x1="195.82" y1="291" x2="195.82" y2="292.1" stroke="#666" stroke-width="0.4"/>
<line x1="197.87" y1="291" x2="197.87" y2="292.1" stroke="#666" stroke-width="0.4"/>
<line x1="199.46" y1="291" x2="199.46" y2="292.1" stroke="#666" stroke-width="0.4"/>
<line x1="200.76" y1="291" x2="200.76" y2="292.1" stroke="#666" stroke-width="0.4"/>
<line x1="201.86" y1="291" x2="201.86" y2="292.1" stroke="#666" stroke-width="0.4"/>
<line x1="202.81" y1="291" x2="202.81" y2="292.1" stroke="#666" stroke-width="0.4"/>
<line x1="203.65" y1="291" x2="203.65" y2="292.1" stroke="#666" stroke-width="0.4"/>
<line x1="148.9" y1="291" x2="148.9" y2="292.2" stroke="#555" stroke-width="0.45"/>
<line x1="150.4" y1="291" x2="150.4" y2="292.2" stroke="#555" stroke-width="0.45"/>
<line x1="151.9" y1="291" x2="151.9" y2="292.2" stroke="#555" stroke-width="0.45"/>
<line x1="152.9" y1="291" x2="152.9" y2="292.2" stroke="#555" stroke-width="0.45"/>
<line x1="154.9" y1="291" x2="154.9" y2="292.2" stroke="#555" stroke-width="0.45"/>
<line x1="155.9" y1="291" x2="155.9" y2="292.2" stroke="#555" stroke-width="0.45"/>
<line x1="157.4" y1="291" x2="157.4" y2="292.2" stroke="#555" stroke-width="0.45"/>
<line x1="158.9" y1="291" x2="158.9" y2="292.2" stroke="#555" stroke-width="0.45"/>
<line x1="160.9" y1="291" x2="160.9" y2="292.2" stroke="#555" stroke-width="0.45"/>
<line x1="163.4" y1="291" x2="163.4" y2="292.2" stroke="#555" stroke-width="0.45"/>
<line x1="166.4" y1="291" x2="166.4" y2="292.2" stroke="#555" stroke-width="0.45"/>
<rect x="242" y="219.3" width="70.2" height="71.5" fill="none" stroke="#ababab" stroke-width="0.8"/>
<line x1="242" y1="219.3" x2="242" y2="290.8" stroke="#666" stroke-width="0.8"/>
<line x1="242" y1="290.8" x2="312.2" y2="290.8" stroke="#555" stroke-width="0.8"/>
<text transform="translate(237.6 228.95) scale(0.87 1)" font-size="6.8" text-anchor="end" fill="#262626">10<tspan font-size="4.62" dy="-2.8">5</tspan></text>
<line x1="238.8" y1="226.5" x2="240.3" y2="226.5" stroke="#333" stroke-width="0.9"/>
<text transform="translate(237.6 244.75) scale(0.87 1)" font-size="6.8" text-anchor="end" fill="#262626">10<tspan font-size="4.62" dy="-2.8">4</tspan></text>
<line x1="238.8" y1="242.3" x2="240.3" y2="242.3" stroke="#333" stroke-width="0.9"/>
<text transform="translate(237.6 261.45) scale(0.87 1)" font-size="6.8" text-anchor="end" fill="#262626">10<tspan font-size="4.62" dy="-2.8">3</tspan></text>
<line x1="238.8" y1="259" x2="240.3" y2="259" stroke="#333" stroke-width="0.9"/>
<text transform="translate(237.6 277.95) scale(0.87 1)" font-size="6.8" text-anchor="end" fill="#262626">10<tspan font-size="4.62" dy="-2.8">2</tspan></text>
<line x1="238.8" y1="275.5" x2="240.3" y2="275.5" stroke="#333" stroke-width="0.9"/>
<text transform="translate(237.6 284.65) scale(0.87 1)" font-size="6.8" text-anchor="end" fill="#262626">0</text>
<line x1="238.8" y1="282.2" x2="240.3" y2="282.2" stroke="#333" stroke-width="0.9"/>
<text transform="translate(237.6 291.85) scale(0.87 1)" font-size="6.8" text-anchor="end" fill="#262626">−10<tspan font-size="4.62" dy="-2.8">2</tspan></text>
<line x1="238.8" y1="289.4" x2="240.3" y2="289.4" stroke="#333" stroke-width="0.9"/>
<line x1="240.7" y1="237.54" x2="241.8" y2="237.54" stroke="#777" stroke-width="0.4"/>
<line x1="240.7" y1="234.76" x2="241.8" y2="234.76" stroke="#777" stroke-width="0.4"/>
<line x1="240.7" y1="232.79" x2="241.8" y2="232.79" stroke="#777" stroke-width="0.4"/>
<line x1="240.7" y1="231.26" x2="241.8" y2="231.26" stroke="#777" stroke-width="0.4"/>
<line x1="240.7" y1="230.01" x2="241.8" y2="230.01" stroke="#777" stroke-width="0.4"/>
<line x1="240.7" y1="228.95" x2="241.8" y2="228.95" stroke="#777" stroke-width="0.4"/>
<line x1="240.7" y1="228.03" x2="241.8" y2="228.03" stroke="#777" stroke-width="0.4"/>
<line x1="240.7" y1="227.22" x2="241.8" y2="227.22" stroke="#777" stroke-width="0.4"/>
<line x1="240.7" y1="253.97" x2="241.8" y2="253.97" stroke="#777" stroke-width="0.4"/>
<line x1="240.7" y1="251.03" x2="241.8" y2="251.03" stroke="#777" stroke-width="0.4"/>
<line x1="240.7" y1="248.95" x2="241.8" y2="248.95" stroke="#777" stroke-width="0.4"/>
<line x1="240.7" y1="247.33" x2="241.8" y2="247.33" stroke="#777" stroke-width="0.4"/>
<line x1="240.7" y1="246" x2="241.8" y2="246" stroke="#777" stroke-width="0.4"/>
<line x1="240.7" y1="244.89" x2="241.8" y2="244.89" stroke="#777" stroke-width="0.4"/>
<line x1="240.7" y1="243.92" x2="241.8" y2="243.92" stroke="#777" stroke-width="0.4"/>
<line x1="240.7" y1="243.06" x2="241.8" y2="243.06" stroke="#777" stroke-width="0.4"/>
<line x1="240.7" y1="270.53" x2="241.8" y2="270.53" stroke="#777" stroke-width="0.4"/>
<line x1="240.7" y1="267.63" x2="241.8" y2="267.63" stroke="#777" stroke-width="0.4"/>
<line x1="240.7" y1="265.57" x2="241.8" y2="265.57" stroke="#777" stroke-width="0.4"/>
<line x1="240.7" y1="263.97" x2="241.8" y2="263.97" stroke="#777" stroke-width="0.4"/>
<line x1="240.7" y1="262.66" x2="241.8" y2="262.66" stroke="#777" stroke-width="0.4"/>
<line x1="240.7" y1="261.56" x2="241.8" y2="261.56" stroke="#777" stroke-width="0.4"/>
<line x1="240.7" y1="260.6" x2="241.8" y2="260.6" stroke="#777" stroke-width="0.4"/>
<line x1="240.7" y1="259.75" x2="241.8" y2="259.75" stroke="#777" stroke-width="0.4"/>
<text transform="translate(253 301.65) scale(0.87 1)" font-size="6.8" text-anchor="middle" fill="#262626">0</text>
<text transform="translate(271.4 301.65) scale(0.87 1)" font-size="6.8" text-anchor="middle" fill="#262626">10<tspan font-size="4.62" dy="-2.8">3</tspan></text>
<text transform="translate(288.7 301.65) scale(0.87 1)" font-size="6.8" text-anchor="middle" fill="#262626">10<tspan font-size="4.62" dy="-2.8">4</tspan></text>
<text transform="translate(305.1 301.65) scale(0.87 1)" font-size="6.8" text-anchor="middle" fill="#262626">10<tspan font-size="4.62" dy="-2.8">5</tspan></text>
<line x1="253" y1="291.1" x2="253" y2="292.8" stroke="#333" stroke-width="0.9"/>
<line x1="271.7" y1="291.1" x2="271.7" y2="292.8" stroke="#333" stroke-width="0.9"/>
<line x1="289" y1="291.1" x2="289" y2="292.8" stroke="#333" stroke-width="0.9"/>
<line x1="305.4" y1="291.1" x2="305.4" y2="292.8" stroke="#333" stroke-width="0.9"/>
<line x1="276.91" y1="291" x2="276.91" y2="292.1" stroke="#666" stroke-width="0.4"/>
<line x1="279.95" y1="291" x2="279.95" y2="292.1" stroke="#666" stroke-width="0.4"/>
<line x1="282.12" y1="291" x2="282.12" y2="292.1" stroke="#666" stroke-width="0.4"/>
<line x1="283.79" y1="291" x2="283.79" y2="292.1" stroke="#666" stroke-width="0.4"/>
<line x1="285.16" y1="291" x2="285.16" y2="292.1" stroke="#666" stroke-width="0.4"/>
<line x1="286.32" y1="291" x2="286.32" y2="292.1" stroke="#666" stroke-width="0.4"/>
<line x1="287.32" y1="291" x2="287.32" y2="292.1" stroke="#666" stroke-width="0.4"/>
<line x1="288.21" y1="291" x2="288.21" y2="292.1" stroke="#666" stroke-width="0.4"/>
<line x1="293.94" y1="291" x2="293.94" y2="292.1" stroke="#666" stroke-width="0.4"/>
<line x1="296.82" y1="291" x2="296.82" y2="292.1" stroke="#666" stroke-width="0.4"/>
<line x1="298.87" y1="291" x2="298.87" y2="292.1" stroke="#666" stroke-width="0.4"/>
<line x1="300.46" y1="291" x2="300.46" y2="292.1" stroke="#666" stroke-width="0.4"/>
<line x1="301.76" y1="291" x2="301.76" y2="292.1" stroke="#666" stroke-width="0.4"/>
<line x1="302.86" y1="291" x2="302.86" y2="292.1" stroke="#666" stroke-width="0.4"/>
<line x1="303.81" y1="291" x2="303.81" y2="292.1" stroke="#666" stroke-width="0.4"/>
<line x1="304.65" y1="291" x2="304.65" y2="292.1" stroke="#666" stroke-width="0.4"/>
<line x1="248" y1="291" x2="248" y2="292.2" stroke="#555" stroke-width="0.45"/>
<line x1="249.5" y1="291" x2="249.5" y2="292.2" stroke="#555" stroke-width="0.45"/>
<line x1="251" y1="291" x2="251" y2="292.2" stroke="#555" stroke-width="0.45"/>
<line x1="252" y1="291" x2="252" y2="292.2" stroke="#555" stroke-width="0.45"/>
<line x1="254" y1="291" x2="254" y2="292.2" stroke="#555" stroke-width="0.45"/>
<line x1="255" y1="291" x2="255" y2="292.2" stroke="#555" stroke-width="0.45"/>
<line x1="256.5" y1="291" x2="256.5" y2="292.2" stroke="#555" stroke-width="0.45"/>
<line x1="258" y1="291" x2="258" y2="292.2" stroke="#555" stroke-width="0.45"/>
<line x1="260" y1="291" x2="260" y2="292.2" stroke="#555" stroke-width="0.45"/>
<line x1="262.5" y1="291" x2="262.5" y2="292.2" stroke="#555" stroke-width="0.45"/>
<line x1="265.5" y1="291" x2="265.5" y2="292.2" stroke="#555" stroke-width="0.45"/>
<rect x="342" y="219.3" width="71.4" height="71.5" fill="none" stroke="#ababab" stroke-width="0.8"/>
<line x1="342" y1="219.3" x2="342" y2="290.8" stroke="#666" stroke-width="0.8"/>
<line x1="342" y1="290.8" x2="413.4" y2="290.8" stroke="#555" stroke-width="0.8"/>
<text transform="translate(337.4 293.25) scale(0.87 1)" font-size="6.8" text-anchor="end" fill="#262626">0</text>
<line x1="338.6" y1="290.8" x2="340.2" y2="290.8" stroke="#333" stroke-width="0.9"/>
<text transform="translate(337.4 279.75) scale(0.87 1)" font-size="6.8" text-anchor="end" fill="#262626">50K</text>
<line x1="338.6" y1="277.3" x2="340.2" y2="277.3" stroke="#333" stroke-width="0.9"/>
<text transform="translate(337.4 266.25) scale(0.87 1)" font-size="6.8" text-anchor="end" fill="#262626">100K</text>
<line x1="338.6" y1="263.8" x2="340.2" y2="263.8" stroke="#333" stroke-width="0.9"/>
<text transform="translate(337.4 252.75) scale(0.87 1)" font-size="6.8" text-anchor="end" fill="#262626">150K</text>
<line x1="338.6" y1="250.3" x2="340.2" y2="250.3" stroke="#333" stroke-width="0.9"/>
<text transform="translate(337.4 239.25) scale(0.87 1)" font-size="6.8" text-anchor="end" fill="#262626">200K</text>
<line x1="338.6" y1="236.8" x2="340.2" y2="236.8" stroke="#333" stroke-width="0.9"/>
<text transform="translate(337.4 225.75) scale(0.87 1)" font-size="6.8" text-anchor="end" fill="#262626">250K</text>
<line x1="338.6" y1="223.3" x2="340.2" y2="223.3" stroke="#333" stroke-width="0.9"/>
<line x1="340.7" y1="290.8" x2="341.8" y2="290.8" stroke="#777" stroke-width="0.4"/>
<line x1="340.7" y1="289.45" x2="341.8" y2="289.45" stroke="#777" stroke-width="0.4"/>
<line x1="340.7" y1="288.1" x2="341.8" y2="288.1" stroke="#777" stroke-width="0.4"/>
<line x1="340.7" y1="286.75" x2="341.8" y2="286.75" stroke="#777" stroke-width="0.4"/>
<line x1="340.7" y1="285.4" x2="341.8" y2="285.4" stroke="#777" stroke-width="0.4"/>
<line x1="340.7" y1="284.05" x2="341.8" y2="284.05" stroke="#777" stroke-width="0.4"/>
<line x1="340.7" y1="282.7" x2="341.8" y2="282.7" stroke="#777" stroke-width="0.4"/>
<line x1="340.7" y1="281.35" x2="341.8" y2="281.35" stroke="#777" stroke-width="0.4"/>
<line x1="340.7" y1="280" x2="341.8" y2="280" stroke="#777" stroke-width="0.4"/>
<line x1="340.7" y1="278.65" x2="341.8" y2="278.65" stroke="#777" stroke-width="0.4"/>
<line x1="340.7" y1="277.3" x2="341.8" y2="277.3" stroke="#777" stroke-width="0.4"/>
<line x1="340.7" y1="275.95" x2="341.8" y2="275.95" stroke="#777" stroke-width="0.4"/>
<line x1="340.7" y1="274.6" x2="341.8" y2="274.6" stroke="#777" stroke-width="0.4"/>
<line x1="340.7" y1="273.25" x2="341.8" y2="273.25" stroke="#777" stroke-width="0.4"/>
<line x1="340.7" y1="271.9" x2="341.8" y2="271.9" stroke="#777" stroke-width="0.4"/>
<line x1="340.7" y1="270.55" x2="341.8" y2="270.55" stroke="#777" stroke-width="0.4"/>
<line x1="340.7" y1="269.2" x2="341.8" y2="269.2" stroke="#777" stroke-width="0.4"/>
<line x1="340.7" y1="267.85" x2="341.8" y2="267.85" stroke="#777" stroke-width="0.4"/>
<line x1="340.7" y1="266.5" x2="341.8" y2="266.5" stroke="#777" stroke-width="0.4"/>
<line x1="340.7" y1="265.15" x2="341.8" y2="265.15" stroke="#777" stroke-width="0.4"/>
<line x1="340.7" y1="263.8" x2="341.8" y2="263.8" stroke="#777" stroke-width="0.4"/>
<line x1="340.7" y1="262.45" x2="341.8" y2="262.45" stroke="#777" stroke-width="0.4"/>
<line x1="340.7" y1="261.1" x2="341.8" y2="261.1" stroke="#777" stroke-width="0.4"/>
<line x1="340.7" y1="259.75" x2="341.8" y2="259.75" stroke="#777" stroke-width="0.4"/>
<line x1="340.7" y1="258.4" x2="341.8" y2="258.4" stroke="#777" stroke-width="0.4"/>
<line x1="340.7" y1="257.05" x2="341.8" y2="257.05" stroke="#777" stroke-width="0.4"/>
<line x1="340.7" y1="255.7" x2="341.8" y2="255.7" stroke="#777" stroke-width="0.4"/>
<line x1="340.7" y1="254.35" x2="341.8" y2="254.35" stroke="#777" stroke-width="0.4"/>
<line x1="340.7" y1="253" x2="341.8" y2="253" stroke="#777" stroke-width="0.4"/>
<line x1="340.7" y1="251.65" x2="341.8" y2="251.65" stroke="#777" stroke-width="0.4"/>
<line x1="340.7" y1="250.3" x2="341.8" y2="250.3" stroke="#777" stroke-width="0.4"/>
<line x1="340.7" y1="248.95" x2="341.8" y2="248.95" stroke="#777" stroke-width="0.4"/>
<line x1="340.7" y1="247.6" x2="341.8" y2="247.6" stroke="#777" stroke-width="0.4"/>
<line x1="340.7" y1="246.25" x2="341.8" y2="246.25" stroke="#777" stroke-width="0.4"/>
<line x1="340.7" y1="244.9" x2="341.8" y2="244.9" stroke="#777" stroke-width="0.4"/>
<line x1="340.7" y1="243.55" x2="341.8" y2="243.55" stroke="#777" stroke-width="0.4"/>
<line x1="340.7" y1="242.2" x2="341.8" y2="242.2" stroke="#777" stroke-width="0.4"/>
<line x1="340.7" y1="240.85" x2="341.8" y2="240.85" stroke="#777" stroke-width="0.4"/>
<line x1="340.7" y1="239.5" x2="341.8" y2="239.5" stroke="#777" stroke-width="0.4"/>
<line x1="340.7" y1="238.15" x2="341.8" y2="238.15" stroke="#777" stroke-width="0.4"/>
<line x1="340.7" y1="236.8" x2="341.8" y2="236.8" stroke="#777" stroke-width="0.4"/>
<line x1="340.7" y1="235.45" x2="341.8" y2="235.45" stroke="#777" stroke-width="0.4"/>
<line x1="340.7" y1="234.1" x2="341.8" y2="234.1" stroke="#777" stroke-width="0.4"/>
<line x1="340.7" y1="232.75" x2="341.8" y2="232.75" stroke="#777" stroke-width="0.4"/>
<line x1="340.7" y1="231.4" x2="341.8" y2="231.4" stroke="#777" stroke-width="0.4"/>
<line x1="340.7" y1="230.05" x2="341.8" y2="230.05" stroke="#777" stroke-width="0.4"/>
<line x1="340.7" y1="228.7" x2="341.8" y2="228.7" stroke="#777" stroke-width="0.4"/>
<line x1="340.7" y1="227.35" x2="341.8" y2="227.35" stroke="#777" stroke-width="0.4"/>
<line x1="340.7" y1="226" x2="341.8" y2="226" stroke="#777" stroke-width="0.4"/>
<line x1="340.7" y1="224.65" x2="341.8" y2="224.65" stroke="#777" stroke-width="0.4"/>
<line x1="340.7" y1="223.3" x2="341.8" y2="223.3" stroke="#777" stroke-width="0.4"/>
<text transform="translate(349.4 301.65) scale(0.87 1)" font-size="6.8" text-anchor="middle" fill="#262626">0</text>
<text transform="translate(372.7 301.65) scale(0.87 1)" font-size="6.8" text-anchor="middle" fill="#262626">10<tspan font-size="4.62" dy="-2.8">3</tspan></text>
<text transform="translate(389.5 301.65) scale(0.87 1)" font-size="6.8" text-anchor="middle" fill="#262626">10<tspan font-size="4.62" dy="-2.8">4</tspan></text>
<text transform="translate(405.7 301.65) scale(0.87 1)" font-size="6.8" text-anchor="middle" fill="#262626">10<tspan font-size="4.62" dy="-2.8">5</tspan></text>
<line x1="349.4" y1="291.1" x2="349.4" y2="292.8" stroke="#333" stroke-width="0.9"/>
<line x1="373" y1="291.1" x2="373" y2="292.8" stroke="#333" stroke-width="0.9"/>
<line x1="389.8" y1="291.1" x2="389.8" y2="292.8" stroke="#333" stroke-width="0.9"/>
<line x1="406" y1="291.1" x2="406" y2="292.8" stroke="#333" stroke-width="0.9"/>
<line x1="378.06" y1="291" x2="378.06" y2="292.1" stroke="#666" stroke-width="0.4"/>
<line x1="381.02" y1="291" x2="381.02" y2="292.1" stroke="#666" stroke-width="0.4"/>
<line x1="383.11" y1="291" x2="383.11" y2="292.1" stroke="#666" stroke-width="0.4"/>
<line x1="384.74" y1="291" x2="384.74" y2="292.1" stroke="#666" stroke-width="0.4"/>
<line x1="386.07" y1="291" x2="386.07" y2="292.1" stroke="#666" stroke-width="0.4"/>
<line x1="387.2" y1="291" x2="387.2" y2="292.1" stroke="#666" stroke-width="0.4"/>
<line x1="388.17" y1="291" x2="388.17" y2="292.1" stroke="#666" stroke-width="0.4"/>
<line x1="389.03" y1="291" x2="389.03" y2="292.1" stroke="#666" stroke-width="0.4"/>
<line x1="394.68" y1="291" x2="394.68" y2="292.1" stroke="#666" stroke-width="0.4"/>
<line x1="397.53" y1="291" x2="397.53" y2="292.1" stroke="#666" stroke-width="0.4"/>
<line x1="399.55" y1="291" x2="399.55" y2="292.1" stroke="#666" stroke-width="0.4"/>
<line x1="401.12" y1="291" x2="401.12" y2="292.1" stroke="#666" stroke-width="0.4"/>
<line x1="402.41" y1="291" x2="402.41" y2="292.1" stroke="#666" stroke-width="0.4"/>
<line x1="403.49" y1="291" x2="403.49" y2="292.1" stroke="#666" stroke-width="0.4"/>
<line x1="404.43" y1="291" x2="404.43" y2="292.1" stroke="#666" stroke-width="0.4"/>
<line x1="405.26" y1="291" x2="405.26" y2="292.1" stroke="#666" stroke-width="0.4"/>
<line x1="344.4" y1="291" x2="344.4" y2="292.2" stroke="#555" stroke-width="0.45"/>
<line x1="345.9" y1="291" x2="345.9" y2="292.2" stroke="#555" stroke-width="0.45"/>
<line x1="347.4" y1="291" x2="347.4" y2="292.2" stroke="#555" stroke-width="0.45"/>
<line x1="348.4" y1="291" x2="348.4" y2="292.2" stroke="#555" stroke-width="0.45"/>
<line x1="350.4" y1="291" x2="350.4" y2="292.2" stroke="#555" stroke-width="0.45"/>
<line x1="351.4" y1="291" x2="351.4" y2="292.2" stroke="#555" stroke-width="0.45"/>
<line x1="352.9" y1="291" x2="352.9" y2="292.2" stroke="#555" stroke-width="0.45"/>
<line x1="354.4" y1="291" x2="354.4" y2="292.2" stroke="#555" stroke-width="0.45"/>
<line x1="356.4" y1="291" x2="356.4" y2="292.2" stroke="#555" stroke-width="0.45"/>
<line x1="358.9" y1="291" x2="358.9" y2="292.2" stroke="#555" stroke-width="0.45"/>
<line x1="361.9" y1="291" x2="361.9" y2="292.2" stroke="#555" stroke-width="0.45"/>
<rect x="441.3" y="219.4" width="71" height="71.2" fill="none" stroke="#ababab" stroke-width="0.8"/>
<line x1="441.3" y1="219.4" x2="441.3" y2="290.6" stroke="#666" stroke-width="0.8"/>
<line x1="441.3" y1="290.6" x2="512.3" y2="290.6" stroke="#555" stroke-width="0.8"/>
<text transform="translate(436.9 229.25) scale(0.87 1)" font-size="6.8" text-anchor="end" fill="#262626">10<tspan font-size="4.62" dy="-2.8">5</tspan></text>
<line x1="438.1" y1="226.8" x2="439.6" y2="226.8" stroke="#333" stroke-width="0.9"/>
<text transform="translate(436.9 245.65) scale(0.87 1)" font-size="6.8" text-anchor="end" fill="#262626">10<tspan font-size="4.62" dy="-2.8">4</tspan></text>
<line x1="438.1" y1="243.2" x2="439.6" y2="243.2" stroke="#333" stroke-width="0.9"/>
<text transform="translate(436.9 261.65) scale(0.87 1)" font-size="6.8" text-anchor="end" fill="#262626">10<tspan font-size="4.62" dy="-2.8">3</tspan></text>
<line x1="438.1" y1="259.2" x2="439.6" y2="259.2" stroke="#333" stroke-width="0.9"/>
<text transform="translate(436.9 277.95) scale(0.87 1)" font-size="6.8" text-anchor="end" fill="#262626">10<tspan font-size="4.62" dy="-2.8">2</tspan></text>
<line x1="438.1" y1="275.5" x2="439.6" y2="275.5" stroke="#333" stroke-width="0.9"/>
<text transform="translate(436.9 288.95) scale(0.87 1)" font-size="6.8" text-anchor="end" fill="#262626">0</text>
<line x1="438.1" y1="286.5" x2="439.6" y2="286.5" stroke="#333" stroke-width="0.9"/>
<line x1="440" y1="238.26" x2="441.1" y2="238.26" stroke="#777" stroke-width="0.4"/>
<line x1="440" y1="235.38" x2="441.1" y2="235.38" stroke="#777" stroke-width="0.4"/>
<line x1="440" y1="233.33" x2="441.1" y2="233.33" stroke="#777" stroke-width="0.4"/>
<line x1="440" y1="231.74" x2="441.1" y2="231.74" stroke="#777" stroke-width="0.4"/>
<line x1="440" y1="230.44" x2="441.1" y2="230.44" stroke="#777" stroke-width="0.4"/>
<line x1="440" y1="229.34" x2="441.1" y2="229.34" stroke="#777" stroke-width="0.4"/>
<line x1="440" y1="228.39" x2="441.1" y2="228.39" stroke="#777" stroke-width="0.4"/>
<line x1="440" y1="227.55" x2="441.1" y2="227.55" stroke="#777" stroke-width="0.4"/>
<line x1="440" y1="254.38" x2="441.1" y2="254.38" stroke="#777" stroke-width="0.4"/>
<line x1="440" y1="251.57" x2="441.1" y2="251.57" stroke="#777" stroke-width="0.4"/>
<line x1="440" y1="249.57" x2="441.1" y2="249.57" stroke="#777" stroke-width="0.4"/>
<line x1="440" y1="248.02" x2="441.1" y2="248.02" stroke="#777" stroke-width="0.4"/>
<line x1="440" y1="246.75" x2="441.1" y2="246.75" stroke="#777" stroke-width="0.4"/>
<line x1="440" y1="245.68" x2="441.1" y2="245.68" stroke="#777" stroke-width="0.4"/>
<line x1="440" y1="244.75" x2="441.1" y2="244.75" stroke="#777" stroke-width="0.4"/>
<line x1="440" y1="243.93" x2="441.1" y2="243.93" stroke="#777" stroke-width="0.4"/>
<line x1="440" y1="270.59" x2="441.1" y2="270.59" stroke="#777" stroke-width="0.4"/>
<line x1="440" y1="267.72" x2="441.1" y2="267.72" stroke="#777" stroke-width="0.4"/>
<line x1="440" y1="265.69" x2="441.1" y2="265.69" stroke="#777" stroke-width="0.4"/>
<line x1="440" y1="264.11" x2="441.1" y2="264.11" stroke="#777" stroke-width="0.4"/>
<line x1="440" y1="262.82" x2="441.1" y2="262.82" stroke="#777" stroke-width="0.4"/>
<line x1="440" y1="261.72" x2="441.1" y2="261.72" stroke="#777" stroke-width="0.4"/>
<line x1="440" y1="260.78" x2="441.1" y2="260.78" stroke="#777" stroke-width="0.4"/>
<line x1="440" y1="259.95" x2="441.1" y2="259.95" stroke="#777" stroke-width="0.4"/>
<text transform="translate(453.3 301.65) scale(0.87 1)" font-size="6.8" text-anchor="middle" fill="#262626">0</text>
<text transform="translate(472.2 301.65) scale(0.87 1)" font-size="6.8" text-anchor="middle" fill="#262626">10<tspan font-size="4.62" dy="-2.8">3</tspan></text>
<text transform="translate(488.5 301.65) scale(0.87 1)" font-size="6.8" text-anchor="middle" fill="#262626">10<tspan font-size="4.62" dy="-2.8">4</tspan></text>
<text transform="translate(504.9 301.65) scale(0.87 1)" font-size="6.8" text-anchor="middle" fill="#262626">10<tspan font-size="4.62" dy="-2.8">5</tspan></text>
<line x1="453.3" y1="290.9" x2="453.3" y2="292.6" stroke="#333" stroke-width="0.9"/>
<line x1="472.5" y1="290.9" x2="472.5" y2="292.6" stroke="#333" stroke-width="0.9"/>
<line x1="488.8" y1="290.9" x2="488.8" y2="292.6" stroke="#333" stroke-width="0.9"/>
<line x1="505.2" y1="290.9" x2="505.2" y2="292.6" stroke="#333" stroke-width="0.9"/>
<line x1="477.41" y1="290.8" x2="477.41" y2="291.9" stroke="#666" stroke-width="0.4"/>
<line x1="480.28" y1="290.8" x2="480.28" y2="291.9" stroke="#666" stroke-width="0.4"/>
<line x1="482.31" y1="290.8" x2="482.31" y2="291.9" stroke="#666" stroke-width="0.4"/>
<line x1="483.89" y1="290.8" x2="483.89" y2="291.9" stroke="#666" stroke-width="0.4"/>
<line x1="485.18" y1="290.8" x2="485.18" y2="291.9" stroke="#666" stroke-width="0.4"/>
<line x1="486.28" y1="290.8" x2="486.28" y2="291.9" stroke="#666" stroke-width="0.4"/>
<line x1="487.22" y1="290.8" x2="487.22" y2="291.9" stroke="#666" stroke-width="0.4"/>
<line x1="488.05" y1="290.8" x2="488.05" y2="291.9" stroke="#666" stroke-width="0.4"/>
<line x1="493.74" y1="290.8" x2="493.74" y2="291.9" stroke="#666" stroke-width="0.4"/>
<line x1="496.62" y1="290.8" x2="496.62" y2="291.9" stroke="#666" stroke-width="0.4"/>
<line x1="498.67" y1="290.8" x2="498.67" y2="291.9" stroke="#666" stroke-width="0.4"/>
<line x1="500.26" y1="290.8" x2="500.26" y2="291.9" stroke="#666" stroke-width="0.4"/>
<line x1="501.56" y1="290.8" x2="501.56" y2="291.9" stroke="#666" stroke-width="0.4"/>
<line x1="502.66" y1="290.8" x2="502.66" y2="291.9" stroke="#666" stroke-width="0.4"/>
<line x1="503.61" y1="290.8" x2="503.61" y2="291.9" stroke="#666" stroke-width="0.4"/>
<line x1="504.45" y1="290.8" x2="504.45" y2="291.9" stroke="#666" stroke-width="0.4"/>
<line x1="448.3" y1="290.8" x2="448.3" y2="292" stroke="#555" stroke-width="0.45"/>
<line x1="449.8" y1="290.8" x2="449.8" y2="292" stroke="#555" stroke-width="0.45"/>
<line x1="451.3" y1="290.8" x2="451.3" y2="292" stroke="#555" stroke-width="0.45"/>
<line x1="452.3" y1="290.8" x2="452.3" y2="292" stroke="#555" stroke-width="0.45"/>
<line x1="454.3" y1="290.8" x2="454.3" y2="292" stroke="#555" stroke-width="0.45"/>
<line x1="455.3" y1="290.8" x2="455.3" y2="292" stroke="#555" stroke-width="0.45"/>
<line x1="456.8" y1="290.8" x2="456.8" y2="292" stroke="#555" stroke-width="0.45"/>
<line x1="458.3" y1="290.8" x2="458.3" y2="292" stroke="#555" stroke-width="0.45"/>
<line x1="460.3" y1="290.8" x2="460.3" y2="292" stroke="#555" stroke-width="0.45"/>
<line x1="462.8" y1="290.8" x2="462.8" y2="292" stroke="#555" stroke-width="0.45"/>
<line x1="465.8" y1="290.8" x2="465.8" y2="292" stroke="#555" stroke-width="0.45"/>
<polyline points="71.1,30.5 70.4,74.1 64.5,103.3" fill="none" stroke="#6e6e6e" stroke-width="0.8" stroke-linejoin="miter"/>
<polyline points="64.5,103.3 70.4,74.1 97.3,73.9 97.3,103.3" fill="none" stroke="#a8977a" stroke-width="1.1" stroke-linejoin="miter"/>
<text x="85.7" y="68.8" font-size="6.4" text-anchor="middle" fill="#2a2a2a">0.961%</text>
<polyline points="73.3,124.9 70.9,168.5 64.5,197.7" fill="none" stroke="#6e6e6e" stroke-width="0.8" stroke-linejoin="miter"/>
<polyline points="64.5,197.7 70.9,168.5 97.3,168.3 97.3,197.7" fill="none" stroke="#a8977a" stroke-width="1.1" stroke-linejoin="miter"/>
<text x="88.5" y="163.4" font-size="6.4" text-anchor="middle" fill="#2a2a2a">22.08%</text>
<polyline points="72,219.3 70.8,262.9 64.5,292.1" fill="none" stroke="#6e6e6e" stroke-width="0.8" stroke-linejoin="miter"/>
<polyline points="64.5,292.1 70.8,262.9 97.3,262.7 97.3,292.1" fill="none" stroke="#a8977a" stroke-width="1.1" stroke-linejoin="miter"/>
<text x="90.5" y="257.1" font-size="6.4" text-anchor="middle" fill="#2a2a2a">16.84%</text>
<polygon points="143.8,30.9 173.6,30.9 158.2,101.7 143.8,101.7" fill="none" stroke="#7a7a7a" stroke-width="0.8" stroke-linejoin="miter"/>
<text x="156.3" y="38.7" font-size="6.4" text-anchor="middle" fill="#2a2a2a">90.8%</text>
<polygon points="143.8,125.3 173.8,125.3 158.8,196.1 143.8,196.1" fill="none" stroke="#7a7a7a" stroke-width="0.8" stroke-linejoin="miter"/>
<text x="158.3" y="132.1" font-size="6.4" text-anchor="middle" fill="#2a2a2a">43.0%</text>
<polygon points="143.8,219.7 173.8,219.7 160,290.5 143.8,290.5" fill="none" stroke="#7a7a7a" stroke-width="0.8" stroke-linejoin="miter"/>
<text x="158.3" y="226.4" font-size="6.4" text-anchor="middle" fill="#2a2a2a">61.3%</text>
<rect x="242.4" y="44.8" width="30" height="38.1" fill="none" stroke="#1a1a1a" stroke-width="1.1"/>
<rect x="256.4" y="89.1" width="43.8" height="9.6" fill="none" stroke="#d9534a" stroke-width="0.9"/>
<text x="256.6" y="39.1" font-size="6.4" text-anchor="middle" fill="#2a2a2a">95.9%</text>
<text x="286.3" y="82.4" font-size="6.4" text-anchor="middle" fill="#2a2a2a">0.45%</text>
<rect x="242.4" y="139.2" width="30" height="38.1" fill="none" stroke="#1a1a1a" stroke-width="1.1"/>
<rect x="256.4" y="183.5" width="43.8" height="9.6" fill="none" stroke="#d9534a" stroke-width="0.9"/>
<text x="256.6" y="133.5" font-size="6.4" text-anchor="middle" fill="#2a2a2a">24.4%</text>
<text x="286.3" y="176.8" font-size="6.4" text-anchor="middle" fill="#2a2a2a">35.9%</text>
<rect x="242.4" y="233.6" width="30" height="38.1" fill="none" stroke="#1a1a1a" stroke-width="1.1"/>
<rect x="256.4" y="277.9" width="43.8" height="9.6" fill="none" stroke="#d9534a" stroke-width="0.9"/>
<text x="256.6" y="227.9" font-size="6.4" text-anchor="middle" fill="#2a2a2a">44.9%</text>
<text x="286.3" y="271.2" font-size="6.4" text-anchor="middle" fill="#2a2a2a">23.5%</text>
<polyline points="344.3,102 344.3,66.6 357.6,66.6 369.7,79.3 369.7,102" fill="none" stroke="#1a1a1a" stroke-width="1.1" stroke-linejoin="miter"/>
<text x="385" y="98.6" font-size="6.4" text-anchor="middle" fill="#2a2a2a">93.7%</text>
<polyline points="344.3,196.4 344.3,161 357.6,161 369.7,173.7 369.7,196.4" fill="none" stroke="#1a1a1a" stroke-width="1.1" stroke-linejoin="miter"/>
<text x="385" y="193" font-size="6.4" text-anchor="middle" fill="#2a2a2a">29.4%</text>
<polyline points="344.3,290.8 344.3,255.4 357.6,255.4 369.7,268.1 369.7,290.8" fill="none" stroke="#1a1a1a" stroke-width="1.1" stroke-linejoin="miter"/>
<text x="385" y="287.4" font-size="6.4" text-anchor="middle" fill="#2a2a2a">45.9%</text>
<rect x="445.7" y="45.5" width="13.3" height="41.6" fill="none" stroke="#6d6a99" stroke-width="1.0"/>
<rect x="460.5" y="45.5" width="39.9" height="41.6" fill="none" stroke="#3f9a86" stroke-width="1.1"/>
<text x="454.6" y="41.7" font-size="6.4" text-anchor="middle" fill="#2a2a2a">1.35%</text>
<text x="491.4" y="41.7" font-size="6.4" text-anchor="middle" fill="#2a2a2a">98.1%</text>
<rect x="445.7" y="139.9" width="13.3" height="41.6" fill="none" stroke="#6d6a99" stroke-width="1.0"/>
<rect x="460.5" y="139.9" width="39.9" height="41.6" fill="none" stroke="#3f9a86" stroke-width="1.1"/>
<text x="454.6" y="136.1" font-size="6.4" text-anchor="middle" fill="#2a2a2a">54.8%</text>
<text x="491.4" y="136.1" font-size="6.4" text-anchor="middle" fill="#2a2a2a">34.8%</text>
<rect x="445.7" y="234.3" width="13.3" height="41.6" fill="none" stroke="#6d6a99" stroke-width="1.0"/>
<rect x="460.5" y="234.3" width="39.9" height="41.6" fill="none" stroke="#3f9a86" stroke-width="1.1"/>
<text x="454.6" y="230.5" font-size="6.4" text-anchor="middle" fill="#2a2a2a">45.6%</text>
<text x="491.4" y="230.5" font-size="6.4" text-anchor="middle" fill="#2a2a2a">49.4%</text>
<line x1="159" y1="40.5" x2="221.9" y2="40.5" stroke="#111" stroke-width="1.2"/>
<polygon points="226,40.5 221.4,38.1 221.4,42.9" fill="#111"/>
<line x1="268.2" y1="50.6" x2="315.4" y2="50.6" stroke="#111" stroke-width="1.2"/>
<polygon points="319.5,50.6 314.9,48.2 314.9,53" fill="#111"/>
<line x1="366" y1="80.5" x2="426.4" y2="80.5" stroke="#111" stroke-width="1.2"/>
<polygon points="430.5,80.5 425.9,78.1 425.9,82.9" fill="#111"/>
<line x1="159" y1="134.9" x2="221.9" y2="134.9" stroke="#111" stroke-width="1.2"/>
<polygon points="226,134.9 221.4,132.5 221.4,137.3" fill="#111"/>
<line x1="268.2" y1="145" x2="315.4" y2="145" stroke="#111" stroke-width="1.2"/>
<polygon points="319.5,145 314.9,142.6 314.9,147.4" fill="#111"/>
<line x1="366" y1="174.9" x2="426.4" y2="174.9" stroke="#111" stroke-width="1.2"/>
<polygon points="430.5,174.9 425.9,172.5 425.9,177.3" fill="#111"/>
<line x1="159" y1="229.3" x2="221.9" y2="229.3" stroke="#111" stroke-width="1.2"/>
<polygon points="226,229.3 221.4,226.9 221.4,231.7" fill="#111"/>
<line x1="268.2" y1="239.4" x2="315.4" y2="239.4" stroke="#111" stroke-width="1.2"/>
<polygon points="319.5,239.4 314.9,237 314.9,241.8" fill="#111"/>
<line x1="366" y1="269.3" x2="426.4" y2="269.3" stroke="#111" stroke-width="1.2"/>
<polygon points="430.5,269.3 425.9,266.9 425.9,271.7" fill="#111"/>
<line x1="18.5" y1="305.7" x2="18.5" y2="280.4" stroke="#111" stroke-width="1.3"/>
<polygon points="18.5,276.3 16.1,280.9 20.9,280.9" fill="#111"/>
<line x1="17.85" y1="305.1" x2="42.8" y2="305.1" stroke="#111" stroke-width="1.3"/>
<polygon points="46.9,305.1 42.3,302.7 42.3,307.5" fill="#111"/>
<text x="0" y="0" font-size="7.8" text-anchor="middle" fill="#2a2a2a" transform="translate(14.8 290.5) rotate(-90) scale(0.84 1)" stroke="#2a2a2a" stroke-width="0.22">SSC</text>
<text x="0" y="0" font-size="7.8" text-anchor="middle" fill="#2a2a2a" transform="translate(32 316.2) scale(0.84 1)" stroke="#2a2a2a" stroke-width="0.22">CD34</text>
<line x1="124.5" y1="305.7" x2="124.5" y2="280.4" stroke="#111" stroke-width="1.3"/>
<polygon points="124.5,276.3 122.1,280.9 126.9,280.9" fill="#111"/>
<line x1="123.85" y1="305.1" x2="149.2" y2="305.1" stroke="#111" stroke-width="1.3"/>
<polygon points="153.3,305.1 148.7,302.7 148.7,307.5" fill="#111"/>
<text x="0" y="0" font-size="7.8" text-anchor="middle" fill="#2a2a2a" transform="translate(120.8 290.5) rotate(-90) scale(0.84 1)" stroke="#2a2a2a" stroke-width="0.22">SSC</text>
<text x="0" y="0" font-size="7.8" text-anchor="middle" fill="#2a2a2a" transform="translate(138.9 316.2) scale(0.84 1)" stroke="#2a2a2a" stroke-width="0.22">HLA-DR</text>
<line x1="223.8" y1="305.7" x2="223.8" y2="280.4" stroke="#111" stroke-width="1.3"/>
<polygon points="223.8,276.3 221.4,280.9 226.2,280.9" fill="#111"/>
<line x1="223.15" y1="305.1" x2="247.5" y2="305.1" stroke="#111" stroke-width="1.3"/>
<polygon points="251.6,305.1 247,302.7 247,307.5" fill="#111"/>
<text x="0" y="0" font-size="7.8" text-anchor="middle" fill="#2a2a2a" transform="translate(220.1 290.5) rotate(-90) scale(0.84 1)" stroke="#2a2a2a" stroke-width="0.22">CD15</text>
<text x="0" y="0" font-size="7.8" text-anchor="middle" fill="#2a2a2a" transform="translate(237.5 316.2) scale(0.84 1)" stroke="#2a2a2a" stroke-width="0.22">CD117</text>
<line x1="325.2" y1="305.7" x2="325.2" y2="280.4" stroke="#111" stroke-width="1.3"/>
<polygon points="325.2,276.3 322.8,280.9 327.6,280.9" fill="#111"/>
<line x1="324.55" y1="305.1" x2="349.9" y2="305.1" stroke="#111" stroke-width="1.3"/>
<polygon points="354,305.1 349.4,302.7 349.4,307.5" fill="#111"/>
<text x="0" y="0" font-size="7.8" text-anchor="middle" fill="#2a2a2a" transform="translate(321.5 290.5) rotate(-90) scale(0.84 1)" stroke="#2a2a2a" stroke-width="0.22">SSC</text>
<text x="0" y="0" font-size="7.8" text-anchor="middle" fill="#2a2a2a" transform="translate(339.8 316.2) scale(0.84 1)" stroke="#2a2a2a" stroke-width="0.22">Siglec8</text>
<line x1="425.4" y1="305.7" x2="425.4" y2="280.4" stroke="#111" stroke-width="1.3"/>
<polygon points="425.4,276.3 423,280.9 427.8,280.9" fill="#111"/>
<line x1="424.75" y1="305.1" x2="450.4" y2="305.1" stroke="#111" stroke-width="1.3"/>
<polygon points="454.5,305.1 449.9,302.7 449.9,307.5" fill="#111"/>
<text x="0" y="0" font-size="7.8" text-anchor="middle" fill="#2a2a2a" transform="translate(421.7 290.5) rotate(-90) scale(0.84 1)" stroke="#2a2a2a" stroke-width="0.22">CD11b</text>
<text x="0" y="0" font-size="7.8" text-anchor="middle" fill="#2a2a2a" transform="translate(439.5 316.2) scale(0.84 1)" stroke="#2a2a2a" stroke-width="0.22">CD16</text>
<rect x="59.9" y="331.7" width="5.6" height="5.6" fill="none" stroke="#c0875a" stroke-width="0.8"/>
<text x="68.8" y="337" font-size="6.55" text-anchor="start" fill="#2e2e2e">CD34+</text>
<rect x="141" y="331.7" width="5.6" height="5.6" fill="none" stroke="#8c8c8c" stroke-width="0.8"/>
<text x="150.4" y="337" font-size="6.55" text-anchor="start" fill="#2e2e2e">Granulocyte lineage</text>
<rect x="241.2" y="331.7" width="5.6" height="5.6" fill="none" stroke="#d25a4f" stroke-width="0.8"/>
<text x="249.6" y="337" font-size="6.55" text-anchor="start" fill="#2e2e2e">Promyelocytes (PM)</text>
<rect x="406.3" y="322.4" width="5.6" height="5.6" fill="none" stroke="#6d6aa5" stroke-width="0.8"/>
<text x="415" y="327.6" font-size="6.55" text-anchor="start" fill="#2e2e2e">Myelocytes/Metamyelocytes (MC)</text>
<rect x="406.3" y="332" width="5.6" height="5.6" fill="none" stroke="#4aa58f" stroke-width="0.8"/>
<text x="415" y="337.2" font-size="6.55" text-anchor="start" fill="#2e2e2e">Bands/Neutrophils (NP)</text>
<text x="7.5" y="366" font-size="11" text-anchor="start" fill="#111" font-weight="bold">I</text>
<text x="64.8" y="378.7" font-size="8.1" fill="#2a2a2a" text-anchor="middle" letter-spacing="0.25">CD34<tspan font-size="5.2" dy="-3.2">+</tspan></text>
<text x="65" y="388.7" font-size="8.4" text-anchor="middle" fill="#2a2a2a" letter-spacing="0.1">Frequency</text>
<rect x="48.3" y="394.2" width="33.6" height="61.3" fill="#f7f7f7" stroke="none" stroke-width="1"/>
<line x1="48.3" y1="394.2" x2="48.3" y2="455.9" stroke="#222" stroke-width="0.9"/>
<line x1="47.9" y1="455.5" x2="81.9" y2="455.5" stroke="#222" stroke-width="0.9"/>
<text x="42.1" y="404.7" font-size="5.9" text-anchor="end" fill="#262626" letter-spacing="0.15">20%</text>
<line x1="45" y1="402.6" x2="48.3" y2="402.6" stroke="#222" stroke-width="0.9"/>
<text x="42.1" y="417.5" font-size="5.9" text-anchor="end" fill="#262626" letter-spacing="0.15">15%</text>
<line x1="45" y1="415.4" x2="48.3" y2="415.4" stroke="#222" stroke-width="0.9"/>
<text x="42.1" y="430.35" font-size="5.9" text-anchor="end" fill="#262626" letter-spacing="0.15">10%</text>
<line x1="45" y1="428.25" x2="48.3" y2="428.25" stroke="#222" stroke-width="0.9"/>
<text x="42.1" y="443.4" font-size="5.9" text-anchor="end" fill="#262626" letter-spacing="0.15">5%</text>
<line x1="45" y1="441.3" x2="48.3" y2="441.3" stroke="#222" stroke-width="0.9"/>
<text x="42.1" y="456.3" font-size="5.9" text-anchor="end" fill="#262626" letter-spacing="0.15">0%</text>
<line x1="45" y1="454.2" x2="48.3" y2="454.2" stroke="#222" stroke-width="0.9"/>
<line x1="57.5" y1="455.5" x2="57.5" y2="457.8" stroke="#333" stroke-width="0.6"/>
<line x1="72.7" y1="455.5" x2="72.7" y2="457.8" stroke="#333" stroke-width="0.6"/>
<text x="57.5" y="468.3" font-size="6.3" text-anchor="middle" fill="#333">HD</text>
<text x="72.7" y="468.3" font-size="6.3" text-anchor="middle" fill="#333">RD</text>
<text x="13.6" y="425.8" font-size="7.0" text-anchor="middle" fill="#2a2a2a" transform="rotate(-90 13.6 425.8)">% CD34+</text>
<text x="24.2" y="425.8" font-size="7.0" text-anchor="middle" fill="#2a2a2a" transform="rotate(-90 24.2 425.8)">out of CD45+</text>
<line x1="52.7" y1="452.8" x2="61.2" y2="452.8" stroke="#333" stroke-width="0.8"/>
<circle cx="54.5" cy="452.8" r="1.35" fill="#1c3452"/>
<circle cx="57.3" cy="452.6" r="1.35" fill="#1c3452"/>
<circle cx="59.4" cy="451.7" r="1.35" fill="#1c3452"/>
<line x1="68.2" y1="403.9" x2="77.4" y2="403.9" stroke="#444" stroke-width="0.8"/>
<circle cx="69.5" cy="397.3" r="1.4" fill="#6b1a2c"/>
<circle cx="72.7" cy="411" r="1.4" fill="#6b1a2c"/>
<text x="177.3" y="364" font-size="8.6" text-anchor="middle" fill="#2a2a2a" letter-spacing="0.15">Granulocyte</text>
<text x="176" y="373.7" font-size="8.6" text-anchor="middle" fill="#2a2a2a" letter-spacing="0.15">Relative Frequency</text>
<line x1="125.2" y1="378.5" x2="228.3" y2="378.5" stroke="#262626" stroke-width="1.0"/>
<text x="139.4" y="389" font-size="8.6" text-anchor="middle" fill="#2a2a2a" letter-spacing="0.1">PM</text>
<text x="176.3" y="389" font-size="8.6" text-anchor="middle" fill="#2a2a2a" letter-spacing="0.1">MC</text>
<text x="213.5" y="389" font-size="8.6" text-anchor="middle" fill="#2a2a2a" letter-spacing="0.1">NP</text>
<rect x="126.8" y="394.4" width="26.5" height="61.6" fill="#f6f6f6" stroke="none" stroke-width="1"/>
<line x1="126.3" y1="455.8" x2="153.3" y2="455.8" stroke="#222" stroke-width="1.0"/>
<rect x="162" y="394.4" width="28.8" height="61.6" fill="#f6f6f6" stroke="none" stroke-width="1"/>
<line x1="161.5" y1="455.8" x2="190.8" y2="455.8" stroke="#222" stroke-width="1.0"/>
<rect x="199.9" y="394.4" width="28" height="61.6" fill="#f6f6f6" stroke="none" stroke-width="1"/>
<line x1="199.4" y1="455.8" x2="227.9" y2="455.8" stroke="#222" stroke-width="1.0"/>
<line x1="126.8" y1="394.4" x2="126.8" y2="456.3" stroke="#222" stroke-width="1.0"/>
<text x="122.3" y="410.8" font-size="5.9" text-anchor="end" fill="#262626" letter-spacing="0.15">75%</text>
<line x1="123.6" y1="408.7" x2="126.8" y2="408.7" stroke="#222" stroke-width="0.9"/>
<text x="122.3" y="425.3" font-size="5.9" text-anchor="end" fill="#262626" letter-spacing="0.15">50%</text>
<line x1="123.6" y1="423.2" x2="126.8" y2="423.2" stroke="#222" stroke-width="0.9"/>
<text x="122.3" y="440.1" font-size="5.9" text-anchor="end" fill="#262626" letter-spacing="0.15">25%</text>
<line x1="123.6" y1="438" x2="126.8" y2="438" stroke="#222" stroke-width="0.9"/>
<text x="122.3" y="455" font-size="5.9" text-anchor="end" fill="#262626" letter-spacing="0.15">0%</text>
<line x1="123.6" y1="452.9" x2="126.8" y2="452.9" stroke="#222" stroke-width="0.9"/>
<text x="101.8" y="425" font-size="7.0" text-anchor="middle" fill="#333" transform="rotate(-90 101.8 425)">Relative frequency</text>
<line x1="132.8" y1="455.8" x2="132.8" y2="458.2" stroke="#333" stroke-width="0.6"/>
<line x1="145.5" y1="455.8" x2="145.5" y2="458.2" stroke="#333" stroke-width="0.6"/>
<text x="132.8" y="468.4" font-size="6.3" text-anchor="middle" fill="#333">HD</text>
<text x="145.5" y="468.4" font-size="6.3" text-anchor="middle" fill="#333">RD</text>
<line x1="170.4" y1="455.8" x2="170.4" y2="458.2" stroke="#333" stroke-width="0.6"/>
<line x1="182.9" y1="455.8" x2="182.9" y2="458.2" stroke="#333" stroke-width="0.6"/>
<text x="170.4" y="468.4" font-size="6.3" text-anchor="middle" fill="#333">HD</text>
<text x="182.9" y="468.4" font-size="6.3" text-anchor="middle" fill="#333">RD</text>
<line x1="207.4" y1="455.8" x2="207.4" y2="458.2" stroke="#333" stroke-width="0.6"/>
<line x1="220.4" y1="455.8" x2="220.4" y2="458.2" stroke="#333" stroke-width="0.6"/>
<text x="207.4" y="468.4" font-size="6.3" text-anchor="middle" fill="#333">HD</text>
<text x="220.4" y="468.4" font-size="6.3" text-anchor="middle" fill="#333">RD</text>
<line x1="129" y1="452.5" x2="137" y2="452.5" stroke="#3a3a3a" stroke-width="0.8"/>
<line x1="143.8" y1="427.5" x2="149.5" y2="427.5" stroke="#3a3a3a" stroke-width="0.8"/>
<line x1="166.5" y1="447.5" x2="174" y2="447.5" stroke="#3a3a3a" stroke-width="0.8"/>
<line x1="178.8" y1="425.1" x2="186.9" y2="425.1" stroke="#3a3a3a" stroke-width="0.8"/>
<line x1="204" y1="398.8" x2="211" y2="398.8" stroke="#3a3a3a" stroke-width="0.8"/>
<line x1="216" y1="447.7" x2="224" y2="447.7" stroke="#3a3a3a" stroke-width="0.8"/>
<circle cx="129.7" cy="452.7" r="1.3" fill="#1c3452"/>
<circle cx="132" cy="452.7" r="1.3" fill="#1c3452"/>
<circle cx="134.2" cy="451.1" r="1.3" fill="#1c3452"/>
<circle cx="143.2" cy="426.4" r="1.3" fill="#6b1a2c"/>
<circle cx="145.5" cy="428.5" r="1.3" fill="#6b1a2c"/>
<circle cx="167.4" cy="447.7" r="1.3" fill="#1c3452"/>
<circle cx="172.8" cy="447.3" r="1.3" fill="#1c3452"/>
<circle cx="170.4" cy="451.6" r="1.3" fill="#1c3452"/>
<circle cx="180.2" cy="421.3" r="1.3" fill="#6b1a2c"/>
<circle cx="183.1" cy="428.9" r="1.3" fill="#6b1a2c"/>
<circle cx="205" cy="399.2" r="1.3" fill="#1c3452"/>
<circle cx="209.6" cy="398" r="1.3" fill="#1c3452"/>
<circle cx="207.4" cy="399.8" r="1.3" fill="#1c3452"/>
<circle cx="217.6" cy="443.2" r="1.3" fill="#6b1a2c"/>
<circle cx="220.2" cy="452.5" r="1.3" fill="#6b1a2c"/>
<text x="243.3" y="366.2" font-size="11" text-anchor="start" fill="#111" font-weight="bold">J</text>
<text x="307.9" y="380" font-size="8.6" text-anchor="middle" fill="#2a2a2a" letter-spacing="0.12">Lentiviral Vector</text>
<line x1="250.5" y1="393.8" x2="365" y2="393.8" stroke="#c9c9c9" stroke-width="3.2"/>
<polygon points="268,388.7 283.2,388.7 283.2,384.8 290.6,394 283.2,403.2 283.2,399.4 268,399.4" fill="#3d9ad6" stroke="#2b7fb8" stroke-width="0.5"/>
<rect x="290.2" y="388.7" width="17" height="10.7" fill="#3aa53c" stroke="none" stroke-width="1"/>
<rect x="307.2" y="388.7" width="21.6" height="10.7" fill="#5d2a78" stroke="none" stroke-width="1"/>
<rect x="328.8" y="388.7" width="18.2" height="10.7" fill="#c8102e" stroke="none" stroke-width="1"/>
<text x="277.2" y="396.6" font-size="6.3" text-anchor="middle" fill="#d6ecfa">SFFV</text>
<text x="298.8" y="396.6" font-size="6.3" text-anchor="middle" fill="#eef8ee">AK2</text>
<text x="318" y="396.6" font-size="6.3" text-anchor="middle" fill="#eadff0">IRES</text>
<text x="337.9" y="396.6" font-size="6.3" text-anchor="middle" fill="#fae2e6">RFP</text>
<rect x="274.3" y="438.8" width="67.8" height="11.8" fill="#e8e8e8" stroke="none" stroke-width="1"/>
<rect x="274.3" y="452" width="67.8" height="11.8" fill="#ebebeb" stroke="none" stroke-width="1"/>
<g filter="url(#b10)">
<rect x="277" y="441.3" width="19" height="5.4" fill="#8e8e8e" stroke="none" stroke-width="1"/>
<rect x="298.8" y="441.5" width="18.8" height="4.8" fill="#555" stroke="none" stroke-width="1"/>
<rect x="320.5" y="441.8" width="18.8" height="4.4" fill="#8a8a8a" stroke="none" stroke-width="1"/>
<rect x="277" y="455" width="19" height="5" fill="#666" stroke="none" stroke-width="1"/>
<rect x="320.5" y="454" width="18.8" height="6.6" fill="#9a9a9a" stroke="none" stroke-width="1"/>
</g>
<text x="270" y="446.9" font-size="6.8" text-anchor="end" fill="#262626">β-actin</text>
<text x="266.3" y="460.2" font-size="6.8" text-anchor="end" fill="#262626">AK2</text>
<text x="343.9" y="446.9" font-size="6.8" text-anchor="start" fill="#262626">42kD</text>
<text x="343.9" y="460.2" font-size="6.8" text-anchor="start" fill="#262626">26kD</text>
<text x="286.8" y="436.8" font-size="6.6" fill="#262626" transform="rotate(-56 286.8 436.8)">AAVS1<tspan font-size="4.2" dy="-2.4">−/−</tspan></text>
<text x="308.6" y="436.8" font-size="6.6" fill="#262626" transform="rotate(-56 308.6 436.8)">AK2<tspan font-size="4.2" dy="-2.4">−/−</tspan></text>
<text x="330.6" y="436.8" font-size="6.6" fill="#262626" transform="rotate(-56 330.6 436.8)">AK2<tspan font-size="4.2" dy="-2.4">−/−</tspan><tspan dy="2.4"> AK2 LV</tspan></text>
<text x="380.8" y="366.2" font-size="11" text-anchor="start" fill="#111" font-weight="bold">K</text>
<text x="443.4" y="379.6" font-size="8.5" text-anchor="middle" fill="#2a2a2a" letter-spacing="0.1">Granulocyte</text>
<text x="444.7" y="390" font-size="8.5" text-anchor="middle" fill="#2a2a2a" letter-spacing="0.1">Commitment</text>
<line x1="426.6" y1="394.9" x2="426.6" y2="465.6" stroke="#222" stroke-width="1.1"/>
<line x1="426.1" y1="465.1" x2="460.7" y2="465.1" stroke="#222" stroke-width="1.1"/>
<text x="420.4" y="403.4" font-size="5.9" text-anchor="end" fill="#262626" letter-spacing="0.15">80%</text>
<line x1="423.3" y1="401.3" x2="426.6" y2="401.3" stroke="#222" stroke-width="0.9"/>
<text x="420.4" y="418.7" font-size="5.9" text-anchor="end" fill="#262626" letter-spacing="0.15">60%</text>
<line x1="423.3" y1="416.6" x2="426.6" y2="416.6" stroke="#222" stroke-width="0.9"/>
<text x="420.4" y="433.9" font-size="5.9" text-anchor="end" fill="#262626" letter-spacing="0.15">40%</text>
<line x1="423.3" y1="431.8" x2="426.6" y2="431.8" stroke="#222" stroke-width="0.9"/>
<text x="420.4" y="449.2" font-size="5.9" text-anchor="end" fill="#262626" letter-spacing="0.15">20%</text>
<line x1="423.3" y1="447.1" x2="426.6" y2="447.1" stroke="#222" stroke-width="0.9"/>
<text x="420.4" y="464.5" font-size="5.9" text-anchor="end" fill="#262626" letter-spacing="0.15">0%</text>
<line x1="423.3" y1="462.4" x2="426.6" y2="462.4" stroke="#222" stroke-width="0.9"/>
<rect x="429.8" y="407" width="6.3" height="55.4" fill="#1d4f8a" stroke="none" stroke-width="1"/>
<rect x="440.1" y="428.6" width="6.1" height="33.8" fill="#c8102e" stroke="none" stroke-width="1"/>
<rect x="450.7" y="409.4" width="6" height="53" fill="#5c2a72" stroke="none" stroke-width="1"/>
<line x1="433" y1="404" x2="433" y2="410" stroke="#1a1a1a" stroke-width="0.7"/>
<line x1="431.8" y1="404" x2="434.2" y2="404" stroke="#1a1a1a" stroke-width="0.7"/>
<line x1="443.2" y1="419.5" x2="443.2" y2="437" stroke="#1a1a1a" stroke-width="0.7"/>
<line x1="442" y1="419.5" x2="444.4" y2="419.5" stroke="#1a1a1a" stroke-width="0.7"/>
<line x1="453.7" y1="404.5" x2="453.7" y2="414" stroke="#1a1a1a" stroke-width="0.7"/>
<line x1="452.5" y1="404.5" x2="454.9" y2="404.5" stroke="#1a1a1a" stroke-width="0.7"/>
<circle cx="433" cy="404" r="1.3" fill="#10284a"/>
<circle cx="432" cy="406" r="1.3" fill="#10284a"/>
<circle cx="434" cy="405" r="1.3" fill="#10284a"/>
<circle cx="433" cy="408.5" r="1.3" fill="#10284a"/>
<circle cx="443.2" cy="419.5" r="1.3" fill="#5a0c1e"/>
<circle cx="442.5" cy="422.5" r="1.3" fill="#5a0c1e"/>
<circle cx="444" cy="425" r="1.3" fill="#5a0c1e"/>
<circle cx="443" cy="429" r="1.3" fill="#5a0c1e"/>
<circle cx="442" cy="432" r="1.3" fill="#5a0c1e"/>
<circle cx="444" cy="435.5" r="1.3" fill="#5a0c1e"/>
<circle cx="453.7" cy="404.5" r="1.3" fill="#2c1036"/>
<circle cx="453" cy="407.5" r="1.3" fill="#2c1036"/>
<circle cx="454.5" cy="410" r="1.3" fill="#2c1036"/>
<circle cx="453.5" cy="412.5" r="1.3" fill="#2c1036"/>
<line x1="432.3" y1="400.2" x2="454.3" y2="400.2" stroke="#444" stroke-width="0.7"/>
<circle cx="433" cy="396.8" r="0.78" fill="#333"/>
<circle cx="435.94" cy="396.8" r="0.78" fill="#333"/>
<circle cx="438.89" cy="396.8" r="0.78" fill="#333"/>
<circle cx="441.83" cy="396.8" r="0.78" fill="#333"/>
<circle cx="444.77" cy="396.8" r="0.78" fill="#333"/>
<circle cx="447.71" cy="396.8" r="0.78" fill="#333"/>
<circle cx="450.66" cy="396.8" r="0.78" fill="#333"/>
<circle cx="453.6" cy="396.8" r="0.78" fill="#333"/>
<text x="401.6" y="433.0" font-size="7.3" fill="#2a2a2a" text-anchor="middle" transform="rotate(-90 401.6 433) scale(0.92 1)">% HLA-DR<tspan font-size="4.8" dy="-2.7">−</tspan></text>
<text x="7.3" y="494.6" font-size="11" text-anchor="start" fill="#111" font-weight="bold">L</text>
<text x="116.1" y="507.3" font-size="8.7" text-anchor="middle" fill="#2a2a2a" letter-spacing="0.2">Neutrophil Maturation</text>
<line x1="38.1" y1="512" x2="193.7" y2="512" stroke="#262626" stroke-width="1.0"/>
<text x="54.5" y="522.8" font-size="8.6" text-anchor="middle" fill="#2a2a2a" letter-spacing="0.1">PM</text>
<text x="116.4" y="522.8" font-size="8.6" text-anchor="middle" fill="#2a2a2a" letter-spacing="0.1">MC</text>
<text x="177.5" y="522.8" font-size="8.6" text-anchor="middle" fill="#2a2a2a" letter-spacing="0.1">NP</text>
<text x="14" y="565" font-size="7.0" text-anchor="middle" fill="#333" transform="rotate(-90 14 565)">Relative frequency</text>
<line x1="37.5" y1="529.5" x2="37.5" y2="601.3" stroke="#222" stroke-width="1.1"/>
<line x1="37" y1="600.8" x2="70.7" y2="600.8" stroke="#222" stroke-width="1.1"/>
<text x="31.3" y="532.9" font-size="5.9" text-anchor="end" fill="#262626" letter-spacing="0.15">60%</text>
<line x1="34.2" y1="530.8" x2="37.5" y2="530.8" stroke="#222" stroke-width="0.9"/>
<text x="31.3" y="555.1" font-size="5.9" text-anchor="end" fill="#262626" letter-spacing="0.15">40%</text>
<line x1="34.2" y1="553" x2="37.5" y2="553" stroke="#222" stroke-width="0.9"/>
<text x="31.3" y="577.3" font-size="5.9" text-anchor="end" fill="#262626" letter-spacing="0.15">20%</text>
<line x1="34.2" y1="575.2" x2="37.5" y2="575.2" stroke="#222" stroke-width="0.9"/>
<text x="31.3" y="599.9" font-size="5.9" text-anchor="end" fill="#262626" letter-spacing="0.15">0%</text>
<line x1="34.2" y1="597.8" x2="37.5" y2="597.8" stroke="#222" stroke-width="0.9"/>
<rect x="41.1" y="588.6" width="6" height="9" fill="#1d4f8a" stroke="none" stroke-width="1"/>
<rect x="51.4" y="557.4" width="6.4" height="40.2" fill="#c8102e" stroke="none" stroke-width="1"/>
<rect x="62.1" y="578" width="6.3" height="19.6" fill="#5c2a72" stroke="none" stroke-width="1"/>
<line x1="44.1" y1="584.5" x2="44.1" y2="592" stroke="#1a1a1a" stroke-width="0.7"/>
<line x1="42.9" y1="584.5" x2="45.3" y2="584.5" stroke="#1a1a1a" stroke-width="0.7"/>
<line x1="54.6" y1="541" x2="54.6" y2="572" stroke="#1a1a1a" stroke-width="0.7"/>
<line x1="53.4" y1="541" x2="55.8" y2="541" stroke="#1a1a1a" stroke-width="0.7"/>
<line x1="65.2" y1="567" x2="65.2" y2="588" stroke="#1a1a1a" stroke-width="0.7"/>
<line x1="64" y1="567" x2="66.4" y2="567" stroke="#1a1a1a" stroke-width="0.7"/>
<circle cx="44.6" cy="579.5" r="1.3" fill="#10284a"/>
<circle cx="43.5" cy="586" r="1.3" fill="#10284a"/>
<circle cx="45" cy="589.5" r="1.3" fill="#10284a"/>
<circle cx="43" cy="592.5" r="1.3" fill="#10284a"/>
<circle cx="54.6" cy="540.5" r="1.3" fill="#5a0c1e"/>
<circle cx="53.5" cy="543.5" r="1.3" fill="#5a0c1e"/>
<circle cx="55.6" cy="546.5" r="1.3" fill="#5a0c1e"/>
<circle cx="54" cy="551" r="1.3" fill="#5a0c1e"/>
<circle cx="55" cy="556" r="1.3" fill="#5a0c1e"/>
<circle cx="54" cy="562" r="1.3" fill="#5a0c1e"/>
<circle cx="55.5" cy="567" r="1.3" fill="#5a0c1e"/>
<circle cx="67.5" cy="561" r="1.3" fill="#2c1036"/>
<circle cx="65" cy="574" r="1.3" fill="#2c1036"/>
<circle cx="66" cy="576.5" r="1.3" fill="#2c1036"/>
<circle cx="64.5" cy="580" r="1.3" fill="#2c1036"/>
<circle cx="65.5" cy="584" r="1.3" fill="#2c1036"/>
<line x1="43.8" y1="535.6" x2="65.5" y2="535.6" stroke="#444" stroke-width="0.7"/>
<circle cx="44.5" cy="532.2" r="0.78" fill="#333"/>
<circle cx="47.88" cy="532.2" r="0.78" fill="#333"/>
<circle cx="51.27" cy="532.2" r="0.78" fill="#333"/>
<circle cx="54.65" cy="532.2" r="0.78" fill="#333"/>
<circle cx="61.42" cy="532.2" r="0.78" fill="#333"/>
<circle cx="64.8" cy="532.2" r="0.78" fill="#333"/>
<line x1="99.4" y1="527.7" x2="99.4" y2="601.1" stroke="#222" stroke-width="1.1"/>
<line x1="98.9" y1="600.6" x2="136.3" y2="600.6" stroke="#222" stroke-width="1.1"/>
<text x="93.2" y="541.6" font-size="5.9" text-anchor="end" fill="#262626" letter-spacing="0.15">60%</text>
<line x1="96.1" y1="539.5" x2="99.4" y2="539.5" stroke="#222" stroke-width="0.9"/>
<text x="93.2" y="560.9" font-size="5.9" text-anchor="end" fill="#262626" letter-spacing="0.15">40%</text>
<line x1="96.1" y1="558.8" x2="99.4" y2="558.8" stroke="#222" stroke-width="0.9"/>
<text x="93.2" y="580.1" font-size="5.9" text-anchor="end" fill="#262626" letter-spacing="0.15">20%</text>
<line x1="96.1" y1="578" x2="99.4" y2="578" stroke="#222" stroke-width="0.9"/>
<text x="93.2" y="599.6" font-size="5.9" text-anchor="end" fill="#262626" letter-spacing="0.15">0%</text>
<line x1="96.1" y1="597.5" x2="99.4" y2="597.5" stroke="#222" stroke-width="0.9"/>
<rect x="103" y="561.4" width="6.4" height="36" fill="#1d4f8a" stroke="none" stroke-width="1"/>
<rect x="112.9" y="557.3" width="6.7" height="40.1" fill="#c8102e" stroke="none" stroke-width="1"/>
<rect x="123.7" y="556.8" width="6.7" height="40.6" fill="#5c2a72" stroke="none" stroke-width="1"/>
<line x1="106.2" y1="553" x2="106.2" y2="570" stroke="#1a1a1a" stroke-width="0.7"/>
<line x1="105" y1="553" x2="107.4" y2="553" stroke="#1a1a1a" stroke-width="0.7"/>
<line x1="116.2" y1="549" x2="116.2" y2="566" stroke="#1a1a1a" stroke-width="0.7"/>
<line x1="115" y1="549" x2="117.4" y2="549" stroke="#1a1a1a" stroke-width="0.7"/>
<line x1="127" y1="549" x2="127" y2="565" stroke="#1a1a1a" stroke-width="0.7"/>
<line x1="125.8" y1="549" x2="128.2" y2="549" stroke="#1a1a1a" stroke-width="0.7"/>
<circle cx="106.2" cy="549" r="1.3" fill="#10284a"/>
<circle cx="106" cy="556" r="1.3" fill="#10284a"/>
<circle cx="106.5" cy="563" r="1.3" fill="#10284a"/>
<circle cx="105.5" cy="568" r="1.3" fill="#10284a"/>
<circle cx="116.2" cy="541" r="1.3" fill="#5a0c1e"/>
<circle cx="116" cy="549.5" r="1.3" fill="#5a0c1e"/>
<circle cx="117" cy="553" r="1.3" fill="#5a0c1e"/>
<circle cx="115.5" cy="560" r="1.3" fill="#5a0c1e"/>
<circle cx="116.5" cy="566" r="1.3" fill="#5a0c1e"/>
<circle cx="127" cy="541.5" r="1.3" fill="#2c1036"/>
<circle cx="127" cy="549.5" r="1.3" fill="#2c1036"/>
<circle cx="126" cy="553" r="1.3" fill="#2c1036"/>
<circle cx="127.5" cy="558" r="1.3" fill="#2c1036"/>
<circle cx="126.5" cy="563" r="1.3" fill="#2c1036"/>
<line x1="161.4" y1="527.7" x2="161.4" y2="601.1" stroke="#222" stroke-width="1.1"/>
<line x1="160.9" y1="600.6" x2="197.2" y2="600.6" stroke="#222" stroke-width="1.1"/>
<text x="155.2" y="548.6" font-size="5.9" text-anchor="end" fill="#262626" letter-spacing="0.15">60%</text>
<line x1="158.1" y1="546.5" x2="161.4" y2="546.5" stroke="#222" stroke-width="0.9"/>
<text x="155.2" y="565.3" font-size="5.9" text-anchor="end" fill="#262626" letter-spacing="0.15">40%</text>
<line x1="158.1" y1="563.2" x2="161.4" y2="563.2" stroke="#222" stroke-width="0.9"/>
<text x="155.2" y="582.3" font-size="5.9" text-anchor="end" fill="#262626" letter-spacing="0.15">20%</text>
<line x1="158.1" y1="580.2" x2="161.4" y2="580.2" stroke="#222" stroke-width="0.9"/>
<text x="155.2" y="599.3" font-size="5.9" text-anchor="end" fill="#262626" letter-spacing="0.15">0%</text>
<line x1="158.1" y1="597.2" x2="161.4" y2="597.2" stroke="#222" stroke-width="0.9"/>
<rect x="164" y="550.6" width="6.2" height="46.6" fill="#1d4f8a" stroke="none" stroke-width="1"/>
<rect x="174.3" y="578" width="6.4" height="19.2" fill="#c8102e" stroke="none" stroke-width="1"/>
<rect x="184.8" y="562.7" width="6.4" height="34.5" fill="#5c2a72" stroke="none" stroke-width="1"/>
<line x1="167.1" y1="544" x2="167.1" y2="557" stroke="#1a1a1a" stroke-width="0.7"/>
<line x1="165.9" y1="544" x2="168.3" y2="544" stroke="#1a1a1a" stroke-width="0.7"/>
<line x1="177.5" y1="572" x2="177.5" y2="585" stroke="#1a1a1a" stroke-width="0.7"/>
<line x1="176.3" y1="572" x2="178.7" y2="572" stroke="#1a1a1a" stroke-width="0.7"/>
<line x1="188" y1="553" x2="188" y2="573" stroke="#1a1a1a" stroke-width="0.7"/>
<line x1="186.8" y1="553" x2="189.2" y2="553" stroke="#1a1a1a" stroke-width="0.7"/>
<circle cx="167.1" cy="540" r="1.3" fill="#10284a"/>
<circle cx="167.5" cy="549" r="1.3" fill="#10284a"/>
<circle cx="166.5" cy="556" r="1.3" fill="#10284a"/>
<circle cx="177.5" cy="566.5" r="1.3" fill="#5a0c1e"/>
<circle cx="177" cy="575" r="1.3" fill="#5a0c1e"/>
<circle cx="178" cy="579" r="1.3" fill="#5a0c1e"/>
<circle cx="177" cy="583" r="1.3" fill="#5a0c1e"/>
<circle cx="178" cy="587" r="1.3" fill="#5a0c1e"/>
<circle cx="188" cy="545" r="1.3" fill="#2c1036"/>
<circle cx="188.5" cy="551" r="1.3" fill="#2c1036"/>
<circle cx="187.5" cy="557" r="1.3" fill="#2c1036"/>
<circle cx="188" cy="566" r="1.3" fill="#2c1036"/>
<circle cx="187.5" cy="572" r="1.3" fill="#2c1036"/>
<line x1="165.4" y1="534.4" x2="186.4" y2="534.4" stroke="#444" stroke-width="0.7"/>
<circle cx="166.1" cy="531" r="0.78" fill="#333"/>
<circle cx="169.37" cy="531" r="0.78" fill="#333"/>
<circle cx="172.63" cy="531" r="0.78" fill="#333"/>
<circle cx="175.9" cy="531" r="0.78" fill="#333"/>
<circle cx="182.43" cy="531" r="0.78" fill="#333"/>
<circle cx="185.7" cy="531" r="0.78" fill="#333"/>
<rect x="35.2" y="608.6" width="6" height="5.8" fill="#1d4f8a" stroke="none" stroke-width="1"/>
<text x="44.8" y="613.2" font-size="6.4" fill="#3a3a3a"><tspan font-style="italic">AAVS1</tspan><tspan font-size="4.2" dy="-2.6">−/−</tspan><tspan dy="2.6"> ctrl LV</tspan></text>
<rect x="95.4" y="608.6" width="5.8" height="5.8" fill="#c8102e" stroke="none" stroke-width="1"/>
<text x="103.2" y="613.2" font-size="6.4" fill="#3a3a3a"><tspan font-style="italic">AK2</tspan><tspan font-size="4.2" dy="-2.6">−/−</tspan><tspan dy="2.6"> ctrl LV</tspan></text>
<rect x="147.9" y="608.6" width="5.8" height="5.8" fill="#5c2a72" stroke="none" stroke-width="1"/>
<text x="156.2" y="613.2" font-size="6.4" fill="#3a3a3a"><tspan font-style="italic">AK2</tspan><tspan font-size="4.2" dy="-2.6">−/−</tspan><tspan dy="2.6"> AK2 LV</tspan></text>
<text x="209.6" y="494.6" font-size="11" text-anchor="start" fill="#111" font-weight="bold">M</text>
<text x="255.4" y="522.8" font-size="8.6" text-anchor="middle" fill="#2a2a2a" letter-spacing="0.1">Proliferation</text>
<text x="215.8" y="565" font-size="7.0" text-anchor="middle" fill="#333" transform="rotate(-90 215.8 565)">Fold expansion</text>
<line x1="238.75" y1="528.75" x2="238.75" y2="601.1" stroke="#222" stroke-width="1.1"/>
<line x1="238.25" y1="600.6" x2="272" y2="600.6" stroke="#222" stroke-width="1.1"/>
<text x="232.55" y="546.6" font-size="5.9" text-anchor="end" fill="#262626" letter-spacing="0.15">150</text>
<line x1="235.45" y1="544.5" x2="238.75" y2="544.5" stroke="#222" stroke-width="0.9"/>
<text x="232.55" y="564.6" font-size="5.9" text-anchor="end" fill="#262626" letter-spacing="0.15">100</text>
<line x1="235.45" y1="562.5" x2="238.75" y2="562.5" stroke="#222" stroke-width="0.9"/>
<text x="232.55" y="582.1" font-size="5.9" text-anchor="end" fill="#262626" letter-spacing="0.15">50</text>
<line x1="235.45" y1="580" x2="238.75" y2="580" stroke="#222" stroke-width="0.9"/>
<text x="232.55" y="599.6" font-size="5.9" text-anchor="end" fill="#262626" letter-spacing="0.15">0</text>
<line x1="235.45" y1="597.5" x2="238.75" y2="597.5" stroke="#222" stroke-width="0.9"/>
<rect x="242" y="549.5" width="6.2" height="47.9" fill="#1d4f8a" stroke="none" stroke-width="1"/>
<rect x="252.5" y="588" width="6.3" height="9.4" fill="#c8102e" stroke="none" stroke-width="1"/>
<rect x="263" y="578.8" width="6.5" height="18.6" fill="#5c2a72" stroke="none" stroke-width="1"/>
<line x1="245.1" y1="540" x2="245.1" y2="558" stroke="#1a1a1a" stroke-width="0.7"/>
<line x1="243.9" y1="540" x2="246.3" y2="540" stroke="#1a1a1a" stroke-width="0.7"/>
<line x1="255.6" y1="584" x2="255.6" y2="592" stroke="#1a1a1a" stroke-width="0.7"/>
<line x1="254.4" y1="584" x2="256.8" y2="584" stroke="#1a1a1a" stroke-width="0.7"/>
<line x1="266.2" y1="572" x2="266.2" y2="585" stroke="#1a1a1a" stroke-width="0.7"/>
<line x1="265" y1="572" x2="267.4" y2="572" stroke="#1a1a1a" stroke-width="0.7"/>
<circle cx="245.1" cy="539" r="1.3" fill="#10284a"/>
<circle cx="244.5" cy="541.5" r="1.3" fill="#10284a"/>
<circle cx="245.5" cy="543.5" r="1.3" fill="#10284a"/>
<circle cx="245" cy="546" r="1.3" fill="#10284a"/>
<circle cx="244.5" cy="551" r="1.3" fill="#10284a"/>
<circle cx="255.6" cy="584.5" r="1.3" fill="#5a0c1e"/>
<circle cx="255" cy="587" r="1.3" fill="#5a0c1e"/>
<circle cx="256" cy="589" r="1.3" fill="#5a0c1e"/>
<circle cx="266.2" cy="572.5" r="1.3" fill="#2c1036"/>
<circle cx="266" cy="575.5" r="1.3" fill="#2c1036"/>
<circle cx="266.5" cy="578" r="1.3" fill="#2c1036"/>
<circle cx="265.8" cy="581" r="1.3" fill="#2c1036"/>
<line x1="245" y1="535.5" x2="266.3" y2="535.5" stroke="#444" stroke-width="0.7"/>
<circle cx="245.7" cy="532.1" r="0.78" fill="#333"/>
<circle cx="248.54" cy="532.1" r="0.78" fill="#333"/>
<circle cx="251.39" cy="532.1" r="0.78" fill="#333"/>
<circle cx="257.07" cy="532.1" r="0.78" fill="#333"/>
<circle cx="259.91" cy="532.1" r="0.78" fill="#333"/>
<circle cx="262.76" cy="532.1" r="0.78" fill="#333"/>
<circle cx="265.6" cy="532.1" r="0.78" fill="#333"/>
<rect x="0.5" y="0.5" width="519" height="622" fill="none" stroke="#6e6e6e" stroke-width="1"/>
<line x1="519.5" y1="0" x2="519.5" y2="623" stroke="#555" stroke-width="1"/>
<line x1="0" y1="622.5" x2="520" y2="622.5" stroke="#555" stroke-width="1"/>
</svg>
</body></html>
